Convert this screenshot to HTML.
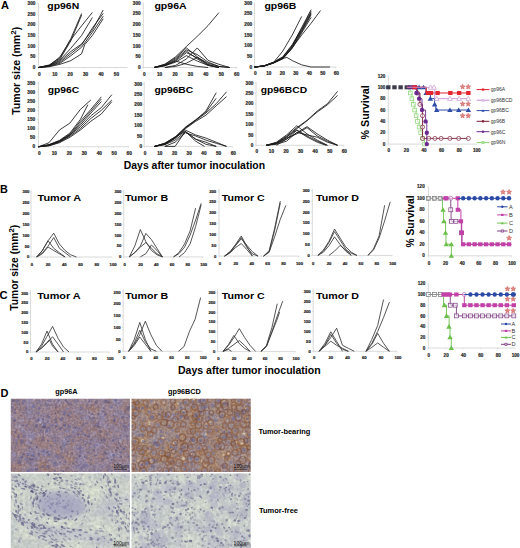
<!DOCTYPE html><html><head><meta charset="utf-8"><style>html,body{margin:0;padding:0;background:#fff;overflow:hidden}svg{display:block}</style></head><body>
<svg width="520" height="548" viewBox="0 0 520 548" font-family='"Liberation Sans", sans-serif'>
<rect width="520" height="548" fill="#fff"/>
<text x="1.00" y="9.10" font-size="11" font-weight="bold" fill="#000">A</text>
<text x="0.00" y="192.90" font-size="10.8" font-weight="bold" fill="#000">B</text>
<text x="-0.50" y="298.70" font-size="11.2" font-weight="bold" fill="#000">C</text>
<text x="0.60" y="396.90" font-size="11" font-weight="bold" fill="#000">D</text>
<text transform="translate(19.5 70.8) rotate(-90)" font-size="10.0" font-weight="bold" text-anchor="middle" textLength="88" lengthAdjust="spacingAndGlyphs">Tumor size (mm<tspan font-size="7.6" dy="-3.6">2</tspan><tspan dy="3.6">)</tspan></text>
<text transform="translate(17.9 267.8) rotate(-90)" font-size="10.0" font-weight="bold" text-anchor="middle" textLength="86" lengthAdjust="spacingAndGlyphs">Tumor size (mm<tspan font-size="7.6" dy="-3.6">2</tspan><tspan dy="3.6">)</tspan></text>
<text x="123.80" y="168.70" font-size="10.4" font-weight="bold" fill="#000" textLength="141.2" lengthAdjust="spacingAndGlyphs">Days after tumor inoculation</text>
<text x="178.00" y="373.90" font-size="10.4" font-weight="bold" fill="#000" textLength="142.6" lengthAdjust="spacingAndGlyphs">Days after tumor inoculation</text>
<path d="M38.50 3.00V67.50H127.50" fill="none" stroke="#d0d0d0" stroke-width="0.8"/>
<path d="M37.30 67.50h1.2M37.30 56.81h1.2M37.30 46.13h1.2M37.30 35.45h1.2M37.30 24.76h1.2M37.30 14.08h1.2M37.30 3.39h1.2M38.50 67.50v1.2M53.90 67.50v1.2M69.30 67.50v1.2M84.70 67.50v1.2M100.10 67.50v1.2M115.50 67.50v1.2" stroke="#d0d0d0" stroke-width="0.6"/>
<text x="35.40" y="69.10" font-size="4.7" font-weight="bold" text-anchor="end" fill="#2a2a2a" stroke="#2a2a2a" stroke-width="0.22">0</text>
<text x="35.40" y="58.41" font-size="4.7" font-weight="bold" text-anchor="end" fill="#2a2a2a" stroke="#2a2a2a" stroke-width="0.22">50</text>
<text x="35.40" y="47.73" font-size="4.7" font-weight="bold" text-anchor="end" fill="#2a2a2a" stroke="#2a2a2a" stroke-width="0.22">100</text>
<text x="35.40" y="37.04" font-size="4.7" font-weight="bold" text-anchor="end" fill="#2a2a2a" stroke="#2a2a2a" stroke-width="0.22">150</text>
<text x="35.40" y="26.36" font-size="4.7" font-weight="bold" text-anchor="end" fill="#2a2a2a" stroke="#2a2a2a" stroke-width="0.22">200</text>
<text x="35.40" y="15.67" font-size="4.7" font-weight="bold" text-anchor="end" fill="#2a2a2a" stroke="#2a2a2a" stroke-width="0.22">250</text>
<text x="35.40" y="4.99" font-size="4.7" font-weight="bold" text-anchor="end" fill="#2a2a2a" stroke="#2a2a2a" stroke-width="0.22">300</text>
<text x="39.40" y="75.60" font-size="4.7" font-weight="bold" text-anchor="middle" fill="#2a2a2a" stroke="#2a2a2a" stroke-width="0.22">0</text>
<text x="54.80" y="75.60" font-size="4.7" font-weight="bold" text-anchor="middle" fill="#2a2a2a" stroke="#2a2a2a" stroke-width="0.22">10</text>
<text x="70.20" y="75.60" font-size="4.7" font-weight="bold" text-anchor="middle" fill="#2a2a2a" stroke="#2a2a2a" stroke-width="0.22">20</text>
<text x="85.60" y="75.60" font-size="4.7" font-weight="bold" text-anchor="middle" fill="#2a2a2a" stroke="#2a2a2a" stroke-width="0.22">30</text>
<text x="101.00" y="75.60" font-size="4.7" font-weight="bold" text-anchor="middle" fill="#2a2a2a" stroke="#2a2a2a" stroke-width="0.22">40</text>
<text x="116.40" y="75.60" font-size="4.7" font-weight="bold" text-anchor="middle" fill="#2a2a2a" stroke="#2a2a2a" stroke-width="0.22">50</text>
<text x="47.30" y="8.80" font-size="9.5" font-weight="bold" fill="#000" textLength="31.9" lengthAdjust="spacingAndGlyphs">gp96N</text>
<polyline points="38.50,67.50 49.28,64.94 60.06,57.88 70.84,38.65 81.62,13.43" fill="none" stroke="#1a1a1a" stroke-width="0.85" stroke-linejoin="round"/>
<polyline points="38.50,67.50 49.28,65.36 60.06,58.95 70.84,40.79 81.62,15.14" fill="none" stroke="#1a1a1a" stroke-width="0.85" stroke-linejoin="round"/>
<polyline points="38.50,67.50 49.28,65.36 60.06,56.81 70.84,39.72 81.62,25.83 92.40,12.37" fill="none" stroke="#1a1a1a" stroke-width="0.85" stroke-linejoin="round"/>
<polyline points="38.50,67.50 49.28,65.79 60.06,60.02 70.84,48.27 81.62,35.45 92.40,17.49" fill="none" stroke="#1a1a1a" stroke-width="0.85" stroke-linejoin="round"/>
<polyline points="38.50,67.50 49.28,65.79 60.06,61.09 70.84,51.47 81.62,43.99 92.40,30.10 103.18,10.01" fill="none" stroke="#1a1a1a" stroke-width="0.85" stroke-linejoin="round"/>
<polyline points="38.50,67.50 49.28,66.22 60.06,62.16 70.84,53.61 81.62,45.06 92.40,27.97 103.18,13.43" fill="none" stroke="#1a1a1a" stroke-width="0.85" stroke-linejoin="round"/>
<polyline points="38.50,67.50 49.28,66.43 60.06,63.23 70.84,55.75 81.62,47.20 92.40,32.24 103.18,16.21" fill="none" stroke="#1a1a1a" stroke-width="0.85" stroke-linejoin="round"/>
<polyline points="38.50,67.50 49.28,66.65 60.06,64.29 70.84,60.66 81.62,53.82 84.70,44.63 92.40,35.45 103.18,18.78" fill="none" stroke="#1a1a1a" stroke-width="0.85" stroke-linejoin="round"/>
<path d="M143.30 3.00V67.50H237.50" fill="none" stroke="#d0d0d0" stroke-width="0.8"/>
<path d="M142.10 67.50h1.2M142.10 56.75h1.2M142.10 46.00h1.2M142.10 35.25h1.2M142.10 24.50h1.2M142.10 13.75h1.2M142.10 3.00h1.2M143.30 67.50v1.2M158.72 67.50v1.2M174.14 67.50v1.2M189.56 67.50v1.2M204.98 67.50v1.2M220.40 67.50v1.2M235.82 67.50v1.2" stroke="#d0d0d0" stroke-width="0.6"/>
<text x="140.70" y="69.10" font-size="4.7" font-weight="bold" text-anchor="end" fill="#2a2a2a" stroke="#2a2a2a" stroke-width="0.22">0</text>
<text x="140.70" y="58.35" font-size="4.7" font-weight="bold" text-anchor="end" fill="#2a2a2a" stroke="#2a2a2a" stroke-width="0.22">50</text>
<text x="140.70" y="47.60" font-size="4.7" font-weight="bold" text-anchor="end" fill="#2a2a2a" stroke="#2a2a2a" stroke-width="0.22">100</text>
<text x="140.70" y="36.85" font-size="4.7" font-weight="bold" text-anchor="end" fill="#2a2a2a" stroke="#2a2a2a" stroke-width="0.22">150</text>
<text x="140.70" y="26.10" font-size="4.7" font-weight="bold" text-anchor="end" fill="#2a2a2a" stroke="#2a2a2a" stroke-width="0.22">200</text>
<text x="140.70" y="15.35" font-size="4.7" font-weight="bold" text-anchor="end" fill="#2a2a2a" stroke="#2a2a2a" stroke-width="0.22">250</text>
<text x="140.70" y="4.60" font-size="4.7" font-weight="bold" text-anchor="end" fill="#2a2a2a" stroke="#2a2a2a" stroke-width="0.22">300</text>
<text x="144.20" y="75.60" font-size="4.7" font-weight="bold" text-anchor="middle" fill="#2a2a2a" stroke="#2a2a2a" stroke-width="0.22">0</text>
<text x="159.62" y="75.60" font-size="4.7" font-weight="bold" text-anchor="middle" fill="#2a2a2a" stroke="#2a2a2a" stroke-width="0.22">10</text>
<text x="175.04" y="75.60" font-size="4.7" font-weight="bold" text-anchor="middle" fill="#2a2a2a" stroke="#2a2a2a" stroke-width="0.22">20</text>
<text x="190.46" y="75.60" font-size="4.7" font-weight="bold" text-anchor="middle" fill="#2a2a2a" stroke="#2a2a2a" stroke-width="0.22">30</text>
<text x="205.88" y="75.60" font-size="4.7" font-weight="bold" text-anchor="middle" fill="#2a2a2a" stroke="#2a2a2a" stroke-width="0.22">40</text>
<text x="221.30" y="75.60" font-size="4.7" font-weight="bold" text-anchor="middle" fill="#2a2a2a" stroke="#2a2a2a" stroke-width="0.22">50</text>
<text x="236.72" y="75.60" font-size="4.7" font-weight="bold" text-anchor="middle" fill="#2a2a2a" stroke="#2a2a2a" stroke-width="0.22">60</text>
<text x="154.40" y="8.80" font-size="9.5" font-weight="bold" fill="#000" textLength="32.3" lengthAdjust="spacingAndGlyphs">gp96A</text>
<polyline points="154.09,67.50 164.89,64.28 175.68,56.75 186.48,46.43 197.27,36.33 208.06,25.58 218.86,12.68" fill="none" stroke="#1a1a1a" stroke-width="0.85" stroke-linejoin="round"/>
<polyline points="154.09,67.50 164.89,64.28 175.68,57.83 186.48,47.94 197.27,56.75 208.06,64.92 218.86,67.50" fill="none" stroke="#1a1a1a" stroke-width="0.85" stroke-linejoin="round"/>
<polyline points="154.09,67.50 164.89,64.92 175.68,58.90 186.48,49.87 197.27,54.60 208.06,62.12 218.86,66.42 229.65,67.50" fill="none" stroke="#1a1a1a" stroke-width="0.85" stroke-linejoin="round"/>
<polyline points="154.09,67.50 164.89,65.35 175.68,59.98 186.48,51.16 197.27,58.90 208.06,65.35 218.86,67.50" fill="none" stroke="#1a1a1a" stroke-width="0.85" stroke-linejoin="round"/>
<polyline points="154.09,67.50 164.89,65.78 175.68,61.05 186.48,52.66 197.27,57.83 208.06,64.28 218.86,67.50" fill="none" stroke="#1a1a1a" stroke-width="0.85" stroke-linejoin="round"/>
<polyline points="164.89,67.50 175.68,65.35 186.48,58.90 197.27,47.94 208.06,60.41 218.86,64.28 229.65,67.50" fill="none" stroke="#1a1a1a" stroke-width="0.85" stroke-linejoin="round"/>
<polyline points="154.09,67.50 164.89,65.35 175.68,61.05 186.48,64.28 197.27,66.42 208.06,67.50" fill="none" stroke="#1a1a1a" stroke-width="0.85" stroke-linejoin="round"/>
<polyline points="164.89,67.50 175.68,66.42 186.48,63.20 197.27,57.39 208.06,63.20 218.86,66.42 229.65,67.50" fill="none" stroke="#1a1a1a" stroke-width="0.85" stroke-linejoin="round"/>
<polyline points="154.09,67.50 164.89,65.78 175.68,62.12 186.48,55.67 197.27,61.05 208.06,65.35 218.86,67.50" fill="none" stroke="#1a1a1a" stroke-width="0.85" stroke-linejoin="round"/>
<path d="M254.50 3.00V67.00H336.50" fill="none" stroke="#d0d0d0" stroke-width="0.8"/>
<path d="M253.30 67.00h1.2M253.30 56.34h1.2M253.30 45.67h1.2M253.30 35.01h1.2M253.30 24.34h1.2M253.30 13.68h1.2M253.30 3.01h1.2M254.50 67.00v1.2M267.98 67.00v1.2M281.46 67.00v1.2M294.94 67.00v1.2M308.42 67.00v1.2M321.90 67.00v1.2M335.38 67.00v1.2" stroke="#d0d0d0" stroke-width="0.6"/>
<text x="252.20" y="68.60" font-size="4.7" font-weight="bold" text-anchor="end" fill="#2a2a2a" stroke="#2a2a2a" stroke-width="0.22">0</text>
<text x="252.20" y="57.93" font-size="4.7" font-weight="bold" text-anchor="end" fill="#2a2a2a" stroke="#2a2a2a" stroke-width="0.22">50</text>
<text x="252.20" y="47.27" font-size="4.7" font-weight="bold" text-anchor="end" fill="#2a2a2a" stroke="#2a2a2a" stroke-width="0.22">100</text>
<text x="252.20" y="36.60" font-size="4.7" font-weight="bold" text-anchor="end" fill="#2a2a2a" stroke="#2a2a2a" stroke-width="0.22">150</text>
<text x="252.20" y="25.94" font-size="4.7" font-weight="bold" text-anchor="end" fill="#2a2a2a" stroke="#2a2a2a" stroke-width="0.22">200</text>
<text x="252.20" y="15.27" font-size="4.7" font-weight="bold" text-anchor="end" fill="#2a2a2a" stroke="#2a2a2a" stroke-width="0.22">250</text>
<text x="252.20" y="4.61" font-size="4.7" font-weight="bold" text-anchor="end" fill="#2a2a2a" stroke="#2a2a2a" stroke-width="0.22">300</text>
<text x="255.40" y="75.10" font-size="4.7" font-weight="bold" text-anchor="middle" fill="#2a2a2a" stroke="#2a2a2a" stroke-width="0.22">0</text>
<text x="268.88" y="75.10" font-size="4.7" font-weight="bold" text-anchor="middle" fill="#2a2a2a" stroke="#2a2a2a" stroke-width="0.22">10</text>
<text x="282.36" y="75.10" font-size="4.7" font-weight="bold" text-anchor="middle" fill="#2a2a2a" stroke="#2a2a2a" stroke-width="0.22">20</text>
<text x="295.84" y="75.10" font-size="4.7" font-weight="bold" text-anchor="middle" fill="#2a2a2a" stroke="#2a2a2a" stroke-width="0.22">30</text>
<text x="309.32" y="75.10" font-size="4.7" font-weight="bold" text-anchor="middle" fill="#2a2a2a" stroke="#2a2a2a" stroke-width="0.22">40</text>
<text x="322.80" y="75.10" font-size="4.7" font-weight="bold" text-anchor="middle" fill="#2a2a2a" stroke="#2a2a2a" stroke-width="0.22">50</text>
<text x="336.28" y="75.10" font-size="4.7" font-weight="bold" text-anchor="middle" fill="#2a2a2a" stroke="#2a2a2a" stroke-width="0.22">60</text>
<text x="264.40" y="8.50" font-size="9.5" font-weight="bold" fill="#000" textLength="32.0" lengthAdjust="spacingAndGlyphs">gp96B</text>
<polyline points="254.50,67.00 263.94,65.93 273.37,62.73 282.81,51.00 292.24,35.01 301.68,16.45" fill="none" stroke="#1a1a1a" stroke-width="0.85" stroke-linejoin="round"/>
<polyline points="254.50,67.00 263.94,65.93 273.37,62.31 282.81,57.40 292.24,45.67 301.68,27.54 311.12,9.62" fill="none" stroke="#1a1a1a" stroke-width="0.85" stroke-linejoin="round"/>
<polyline points="254.50,67.00 263.94,65.93 273.37,62.73 282.81,58.04 292.24,46.74 301.68,29.67 311.12,12.61" fill="none" stroke="#1a1a1a" stroke-width="0.85" stroke-linejoin="round"/>
<polyline points="254.50,67.00 263.94,66.15 273.37,63.16 282.81,58.47 292.24,47.80 301.68,31.81 311.12,14.74" fill="none" stroke="#1a1a1a" stroke-width="0.85" stroke-linejoin="round"/>
<polyline points="254.50,67.00 263.94,65.93 273.37,62.31 282.81,56.76 292.24,44.60 301.68,28.61 311.12,11.12" fill="none" stroke="#1a1a1a" stroke-width="0.85" stroke-linejoin="round"/>
<polyline points="254.50,67.00 263.94,66.15 273.37,63.16 282.81,58.89 292.24,48.23 301.68,32.87 311.12,17.30" fill="none" stroke="#1a1a1a" stroke-width="0.85" stroke-linejoin="round"/>
<polyline points="254.50,67.00 263.94,65.93 273.37,62.73 282.81,57.40 292.24,45.67 301.68,30.74 311.12,13.68" fill="none" stroke="#1a1a1a" stroke-width="0.85" stroke-linejoin="round"/>
<polyline points="254.50,67.00 263.94,65.93 273.37,62.73 282.81,58.47 292.24,47.80 301.68,35.01 311.12,23.27 320.55,10.48" fill="none" stroke="#1a1a1a" stroke-width="0.85" stroke-linejoin="round"/>
<polyline points="254.50,67.00 263.94,65.93 273.37,62.73 282.81,58.47 286.85,57.40 292.24,60.60 301.68,64.87 311.12,67.00 329.99,67.00" fill="none" stroke="#1a1a1a" stroke-width="0.85" stroke-linejoin="round"/>
<path d="M38.50 82.00V146.75H129.00" fill="none" stroke="#d0d0d0" stroke-width="0.8"/>
<path d="M37.30 146.75h1.2M37.30 137.65h1.2M37.30 128.54h1.2M37.30 119.44h1.2M37.30 110.33h1.2M37.30 101.22h1.2M37.30 92.12h1.2M37.30 83.01h1.2M38.50 146.75v1.2M53.46 146.75v1.2M68.42 146.75v1.2M83.38 146.75v1.2M98.34 146.75v1.2M113.30 146.75v1.2M128.26 146.75v1.2" stroke="#d0d0d0" stroke-width="0.6"/>
<text x="35.20" y="148.35" font-size="4.7" font-weight="bold" text-anchor="end" fill="#2a2a2a" stroke="#2a2a2a" stroke-width="0.22">0</text>
<text x="35.20" y="139.24" font-size="4.7" font-weight="bold" text-anchor="end" fill="#2a2a2a" stroke="#2a2a2a" stroke-width="0.22">50</text>
<text x="35.20" y="130.14" font-size="4.7" font-weight="bold" text-anchor="end" fill="#2a2a2a" stroke="#2a2a2a" stroke-width="0.22">100</text>
<text x="35.20" y="121.03" font-size="4.7" font-weight="bold" text-anchor="end" fill="#2a2a2a" stroke="#2a2a2a" stroke-width="0.22">150</text>
<text x="35.20" y="111.93" font-size="4.7" font-weight="bold" text-anchor="end" fill="#2a2a2a" stroke="#2a2a2a" stroke-width="0.22">200</text>
<text x="35.20" y="102.82" font-size="4.7" font-weight="bold" text-anchor="end" fill="#2a2a2a" stroke="#2a2a2a" stroke-width="0.22">250</text>
<text x="35.20" y="93.72" font-size="4.7" font-weight="bold" text-anchor="end" fill="#2a2a2a" stroke="#2a2a2a" stroke-width="0.22">300</text>
<text x="35.20" y="84.61" font-size="4.7" font-weight="bold" text-anchor="end" fill="#2a2a2a" stroke="#2a2a2a" stroke-width="0.22">350</text>
<text x="39.40" y="154.85" font-size="4.7" font-weight="bold" text-anchor="middle" fill="#2a2a2a" stroke="#2a2a2a" stroke-width="0.22">0</text>
<text x="54.36" y="154.85" font-size="4.7" font-weight="bold" text-anchor="middle" fill="#2a2a2a" stroke="#2a2a2a" stroke-width="0.22">10</text>
<text x="69.32" y="154.85" font-size="4.7" font-weight="bold" text-anchor="middle" fill="#2a2a2a" stroke="#2a2a2a" stroke-width="0.22">20</text>
<text x="84.28" y="154.85" font-size="4.7" font-weight="bold" text-anchor="middle" fill="#2a2a2a" stroke="#2a2a2a" stroke-width="0.22">30</text>
<text x="99.24" y="154.85" font-size="4.7" font-weight="bold" text-anchor="middle" fill="#2a2a2a" stroke="#2a2a2a" stroke-width="0.22">40</text>
<text x="114.20" y="154.85" font-size="4.7" font-weight="bold" text-anchor="middle" fill="#2a2a2a" stroke="#2a2a2a" stroke-width="0.22">50</text>
<text x="129.16" y="154.85" font-size="4.7" font-weight="bold" text-anchor="middle" fill="#2a2a2a" stroke="#2a2a2a" stroke-width="0.22">60</text>
<text x="47.70" y="93.00" font-size="9.5" font-weight="bold" fill="#000" textLength="31.5" lengthAdjust="spacingAndGlyphs">gp96C</text>
<polyline points="38.50,146.75 48.97,142.74 59.44,130.00 69.92,123.08 80.39,109.42 90.86,99.95" fill="none" stroke="#1a1a1a" stroke-width="0.85" stroke-linejoin="round"/>
<polyline points="38.50,146.75 48.97,144.56 59.44,140.38 69.92,133.09 80.39,119.44 87.87,104.68" fill="none" stroke="#1a1a1a" stroke-width="0.85" stroke-linejoin="round"/>
<polyline points="38.50,146.75 48.97,144.93 59.44,140.92 69.92,134.00 80.39,121.26 90.86,109.42 101.33,96.85" fill="none" stroke="#1a1a1a" stroke-width="0.85" stroke-linejoin="round"/>
<polyline points="38.50,146.75 48.97,144.93 59.44,141.29 69.92,134.91 80.39,123.08 90.86,111.24 101.33,99.04" fill="none" stroke="#1a1a1a" stroke-width="0.85" stroke-linejoin="round"/>
<polyline points="38.50,146.75 48.97,145.29 59.44,141.65 69.92,135.46 80.39,124.90 90.86,113.06 101.33,101.59" fill="none" stroke="#1a1a1a" stroke-width="0.85" stroke-linejoin="round"/>
<polyline points="38.50,146.75 48.97,145.29 59.44,141.29 69.92,134.91 80.39,126.72 90.86,115.79 101.33,107.60 111.80,94.67" fill="none" stroke="#1a1a1a" stroke-width="0.85" stroke-linejoin="round"/>
<polyline points="38.50,146.75 48.97,145.66 59.44,142.20 69.92,136.19 80.39,128.54 90.86,118.52 101.33,110.33 111.80,99.95" fill="none" stroke="#1a1a1a" stroke-width="0.85" stroke-linejoin="round"/>
<polyline points="38.50,146.75 48.97,145.84 59.44,142.74 69.92,137.28 80.39,130.00 90.86,121.26 101.33,113.97 111.80,101.59" fill="none" stroke="#1a1a1a" stroke-width="0.85" stroke-linejoin="round"/>
<path d="M144.20 82.00V146.40H232.50" fill="none" stroke="#d0d0d0" stroke-width="0.8"/>
<path d="M143.00 146.40h1.2M143.00 135.99h1.2M143.00 125.57h1.2M143.00 115.16h1.2M143.00 104.74h1.2M143.00 94.33h1.2M143.00 83.91h1.2M144.20 146.40v1.2M158.90 146.40v1.2M173.60 146.40v1.2M188.30 146.40v1.2M203.00 146.40v1.2M217.70 146.40v1.2M232.40 146.40v1.2" stroke="#d0d0d0" stroke-width="0.6"/>
<text x="142.20" y="148.00" font-size="4.7" font-weight="bold" text-anchor="end" fill="#2a2a2a" stroke="#2a2a2a" stroke-width="0.22">0</text>
<text x="142.20" y="137.58" font-size="4.7" font-weight="bold" text-anchor="end" fill="#2a2a2a" stroke="#2a2a2a" stroke-width="0.22">50</text>
<text x="142.20" y="127.17" font-size="4.7" font-weight="bold" text-anchor="end" fill="#2a2a2a" stroke="#2a2a2a" stroke-width="0.22">100</text>
<text x="142.20" y="116.75" font-size="4.7" font-weight="bold" text-anchor="end" fill="#2a2a2a" stroke="#2a2a2a" stroke-width="0.22">150</text>
<text x="142.20" y="106.34" font-size="4.7" font-weight="bold" text-anchor="end" fill="#2a2a2a" stroke="#2a2a2a" stroke-width="0.22">200</text>
<text x="142.20" y="95.92" font-size="4.7" font-weight="bold" text-anchor="end" fill="#2a2a2a" stroke="#2a2a2a" stroke-width="0.22">250</text>
<text x="142.20" y="85.51" font-size="4.7" font-weight="bold" text-anchor="end" fill="#2a2a2a" stroke="#2a2a2a" stroke-width="0.22">300</text>
<text x="145.10" y="154.50" font-size="4.7" font-weight="bold" text-anchor="middle" fill="#2a2a2a" stroke="#2a2a2a" stroke-width="0.22">0</text>
<text x="159.80" y="154.50" font-size="4.7" font-weight="bold" text-anchor="middle" fill="#2a2a2a" stroke="#2a2a2a" stroke-width="0.22">10</text>
<text x="174.50" y="154.50" font-size="4.7" font-weight="bold" text-anchor="middle" fill="#2a2a2a" stroke="#2a2a2a" stroke-width="0.22">20</text>
<text x="189.20" y="154.50" font-size="4.7" font-weight="bold" text-anchor="middle" fill="#2a2a2a" stroke="#2a2a2a" stroke-width="0.22">30</text>
<text x="203.90" y="154.50" font-size="4.7" font-weight="bold" text-anchor="middle" fill="#2a2a2a" stroke="#2a2a2a" stroke-width="0.22">40</text>
<text x="218.60" y="154.50" font-size="4.7" font-weight="bold" text-anchor="middle" fill="#2a2a2a" stroke="#2a2a2a" stroke-width="0.22">50</text>
<text x="233.30" y="154.50" font-size="4.7" font-weight="bold" text-anchor="middle" fill="#2a2a2a" stroke="#2a2a2a" stroke-width="0.22">60</text>
<text x="154.40" y="92.60" font-size="9.5" font-weight="bold" fill="#000" textLength="38.8" lengthAdjust="spacingAndGlyphs">gp96BC</text>
<polyline points="154.49,146.40 164.78,143.90 175.07,138.07 185.36,127.65 195.65,120.36 205.94,110.99 216.23,92.66" fill="none" stroke="#1a1a1a" stroke-width="0.85" stroke-linejoin="round"/>
<polyline points="154.49,146.40 164.78,143.28 175.07,137.03 185.36,127.24 195.65,119.74 205.94,112.03 216.23,98.28" fill="none" stroke="#1a1a1a" stroke-width="0.85" stroke-linejoin="round"/>
<polyline points="154.49,146.40 164.78,143.90 175.07,137.65 185.36,128.07 195.65,120.36 205.94,113.07 216.23,103.70 226.52,91.83" fill="none" stroke="#1a1a1a" stroke-width="0.85" stroke-linejoin="round"/>
<polyline points="154.49,146.40 164.78,144.32 175.07,138.48 185.36,128.69 195.65,121.40 205.94,115.16 216.23,105.78 226.52,96.62" fill="none" stroke="#1a1a1a" stroke-width="0.85" stroke-linejoin="round"/>
<polyline points="154.49,146.40 164.78,143.28 175.07,137.03 185.36,131.40 195.65,141.19 204.47,146.40" fill="none" stroke="#1a1a1a" stroke-width="0.85" stroke-linejoin="round"/>
<polyline points="164.78,146.40 175.07,146.40 185.36,131.40 195.65,139.11 205.94,142.23 216.23,146.40" fill="none" stroke="#1a1a1a" stroke-width="0.85" stroke-linejoin="round"/>
<polyline points="154.49,146.40 164.78,144.32 175.07,138.07 185.36,130.15 195.65,134.94 205.94,138.07 216.23,142.23 226.52,146.40" fill="none" stroke="#1a1a1a" stroke-width="0.85" stroke-linejoin="round"/>
<polyline points="154.49,146.40 164.78,144.73 175.07,140.15 185.36,131.82 195.65,139.11 205.94,144.32 216.23,146.40" fill="none" stroke="#1a1a1a" stroke-width="0.85" stroke-linejoin="round"/>
<polyline points="164.78,146.40 175.07,142.23 185.36,132.86 195.65,135.99 205.94,140.15 216.23,143.28 226.52,146.40" fill="none" stroke="#1a1a1a" stroke-width="0.85" stroke-linejoin="round"/>
<path d="M256.00 82.00V145.30H344.50" fill="none" stroke="#d0d0d0" stroke-width="0.8"/>
<path d="M254.80 145.30h1.2M254.80 134.92h1.2M254.80 124.53h1.2M254.80 114.15h1.2M254.80 103.76h1.2M254.80 93.38h1.2M254.80 82.99h1.2M256.00 145.30v1.2M270.57 145.30v1.2M285.14 145.30v1.2M299.71 145.30v1.2M314.28 145.30v1.2M328.85 145.30v1.2M343.42 145.30v1.2" stroke="#d0d0d0" stroke-width="0.6"/>
<text x="253.40" y="146.90" font-size="4.7" font-weight="bold" text-anchor="end" fill="#2a2a2a" stroke="#2a2a2a" stroke-width="0.22">0</text>
<text x="253.40" y="136.51" font-size="4.7" font-weight="bold" text-anchor="end" fill="#2a2a2a" stroke="#2a2a2a" stroke-width="0.22">50</text>
<text x="253.40" y="126.13" font-size="4.7" font-weight="bold" text-anchor="end" fill="#2a2a2a" stroke="#2a2a2a" stroke-width="0.22">100</text>
<text x="253.40" y="115.74" font-size="4.7" font-weight="bold" text-anchor="end" fill="#2a2a2a" stroke="#2a2a2a" stroke-width="0.22">150</text>
<text x="253.40" y="105.36" font-size="4.7" font-weight="bold" text-anchor="end" fill="#2a2a2a" stroke="#2a2a2a" stroke-width="0.22">200</text>
<text x="253.40" y="94.97" font-size="4.7" font-weight="bold" text-anchor="end" fill="#2a2a2a" stroke="#2a2a2a" stroke-width="0.22">250</text>
<text x="253.40" y="84.59" font-size="4.7" font-weight="bold" text-anchor="end" fill="#2a2a2a" stroke="#2a2a2a" stroke-width="0.22">300</text>
<text x="256.90" y="153.40" font-size="4.7" font-weight="bold" text-anchor="middle" fill="#2a2a2a" stroke="#2a2a2a" stroke-width="0.22">0</text>
<text x="271.47" y="153.40" font-size="4.7" font-weight="bold" text-anchor="middle" fill="#2a2a2a" stroke="#2a2a2a" stroke-width="0.22">10</text>
<text x="286.04" y="153.40" font-size="4.7" font-weight="bold" text-anchor="middle" fill="#2a2a2a" stroke="#2a2a2a" stroke-width="0.22">20</text>
<text x="300.61" y="153.40" font-size="4.7" font-weight="bold" text-anchor="middle" fill="#2a2a2a" stroke="#2a2a2a" stroke-width="0.22">30</text>
<text x="315.18" y="153.40" font-size="4.7" font-weight="bold" text-anchor="middle" fill="#2a2a2a" stroke="#2a2a2a" stroke-width="0.22">40</text>
<text x="329.75" y="153.40" font-size="4.7" font-weight="bold" text-anchor="middle" fill="#2a2a2a" stroke="#2a2a2a" stroke-width="0.22">50</text>
<text x="344.32" y="153.40" font-size="4.7" font-weight="bold" text-anchor="middle" fill="#2a2a2a" stroke="#2a2a2a" stroke-width="0.22">60</text>
<text x="260.80" y="93.00" font-size="9.5" font-weight="bold" fill="#000" textLength="46.3" lengthAdjust="spacingAndGlyphs">gp96BCD</text>
<polyline points="266.20,145.30 276.40,142.81 286.60,135.95 296.80,127.65 307.00,120.38 317.19,111.03 327.39,103.76 337.59,91.30" fill="none" stroke="#1a1a1a" stroke-width="0.85" stroke-linejoin="round"/>
<polyline points="266.20,145.30 276.40,143.22 286.60,136.99 296.80,128.68 307.00,120.79 317.19,112.07 327.39,104.80 337.59,95.45" fill="none" stroke="#1a1a1a" stroke-width="0.85" stroke-linejoin="round"/>
<polyline points="266.20,145.30 276.40,142.18 286.60,134.92 296.80,125.78 307.00,133.88 317.19,140.11 327.39,145.30" fill="none" stroke="#1a1a1a" stroke-width="0.85" stroke-linejoin="round"/>
<polyline points="266.20,145.30 276.40,143.22 286.60,136.99 296.80,129.93 307.00,135.95 317.19,141.15 327.39,145.30" fill="none" stroke="#1a1a1a" stroke-width="0.85" stroke-linejoin="round"/>
<polyline points="266.20,145.30 276.40,143.64 286.60,139.07 296.80,132.84 307.00,126.61 317.19,133.88 327.39,140.11 337.59,145.30" fill="none" stroke="#1a1a1a" stroke-width="0.85" stroke-linejoin="round"/>
<polyline points="266.20,145.30 276.40,143.64 286.60,138.03 296.80,133.88 307.00,127.65 317.19,135.95 327.39,141.15 337.59,145.30" fill="none" stroke="#1a1a1a" stroke-width="0.85" stroke-linejoin="round"/>
<polyline points="276.40,145.30 286.60,139.07 296.80,130.35 307.00,136.99 317.19,142.18 325.94,145.30" fill="none" stroke="#1a1a1a" stroke-width="0.85" stroke-linejoin="round"/>
<polyline points="266.20,145.30 276.40,144.26 286.60,141.15 296.80,132.42 307.00,134.92 317.19,137.20 327.39,142.18 337.59,145.30" fill="none" stroke="#1a1a1a" stroke-width="0.85" stroke-linejoin="round"/>
<path d="M31.00 190.00V257.00H112.00" fill="none" stroke="#d0d0d0" stroke-width="0.8"/>
<path d="M29.80 257.00h1.2M29.80 246.16h1.2M29.80 235.33h1.2M29.80 224.50h1.2M29.80 213.66h1.2M29.80 202.82h1.2M29.80 191.99h1.2M31.00 257.00v1.2M47.23 257.00v1.2M63.46 257.00v1.2M79.69 257.00v1.2M95.92 257.00v1.2M112.15 257.00v1.2" stroke="#d0d0d0" stroke-width="0.6"/>
<text x="29.30" y="258.41" font-size="4.15" font-weight="bold" text-anchor="end" fill="#2a2a2a" stroke="#2a2a2a" stroke-width="0.22">0</text>
<text x="29.30" y="247.58" font-size="4.15" font-weight="bold" text-anchor="end" fill="#2a2a2a" stroke="#2a2a2a" stroke-width="0.22">50</text>
<text x="29.30" y="236.74" font-size="4.15" font-weight="bold" text-anchor="end" fill="#2a2a2a" stroke="#2a2a2a" stroke-width="0.22">100</text>
<text x="29.30" y="225.91" font-size="4.15" font-weight="bold" text-anchor="end" fill="#2a2a2a" stroke="#2a2a2a" stroke-width="0.22">150</text>
<text x="29.30" y="215.07" font-size="4.15" font-weight="bold" text-anchor="end" fill="#2a2a2a" stroke="#2a2a2a" stroke-width="0.22">200</text>
<text x="29.30" y="204.24" font-size="4.15" font-weight="bold" text-anchor="end" fill="#2a2a2a" stroke="#2a2a2a" stroke-width="0.22">250</text>
<text x="29.30" y="193.40" font-size="4.15" font-weight="bold" text-anchor="end" fill="#2a2a2a" stroke="#2a2a2a" stroke-width="0.22">300</text>
<text x="31.90" y="266.10" font-size="4.15" font-weight="bold" text-anchor="middle" fill="#2a2a2a" stroke="#2a2a2a" stroke-width="0.22">0</text>
<text x="48.13" y="266.10" font-size="4.15" font-weight="bold" text-anchor="middle" fill="#2a2a2a" stroke="#2a2a2a" stroke-width="0.22">20</text>
<text x="64.36" y="266.10" font-size="4.15" font-weight="bold" text-anchor="middle" fill="#2a2a2a" stroke="#2a2a2a" stroke-width="0.22">40</text>
<text x="80.59" y="266.10" font-size="4.15" font-weight="bold" text-anchor="middle" fill="#2a2a2a" stroke="#2a2a2a" stroke-width="0.22">60</text>
<text x="96.82" y="266.10" font-size="4.15" font-weight="bold" text-anchor="middle" fill="#2a2a2a" stroke="#2a2a2a" stroke-width="0.22">80</text>
<text x="113.05" y="266.10" font-size="4.15" font-weight="bold" text-anchor="middle" fill="#2a2a2a" stroke="#2a2a2a" stroke-width="0.22">100</text>
<text x="37.60" y="201.40" font-size="9.2" font-weight="bold" fill="#000" textLength="43.5" lengthAdjust="spacingAndGlyphs">Tumor A</text>
<polyline points="36.68,257.00 42.36,250.50 48.04,240.75 53.72,233.16 59.40,244.00 65.08,250.50 70.76,254.83 76.44,257.00" fill="none" stroke="#383838" stroke-width="0.85" stroke-linejoin="round"/>
<polyline points="36.68,257.00 42.36,252.67 48.04,246.16 53.72,237.50 59.40,248.33 65.08,252.67 70.76,257.00" fill="none" stroke="#383838" stroke-width="0.85" stroke-linejoin="round"/>
<polyline points="36.68,257.00 42.36,250.50 48.04,240.75 53.72,248.33 59.40,252.67 65.08,257.00" fill="none" stroke="#383838" stroke-width="0.85" stroke-linejoin="round"/>
<polyline points="36.68,257.00 42.36,253.75 48.04,247.03 53.72,250.50 59.40,253.75 65.08,257.00" fill="none" stroke="#383838" stroke-width="0.85" stroke-linejoin="round"/>
<path d="M123.75 190.00V256.90H203.50" fill="none" stroke="#d0d0d0" stroke-width="0.8"/>
<path d="M122.55 256.90h1.2M122.55 246.05h1.2M122.55 235.20h1.2M122.55 224.35h1.2M122.55 213.50h1.2M122.55 202.65h1.2M122.55 191.80h1.2M123.75 256.90v1.2M139.55 256.90v1.2M155.35 256.90v1.2M171.15 256.90v1.2M186.95 256.90v1.2M202.75 256.90v1.2" stroke="#d0d0d0" stroke-width="0.6"/>
<text x="121.40" y="258.31" font-size="4.15" font-weight="bold" text-anchor="end" fill="#2a2a2a" stroke="#2a2a2a" stroke-width="0.22">0</text>
<text x="121.40" y="247.46" font-size="4.15" font-weight="bold" text-anchor="end" fill="#2a2a2a" stroke="#2a2a2a" stroke-width="0.22">50</text>
<text x="121.40" y="236.61" font-size="4.15" font-weight="bold" text-anchor="end" fill="#2a2a2a" stroke="#2a2a2a" stroke-width="0.22">100</text>
<text x="121.40" y="225.76" font-size="4.15" font-weight="bold" text-anchor="end" fill="#2a2a2a" stroke="#2a2a2a" stroke-width="0.22">150</text>
<text x="121.40" y="214.91" font-size="4.15" font-weight="bold" text-anchor="end" fill="#2a2a2a" stroke="#2a2a2a" stroke-width="0.22">200</text>
<text x="121.40" y="204.06" font-size="4.15" font-weight="bold" text-anchor="end" fill="#2a2a2a" stroke="#2a2a2a" stroke-width="0.22">250</text>
<text x="121.40" y="193.21" font-size="4.15" font-weight="bold" text-anchor="end" fill="#2a2a2a" stroke="#2a2a2a" stroke-width="0.22">300</text>
<text x="124.65" y="266.00" font-size="4.15" font-weight="bold" text-anchor="middle" fill="#2a2a2a" stroke="#2a2a2a" stroke-width="0.22">0</text>
<text x="140.45" y="266.00" font-size="4.15" font-weight="bold" text-anchor="middle" fill="#2a2a2a" stroke="#2a2a2a" stroke-width="0.22">20</text>
<text x="156.25" y="266.00" font-size="4.15" font-weight="bold" text-anchor="middle" fill="#2a2a2a" stroke="#2a2a2a" stroke-width="0.22">40</text>
<text x="172.05" y="266.00" font-size="4.15" font-weight="bold" text-anchor="middle" fill="#2a2a2a" stroke="#2a2a2a" stroke-width="0.22">60</text>
<text x="187.85" y="266.00" font-size="4.15" font-weight="bold" text-anchor="middle" fill="#2a2a2a" stroke="#2a2a2a" stroke-width="0.22">80</text>
<text x="203.65" y="266.00" font-size="4.15" font-weight="bold" text-anchor="middle" fill="#2a2a2a" stroke="#2a2a2a" stroke-width="0.22">100</text>
<text x="125.10" y="200.70" font-size="9.2" font-weight="bold" fill="#000" textLength="43.0" lengthAdjust="spacingAndGlyphs">Tumor B</text>
<polyline points="129.28,256.90 134.81,246.05 140.34,229.56 145.87,241.71 151.40,250.39 156.93,254.73 162.46,256.90" fill="none" stroke="#383838" stroke-width="0.85" stroke-linejoin="round"/>
<polyline points="129.28,256.90 134.81,252.56 140.34,246.05 145.87,233.46 151.40,239.54 156.93,248.22 162.46,256.90" fill="none" stroke="#383838" stroke-width="0.85" stroke-linejoin="round"/>
<polyline points="129.28,256.90 134.81,252.56 140.34,247.13 145.87,242.58 151.40,248.22 156.93,253.64 162.46,256.90" fill="none" stroke="#383838" stroke-width="0.85" stroke-linejoin="round"/>
<polyline points="140.34,256.90 145.87,253.64 151.40,244.96 156.93,250.39 162.46,256.90" fill="none" stroke="#383838" stroke-width="0.85" stroke-linejoin="round"/>
<polyline points="173.52,256.90 179.05,252.56 184.58,243.88 190.11,230.86 195.64,208.07" fill="none" stroke="#383838" stroke-width="0.85" stroke-linejoin="round"/>
<polyline points="173.52,256.90 179.05,253.64 184.58,247.13 190.11,235.20 195.64,220.01 201.17,203.30" fill="none" stroke="#383838" stroke-width="0.85" stroke-linejoin="round"/>
<polyline points="179.05,256.90 184.58,252.56 190.11,243.88 195.64,226.52 201.17,204.82" fill="none" stroke="#383838" stroke-width="0.85" stroke-linejoin="round"/>
<path d="M219.00 189.00V256.10H299.50" fill="none" stroke="#d0d0d0" stroke-width="0.8"/>
<path d="M217.80 256.10h1.2M217.80 245.27h1.2M217.80 234.43h1.2M217.80 223.60h1.2M217.80 212.76h1.2M217.80 201.93h1.2M217.80 191.09h1.2M219.00 256.10v1.2M234.92 256.10v1.2M250.84 256.10v1.2M266.76 256.10v1.2M282.68 256.10v1.2M298.60 256.10v1.2" stroke="#d0d0d0" stroke-width="0.6"/>
<text x="216.20" y="257.51" font-size="4.15" font-weight="bold" text-anchor="end" fill="#2a2a2a" stroke="#2a2a2a" stroke-width="0.22">0</text>
<text x="216.20" y="246.68" font-size="4.15" font-weight="bold" text-anchor="end" fill="#2a2a2a" stroke="#2a2a2a" stroke-width="0.22">50</text>
<text x="216.20" y="235.84" font-size="4.15" font-weight="bold" text-anchor="end" fill="#2a2a2a" stroke="#2a2a2a" stroke-width="0.22">100</text>
<text x="216.20" y="225.01" font-size="4.15" font-weight="bold" text-anchor="end" fill="#2a2a2a" stroke="#2a2a2a" stroke-width="0.22">150</text>
<text x="216.20" y="214.17" font-size="4.15" font-weight="bold" text-anchor="end" fill="#2a2a2a" stroke="#2a2a2a" stroke-width="0.22">200</text>
<text x="216.20" y="203.34" font-size="4.15" font-weight="bold" text-anchor="end" fill="#2a2a2a" stroke="#2a2a2a" stroke-width="0.22">250</text>
<text x="216.20" y="192.50" font-size="4.15" font-weight="bold" text-anchor="end" fill="#2a2a2a" stroke="#2a2a2a" stroke-width="0.22">300</text>
<text x="219.90" y="265.20" font-size="4.15" font-weight="bold" text-anchor="middle" fill="#2a2a2a" stroke="#2a2a2a" stroke-width="0.22">0</text>
<text x="235.82" y="265.20" font-size="4.15" font-weight="bold" text-anchor="middle" fill="#2a2a2a" stroke="#2a2a2a" stroke-width="0.22">20</text>
<text x="251.74" y="265.20" font-size="4.15" font-weight="bold" text-anchor="middle" fill="#2a2a2a" stroke="#2a2a2a" stroke-width="0.22">40</text>
<text x="267.66" y="265.20" font-size="4.15" font-weight="bold" text-anchor="middle" fill="#2a2a2a" stroke="#2a2a2a" stroke-width="0.22">60</text>
<text x="283.58" y="265.20" font-size="4.15" font-weight="bold" text-anchor="middle" fill="#2a2a2a" stroke="#2a2a2a" stroke-width="0.22">80</text>
<text x="299.50" y="265.20" font-size="4.15" font-weight="bold" text-anchor="middle" fill="#2a2a2a" stroke="#2a2a2a" stroke-width="0.22">100</text>
<text x="221.80" y="201.20" font-size="9.2" font-weight="bold" fill="#000" textLength="43.0" lengthAdjust="spacingAndGlyphs">Tumor C</text>
<polyline points="224.57,256.10 230.14,251.77 235.72,244.18 241.29,235.95 246.86,246.35 252.43,256.10" fill="none" stroke="#383838" stroke-width="0.85" stroke-linejoin="round"/>
<polyline points="224.57,256.10 230.14,252.20 235.72,245.27 241.29,237.68 246.86,247.43 252.43,253.93 258.00,256.10" fill="none" stroke="#383838" stroke-width="0.85" stroke-linejoin="round"/>
<polyline points="224.57,256.10 230.14,252.85 235.72,247.43 241.29,243.53 246.86,249.60 252.43,256.10" fill="none" stroke="#383838" stroke-width="0.85" stroke-linejoin="round"/>
<polyline points="224.57,256.10 230.14,251.77 235.72,245.27 241.29,238.76 246.86,245.27 252.43,251.77 258.00,256.10" fill="none" stroke="#383838" stroke-width="0.85" stroke-linejoin="round"/>
<polyline points="263.58,256.10 269.15,250.68 274.72,227.93 280.29,201.06" fill="none" stroke="#383838" stroke-width="0.85" stroke-linejoin="round"/>
<polyline points="263.58,256.10 269.15,251.77 274.72,230.10 280.29,203.01" fill="none" stroke="#383838" stroke-width="0.85" stroke-linejoin="round"/>
<polyline points="263.58,256.10 269.15,252.20 274.72,236.60 280.29,219.26 285.86,205.39" fill="none" stroke="#383838" stroke-width="0.85" stroke-linejoin="round"/>
<path d="M312.30 189.00V255.40H392.50" fill="none" stroke="#d0d0d0" stroke-width="0.8"/>
<path d="M311.10 255.40h1.2M311.10 244.60h1.2M311.10 233.80h1.2M311.10 223.00h1.2M311.10 212.20h1.2M311.10 201.40h1.2M311.10 190.60h1.2M312.30 255.40v1.2M328.20 255.40v1.2M344.10 255.40v1.2M360.00 255.40v1.2M375.90 255.40v1.2M391.80 255.40v1.2" stroke="#d0d0d0" stroke-width="0.6"/>
<text x="309.70" y="256.81" font-size="4.15" font-weight="bold" text-anchor="end" fill="#2a2a2a" stroke="#2a2a2a" stroke-width="0.22">0</text>
<text x="309.70" y="246.01" font-size="4.15" font-weight="bold" text-anchor="end" fill="#2a2a2a" stroke="#2a2a2a" stroke-width="0.22">50</text>
<text x="309.70" y="235.21" font-size="4.15" font-weight="bold" text-anchor="end" fill="#2a2a2a" stroke="#2a2a2a" stroke-width="0.22">100</text>
<text x="309.70" y="224.41" font-size="4.15" font-weight="bold" text-anchor="end" fill="#2a2a2a" stroke="#2a2a2a" stroke-width="0.22">150</text>
<text x="309.70" y="213.61" font-size="4.15" font-weight="bold" text-anchor="end" fill="#2a2a2a" stroke="#2a2a2a" stroke-width="0.22">200</text>
<text x="309.70" y="202.81" font-size="4.15" font-weight="bold" text-anchor="end" fill="#2a2a2a" stroke="#2a2a2a" stroke-width="0.22">250</text>
<text x="309.70" y="192.01" font-size="4.15" font-weight="bold" text-anchor="end" fill="#2a2a2a" stroke="#2a2a2a" stroke-width="0.22">300</text>
<text x="313.20" y="264.50" font-size="4.15" font-weight="bold" text-anchor="middle" fill="#2a2a2a" stroke="#2a2a2a" stroke-width="0.22">0</text>
<text x="329.10" y="264.50" font-size="4.15" font-weight="bold" text-anchor="middle" fill="#2a2a2a" stroke="#2a2a2a" stroke-width="0.22">20</text>
<text x="345.00" y="264.50" font-size="4.15" font-weight="bold" text-anchor="middle" fill="#2a2a2a" stroke="#2a2a2a" stroke-width="0.22">40</text>
<text x="360.90" y="264.50" font-size="4.15" font-weight="bold" text-anchor="middle" fill="#2a2a2a" stroke="#2a2a2a" stroke-width="0.22">60</text>
<text x="376.80" y="264.50" font-size="4.15" font-weight="bold" text-anchor="middle" fill="#2a2a2a" stroke="#2a2a2a" stroke-width="0.22">80</text>
<text x="392.70" y="264.50" font-size="4.15" font-weight="bold" text-anchor="middle" fill="#2a2a2a" stroke="#2a2a2a" stroke-width="0.22">100</text>
<text x="316.00" y="201.20" font-size="9.2" font-weight="bold" fill="#000" textLength="43.0" lengthAdjust="spacingAndGlyphs">Tumor D</text>
<polyline points="317.87,255.40 323.43,250.00 329.00,241.36 334.56,229.05 340.12,238.12 345.69,246.76 351.25,252.16 356.82,255.40" fill="none" stroke="#383838" stroke-width="0.85" stroke-linejoin="round"/>
<polyline points="317.87,255.40 323.43,251.08 329.00,242.44 334.56,231.64 340.12,240.28 345.69,248.92 351.25,255.40" fill="none" stroke="#383838" stroke-width="0.85" stroke-linejoin="round"/>
<polyline points="317.87,255.40 323.43,252.16 329.00,245.68 334.56,236.82 340.12,244.60 345.69,251.08 351.25,255.40" fill="none" stroke="#383838" stroke-width="0.85" stroke-linejoin="round"/>
<polyline points="329.00,255.40 334.56,251.08 340.12,245.46 345.69,250.00 351.25,253.24 356.82,255.40" fill="none" stroke="#383838" stroke-width="0.85" stroke-linejoin="round"/>
<polyline points="367.95,255.40 373.51,248.92 379.08,235.96 384.64,205.29" fill="none" stroke="#383838" stroke-width="0.85" stroke-linejoin="round"/>
<polyline points="367.95,255.40 373.51,250.00 379.08,238.12 384.64,220.84 390.21,201.83" fill="none" stroke="#383838" stroke-width="0.85" stroke-linejoin="round"/>
<path d="M30.50 290.00V352.00H109.50" fill="none" stroke="#d0d0d0" stroke-width="0.8"/>
<path d="M29.30 352.00h1.2M29.30 342.21h1.2M29.30 332.42h1.2M29.30 322.63h1.2M29.30 312.84h1.2M29.30 303.05h1.2M29.30 293.26h1.2M30.50 352.00v1.2M46.25 352.00v1.2M62.00 352.00v1.2M77.75 352.00v1.2M93.50 352.00v1.2M109.25 352.00v1.2" stroke="#d0d0d0" stroke-width="0.6"/>
<text x="28.20" y="353.41" font-size="4.15" font-weight="bold" text-anchor="end" fill="#2a2a2a" stroke="#2a2a2a" stroke-width="0.22">0</text>
<text x="28.20" y="343.62" font-size="4.15" font-weight="bold" text-anchor="end" fill="#2a2a2a" stroke="#2a2a2a" stroke-width="0.22">50</text>
<text x="28.20" y="333.83" font-size="4.15" font-weight="bold" text-anchor="end" fill="#2a2a2a" stroke="#2a2a2a" stroke-width="0.22">100</text>
<text x="28.20" y="324.04" font-size="4.15" font-weight="bold" text-anchor="end" fill="#2a2a2a" stroke="#2a2a2a" stroke-width="0.22">150</text>
<text x="28.20" y="314.25" font-size="4.15" font-weight="bold" text-anchor="end" fill="#2a2a2a" stroke="#2a2a2a" stroke-width="0.22">200</text>
<text x="28.20" y="304.46" font-size="4.15" font-weight="bold" text-anchor="end" fill="#2a2a2a" stroke="#2a2a2a" stroke-width="0.22">250</text>
<text x="28.20" y="294.67" font-size="4.15" font-weight="bold" text-anchor="end" fill="#2a2a2a" stroke="#2a2a2a" stroke-width="0.22">300</text>
<text x="31.40" y="360.10" font-size="4.15" font-weight="bold" text-anchor="middle" fill="#2a2a2a" stroke="#2a2a2a" stroke-width="0.22">0</text>
<text x="47.15" y="360.10" font-size="4.15" font-weight="bold" text-anchor="middle" fill="#2a2a2a" stroke="#2a2a2a" stroke-width="0.22">20</text>
<text x="62.90" y="360.10" font-size="4.15" font-weight="bold" text-anchor="middle" fill="#2a2a2a" stroke="#2a2a2a" stroke-width="0.22">40</text>
<text x="78.65" y="360.10" font-size="4.15" font-weight="bold" text-anchor="middle" fill="#2a2a2a" stroke="#2a2a2a" stroke-width="0.22">60</text>
<text x="94.40" y="360.10" font-size="4.15" font-weight="bold" text-anchor="middle" fill="#2a2a2a" stroke="#2a2a2a" stroke-width="0.22">80</text>
<text x="110.15" y="360.10" font-size="4.15" font-weight="bold" text-anchor="middle" fill="#2a2a2a" stroke="#2a2a2a" stroke-width="0.22">100</text>
<text x="37.20" y="298.60" font-size="9.2" font-weight="bold" fill="#000" textLength="43.5" lengthAdjust="spacingAndGlyphs">Tumor A</text>
<polyline points="36.01,352.00 41.52,346.13 47.04,336.34 52.55,326.35 58.06,338.29 63.57,347.11 69.09,352.00" fill="none" stroke="#383838" stroke-width="0.85" stroke-linejoin="round"/>
<polyline points="36.01,352.00 41.52,344.17 47.04,331.05 52.55,344.17 58.06,352.00" fill="none" stroke="#383838" stroke-width="0.85" stroke-linejoin="round"/>
<polyline points="36.01,352.00 41.52,348.08 47.04,343.19 52.55,336.73 58.06,344.17 63.57,352.00" fill="none" stroke="#383838" stroke-width="0.85" stroke-linejoin="round"/>
<polyline points="36.01,352.00 41.52,348.08 47.04,342.21 49.40,339.86 52.55,346.13 58.06,352.00" fill="none" stroke="#383838" stroke-width="0.85" stroke-linejoin="round"/>
<path d="M123.20 289.00V351.30H202.50" fill="none" stroke="#d0d0d0" stroke-width="0.8"/>
<path d="M122.00 351.30h1.2M122.00 339.46h1.2M122.00 327.62h1.2M122.00 315.78h1.2M122.00 303.94h1.2M122.00 292.10h1.2M123.20 351.30v1.2M139.00 351.30v1.2M154.80 351.30v1.2M170.60 351.30v1.2M186.40 351.30v1.2M202.20 351.30v1.2" stroke="#d0d0d0" stroke-width="0.6"/>
<text x="120.50" y="352.71" font-size="4.15" font-weight="bold" text-anchor="end" fill="#2a2a2a" stroke="#2a2a2a" stroke-width="0.22">0</text>
<text x="120.50" y="340.87" font-size="4.15" font-weight="bold" text-anchor="end" fill="#2a2a2a" stroke="#2a2a2a" stroke-width="0.22">50</text>
<text x="120.50" y="329.03" font-size="4.15" font-weight="bold" text-anchor="end" fill="#2a2a2a" stroke="#2a2a2a" stroke-width="0.22">100</text>
<text x="120.50" y="317.19" font-size="4.15" font-weight="bold" text-anchor="end" fill="#2a2a2a" stroke="#2a2a2a" stroke-width="0.22">150</text>
<text x="120.50" y="305.35" font-size="4.15" font-weight="bold" text-anchor="end" fill="#2a2a2a" stroke="#2a2a2a" stroke-width="0.22">200</text>
<text x="120.50" y="293.51" font-size="4.15" font-weight="bold" text-anchor="end" fill="#2a2a2a" stroke="#2a2a2a" stroke-width="0.22">250</text>
<text x="124.10" y="359.40" font-size="4.15" font-weight="bold" text-anchor="middle" fill="#2a2a2a" stroke="#2a2a2a" stroke-width="0.22">0</text>
<text x="139.90" y="359.40" font-size="4.15" font-weight="bold" text-anchor="middle" fill="#2a2a2a" stroke="#2a2a2a" stroke-width="0.22">20</text>
<text x="155.70" y="359.40" font-size="4.15" font-weight="bold" text-anchor="middle" fill="#2a2a2a" stroke="#2a2a2a" stroke-width="0.22">40</text>
<text x="171.50" y="359.40" font-size="4.15" font-weight="bold" text-anchor="middle" fill="#2a2a2a" stroke="#2a2a2a" stroke-width="0.22">60</text>
<text x="187.30" y="359.40" font-size="4.15" font-weight="bold" text-anchor="middle" fill="#2a2a2a" stroke="#2a2a2a" stroke-width="0.22">80</text>
<text x="203.10" y="359.40" font-size="4.15" font-weight="bold" text-anchor="middle" fill="#2a2a2a" stroke="#2a2a2a" stroke-width="0.22">100</text>
<text x="125.30" y="299.00" font-size="9.2" font-weight="bold" fill="#000" textLength="43.0" lengthAdjust="spacingAndGlyphs">Tumor B</text>
<polyline points="128.73,351.30 134.26,339.46 139.79,322.41 145.32,339.46 150.85,351.30" fill="none" stroke="#383838" stroke-width="0.85" stroke-linejoin="round"/>
<polyline points="128.73,351.30 134.26,344.20 139.79,334.72 145.32,321.23 150.85,334.72 156.38,345.38 161.91,351.30" fill="none" stroke="#383838" stroke-width="0.85" stroke-linejoin="round"/>
<polyline points="128.73,351.30 134.26,343.01 139.79,330.22 145.32,341.83 150.85,348.93 156.38,351.30" fill="none" stroke="#383838" stroke-width="0.85" stroke-linejoin="round"/>
<polyline points="128.73,351.30 134.26,345.38 139.79,337.09 145.32,344.20 150.85,351.30" fill="none" stroke="#383838" stroke-width="0.85" stroke-linejoin="round"/>
<polyline points="178.50,351.30 184.03,346.56 189.56,331.17 195.09,319.33 200.62,297.55" fill="none" stroke="#383838" stroke-width="0.85" stroke-linejoin="round"/>
<path d="M217.60 289.00V351.40H295.50" fill="none" stroke="#d0d0d0" stroke-width="0.8"/>
<path d="M216.40 351.40h1.2M216.40 341.58h1.2M216.40 331.77h1.2M216.40 321.95h1.2M216.40 312.14h1.2M216.40 302.32h1.2M216.40 292.51h1.2M217.60 351.40v1.2M233.10 351.40v1.2M248.60 351.40v1.2M264.10 351.40v1.2M279.60 351.40v1.2M295.10 351.40v1.2" stroke="#d0d0d0" stroke-width="0.6"/>
<text x="215.40" y="352.81" font-size="4.15" font-weight="bold" text-anchor="end" fill="#2a2a2a" stroke="#2a2a2a" stroke-width="0.22">0</text>
<text x="215.40" y="343.00" font-size="4.15" font-weight="bold" text-anchor="end" fill="#2a2a2a" stroke="#2a2a2a" stroke-width="0.22">50</text>
<text x="215.40" y="333.18" font-size="4.15" font-weight="bold" text-anchor="end" fill="#2a2a2a" stroke="#2a2a2a" stroke-width="0.22">100</text>
<text x="215.40" y="323.37" font-size="4.15" font-weight="bold" text-anchor="end" fill="#2a2a2a" stroke="#2a2a2a" stroke-width="0.22">150</text>
<text x="215.40" y="313.55" font-size="4.15" font-weight="bold" text-anchor="end" fill="#2a2a2a" stroke="#2a2a2a" stroke-width="0.22">200</text>
<text x="215.40" y="303.74" font-size="4.15" font-weight="bold" text-anchor="end" fill="#2a2a2a" stroke="#2a2a2a" stroke-width="0.22">250</text>
<text x="215.40" y="293.92" font-size="4.15" font-weight="bold" text-anchor="end" fill="#2a2a2a" stroke="#2a2a2a" stroke-width="0.22">300</text>
<text x="218.50" y="359.50" font-size="4.15" font-weight="bold" text-anchor="middle" fill="#2a2a2a" stroke="#2a2a2a" stroke-width="0.22">0</text>
<text x="234.00" y="359.50" font-size="4.15" font-weight="bold" text-anchor="middle" fill="#2a2a2a" stroke="#2a2a2a" stroke-width="0.22">20</text>
<text x="249.50" y="359.50" font-size="4.15" font-weight="bold" text-anchor="middle" fill="#2a2a2a" stroke="#2a2a2a" stroke-width="0.22">40</text>
<text x="265.00" y="359.50" font-size="4.15" font-weight="bold" text-anchor="middle" fill="#2a2a2a" stroke="#2a2a2a" stroke-width="0.22">60</text>
<text x="280.50" y="359.50" font-size="4.15" font-weight="bold" text-anchor="middle" fill="#2a2a2a" stroke="#2a2a2a" stroke-width="0.22">80</text>
<text x="296.00" y="359.50" font-size="4.15" font-weight="bold" text-anchor="middle" fill="#2a2a2a" stroke="#2a2a2a" stroke-width="0.22">100</text>
<text x="221.80" y="298.60" font-size="9.2" font-weight="bold" fill="#000" textLength="43.0" lengthAdjust="spacingAndGlyphs">Tumor C</text>
<polyline points="223.03,351.40 228.45,345.51 233.88,337.66 239.30,328.63 244.72,337.66 250.15,345.51 255.57,351.40" fill="none" stroke="#383838" stroke-width="0.85" stroke-linejoin="round"/>
<polyline points="223.03,351.40 228.45,344.53 233.88,335.50 239.30,343.55 244.72,348.46 250.15,351.40" fill="none" stroke="#383838" stroke-width="0.85" stroke-linejoin="round"/>
<polyline points="223.03,351.40 228.45,348.46 233.88,344.53 239.30,340.60 244.72,345.51 250.15,351.40" fill="none" stroke="#383838" stroke-width="0.85" stroke-linejoin="round"/>
<polyline points="223.03,351.40 228.45,349.44 231.55,351.40" fill="none" stroke="#383838" stroke-width="0.85" stroke-linejoin="round"/>
<polyline points="261.00,351.40 266.43,345.51 271.85,327.84 277.27,303.70" fill="none" stroke="#383838" stroke-width="0.85" stroke-linejoin="round"/>
<polyline points="261.00,351.40 266.43,346.49 271.85,331.77 277.27,316.07 282.70,301.15" fill="none" stroke="#383838" stroke-width="0.85" stroke-linejoin="round"/>
<polyline points="261.00,351.40 266.43,346.49 271.85,332.75 277.27,319.01 279.60,312.14" fill="none" stroke="#383838" stroke-width="0.85" stroke-linejoin="round"/>
<path d="M313.20 289.00V351.30H397.00" fill="none" stroke="#d0d0d0" stroke-width="0.8"/>
<path d="M312.00 351.30h1.2M312.00 341.35h1.2M312.00 331.40h1.2M312.00 321.45h1.2M312.00 311.50h1.2M312.00 301.55h1.2M312.00 291.60h1.2M313.20 351.30v1.2M329.95 351.30v1.2M346.70 351.30v1.2M363.45 351.30v1.2M380.20 351.30v1.2M396.95 351.30v1.2" stroke="#d0d0d0" stroke-width="0.6"/>
<text x="310.70" y="352.71" font-size="4.15" font-weight="bold" text-anchor="end" fill="#2a2a2a" stroke="#2a2a2a" stroke-width="0.22">0</text>
<text x="310.70" y="342.76" font-size="4.15" font-weight="bold" text-anchor="end" fill="#2a2a2a" stroke="#2a2a2a" stroke-width="0.22">50</text>
<text x="310.70" y="332.81" font-size="4.15" font-weight="bold" text-anchor="end" fill="#2a2a2a" stroke="#2a2a2a" stroke-width="0.22">100</text>
<text x="310.70" y="322.86" font-size="4.15" font-weight="bold" text-anchor="end" fill="#2a2a2a" stroke="#2a2a2a" stroke-width="0.22">150</text>
<text x="310.70" y="312.91" font-size="4.15" font-weight="bold" text-anchor="end" fill="#2a2a2a" stroke="#2a2a2a" stroke-width="0.22">200</text>
<text x="310.70" y="302.96" font-size="4.15" font-weight="bold" text-anchor="end" fill="#2a2a2a" stroke="#2a2a2a" stroke-width="0.22">250</text>
<text x="310.70" y="293.01" font-size="4.15" font-weight="bold" text-anchor="end" fill="#2a2a2a" stroke="#2a2a2a" stroke-width="0.22">300</text>
<text x="314.10" y="359.40" font-size="4.15" font-weight="bold" text-anchor="middle" fill="#2a2a2a" stroke="#2a2a2a" stroke-width="0.22">0</text>
<text x="330.85" y="359.40" font-size="4.15" font-weight="bold" text-anchor="middle" fill="#2a2a2a" stroke="#2a2a2a" stroke-width="0.22">20</text>
<text x="347.60" y="359.40" font-size="4.15" font-weight="bold" text-anchor="middle" fill="#2a2a2a" stroke="#2a2a2a" stroke-width="0.22">40</text>
<text x="364.35" y="359.40" font-size="4.15" font-weight="bold" text-anchor="middle" fill="#2a2a2a" stroke="#2a2a2a" stroke-width="0.22">60</text>
<text x="381.10" y="359.40" font-size="4.15" font-weight="bold" text-anchor="middle" fill="#2a2a2a" stroke="#2a2a2a" stroke-width="0.22">80</text>
<text x="397.85" y="359.40" font-size="4.15" font-weight="bold" text-anchor="middle" fill="#2a2a2a" stroke="#2a2a2a" stroke-width="0.22">100</text>
<text x="316.00" y="299.00" font-size="9.2" font-weight="bold" fill="#000" textLength="43.0" lengthAdjust="spacingAndGlyphs">Tumor D</text>
<polyline points="319.06,351.30 324.93,343.34 330.79,331.80 336.65,341.35 342.51,351.30" fill="none" stroke="#383838" stroke-width="0.85" stroke-linejoin="round"/>
<polyline points="319.06,351.30 324.93,345.33 330.79,337.37 336.65,328.22 342.51,345.33 348.38,348.31 354.24,351.30" fill="none" stroke="#383838" stroke-width="0.85" stroke-linejoin="round"/>
<polyline points="319.06,351.30 324.93,346.32 330.79,341.15 336.65,345.33 342.51,348.31 348.38,351.30" fill="none" stroke="#383838" stroke-width="0.85" stroke-linejoin="round"/>
<polyline points="319.06,351.30 324.93,345.33 330.79,334.38 336.65,343.34 342.51,349.31 348.38,351.30" fill="none" stroke="#383838" stroke-width="0.85" stroke-linejoin="round"/>
<polyline points="365.96,351.30 371.82,339.36 377.69,325.43 383.55,299.56" fill="none" stroke="#383838" stroke-width="0.85" stroke-linejoin="round"/>
<polyline points="365.96,351.30 371.82,343.34 377.69,331.40 383.55,317.47 389.41,302.15" fill="none" stroke="#383838" stroke-width="0.85" stroke-linejoin="round"/>
<polyline points="365.96,351.30 371.82,344.34 377.69,333.39 383.55,343.34 389.41,351.30" fill="none" stroke="#383838" stroke-width="0.85" stroke-linejoin="round"/>
<polyline points="365.96,351.30 371.82,347.32 377.69,342.94 383.55,347.32 389.41,351.30" fill="none" stroke="#383838" stroke-width="0.85" stroke-linejoin="round"/>
<path d="M388.30 75.94V144.10H476.30" fill="none" stroke="#d0d0d0" stroke-width="0.8"/>
<text x="385.30" y="145.70" font-size="4.6" font-weight="bold" text-anchor="end" fill="#2a2a2a" stroke="#2a2a2a" stroke-width="0.2">0</text>
<text x="385.30" y="134.34" font-size="4.6" font-weight="bold" text-anchor="end" fill="#2a2a2a" stroke="#2a2a2a" stroke-width="0.2">20</text>
<text x="385.30" y="122.98" font-size="4.6" font-weight="bold" text-anchor="end" fill="#2a2a2a" stroke="#2a2a2a" stroke-width="0.2">40</text>
<text x="385.30" y="111.62" font-size="4.6" font-weight="bold" text-anchor="end" fill="#2a2a2a" stroke="#2a2a2a" stroke-width="0.2">60</text>
<text x="385.30" y="100.26" font-size="4.6" font-weight="bold" text-anchor="end" fill="#2a2a2a" stroke="#2a2a2a" stroke-width="0.2">80</text>
<text x="385.30" y="88.90" font-size="4.6" font-weight="bold" text-anchor="end" fill="#2a2a2a" stroke="#2a2a2a" stroke-width="0.2">100</text>
<text x="385.30" y="77.54" font-size="4.6" font-weight="bold" text-anchor="end" fill="#2a2a2a" stroke="#2a2a2a" stroke-width="0.2">120</text>
<text x="388.80" y="152.40" font-size="4.6" font-weight="bold" text-anchor="middle" fill="#2a2a2a" stroke="#2a2a2a" stroke-width="0.2">0</text>
<text x="406.40" y="152.40" font-size="4.6" font-weight="bold" text-anchor="middle" fill="#2a2a2a" stroke="#2a2a2a" stroke-width="0.2">20</text>
<text x="424.00" y="152.40" font-size="4.6" font-weight="bold" text-anchor="middle" fill="#2a2a2a" stroke="#2a2a2a" stroke-width="0.2">40</text>
<text x="441.60" y="152.40" font-size="4.6" font-weight="bold" text-anchor="middle" fill="#2a2a2a" stroke="#2a2a2a" stroke-width="0.2">60</text>
<text x="459.20" y="152.40" font-size="4.6" font-weight="bold" text-anchor="middle" fill="#2a2a2a" stroke="#2a2a2a" stroke-width="0.2">80</text>
<text x="476.80" y="152.40" font-size="4.6" font-weight="bold" text-anchor="middle" fill="#2a2a2a" stroke="#2a2a2a" stroke-width="0.2">100</text>
<path d="M387.10 144.10h1.2M387.10 132.74h1.2M387.10 121.38h1.2M387.10 110.02h1.2M387.10 98.66h1.2M387.10 87.30h1.2M387.10 75.94h1.2M388.30 144.10v1.2M405.90 144.10v1.2M423.50 144.10v1.2M441.10 144.10v1.2M458.70 144.10v1.2M476.30 144.10v1.2" stroke="#d0d0d0" stroke-width="0.6"/>
<text transform="translate(369.0 112.4) rotate(-90)" font-size="10.4" font-weight="bold" text-anchor="middle" textLength="54" lengthAdjust="spacingAndGlyphs">% Survival</text>
<polyline points="406.78,87.30 410.30,87.30 410.30,92.98 411.88,92.98 411.88,98.66 413.29,98.66 413.29,104.34 414.70,104.34 414.70,110.02 416.11,110.02 416.11,115.70 417.52,115.70 417.52,121.38 419.10,121.38 419.10,127.06 420.68,127.06 420.68,132.74 422.62,132.74 422.62,138.42 424.56,138.42 424.56,144.10 424.56,144.10" fill="none" stroke="#86d46e" stroke-width="0.8"/>
<rect x="408.44" y="91.12" width="3.72" height="3.72" fill="#fff" fill-opacity="0.6" stroke="#86d46e" stroke-width="0.7"/>
<rect x="410.02" y="96.80" width="3.72" height="3.72" fill="#fff" fill-opacity="0.6" stroke="#86d46e" stroke-width="0.7"/>
<rect x="411.43" y="102.48" width="3.72" height="3.72" fill="#fff" fill-opacity="0.6" stroke="#86d46e" stroke-width="0.7"/>
<rect x="412.84" y="108.16" width="3.72" height="3.72" fill="#fff" fill-opacity="0.6" stroke="#86d46e" stroke-width="0.7"/>
<rect x="414.25" y="113.84" width="3.72" height="3.72" fill="#fff" fill-opacity="0.6" stroke="#86d46e" stroke-width="0.7"/>
<rect x="415.65" y="119.52" width="3.72" height="3.72" fill="#fff" fill-opacity="0.6" stroke="#86d46e" stroke-width="0.7"/>
<rect x="417.24" y="125.20" width="3.72" height="3.72" fill="#fff" fill-opacity="0.6" stroke="#86d46e" stroke-width="0.7"/>
<rect x="418.82" y="130.88" width="3.72" height="3.72" fill="#fff" fill-opacity="0.6" stroke="#86d46e" stroke-width="0.7"/>
<rect x="420.76" y="136.56" width="3.72" height="3.72" fill="#fff" fill-opacity="0.6" stroke="#86d46e" stroke-width="0.7"/>
<rect x="422.69" y="142.24" width="3.72" height="3.72" fill="#fff" fill-opacity="0.6" stroke="#86d46e" stroke-width="0.7"/>
<polyline points="406.78,87.30 417.34,87.30 417.34,92.98 419.98,92.98 419.98,104.34 422.53,104.34 422.53,138.42 468.38,138.42" fill="none" stroke="#7b2036" stroke-width="0.9"/>
<circle cx="417.34" cy="92.98" r="2.02" fill="#fff" fill-opacity="0.5" stroke="#7b2036" stroke-width="0.7"/>
<circle cx="419.98" cy="104.34" r="2.02" fill="#fff" fill-opacity="0.5" stroke="#7b2036" stroke-width="0.7"/>
<circle cx="422.53" cy="115.70" r="2.02" fill="#fff" fill-opacity="0.5" stroke="#7b2036" stroke-width="0.7"/>
<circle cx="422.53" cy="127.06" r="2.02" fill="#fff" fill-opacity="0.5" stroke="#7b2036" stroke-width="0.7"/>
<circle cx="422.62" cy="138.42" r="2.02" fill="#fff" fill-opacity="0.5" stroke="#7b2036" stroke-width="0.7"/>
<circle cx="428.78" cy="138.42" r="2.02" fill="#fff" fill-opacity="0.5" stroke="#7b2036" stroke-width="0.7"/>
<circle cx="434.94" cy="138.42" r="2.02" fill="#fff" fill-opacity="0.5" stroke="#7b2036" stroke-width="0.7"/>
<circle cx="441.10" cy="138.42" r="2.02" fill="#fff" fill-opacity="0.5" stroke="#7b2036" stroke-width="0.7"/>
<circle cx="449.90" cy="138.42" r="2.02" fill="#fff" fill-opacity="0.5" stroke="#7b2036" stroke-width="0.7"/>
<circle cx="458.70" cy="138.42" r="2.02" fill="#fff" fill-opacity="0.5" stroke="#7b2036" stroke-width="0.7"/>
<circle cx="468.38" cy="138.42" r="2.02" fill="#fff" fill-opacity="0.5" stroke="#7b2036" stroke-width="0.7"/>
<polyline points="406.78,87.30 416.46,87.30 416.46,92.98 419.10,92.98 419.10,98.66 422.00,98.66 422.00,110.02 425.61,110.02 425.61,121.38 426.80,121.38 426.80,132.74 426.80,132.74 426.80,144.10 426.80,144.10" fill="none" stroke="#6b2a8e" stroke-width="0.9"/>
<circle cx="416.46" cy="92.98" r="2.18" fill="#6b2a8e"/>
<circle cx="419.10" cy="98.66" r="2.18" fill="#6b2a8e"/>
<circle cx="422.00" cy="110.02" r="2.18" fill="#6b2a8e"/>
<circle cx="425.61" cy="121.38" r="2.18" fill="#6b2a8e"/>
<circle cx="426.80" cy="132.74" r="2.18" fill="#6b2a8e"/>
<circle cx="426.80" cy="144.10" r="2.18" fill="#6b2a8e"/>
<rect x="386.12" y="85.29" width="4.37" height="4.02" fill="#3c3a4c"/>
<rect x="392.28" y="85.29" width="4.37" height="4.02" fill="#3c3a4c"/>
<rect x="398.44" y="85.29" width="4.37" height="4.02" fill="#3c3a4c"/>
<rect x="404.60" y="85.29" width="4.37" height="4.02" fill="#3c3a4c"/>
<circle cx="409.42" cy="87.30" r="2.18" fill="#5a2e7e"/>
<circle cx="412.50" cy="87.30" r="2.18" fill="#5a2e7e"/>
<circle cx="415.58" cy="87.30" r="2.18" fill="#5a2e7e"/>
<polyline points="406.78,87.30 426.14,87.30 426.14,92.98 430.36,92.98 430.36,98.66 434.59,98.66 434.59,104.34 435.82,104.34 435.82,110.02 468.38,110.02" fill="none" stroke="#2d4ca8" stroke-width="1.0"/>
<path d="M419.10 84.72L421.80 89.36H416.40Z" fill="#2d4ca8"/>
<path d="M423.50 84.72L426.20 89.36H420.80Z" fill="#2d4ca8"/>
<path d="M426.14 90.40L428.84 95.04H423.44Z" fill="#2d4ca8"/>
<path d="M430.36 96.08L433.07 100.72H427.66Z" fill="#2d4ca8"/>
<path d="M434.59 101.76L437.29 106.40H431.88Z" fill="#2d4ca8"/>
<path d="M436.70 107.44L439.40 112.08H434.00Z" fill="#2d4ca8"/>
<path d="M449.90 107.44L452.60 112.08H447.20Z" fill="#2d4ca8"/>
<path d="M458.70 107.44L461.40 112.08H456.00Z" fill="#2d4ca8"/>
<path d="M468.38 107.44L471.08 112.08H465.68Z" fill="#2d4ca8"/>
<polyline points="406.78,87.30 426.14,87.30 426.14,92.98 468.38,92.98" fill="none" stroke="#e3232d" stroke-width="1.0"/>
<rect x="412.52" y="85.29" width="4.37" height="4.02" fill="#e3232d"/>
<rect x="425.72" y="90.97" width="4.37" height="4.02" fill="#e3232d"/>
<rect x="428.80" y="90.97" width="4.37" height="4.02" fill="#e3232d"/>
<rect x="435.40" y="90.97" width="4.37" height="4.02" fill="#e3232d"/>
<rect x="448.16" y="90.97" width="4.37" height="4.02" fill="#e3232d"/>
<rect x="456.96" y="90.97" width="4.37" height="4.02" fill="#e3232d"/>
<rect x="466.20" y="90.97" width="4.37" height="4.02" fill="#e3232d"/>
<polyline points="406.78,87.30 434.76,87.30 434.76,98.66 468.38,98.66" fill="none" stroke="#c58fd0" stroke-width="0.9"/>
<path d="M430.54 84.95L432.89 89.18H428.19Z" fill="#fff" stroke="#c58fd0" stroke-width="0.6"/>
<path d="M434.06 84.95L436.41 89.18H431.71Z" fill="#fff" stroke="#c58fd0" stroke-width="0.6"/>
<path d="M436.70 96.31L439.05 100.54H434.35Z" fill="#fff" stroke="#c58fd0" stroke-width="0.6"/>
<path d="M449.90 96.31L452.25 100.54H447.55Z" fill="#fff" stroke="#c58fd0" stroke-width="0.6"/>
<path d="M459.14 96.31L461.49 100.54H456.79Z" fill="#fff" stroke="#c58fd0" stroke-width="0.6"/>
<path d="M468.38 96.31L470.73 100.54H466.03Z" fill="#fff" stroke="#c58fd0" stroke-width="0.6"/>
<polygon points="462.60,84.30 463.29,85.95 465.07,86.10 463.71,87.26 464.13,89.00 462.60,88.07 461.07,89.00 461.49,87.26 460.13,86.10 461.91,85.95" fill="#e08a84" stroke="#cc5a5a" stroke-width="0.55"/>
<polygon points="468.20,84.30 468.89,85.95 470.67,86.10 469.31,87.26 469.73,89.00 468.20,88.07 466.67,89.00 467.09,87.26 465.73,86.10 467.51,85.95" fill="#e08a84" stroke="#cc5a5a" stroke-width="0.55"/>
<polygon points="462.60,101.40 463.29,103.05 465.07,103.20 463.71,104.36 464.13,106.10 462.60,105.17 461.07,106.10 461.49,104.36 460.13,103.20 461.91,103.05" fill="#e08a84" stroke="#cc5a5a" stroke-width="0.55"/>
<polygon points="468.20,101.40 468.89,103.05 470.67,103.20 469.31,104.36 469.73,106.10 468.20,105.17 466.67,106.10 467.09,104.36 465.73,103.20 467.51,103.05" fill="#e08a84" stroke="#cc5a5a" stroke-width="0.55"/>
<polygon points="462.60,113.20 463.29,114.85 465.07,115.00 463.71,116.16 464.13,117.90 462.60,116.97 461.07,117.90 461.49,116.16 460.13,115.00 461.91,114.85" fill="#e08a84" stroke="#cc5a5a" stroke-width="0.55"/>
<polygon points="468.20,113.20 468.89,114.85 470.67,115.00 469.31,116.16 469.73,117.90 468.20,116.97 466.67,117.90 467.09,116.16 465.73,115.00 467.51,114.85" fill="#e08a84" stroke="#cc5a5a" stroke-width="0.55"/>
<path d="M476.6 89.60H489.4" stroke="#e3232d" stroke-width="1.0"/>
<rect x="481.80" y="88.49" width="2.40" height="2.21" fill="#e3232d"/>
<text x="490.70" y="91.40" font-size="5.0" fill="#333">gp96A</text>
<path d="M476.6 100.20H489.4" stroke="#c58fd0" stroke-width="1.0"/>
<path d="M483.00 98.91L484.29 101.23H481.71Z" fill="#fff" stroke="#c58fd0" stroke-width="0.6"/>
<text x="490.70" y="102.00" font-size="5.0" fill="#333">gp96BCD</text>
<path d="M476.6 110.60H489.4" stroke="#2d4ca8" stroke-width="1.0"/>
<path d="M483.00 109.18L484.49 111.73H481.51Z" fill="#2d4ca8"/>
<text x="490.70" y="112.40" font-size="5.0" fill="#333">gp96BC</text>
<path d="M476.6 121.30H489.4" stroke="#7b2036" stroke-width="1.0"/>
<circle cx="483.00" cy="121.30" r="1.20" fill="#7b2036"/>
<text x="490.70" y="123.10" font-size="5.0" fill="#333">gp96B</text>
<path d="M476.6 131.70H489.4" stroke="#6b2a8e" stroke-width="1.0"/>
<circle cx="483.00" cy="131.70" r="1.20" fill="#6b2a8e"/>
<text x="490.70" y="133.50" font-size="5.0" fill="#333">gp96C</text>
<path d="M476.6 142.60H489.4" stroke="#86d46e" stroke-width="1.0"/>
<rect x="481.92" y="141.52" width="2.16" height="2.16" fill="#fff" fill-opacity="0.6" stroke="#86d46e" stroke-width="0.7"/>
<text x="490.70" y="144.40" font-size="5.0" fill="#333">gp96N</text>
<path d="M428.50 186.80V255.80H511.60" fill="none" stroke="#d0d0d0" stroke-width="0.8"/>
<text x="424.70" y="257.40" font-size="4.6" font-weight="bold" text-anchor="end" fill="#2a2a2a" stroke="#2a2a2a" stroke-width="0.2">0</text>
<text x="424.70" y="245.90" font-size="4.6" font-weight="bold" text-anchor="end" fill="#2a2a2a" stroke="#2a2a2a" stroke-width="0.2">20</text>
<text x="424.70" y="234.40" font-size="4.6" font-weight="bold" text-anchor="end" fill="#2a2a2a" stroke="#2a2a2a" stroke-width="0.2">40</text>
<text x="424.70" y="222.90" font-size="4.6" font-weight="bold" text-anchor="end" fill="#2a2a2a" stroke="#2a2a2a" stroke-width="0.2">60</text>
<text x="424.70" y="211.40" font-size="4.6" font-weight="bold" text-anchor="end" fill="#2a2a2a" stroke="#2a2a2a" stroke-width="0.2">80</text>
<text x="424.70" y="199.90" font-size="4.6" font-weight="bold" text-anchor="end" fill="#2a2a2a" stroke="#2a2a2a" stroke-width="0.2">100</text>
<text x="424.70" y="188.40" font-size="4.6" font-weight="bold" text-anchor="end" fill="#2a2a2a" stroke="#2a2a2a" stroke-width="0.2">120</text>
<text x="429.00" y="264.50" font-size="4.6" font-weight="bold" text-anchor="middle" fill="#2a2a2a" stroke="#2a2a2a" stroke-width="0.2">0</text>
<text x="445.62" y="264.50" font-size="4.6" font-weight="bold" text-anchor="middle" fill="#2a2a2a" stroke="#2a2a2a" stroke-width="0.2">20</text>
<text x="462.24" y="264.50" font-size="4.6" font-weight="bold" text-anchor="middle" fill="#2a2a2a" stroke="#2a2a2a" stroke-width="0.2">40</text>
<text x="478.86" y="264.50" font-size="4.6" font-weight="bold" text-anchor="middle" fill="#2a2a2a" stroke="#2a2a2a" stroke-width="0.2">60</text>
<text x="495.48" y="264.50" font-size="4.6" font-weight="bold" text-anchor="middle" fill="#2a2a2a" stroke="#2a2a2a" stroke-width="0.2">80</text>
<text x="512.10" y="264.50" font-size="4.6" font-weight="bold" text-anchor="middle" fill="#2a2a2a" stroke="#2a2a2a" stroke-width="0.2">100</text>
<path d="M427.30 255.80h1.2M427.30 244.30h1.2M427.30 232.80h1.2M427.30 221.30h1.2M427.30 209.80h1.2M427.30 198.30h1.2M427.30 186.80h1.2M428.50 255.80v1.2M445.12 255.80v1.2M461.74 255.80v1.2M478.36 255.80v1.2M494.98 255.80v1.2M511.60 255.80v1.2" stroke="#d0d0d0" stroke-width="0.6"/>
<text transform="translate(414.2 221.5) rotate(-90)" font-size="10.8" font-weight="bold" text-anchor="middle" textLength="52" lengthAdjust="spacingAndGlyphs">% Survival</text>
<polyline points="440.13,198.30 442.46,198.30 442.46,209.80 443.46,209.80 443.46,221.30 445.54,221.30 445.54,232.80 445.95,232.80 445.95,244.30 451.35,244.30 451.35,255.80 451.35,255.80" fill="none" stroke="#6cbf4a" stroke-width="0.9"/>
<path d="M443.04 207.22L445.75 211.86H440.34Z" fill="#6cbf4a"/>
<path d="M443.87 218.72L446.58 223.36H441.17Z" fill="#6cbf4a"/>
<path d="M445.54 230.22L448.24 234.86H442.83Z" fill="#6cbf4a"/>
<path d="M446.20 241.72L448.91 246.36H443.50Z" fill="#6cbf4a"/>
<path d="M451.35 241.72L454.06 246.36H448.65Z" fill="#6cbf4a"/>
<path d="M451.35 253.22L454.06 257.86H448.65Z" fill="#6cbf4a"/>
<polyline points="440.13,198.30 450.77,198.30 450.77,209.80 451.10,209.80 451.10,221.30 461.32,221.30 461.32,232.80 461.74,232.80 461.74,244.30 509.11,244.30" fill="none" stroke="#7c3a80" stroke-width="0.9"/>
<rect x="448.81" y="207.84" width="3.92" height="3.92" fill="#fff" fill-opacity="0.6" stroke="#7c3a80" stroke-width="0.7"/>
<rect x="449.39" y="219.34" width="3.92" height="3.92" fill="#fff" fill-opacity="0.6" stroke="#7c3a80" stroke-width="0.7"/>
<rect x="453.96" y="219.34" width="3.92" height="3.92" fill="#fff" fill-opacity="0.6" stroke="#7c3a80" stroke-width="0.7"/>
<rect x="459.36" y="230.84" width="3.92" height="3.92" fill="#fff" fill-opacity="0.6" stroke="#7c3a80" stroke-width="0.7"/>
<polyline points="440.13,198.30 457.83,198.30 457.83,209.80 460.91,209.80 460.91,221.30 461.74,221.30 461.74,232.80 461.99,232.80 461.99,244.30 511.60,244.30" fill="none" stroke="#c241a8" stroke-width="1.0"/>
<rect x="455.65" y="207.79" width="4.37" height="4.02" fill="#c241a8"/>
<rect x="458.72" y="219.29" width="4.37" height="4.02" fill="#c241a8"/>
<rect x="459.56" y="230.79" width="4.37" height="4.02" fill="#c241a8"/>
<rect x="460.97" y="242.29" width="4.37" height="4.02" fill="#c241a8"/>
<rect x="466.70" y="242.29" width="4.37" height="4.02" fill="#c241a8"/>
<rect x="472.44" y="242.29" width="4.37" height="4.02" fill="#c241a8"/>
<rect x="478.17" y="242.29" width="4.37" height="4.02" fill="#c241a8"/>
<rect x="483.90" y="242.29" width="4.37" height="4.02" fill="#c241a8"/>
<rect x="489.64" y="242.29" width="4.37" height="4.02" fill="#c241a8"/>
<rect x="495.37" y="242.29" width="4.37" height="4.02" fill="#c241a8"/>
<rect x="501.11" y="242.29" width="4.37" height="4.02" fill="#c241a8"/>
<rect x="506.84" y="242.29" width="4.37" height="4.02" fill="#c241a8"/>
<path d="M428.50 198.30H440.13" stroke="#8a8a8a" stroke-width="0.9"/>
<rect x="426.54" y="196.34" width="3.92" height="3.92" fill="#fff" fill-opacity="0.6" stroke="#777" stroke-width="0.7"/>
<circle cx="428.50" cy="198.30" r="1.61" fill="#fff" fill-opacity="0.5" stroke="#888" stroke-width="0.7"/>
<rect x="432.36" y="196.34" width="3.92" height="3.92" fill="#fff" fill-opacity="0.6" stroke="#777" stroke-width="0.7"/>
<circle cx="434.32" cy="198.30" r="1.61" fill="#fff" fill-opacity="0.5" stroke="#888" stroke-width="0.7"/>
<rect x="438.17" y="196.34" width="3.92" height="3.92" fill="#fff" fill-opacity="0.6" stroke="#777" stroke-width="0.7"/>
<circle cx="440.13" cy="198.30" r="1.61" fill="#fff" fill-opacity="0.5" stroke="#888" stroke-width="0.7"/>
<rect x="443.35" y="196.29" width="4.37" height="4.02" fill="#c241a8"/>
<rect x="444.18" y="196.29" width="4.37" height="4.02" fill="#c241a8"/>
<rect x="455.65" y="196.29" width="4.37" height="4.02" fill="#c241a8"/>
<circle cx="450.77" cy="198.30" r="2.02" fill="#fff" fill-opacity="0.5" stroke="#a76cb0" stroke-width="0.7"/>
<polyline points="457.83,198.30 509.11,198.30" fill="none" stroke="#2b4aa5" stroke-width="1.0"/>
<circle cx="463.15" cy="198.30" r="2.18" fill="#2b4aa5"/>
<circle cx="468.89" cy="198.30" r="2.18" fill="#2b4aa5"/>
<circle cx="474.62" cy="198.30" r="2.18" fill="#2b4aa5"/>
<circle cx="480.35" cy="198.30" r="2.18" fill="#2b4aa5"/>
<circle cx="486.09" cy="198.30" r="2.18" fill="#2b4aa5"/>
<circle cx="491.82" cy="198.30" r="2.18" fill="#2b4aa5"/>
<circle cx="497.56" cy="198.30" r="2.18" fill="#2b4aa5"/>
<circle cx="503.29" cy="198.30" r="2.18" fill="#2b4aa5"/>
<circle cx="509.02" cy="198.30" r="2.18" fill="#2b4aa5"/>
<polygon points="503.00,189.50 503.69,191.15 505.47,191.30 504.11,192.46 504.53,194.20 503.00,193.27 501.47,194.20 501.89,192.46 500.53,191.30 502.31,191.15" fill="#e08a84" stroke="#cc5a5a" stroke-width="0.55"/>
<polygon points="509.10,189.50 509.79,191.15 511.57,191.30 510.21,192.46 510.63,194.20 509.10,193.27 507.57,194.20 507.99,192.46 506.63,191.30 508.41,191.15" fill="#e08a84" stroke="#cc5a5a" stroke-width="0.55"/>
<polygon points="509.10,235.50 509.79,237.15 511.57,237.30 510.21,238.46 510.63,240.20 509.10,239.27 507.57,240.20 507.99,238.46 506.63,237.30 508.41,237.15" fill="#e08a84" stroke="#cc5a5a" stroke-width="0.55"/>
<path d="M497.2 206.80H507.5" stroke="#2b4aa5" stroke-width="1.0"/>
<circle cx="502.30" cy="206.80" r="1.20" fill="#2b4aa5"/>
<text x="509.10" y="208.80" font-size="5.6" fill="#333">A</text>
<path d="M497.2 214.90H507.5" stroke="#c241a8" stroke-width="1.0"/>
<rect x="501.10" y="213.79" width="2.40" height="2.21" fill="#c241a8"/>
<text x="509.10" y="216.90" font-size="5.6" fill="#333">B</text>
<path d="M497.2 223.10H507.5" stroke="#6cbf4a" stroke-width="1.0"/>
<path d="M502.30 221.68L503.79 224.23H500.81Z" fill="#6cbf4a"/>
<text x="509.10" y="225.10" font-size="5.6" fill="#333">C</text>
<path d="M497.2 231.00H507.5" stroke="#7c3a80" stroke-width="1.0"/>
<rect x="501.22" y="229.92" width="2.16" height="2.16" fill="#fff" fill-opacity="0.6" stroke="#7c3a80" stroke-width="0.7"/>
<text x="509.10" y="233.00" font-size="5.6" fill="#333">D</text>
<path d="M428.30 283.80V348.00H515.10" fill="none" stroke="#d0d0d0" stroke-width="0.8"/>
<text x="425.30" y="349.60" font-size="4.6" font-weight="bold" text-anchor="end" fill="#2a2a2a" stroke="#2a2a2a" stroke-width="0.2">0</text>
<text x="425.30" y="338.90" font-size="4.6" font-weight="bold" text-anchor="end" fill="#2a2a2a" stroke="#2a2a2a" stroke-width="0.2">20</text>
<text x="425.30" y="328.20" font-size="4.6" font-weight="bold" text-anchor="end" fill="#2a2a2a" stroke="#2a2a2a" stroke-width="0.2">40</text>
<text x="425.30" y="317.50" font-size="4.6" font-weight="bold" text-anchor="end" fill="#2a2a2a" stroke="#2a2a2a" stroke-width="0.2">60</text>
<text x="425.30" y="306.80" font-size="4.6" font-weight="bold" text-anchor="end" fill="#2a2a2a" stroke="#2a2a2a" stroke-width="0.2">80</text>
<text x="425.30" y="296.10" font-size="4.6" font-weight="bold" text-anchor="end" fill="#2a2a2a" stroke="#2a2a2a" stroke-width="0.2">100</text>
<text x="425.30" y="285.40" font-size="4.6" font-weight="bold" text-anchor="end" fill="#2a2a2a" stroke="#2a2a2a" stroke-width="0.2">120</text>
<text x="428.80" y="357.00" font-size="4.6" font-weight="bold" text-anchor="middle" fill="#2a2a2a" stroke="#2a2a2a" stroke-width="0.2">0</text>
<text x="446.16" y="357.00" font-size="4.6" font-weight="bold" text-anchor="middle" fill="#2a2a2a" stroke="#2a2a2a" stroke-width="0.2">20</text>
<text x="463.52" y="357.00" font-size="4.6" font-weight="bold" text-anchor="middle" fill="#2a2a2a" stroke="#2a2a2a" stroke-width="0.2">40</text>
<text x="480.88" y="357.00" font-size="4.6" font-weight="bold" text-anchor="middle" fill="#2a2a2a" stroke="#2a2a2a" stroke-width="0.2">60</text>
<text x="498.24" y="357.00" font-size="4.6" font-weight="bold" text-anchor="middle" fill="#2a2a2a" stroke="#2a2a2a" stroke-width="0.2">80</text>
<text x="515.60" y="357.00" font-size="4.6" font-weight="bold" text-anchor="middle" fill="#2a2a2a" stroke="#2a2a2a" stroke-width="0.2">100</text>
<path d="M427.10 348.00h1.2M427.10 337.30h1.2M427.10 326.60h1.2M427.10 315.90h1.2M427.10 305.20h1.2M427.10 294.50h1.2M427.10 283.80h1.2M428.30 348.00v1.2M445.66 348.00v1.2M463.02 348.00v1.2M480.38 348.00v1.2M497.74 348.00v1.2M515.10 348.00v1.2" stroke="#d0d0d0" stroke-width="0.6"/>
<polyline points="440.45,294.50 443.58,294.50 443.58,305.20 446.53,305.20 446.53,315.90 449.13,315.90 449.13,326.60 450.00,326.60 450.00,337.30 451.30,337.30 451.30,348.00 451.30,348.00" fill="none" stroke="#6cbf4a" stroke-width="0.9"/>
<path d="M444.36 302.62L447.06 307.26H441.65Z" fill="#6cbf4a"/>
<path d="M446.53 313.32L449.23 317.96H443.82Z" fill="#6cbf4a"/>
<path d="M448.96 324.02L451.66 328.66H446.25Z" fill="#6cbf4a"/>
<path d="M450.00 334.72L452.70 339.36H447.30Z" fill="#6cbf4a"/>
<path d="M451.30 345.42L454.01 350.06H448.60Z" fill="#6cbf4a"/>
<polyline points="440.45,294.50 450.26,294.50 450.26,305.20 456.42,305.20 456.42,315.90 515.10,315.90" fill="none" stroke="#7c3a80" stroke-width="0.9"/>
<rect x="448.30" y="303.24" width="3.92" height="3.92" fill="#fff" fill-opacity="0.6" stroke="#7c3a80" stroke-width="0.7"/>
<rect x="453.25" y="303.24" width="3.92" height="3.92" fill="#fff" fill-opacity="0.6" stroke="#7c3a80" stroke-width="0.7"/>
<rect x="454.46" y="313.94" width="3.92" height="3.92" fill="#fff" fill-opacity="0.6" stroke="#7c3a80" stroke-width="0.7"/>
<rect x="462.36" y="313.94" width="3.92" height="3.92" fill="#fff" fill-opacity="0.6" stroke="#7c3a80" stroke-width="0.7"/>
<rect x="468.44" y="313.94" width="3.92" height="3.92" fill="#fff" fill-opacity="0.6" stroke="#7c3a80" stroke-width="0.7"/>
<rect x="474.51" y="313.94" width="3.92" height="3.92" fill="#fff" fill-opacity="0.6" stroke="#7c3a80" stroke-width="0.7"/>
<rect x="480.59" y="313.94" width="3.92" height="3.92" fill="#fff" fill-opacity="0.6" stroke="#7c3a80" stroke-width="0.7"/>
<rect x="486.67" y="313.94" width="3.92" height="3.92" fill="#fff" fill-opacity="0.6" stroke="#7c3a80" stroke-width="0.7"/>
<rect x="492.74" y="313.94" width="3.92" height="3.92" fill="#fff" fill-opacity="0.6" stroke="#7c3a80" stroke-width="0.7"/>
<rect x="498.82" y="313.94" width="3.92" height="3.92" fill="#fff" fill-opacity="0.6" stroke="#7c3a80" stroke-width="0.7"/>
<rect x="504.89" y="313.94" width="3.92" height="3.92" fill="#fff" fill-opacity="0.6" stroke="#7c3a80" stroke-width="0.7"/>
<rect x="511.84" y="313.94" width="3.92" height="3.92" fill="#fff" fill-opacity="0.6" stroke="#7c3a80" stroke-width="0.7"/>
<polyline points="440.45,294.50 464.32,294.50 464.32,305.20 515.10,305.20" fill="none" stroke="#c241a8" stroke-width="1.0"/>
<rect x="462.14" y="303.19" width="4.37" height="4.02" fill="#c241a8"/>
<rect x="468.21" y="303.19" width="4.37" height="4.02" fill="#c241a8"/>
<rect x="474.29" y="303.19" width="4.37" height="4.02" fill="#c241a8"/>
<rect x="480.37" y="303.19" width="4.37" height="4.02" fill="#c241a8"/>
<rect x="486.44" y="303.19" width="4.37" height="4.02" fill="#c241a8"/>
<rect x="492.52" y="303.19" width="4.37" height="4.02" fill="#c241a8"/>
<rect x="498.59" y="303.19" width="4.37" height="4.02" fill="#c241a8"/>
<rect x="504.67" y="303.19" width="4.37" height="4.02" fill="#c241a8"/>
<rect x="511.61" y="303.19" width="4.37" height="4.02" fill="#c241a8"/>
<rect x="426.34" y="292.54" width="3.92" height="3.92" fill="#fff" fill-opacity="0.6" stroke="#777" stroke-width="0.7"/>
<rect x="432.42" y="292.54" width="3.92" height="3.92" fill="#fff" fill-opacity="0.6" stroke="#777" stroke-width="0.7"/>
<rect x="438.49" y="292.54" width="3.92" height="3.92" fill="#fff" fill-opacity="0.6" stroke="#777" stroke-width="0.7"/>
<rect x="441.31" y="292.49" width="4.37" height="4.02" fill="#c241a8"/>
<rect x="443.48" y="292.49" width="4.37" height="4.02" fill="#c241a8"/>
<rect x="445.65" y="292.49" width="4.37" height="4.02" fill="#c241a8"/>
<rect x="447.82" y="292.49" width="4.37" height="4.02" fill="#c241a8"/>
<rect x="454.24" y="292.49" width="4.37" height="4.02" fill="#c241a8"/>
<circle cx="464.32" cy="294.50" r="2.02" fill="#fff" fill-opacity="0.5" stroke="#a76cb0" stroke-width="0.7"/>
<polyline points="464.32,294.50 515.10,294.50" fill="none" stroke="#2b4aa5" stroke-width="1.0"/>
<circle cx="470.40" cy="294.50" r="2.18" fill="#2b4aa5"/>
<circle cx="476.47" cy="294.50" r="2.18" fill="#2b4aa5"/>
<circle cx="482.55" cy="294.50" r="2.18" fill="#2b4aa5"/>
<circle cx="488.63" cy="294.50" r="2.18" fill="#2b4aa5"/>
<circle cx="494.70" cy="294.50" r="2.18" fill="#2b4aa5"/>
<circle cx="500.78" cy="294.50" r="2.18" fill="#2b4aa5"/>
<circle cx="506.85" cy="294.50" r="2.18" fill="#2b4aa5"/>
<circle cx="512.93" cy="294.50" r="2.18" fill="#2b4aa5"/>
<circle cx="513.80" cy="294.50" r="2.18" fill="#2b4aa5"/>
<path d="M428.30 294.50H440.45" stroke="#8a8a8a" stroke-width="0.9"/>
<polygon points="507.40,286.30 508.09,287.95 509.87,288.10 508.51,289.26 508.93,291.00 507.40,290.07 505.87,291.00 506.29,289.26 504.93,288.10 506.71,287.95" fill="#e08a84" stroke="#cc5a5a" stroke-width="0.55"/>
<polygon points="513.20,286.30 513.89,287.95 515.67,288.10 514.31,289.26 514.73,291.00 513.20,290.07 511.67,291.00 512.09,289.26 510.73,288.10 512.51,287.95" fill="#e08a84" stroke="#cc5a5a" stroke-width="0.55"/>
<polygon points="507.40,296.60 508.09,298.25 509.87,298.40 508.51,299.56 508.93,301.30 507.40,300.37 505.87,301.30 506.29,299.56 504.93,298.40 506.71,298.25" fill="#e08a84" stroke="#cc5a5a" stroke-width="0.55"/>
<polygon points="513.20,296.60 513.89,298.25 515.67,298.40 514.31,299.56 514.73,301.30 513.20,300.37 511.67,301.30 512.09,299.56 510.73,298.40 512.51,298.25" fill="#e08a84" stroke="#cc5a5a" stroke-width="0.55"/>
<polygon points="507.40,308.20 508.09,309.85 509.87,310.00 508.51,311.16 508.93,312.90 507.40,311.97 505.87,312.90 506.29,311.16 504.93,310.00 506.71,309.85" fill="#e08a84" stroke="#cc5a5a" stroke-width="0.55"/>
<polygon points="513.20,308.20 513.89,309.85 515.67,310.00 514.31,311.16 514.73,312.90 513.20,311.97 511.67,312.90 512.09,311.16 510.73,310.00 512.51,309.85" fill="#e08a84" stroke="#cc5a5a" stroke-width="0.55"/>
<path d="M501 324.00H511" stroke="#2b4aa5" stroke-width="1.0"/>
<circle cx="506.00" cy="324.00" r="1.20" fill="#2b4aa5"/>
<text x="511.50" y="326.00" font-size="5.6" fill="#333">A</text>
<path d="M501 330.90H511" stroke="#c241a8" stroke-width="1.0"/>
<rect x="504.80" y="329.79" width="2.40" height="2.21" fill="#c241a8"/>
<text x="511.50" y="332.90" font-size="5.6" fill="#333">B</text>
<path d="M501 337.40H511" stroke="#6cbf4a" stroke-width="1.0"/>
<path d="M506.00 335.98L507.49 338.53H504.51Z" fill="#6cbf4a"/>
<text x="511.50" y="339.40" font-size="5.6" fill="#333">C</text>
<path d="M501 344.30H511" stroke="#7c3a80" stroke-width="1.0"/>
<rect x="504.92" y="343.22" width="2.16" height="2.16" fill="#fff" fill-opacity="0.6" stroke="#7c3a80" stroke-width="0.7"/>
<text x="511.50" y="346.30" font-size="5.6" fill="#333">D</text>
<text x="55.20" y="393.90" font-size="7.4" font-weight="bold" fill="#000" textLength="22.4" lengthAdjust="spacingAndGlyphs">gp96A</text>
<text x="168.00" y="393.90" font-size="7.4" font-weight="bold" fill="#000" textLength="32.8" lengthAdjust="spacingAndGlyphs">gp96BCD</text>
<text x="258.40" y="434.30" font-size="7.4" font-weight="bold" fill="#000" textLength="51.9" lengthAdjust="spacingAndGlyphs">Tumor-bearing</text>
<text x="259.00" y="512.50" font-size="7.4" font-weight="bold" fill="#000" textLength="39.0" lengthAdjust="spacingAndGlyphs">Tumor-free</text>
<clipPath id="cp1"><rect x="10.8" y="398.8" width="119.1" height="73.2"/></clipPath>
<filter id="nz1" x="0" y="0" width="1" height="1" color-interpolation-filters="sRGB"><feTurbulence type="fractalNoise" baseFrequency="0.08" numOctaves="3" seed="16"/><feColorMatrix type="matrix" values="0.097 0 0 0 0.540  -0.032 0 0 0 0.534  -0.258 0 0 0 0.717  0 0 0 0 1" result="A"/><feTurbulence type="fractalNoise" baseFrequency="0.45" numOctaves="2" seed="5"/><feColorMatrix type="matrix" values="0 0.258 0 0 0.371  0 0.258 0 0 0.371  0 0.258 0 0 0.371  0 0 0 0 1" result="B"/><feComposite in="A" in2="B" operator="arithmetic" k1="0" k2="1" k3="1" k4="-0.5"/></filter>
<filter id="bl1" x="-5%" y="-5%" width="110%" height="110%"><feGaussianBlur stdDeviation="0.7"/></filter>
<g clip-path="url(#cp1)">
<rect x="10.8" y="398.8" width="119.1" height="73.2" filter="url(#nz1)"/>
<g filter="url(#bl1)">
<ellipse cx="68.1" cy="445.3" rx="0.9" ry="0.5" transform="rotate(69 68.1 445.3)" fill="#74709e" fill-opacity="0.44"/>
<ellipse cx="101.8" cy="470.2" rx="0.7" ry="0.5" transform="rotate(134 101.8 470.2)" fill="#544e7c" fill-opacity="0.70"/>
<ellipse cx="85.8" cy="444.5" rx="1.2" ry="0.7" transform="rotate(124 85.8 444.5)" fill="#544e7c" fill-opacity="0.72"/>
<ellipse cx="128.0" cy="445.5" rx="0.9" ry="0.5" transform="rotate(51 128.0 445.5)" fill="#6a6496" fill-opacity="0.45"/>
<ellipse cx="44.1" cy="440.5" rx="0.8" ry="0.6" transform="rotate(124 44.1 440.5)" fill="#74709e" fill-opacity="0.44"/>
<ellipse cx="47.7" cy="400.7" rx="1.1" ry="0.6" transform="rotate(30 47.7 400.7)" fill="#5e588a" fill-opacity="0.75"/>
<ellipse cx="57.3" cy="437.6" rx="1.0" ry="1.0" fill="#6a6496" fill-opacity="0.44"/>
<ellipse cx="67.2" cy="436.4" rx="1.1" ry="0.8" transform="rotate(39 67.2 436.4)" fill="#6a6496" fill-opacity="0.71"/>
<ellipse cx="98.5" cy="422.1" rx="0.9" ry="0.8" fill="#5e588a" fill-opacity="0.62"/>
<ellipse cx="50.5" cy="429.5" rx="1.1" ry="0.7" transform="rotate(55 50.5 429.5)" fill="#6a6496" fill-opacity="0.70"/>
<ellipse cx="81.3" cy="458.0" rx="0.8" ry="0.8" fill="#74709e" fill-opacity="0.51"/>
<ellipse cx="55.3" cy="437.3" rx="0.9" ry="0.5" transform="rotate(158 55.3 437.3)" fill="#5e588a" fill-opacity="0.57"/>
<ellipse cx="119.1" cy="403.2" rx="1.4" ry="0.8" transform="rotate(101 119.1 403.2)" fill="#6a6496" fill-opacity="0.42"/>
<ellipse cx="89.5" cy="447.6" rx="0.9" ry="0.8" fill="#5e588a" fill-opacity="0.56"/>
<ellipse cx="22.9" cy="403.3" rx="1.2" ry="0.8" transform="rotate(13 22.9 403.3)" fill="#5e588a" fill-opacity="0.70"/>
<ellipse cx="64.8" cy="412.0" rx="1.3" ry="1.3" fill="#6a6496" fill-opacity="0.59"/>
<ellipse cx="22.1" cy="469.8" rx="1.0" ry="0.5" transform="rotate(146 22.1 469.8)" fill="#6a6496" fill-opacity="0.66"/>
<ellipse cx="115.4" cy="439.0" rx="0.9" ry="0.5" transform="rotate(147 115.4 439.0)" fill="#5e588a" fill-opacity="0.72"/>
<ellipse cx="96.1" cy="455.2" rx="1.0" ry="0.7" transform="rotate(127 96.1 455.2)" fill="#544e7c" fill-opacity="0.69"/>
<ellipse cx="15.0" cy="432.1" rx="1.2" ry="1.1" fill="#5e588a" fill-opacity="0.68"/>
<ellipse cx="106.4" cy="434.8" rx="1.2" ry="0.6" transform="rotate(45 106.4 434.8)" fill="#6a6496" fill-opacity="0.66"/>
<ellipse cx="96.1" cy="407.7" rx="1.1" ry="0.9" fill="#74709e" fill-opacity="0.52"/>
<ellipse cx="92.9" cy="413.7" rx="1.2" ry="1.0" fill="#544e7c" fill-opacity="0.61"/>
<ellipse cx="117.3" cy="447.8" rx="1.3" ry="1.3" fill="#544e7c" fill-opacity="0.68"/>
<ellipse cx="98.2" cy="423.8" rx="1.4" ry="1.4" fill="#6a6496" fill-opacity="0.65"/>
<ellipse cx="88.3" cy="430.5" rx="1.5" ry="0.8" transform="rotate(20 88.3 430.5)" fill="#6a6496" fill-opacity="0.55"/>
<ellipse cx="21.4" cy="444.1" rx="1.3" ry="1.0" transform="rotate(99 21.4 444.1)" fill="#74709e" fill-opacity="0.67"/>
<ellipse cx="128.4" cy="456.3" rx="1.3" ry="1.2" fill="#5e588a" fill-opacity="0.71"/>
<ellipse cx="114.0" cy="416.4" rx="0.7" ry="0.6" fill="#74709e" fill-opacity="0.43"/>
<ellipse cx="88.5" cy="401.4" rx="0.8" ry="0.6" transform="rotate(37 88.5 401.4)" fill="#5e588a" fill-opacity="0.65"/>
<ellipse cx="87.4" cy="416.6" rx="1.1" ry="1.0" fill="#74709e" fill-opacity="0.43"/>
<ellipse cx="59.4" cy="405.8" rx="0.8" ry="0.6" transform="rotate(71 59.4 405.8)" fill="#5e588a" fill-opacity="0.67"/>
<ellipse cx="65.1" cy="430.7" rx="1.0" ry="0.6" transform="rotate(116 65.1 430.7)" fill="#544e7c" fill-opacity="0.69"/>
<ellipse cx="116.3" cy="445.0" rx="1.3" ry="0.7" transform="rotate(12 116.3 445.0)" fill="#6a6496" fill-opacity="0.45"/>
<ellipse cx="115.4" cy="400.5" rx="1.2" ry="0.7" transform="rotate(156 115.4 400.5)" fill="#74709e" fill-opacity="0.75"/>
<ellipse cx="34.2" cy="434.6" rx="1.1" ry="0.6" transform="rotate(116 34.2 434.6)" fill="#6a6496" fill-opacity="0.50"/>
<ellipse cx="113.5" cy="415.1" rx="0.8" ry="0.7" fill="#6a6496" fill-opacity="0.68"/>
<ellipse cx="129.7" cy="416.0" rx="1.5" ry="0.9" transform="rotate(4 129.7 416.0)" fill="#544e7c" fill-opacity="0.48"/>
<ellipse cx="81.9" cy="434.2" rx="1.3" ry="1.1" transform="rotate(83 81.9 434.2)" fill="#6a6496" fill-opacity="0.46"/>
<ellipse cx="98.1" cy="405.7" rx="1.2" ry="0.8" transform="rotate(85 98.1 405.7)" fill="#74709e" fill-opacity="0.42"/>
<ellipse cx="36.5" cy="459.2" rx="1.0" ry="0.6" transform="rotate(81 36.5 459.2)" fill="#544e7c" fill-opacity="0.44"/>
<ellipse cx="48.5" cy="460.4" rx="1.0" ry="1.0" fill="#6a6496" fill-opacity="0.45"/>
<ellipse cx="28.0" cy="460.6" rx="1.1" ry="0.9" fill="#74709e" fill-opacity="0.75"/>
<ellipse cx="53.3" cy="404.6" rx="0.8" ry="0.6" transform="rotate(134 53.3 404.6)" fill="#74709e" fill-opacity="0.65"/>
<ellipse cx="106.8" cy="454.0" rx="0.8" ry="0.7" fill="#5e588a" fill-opacity="0.67"/>
<ellipse cx="126.6" cy="436.2" rx="1.3" ry="1.0" transform="rotate(83 126.6 436.2)" fill="#544e7c" fill-opacity="0.49"/>
<ellipse cx="23.2" cy="425.5" rx="1.2" ry="1.0" fill="#544e7c" fill-opacity="0.68"/>
<ellipse cx="107.2" cy="435.9" rx="0.9" ry="0.7" transform="rotate(65 107.2 435.9)" fill="#5e588a" fill-opacity="0.45"/>
<ellipse cx="98.6" cy="426.7" rx="1.4" ry="1.1" fill="#544e7c" fill-opacity="0.72"/>
<ellipse cx="81.9" cy="426.4" rx="1.4" ry="1.1" fill="#5e588a" fill-opacity="0.45"/>
<ellipse cx="60.8" cy="456.7" rx="1.4" ry="1.1" transform="rotate(177 60.8 456.7)" fill="#74709e" fill-opacity="0.55"/>
<ellipse cx="95.9" cy="404.2" rx="1.3" ry="0.9" transform="rotate(117 95.9 404.2)" fill="#74709e" fill-opacity="0.63"/>
<ellipse cx="16.8" cy="453.6" rx="0.9" ry="0.6" transform="rotate(82 16.8 453.6)" fill="#544e7c" fill-opacity="0.41"/>
<ellipse cx="56.0" cy="422.1" rx="1.5" ry="1.2" fill="#5e588a" fill-opacity="0.59"/>
<ellipse cx="46.6" cy="462.0" rx="1.2" ry="1.1" fill="#5e588a" fill-opacity="0.60"/>
<ellipse cx="107.8" cy="433.6" rx="1.4" ry="1.2" fill="#74709e" fill-opacity="0.70"/>
<ellipse cx="21.9" cy="457.2" rx="1.4" ry="1.3" fill="#544e7c" fill-opacity="0.65"/>
<ellipse cx="42.9" cy="427.4" rx="1.0" ry="0.9" fill="#5e588a" fill-opacity="0.73"/>
<ellipse cx="24.1" cy="403.3" rx="0.8" ry="0.4" transform="rotate(97 24.1 403.3)" fill="#74709e" fill-opacity="0.71"/>
<ellipse cx="37.7" cy="434.7" rx="1.5" ry="0.8" transform="rotate(176 37.7 434.7)" fill="#74709e" fill-opacity="0.56"/>
<ellipse cx="55.9" cy="465.2" rx="0.8" ry="0.5" transform="rotate(155 55.9 465.2)" fill="#5e588a" fill-opacity="0.48"/>
<ellipse cx="47.9" cy="414.7" rx="1.5" ry="1.0" transform="rotate(150 47.9 414.7)" fill="#5e588a" fill-opacity="0.49"/>
<ellipse cx="80.7" cy="416.5" rx="0.8" ry="0.6" transform="rotate(118 80.7 416.5)" fill="#74709e" fill-opacity="0.62"/>
<ellipse cx="34.5" cy="410.4" rx="1.0" ry="0.9" fill="#74709e" fill-opacity="0.66"/>
<ellipse cx="89.7" cy="416.9" rx="0.7" ry="0.7" fill="#5e588a" fill-opacity="0.59"/>
<ellipse cx="76.5" cy="421.3" rx="0.8" ry="0.6" transform="rotate(9 76.5 421.3)" fill="#74709e" fill-opacity="0.68"/>
<ellipse cx="79.6" cy="456.1" rx="1.3" ry="1.3" fill="#544e7c" fill-opacity="0.71"/>
<ellipse cx="20.7" cy="457.0" rx="1.1" ry="0.8" transform="rotate(87 20.7 457.0)" fill="#74709e" fill-opacity="0.71"/>
<ellipse cx="29.2" cy="447.7" rx="1.4" ry="1.3" fill="#5e588a" fill-opacity="0.42"/>
<ellipse cx="57.8" cy="407.0" rx="1.0" ry="0.7" transform="rotate(89 57.8 407.0)" fill="#74709e" fill-opacity="0.66"/>
<ellipse cx="91.1" cy="443.9" rx="1.0" ry="0.8" fill="#5e588a" fill-opacity="0.58"/>
<ellipse cx="36.2" cy="413.8" rx="1.5" ry="1.1" transform="rotate(104 36.2 413.8)" fill="#74709e" fill-opacity="0.45"/>
<ellipse cx="118.7" cy="443.0" rx="1.1" ry="0.9" fill="#544e7c" fill-opacity="0.63"/>
<ellipse cx="43.1" cy="451.8" rx="1.3" ry="0.7" transform="rotate(174 43.1 451.8)" fill="#5e588a" fill-opacity="0.59"/>
<ellipse cx="18.4" cy="400.2" rx="1.4" ry="0.8" transform="rotate(16 18.4 400.2)" fill="#5e588a" fill-opacity="0.51"/>
<ellipse cx="16.6" cy="443.0" rx="1.0" ry="0.9" fill="#6a6496" fill-opacity="0.69"/>
<ellipse cx="76.4" cy="447.8" rx="0.9" ry="0.9" fill="#74709e" fill-opacity="0.71"/>
<ellipse cx="90.7" cy="464.6" rx="1.4" ry="1.0" transform="rotate(12 90.7 464.6)" fill="#5e588a" fill-opacity="0.54"/>
<ellipse cx="79.3" cy="445.2" rx="0.8" ry="0.6" transform="rotate(141 79.3 445.2)" fill="#5e588a" fill-opacity="0.58"/>
<ellipse cx="49.3" cy="455.4" rx="1.3" ry="1.2" fill="#74709e" fill-opacity="0.59"/>
<ellipse cx="30.2" cy="418.6" rx="1.0" ry="0.9" fill="#6a6496" fill-opacity="0.71"/>
<ellipse cx="18.7" cy="404.2" rx="1.4" ry="1.4" fill="#5e588a" fill-opacity="0.70"/>
<ellipse cx="114.2" cy="420.3" rx="0.8" ry="0.8" fill="#5e588a" fill-opacity="0.44"/>
<ellipse cx="111.7" cy="449.8" rx="1.1" ry="0.7" transform="rotate(163 111.7 449.8)" fill="#74709e" fill-opacity="0.62"/>
<ellipse cx="22.1" cy="419.3" rx="0.8" ry="0.6" transform="rotate(103 22.1 419.3)" fill="#74709e" fill-opacity="0.42"/>
<ellipse cx="47.1" cy="452.4" rx="1.4" ry="0.9" transform="rotate(14 47.1 452.4)" fill="#544e7c" fill-opacity="0.62"/>
<ellipse cx="70.9" cy="417.4" rx="1.1" ry="0.8" transform="rotate(97 70.9 417.4)" fill="#5e588a" fill-opacity="0.74"/>
<ellipse cx="106.8" cy="457.8" rx="1.1" ry="0.7" transform="rotate(98 106.8 457.8)" fill="#6a6496" fill-opacity="0.42"/>
<ellipse cx="93.7" cy="417.8" rx="1.4" ry="0.8" transform="rotate(178 93.7 417.8)" fill="#544e7c" fill-opacity="0.48"/>
<ellipse cx="17.8" cy="462.0" rx="0.8" ry="0.5" transform="rotate(3 17.8 462.0)" fill="#5e588a" fill-opacity="0.45"/>
<ellipse cx="15.2" cy="468.7" rx="1.2" ry="0.8" transform="rotate(31 15.2 468.7)" fill="#544e7c" fill-opacity="0.50"/>
<ellipse cx="61.2" cy="454.7" rx="1.2" ry="0.8" transform="rotate(88 61.2 454.7)" fill="#6a6496" fill-opacity="0.51"/>
<ellipse cx="79.4" cy="428.4" rx="1.4" ry="1.4" fill="#6a6496" fill-opacity="0.58"/>
<ellipse cx="65.4" cy="461.7" rx="1.3" ry="1.3" fill="#6a6496" fill-opacity="0.63"/>
<ellipse cx="129.7" cy="416.8" rx="1.3" ry="0.8" transform="rotate(145 129.7 416.8)" fill="#5e588a" fill-opacity="0.52"/>
<ellipse cx="103.8" cy="419.6" rx="0.8" ry="0.6" transform="rotate(143 103.8 419.6)" fill="#6a6496" fill-opacity="0.59"/>
<ellipse cx="67.4" cy="402.6" rx="1.4" ry="0.9" transform="rotate(28 67.4 402.6)" fill="#6a6496" fill-opacity="0.53"/>
<ellipse cx="43.9" cy="424.0" rx="1.1" ry="0.7" transform="rotate(90 43.9 424.0)" fill="#544e7c" fill-opacity="0.44"/>
<ellipse cx="12.0" cy="411.4" rx="1.1" ry="0.8" transform="rotate(41 12.0 411.4)" fill="#6a6496" fill-opacity="0.42"/>
<ellipse cx="32.1" cy="448.8" rx="0.9" ry="0.6" transform="rotate(110 32.1 448.8)" fill="#6a6496" fill-opacity="0.63"/>
<ellipse cx="48.8" cy="427.7" rx="1.0" ry="0.9" fill="#5e588a" fill-opacity="0.71"/>
<ellipse cx="65.6" cy="470.9" rx="0.7" ry="0.4" transform="rotate(139 65.6 470.9)" fill="#74709e" fill-opacity="0.62"/>
<ellipse cx="56.0" cy="443.7" rx="1.2" ry="0.7" transform="rotate(6 56.0 443.7)" fill="#6a6496" fill-opacity="0.49"/>
<ellipse cx="32.7" cy="419.1" rx="0.7" ry="0.4" transform="rotate(27 32.7 419.1)" fill="#6a6496" fill-opacity="0.48"/>
<ellipse cx="33.3" cy="407.2" rx="0.7" ry="0.6" fill="#5e588a" fill-opacity="0.62"/>
<ellipse cx="29.5" cy="419.0" rx="0.8" ry="0.6" transform="rotate(45 29.5 419.0)" fill="#6a6496" fill-opacity="0.69"/>
<ellipse cx="52.8" cy="438.4" rx="1.0" ry="0.9" fill="#74709e" fill-opacity="0.74"/>
<ellipse cx="31.7" cy="443.2" rx="1.1" ry="0.7" transform="rotate(88 31.7 443.2)" fill="#544e7c" fill-opacity="0.41"/>
<ellipse cx="28.4" cy="424.5" rx="1.5" ry="1.3" fill="#6a6496" fill-opacity="0.47"/>
<ellipse cx="25.1" cy="438.3" rx="0.8" ry="0.7" fill="#6a6496" fill-opacity="0.42"/>
<ellipse cx="113.6" cy="459.7" rx="1.1" ry="1.0" fill="#5e588a" fill-opacity="0.54"/>
<ellipse cx="57.1" cy="424.7" rx="1.4" ry="0.9" transform="rotate(21 57.1 424.7)" fill="#74709e" fill-opacity="0.60"/>
<ellipse cx="48.2" cy="421.3" rx="0.9" ry="0.9" fill="#5e588a" fill-opacity="0.63"/>
<ellipse cx="56.5" cy="417.5" rx="1.5" ry="0.9" transform="rotate(71 56.5 417.5)" fill="#74709e" fill-opacity="0.47"/>
<ellipse cx="43.9" cy="455.0" rx="1.2" ry="0.8" transform="rotate(15 43.9 455.0)" fill="#74709e" fill-opacity="0.70"/>
<ellipse cx="94.1" cy="427.7" rx="0.9" ry="0.6" transform="rotate(80 94.1 427.7)" fill="#544e7c" fill-opacity="0.44"/>
<ellipse cx="47.5" cy="428.5" rx="1.2" ry="0.9" transform="rotate(6 47.5 428.5)" fill="#544e7c" fill-opacity="0.48"/>
<ellipse cx="107.2" cy="421.2" rx="1.3" ry="0.7" transform="rotate(124 107.2 421.2)" fill="#544e7c" fill-opacity="0.44"/>
<ellipse cx="111.5" cy="460.0" rx="1.2" ry="0.7" transform="rotate(132 111.5 460.0)" fill="#544e7c" fill-opacity="0.52"/>
<ellipse cx="80.8" cy="437.2" rx="1.3" ry="0.8" transform="rotate(91 80.8 437.2)" fill="#544e7c" fill-opacity="0.46"/>
<ellipse cx="114.3" cy="421.0" rx="1.3" ry="1.1" transform="rotate(111 114.3 421.0)" fill="#544e7c" fill-opacity="0.72"/>
<ellipse cx="43.3" cy="437.0" rx="1.5" ry="0.8" transform="rotate(64 43.3 437.0)" fill="#5e588a" fill-opacity="0.64"/>
<ellipse cx="76.7" cy="428.2" rx="1.3" ry="0.9" transform="rotate(70 76.7 428.2)" fill="#74709e" fill-opacity="0.74"/>
<ellipse cx="68.7" cy="464.4" rx="0.7" ry="0.5" transform="rotate(101 68.7 464.4)" fill="#5e588a" fill-opacity="0.69"/>
<ellipse cx="46.6" cy="416.1" rx="1.4" ry="1.4" fill="#6a6496" fill-opacity="0.52"/>
<ellipse cx="90.5" cy="440.1" rx="1.1" ry="0.6" transform="rotate(158 90.5 440.1)" fill="#6a6496" fill-opacity="0.66"/>
<ellipse cx="38.4" cy="414.5" rx="1.0" ry="0.6" transform="rotate(77 38.4 414.5)" fill="#74709e" fill-opacity="0.50"/>
<ellipse cx="81.7" cy="467.8" rx="1.5" ry="0.9" transform="rotate(16 81.7 467.8)" fill="#544e7c" fill-opacity="0.44"/>
<ellipse cx="17.3" cy="402.0" rx="1.4" ry="1.0" transform="rotate(132 17.3 402.0)" fill="#6a6496" fill-opacity="0.56"/>
<ellipse cx="19.0" cy="449.9" rx="0.8" ry="0.6" transform="rotate(6 19.0 449.9)" fill="#6a6496" fill-opacity="0.57"/>
<ellipse cx="70.8" cy="456.2" rx="1.0" ry="0.7" transform="rotate(147 70.8 456.2)" fill="#5e588a" fill-opacity="0.50"/>
<ellipse cx="94.1" cy="470.0" rx="1.4" ry="1.4" fill="#5e588a" fill-opacity="0.50"/>
<ellipse cx="105.6" cy="453.3" rx="0.8" ry="0.8" fill="#6a6496" fill-opacity="0.41"/>
<ellipse cx="30.6" cy="469.5" rx="1.4" ry="0.9" transform="rotate(37 30.6 469.5)" fill="#6a6496" fill-opacity="0.70"/>
<ellipse cx="31.0" cy="426.2" rx="0.9" ry="0.5" transform="rotate(71 31.0 426.2)" fill="#6a6496" fill-opacity="0.61"/>
<ellipse cx="15.4" cy="409.5" rx="1.4" ry="1.1" fill="#544e7c" fill-opacity="0.48"/>
<ellipse cx="100.9" cy="470.8" rx="1.2" ry="0.9" transform="rotate(156 100.9 470.8)" fill="#74709e" fill-opacity="0.54"/>
<ellipse cx="81.1" cy="427.0" rx="0.8" ry="0.6" transform="rotate(94 81.1 427.0)" fill="#5e588a" fill-opacity="0.50"/>
<ellipse cx="18.8" cy="435.0" rx="1.2" ry="1.0" fill="#6a6496" fill-opacity="0.54"/>
<ellipse cx="15.5" cy="445.5" rx="1.0" ry="0.9" fill="#5e588a" fill-opacity="0.45"/>
<ellipse cx="36.0" cy="458.4" rx="1.5" ry="1.5" fill="#74709e" fill-opacity="0.72"/>
<ellipse cx="38.5" cy="420.1" rx="0.9" ry="0.8" fill="#544e7c" fill-opacity="0.48"/>
<ellipse cx="93.7" cy="445.5" rx="0.8" ry="0.6" transform="rotate(119 93.7 445.5)" fill="#74709e" fill-opacity="0.58"/>
<ellipse cx="28.3" cy="437.9" rx="0.8" ry="0.5" transform="rotate(171 28.3 437.9)" fill="#6a6496" fill-opacity="0.65"/>
<ellipse cx="66.2" cy="437.4" rx="0.7" ry="0.6" fill="#544e7c" fill-opacity="0.51"/>
<ellipse cx="65.4" cy="424.6" rx="1.0" ry="0.6" transform="rotate(131 65.4 424.6)" fill="#6a6496" fill-opacity="0.67"/>
<ellipse cx="98.7" cy="414.1" rx="1.2" ry="0.9" transform="rotate(126 98.7 414.1)" fill="#544e7c" fill-opacity="0.73"/>
<ellipse cx="63.3" cy="460.9" rx="0.9" ry="0.5" transform="rotate(33 63.3 460.9)" fill="#6a6496" fill-opacity="0.55"/>
<ellipse cx="70.7" cy="404.5" rx="1.4" ry="0.8" transform="rotate(7 70.7 404.5)" fill="#5e588a" fill-opacity="0.62"/>
<ellipse cx="106.1" cy="434.1" rx="1.0" ry="0.7" transform="rotate(122 106.1 434.1)" fill="#544e7c" fill-opacity="0.60"/>
<ellipse cx="26.3" cy="434.8" rx="1.4" ry="1.0" transform="rotate(166 26.3 434.8)" fill="#74709e" fill-opacity="0.65"/>
<ellipse cx="95.0" cy="455.9" rx="1.0" ry="0.7" transform="rotate(27 95.0 455.9)" fill="#5e588a" fill-opacity="0.57"/>
<ellipse cx="97.0" cy="425.8" rx="1.4" ry="1.3" fill="#6a6496" fill-opacity="0.70"/>
<ellipse cx="62.3" cy="453.5" rx="1.5" ry="0.8" transform="rotate(168 62.3 453.5)" fill="#6a6496" fill-opacity="0.42"/>
<ellipse cx="26.3" cy="412.1" rx="1.3" ry="1.2" fill="#74709e" fill-opacity="0.43"/>
<ellipse cx="60.8" cy="455.7" rx="1.3" ry="1.0" transform="rotate(74 60.8 455.7)" fill="#74709e" fill-opacity="0.59"/>
<ellipse cx="103.2" cy="454.4" rx="0.7" ry="0.6" fill="#5e588a" fill-opacity="0.51"/>
<ellipse cx="66.6" cy="444.3" rx="1.2" ry="0.7" transform="rotate(15 66.6 444.3)" fill="#5e588a" fill-opacity="0.63"/>
<ellipse cx="100.0" cy="435.0" rx="1.0" ry="0.9" fill="#544e7c" fill-opacity="0.52"/>
<ellipse cx="91.6" cy="452.9" rx="1.1" ry="0.8" transform="rotate(75 91.6 452.9)" fill="#6a6496" fill-opacity="0.54"/>
<ellipse cx="123.7" cy="467.0" rx="0.7" ry="0.6" transform="rotate(158 123.7 467.0)" fill="#544e7c" fill-opacity="0.72"/>
<ellipse cx="99.4" cy="428.6" rx="0.9" ry="0.9" fill="#6a6496" fill-opacity="0.44"/>
<ellipse cx="66.1" cy="439.4" rx="1.1" ry="0.7" transform="rotate(17 66.1 439.4)" fill="#5e588a" fill-opacity="0.59"/>
<ellipse cx="85.2" cy="409.5" rx="1.0" ry="0.6" transform="rotate(104 85.2 409.5)" fill="#6a6496" fill-opacity="0.73"/>
<ellipse cx="81.6" cy="402.0" rx="0.7" ry="0.4" transform="rotate(122 81.6 402.0)" fill="#6a6496" fill-opacity="0.53"/>
<ellipse cx="40.4" cy="433.2" rx="0.8" ry="0.5" transform="rotate(12 40.4 433.2)" fill="#74709e" fill-opacity="0.57"/>
<ellipse cx="13.3" cy="400.6" rx="1.3" ry="1.3" fill="#544e7c" fill-opacity="0.60"/>
<ellipse cx="86.9" cy="458.2" rx="0.9" ry="0.8" fill="#5e588a" fill-opacity="0.42"/>
<ellipse cx="97.0" cy="467.8" rx="1.1" ry="0.8" transform="rotate(158 97.0 467.8)" fill="#74709e" fill-opacity="0.57"/>
<ellipse cx="129.6" cy="402.4" rx="0.8" ry="0.7" fill="#74709e" fill-opacity="0.73"/>
<ellipse cx="37.9" cy="420.6" rx="1.5" ry="1.1" transform="rotate(164 37.9 420.6)" fill="#544e7c" fill-opacity="0.52"/>
<ellipse cx="59.8" cy="425.0" rx="0.8" ry="0.5" transform="rotate(130 59.8 425.0)" fill="#5e588a" fill-opacity="0.49"/>
<ellipse cx="78.0" cy="431.2" rx="1.4" ry="0.9" transform="rotate(155 78.0 431.2)" fill="#74709e" fill-opacity="0.73"/>
<ellipse cx="80.5" cy="448.1" rx="1.4" ry="1.2" fill="#6a6496" fill-opacity="0.73"/>
<ellipse cx="116.2" cy="450.3" rx="1.2" ry="1.1" fill="#544e7c" fill-opacity="0.64"/>
<ellipse cx="68.5" cy="408.7" rx="0.9" ry="0.5" transform="rotate(53 68.5 408.7)" fill="#74709e" fill-opacity="0.53"/>
<ellipse cx="120.9" cy="456.8" rx="1.3" ry="0.9" transform="rotate(163 120.9 456.8)" fill="#544e7c" fill-opacity="0.55"/>
<ellipse cx="112.1" cy="426.6" rx="1.4" ry="1.0" transform="rotate(70 112.1 426.6)" fill="#74709e" fill-opacity="0.54"/>
<ellipse cx="54.8" cy="465.3" rx="1.3" ry="1.0" transform="rotate(77 54.8 465.3)" fill="#74709e" fill-opacity="0.48"/>
<ellipse cx="74.0" cy="437.2" rx="0.9" ry="0.8" fill="#5e588a" fill-opacity="0.59"/>
<ellipse cx="122.4" cy="468.1" rx="1.0" ry="0.7" transform="rotate(167 122.4 468.1)" fill="#74709e" fill-opacity="0.74"/>
<ellipse cx="91.1" cy="405.5" rx="1.2" ry="0.8" transform="rotate(58 91.1 405.5)" fill="#74709e" fill-opacity="0.64"/>
<ellipse cx="61.9" cy="449.3" rx="1.3" ry="1.0" fill="#5e588a" fill-opacity="0.62"/>
<ellipse cx="82.7" cy="433.6" rx="1.5" ry="1.1" transform="rotate(108 82.7 433.6)" fill="#74709e" fill-opacity="0.58"/>
<ellipse cx="65.6" cy="429.7" rx="1.1" ry="1.0" fill="#74709e" fill-opacity="0.59"/>
<ellipse cx="66.4" cy="401.6" rx="0.7" ry="0.7" fill="#74709e" fill-opacity="0.52"/>
<ellipse cx="102.4" cy="410.7" rx="1.4" ry="0.8" transform="rotate(2 102.4 410.7)" fill="#74709e" fill-opacity="0.71"/>
<ellipse cx="68.8" cy="421.4" rx="0.7" ry="0.5" transform="rotate(5 68.8 421.4)" fill="#6a6496" fill-opacity="0.65"/>
<ellipse cx="68.4" cy="415.6" rx="1.3" ry="1.2" fill="#544e7c" fill-opacity="0.66"/>
<ellipse cx="20.8" cy="445.1" rx="1.4" ry="0.7" transform="rotate(142 20.8 445.1)" fill="#74709e" fill-opacity="0.57"/>
<ellipse cx="90.2" cy="442.3" rx="1.2" ry="1.0" fill="#74709e" fill-opacity="0.60"/>
<ellipse cx="55.9" cy="463.2" rx="1.3" ry="1.2" fill="#74709e" fill-opacity="0.53"/>
<ellipse cx="44.7" cy="427.2" rx="1.4" ry="0.8" transform="rotate(21 44.7 427.2)" fill="#544e7c" fill-opacity="0.62"/>
<ellipse cx="23.3" cy="437.2" rx="1.2" ry="1.2" fill="#6a6496" fill-opacity="0.65"/>
<ellipse cx="88.7" cy="452.3" rx="1.0" ry="0.5" transform="rotate(52 88.7 452.3)" fill="#5e588a" fill-opacity="0.53"/>
<ellipse cx="127.6" cy="444.0" rx="0.8" ry="0.7" fill="#6a6496" fill-opacity="0.72"/>
<ellipse cx="103.9" cy="456.3" rx="1.2" ry="1.1" fill="#74709e" fill-opacity="0.45"/>
<ellipse cx="93.1" cy="440.2" rx="0.7" ry="0.5" transform="rotate(113 93.1 440.2)" fill="#74709e" fill-opacity="0.59"/>
<ellipse cx="109.8" cy="468.6" rx="1.5" ry="0.9" transform="rotate(97 109.8 468.6)" fill="#74709e" fill-opacity="0.61"/>
<ellipse cx="27.9" cy="431.6" rx="0.9" ry="0.9" fill="#6a6496" fill-opacity="0.47"/>
<ellipse cx="101.4" cy="467.0" rx="1.1" ry="0.9" fill="#74709e" fill-opacity="0.56"/>
<ellipse cx="96.5" cy="429.4" rx="1.3" ry="0.7" transform="rotate(176 96.5 429.4)" fill="#6a6496" fill-opacity="0.66"/>
<ellipse cx="47.2" cy="430.2" rx="1.0" ry="1.0" fill="#74709e" fill-opacity="0.56"/>
<ellipse cx="76.8" cy="466.2" rx="1.1" ry="0.7" transform="rotate(123 76.8 466.2)" fill="#544e7c" fill-opacity="0.51"/>
<ellipse cx="91.1" cy="439.6" rx="1.5" ry="0.9" transform="rotate(93 91.1 439.6)" fill="#544e7c" fill-opacity="0.46"/>
<ellipse cx="127.8" cy="438.8" rx="0.9" ry="0.6" transform="rotate(166 127.8 438.8)" fill="#6a6496" fill-opacity="0.65"/>
<ellipse cx="108.4" cy="458.4" rx="0.9" ry="0.5" transform="rotate(108 108.4 458.4)" fill="#5e588a" fill-opacity="0.58"/>
<ellipse cx="120.5" cy="446.1" rx="0.9" ry="0.8" fill="#544e7c" fill-opacity="0.74"/>
<ellipse cx="15.0" cy="412.7" rx="1.2" ry="1.2" fill="#5e588a" fill-opacity="0.61"/>
<ellipse cx="35.3" cy="439.5" rx="0.7" ry="0.5" transform="rotate(110 35.3 439.5)" fill="#74709e" fill-opacity="0.55"/>
<ellipse cx="92.9" cy="398.8" rx="0.8" ry="0.5" transform="rotate(176 92.9 398.8)" fill="#544e7c" fill-opacity="0.50"/>
<ellipse cx="17.3" cy="407.3" rx="1.0" ry="0.8" fill="#5e588a" fill-opacity="0.43"/>
<ellipse cx="69.5" cy="418.2" rx="0.8" ry="0.4" transform="rotate(10 69.5 418.2)" fill="#6a6496" fill-opacity="0.46"/>
<ellipse cx="124.1" cy="423.4" rx="0.8" ry="0.7" fill="#5e588a" fill-opacity="0.65"/>
<ellipse cx="113.6" cy="436.5" rx="1.0" ry="0.6" transform="rotate(85 113.6 436.5)" fill="#5e588a" fill-opacity="0.53"/>
<ellipse cx="55.8" cy="404.7" rx="1.1" ry="1.0" fill="#544e7c" fill-opacity="0.58"/>
<ellipse cx="123.5" cy="448.6" rx="1.1" ry="0.7" transform="rotate(166 123.5 448.6)" fill="#74709e" fill-opacity="0.51"/>
<ellipse cx="61.0" cy="447.0" rx="0.8" ry="0.7" fill="#544e7c" fill-opacity="0.61"/>
<ellipse cx="44.0" cy="450.6" rx="1.1" ry="0.6" transform="rotate(121 44.0 450.6)" fill="#5e588a" fill-opacity="0.63"/>
<ellipse cx="83.4" cy="424.5" rx="1.4" ry="1.3" fill="#544e7c" fill-opacity="0.64"/>
<ellipse cx="85.5" cy="423.2" rx="0.8" ry="0.8" fill="#5e588a" fill-opacity="0.69"/>
<ellipse cx="61.3" cy="448.1" rx="0.8" ry="0.7" fill="#6a6496" fill-opacity="0.56"/>
<ellipse cx="75.2" cy="427.5" rx="1.3" ry="0.7" transform="rotate(70 75.2 427.5)" fill="#544e7c" fill-opacity="0.72"/>
<ellipse cx="103.9" cy="411.6" rx="0.9" ry="0.6" transform="rotate(168 103.9 411.6)" fill="#544e7c" fill-opacity="0.57"/>
<ellipse cx="32.1" cy="459.5" rx="1.1" ry="1.0" fill="#544e7c" fill-opacity="0.74"/>
<ellipse cx="32.9" cy="470.4" rx="1.4" ry="0.9" transform="rotate(150 32.9 470.4)" fill="#6a6496" fill-opacity="0.41"/>
<ellipse cx="63.8" cy="433.4" rx="0.9" ry="0.7" transform="rotate(81 63.8 433.4)" fill="#6a6496" fill-opacity="0.65"/>
<ellipse cx="72.2" cy="453.3" rx="0.8" ry="0.7" fill="#544e7c" fill-opacity="0.73"/>
<ellipse cx="39.1" cy="433.0" rx="1.0" ry="0.6" transform="rotate(15 39.1 433.0)" fill="#6a6496" fill-opacity="0.47"/>
<ellipse cx="39.2" cy="454.6" rx="1.2" ry="1.0" fill="#544e7c" fill-opacity="0.70"/>
<ellipse cx="36.6" cy="447.0" rx="1.0" ry="0.7" transform="rotate(96 36.6 447.0)" fill="#544e7c" fill-opacity="0.56"/>
<ellipse cx="27.3" cy="461.7" rx="1.4" ry="1.0" transform="rotate(167 27.3 461.7)" fill="#74709e" fill-opacity="0.73"/>
<ellipse cx="89.0" cy="451.2" rx="1.2" ry="0.8" transform="rotate(111 89.0 451.2)" fill="#74709e" fill-opacity="0.45"/>
<ellipse cx="94.0" cy="450.5" rx="1.3" ry="0.8" transform="rotate(134 94.0 450.5)" fill="#5e588a" fill-opacity="0.68"/>
<ellipse cx="67.6" cy="451.6" rx="0.8" ry="0.4" transform="rotate(98 67.6 451.6)" fill="#544e7c" fill-opacity="0.49"/>
<ellipse cx="57.4" cy="410.8" rx="0.8" ry="0.4" transform="rotate(55 57.4 410.8)" fill="#544e7c" fill-opacity="0.53"/>
<ellipse cx="30.1" cy="458.9" rx="0.9" ry="0.9" fill="#5e588a" fill-opacity="0.72"/>
<ellipse cx="63.7" cy="411.8" rx="1.2" ry="1.0" fill="#74709e" fill-opacity="0.72"/>
<ellipse cx="21.0" cy="415.4" rx="0.7" ry="0.5" transform="rotate(13 21.0 415.4)" fill="#544e7c" fill-opacity="0.62"/>
<ellipse cx="43.3" cy="450.8" rx="1.4" ry="1.2" fill="#6a6496" fill-opacity="0.54"/>
<ellipse cx="95.8" cy="403.7" rx="1.1" ry="0.6" transform="rotate(95 95.8 403.7)" fill="#5e588a" fill-opacity="0.43"/>
<ellipse cx="14.9" cy="458.4" rx="0.9" ry="0.5" transform="rotate(68 14.9 458.4)" fill="#6a6496" fill-opacity="0.70"/>
<ellipse cx="55.5" cy="413.4" rx="1.3" ry="0.8" transform="rotate(125 55.5 413.4)" fill="#544e7c" fill-opacity="0.72"/>
<ellipse cx="45.5" cy="424.3" rx="0.9" ry="0.5" transform="rotate(20 45.5 424.3)" fill="#6a6496" fill-opacity="0.57"/>
<ellipse cx="15.1" cy="447.9" rx="1.1" ry="0.6" transform="rotate(27 15.1 447.9)" fill="#5e588a" fill-opacity="0.41"/>
<ellipse cx="17.2" cy="444.9" rx="1.0" ry="0.8" transform="rotate(73 17.2 444.9)" fill="#6a6496" fill-opacity="0.54"/>
<ellipse cx="89.5" cy="401.0" rx="0.9" ry="0.5" transform="rotate(33 89.5 401.0)" fill="#544e7c" fill-opacity="0.71"/>
<ellipse cx="76.4" cy="461.8" rx="1.3" ry="1.1" fill="#5e588a" fill-opacity="0.52"/>
<ellipse cx="95.1" cy="408.7" rx="0.9" ry="0.6" transform="rotate(137 95.1 408.7)" fill="#74709e" fill-opacity="0.54"/>
<ellipse cx="40.6" cy="405.2" rx="1.4" ry="0.8" transform="rotate(68 40.6 405.2)" fill="#5e588a" fill-opacity="0.44"/>
<ellipse cx="120.3" cy="423.7" rx="0.7" ry="0.6" fill="#6a6496" fill-opacity="0.65"/>
<ellipse cx="84.8" cy="428.7" rx="0.9" ry="0.7" transform="rotate(83 84.8 428.7)" fill="#74709e" fill-opacity="0.44"/>
<ellipse cx="103.7" cy="438.3" rx="1.0" ry="0.5" transform="rotate(174 103.7 438.3)" fill="#5e588a" fill-opacity="0.73"/>
<ellipse cx="19.8" cy="438.6" rx="0.9" ry="0.8" fill="#74709e" fill-opacity="0.72"/>
<ellipse cx="34.3" cy="446.2" rx="0.9" ry="0.8" fill="#74709e" fill-opacity="0.49"/>
<ellipse cx="63.1" cy="445.4" rx="1.2" ry="0.9" transform="rotate(33 63.1 445.4)" fill="#74709e" fill-opacity="0.63"/>
<ellipse cx="48.3" cy="467.4" rx="1.1" ry="1.0" fill="#544e7c" fill-opacity="0.52"/>
<ellipse cx="68.0" cy="430.7" rx="1.1" ry="1.0" fill="#74709e" fill-opacity="0.55"/>
<ellipse cx="39.8" cy="401.0" rx="1.1" ry="1.0" fill="#6a6496" fill-opacity="0.73"/>
<ellipse cx="33.5" cy="432.9" rx="0.8" ry="0.7" fill="#74709e" fill-opacity="0.47"/>
<ellipse cx="97.1" cy="468.2" rx="1.5" ry="0.8" transform="rotate(153 97.1 468.2)" fill="#cac0c0" fill-opacity="0.35"/>
<ellipse cx="70.8" cy="418.5" rx="1.5" ry="0.9" transform="rotate(165 70.8 418.5)" fill="#cac0c0" fill-opacity="0.30"/>
<ellipse cx="111.6" cy="450.4" rx="0.8" ry="0.6" transform="rotate(53 111.6 450.4)" fill="#bcb4c6" fill-opacity="0.32"/>
<ellipse cx="85.6" cy="442.8" rx="0.9" ry="0.6" transform="rotate(113 85.6 442.8)" fill="#c4bcc8" fill-opacity="0.60"/>
<ellipse cx="59.2" cy="466.3" rx="1.6" ry="1.0" transform="rotate(78 59.2 466.3)" fill="#c4bcc8" fill-opacity="0.54"/>
<ellipse cx="120.4" cy="440.7" rx="1.6" ry="1.6" fill="#c4bcc8" fill-opacity="0.47"/>
<ellipse cx="123.4" cy="458.6" rx="1.0" ry="1.0" fill="#cac0c0" fill-opacity="0.37"/>
<ellipse cx="110.5" cy="412.5" rx="1.4" ry="0.8" transform="rotate(150 110.5 412.5)" fill="#bcb4c6" fill-opacity="0.31"/>
<ellipse cx="47.5" cy="464.1" rx="1.1" ry="0.9" transform="rotate(179 47.5 464.1)" fill="#cac0c0" fill-opacity="0.55"/>
<ellipse cx="73.2" cy="422.8" rx="1.0" ry="0.9" fill="#cac0c0" fill-opacity="0.60"/>
<ellipse cx="26.3" cy="434.1" rx="1.2" ry="1.0" fill="#bcb4c6" fill-opacity="0.60"/>
<ellipse cx="107.2" cy="463.2" rx="1.1" ry="0.6" transform="rotate(97 107.2 463.2)" fill="#bcb4c6" fill-opacity="0.55"/>
<ellipse cx="68.6" cy="455.7" rx="0.8" ry="0.7" fill="#bcb4c6" fill-opacity="0.38"/>
<ellipse cx="82.3" cy="454.7" rx="1.2" ry="1.2" fill="#bcb4c6" fill-opacity="0.38"/>
<ellipse cx="30.2" cy="439.4" rx="1.5" ry="1.4" fill="#c4bcc8" fill-opacity="0.42"/>
<ellipse cx="34.4" cy="467.6" rx="0.8" ry="0.8" fill="#cac0c0" fill-opacity="0.44"/>
<ellipse cx="49.4" cy="453.0" rx="0.9" ry="0.7" transform="rotate(169 49.4 453.0)" fill="#cac0c0" fill-opacity="0.54"/>
<ellipse cx="59.8" cy="402.4" rx="0.9" ry="0.8" fill="#cac0c0" fill-opacity="0.56"/>
<ellipse cx="127.6" cy="455.9" rx="1.1" ry="0.5" transform="rotate(124 127.6 455.9)" fill="#c4bcc8" fill-opacity="0.46"/>
<ellipse cx="66.2" cy="446.6" rx="1.0" ry="1.0" fill="#cac0c0" fill-opacity="0.58"/>
<ellipse cx="18.2" cy="404.4" rx="1.2" ry="0.7" transform="rotate(101 18.2 404.4)" fill="#cac0c0" fill-opacity="0.45"/>
<ellipse cx="39.1" cy="434.9" rx="1.1" ry="0.7" transform="rotate(40 39.1 434.9)" fill="#c4bcc8" fill-opacity="0.56"/>
<ellipse cx="39.8" cy="422.5" rx="1.4" ry="1.2" fill="#c4bcc8" fill-opacity="0.57"/>
<ellipse cx="91.9" cy="435.3" rx="1.3" ry="1.1" fill="#c4bcc8" fill-opacity="0.54"/>
<ellipse cx="93.8" cy="413.2" rx="1.0" ry="1.0" fill="#cac0c0" fill-opacity="0.58"/>
<ellipse cx="18.9" cy="420.5" rx="1.1" ry="0.7" transform="rotate(53 18.9 420.5)" fill="#c4bcc8" fill-opacity="0.37"/>
<ellipse cx="14.1" cy="414.6" rx="0.8" ry="0.7" fill="#c4bcc8" fill-opacity="0.34"/>
<ellipse cx="107.1" cy="419.7" rx="0.8" ry="0.4" transform="rotate(56 107.1 419.7)" fill="#bcb4c6" fill-opacity="0.58"/>
<ellipse cx="104.1" cy="425.4" rx="0.9" ry="0.6" transform="rotate(22 104.1 425.4)" fill="#cac0c0" fill-opacity="0.47"/>
<ellipse cx="25.5" cy="442.9" rx="0.9" ry="0.8" fill="#bcb4c6" fill-opacity="0.51"/>
<ellipse cx="12.7" cy="404.9" rx="1.1" ry="1.0" fill="#bcb4c6" fill-opacity="0.31"/>
<ellipse cx="46.3" cy="441.0" rx="1.4" ry="1.0" transform="rotate(87 46.3 441.0)" fill="#cac0c0" fill-opacity="0.48"/>
<ellipse cx="121.9" cy="435.1" rx="1.1" ry="0.8" transform="rotate(159 121.9 435.1)" fill="#c4bcc8" fill-opacity="0.51"/>
<ellipse cx="66.7" cy="408.3" rx="1.0" ry="0.8" fill="#cac0c0" fill-opacity="0.55"/>
<ellipse cx="85.2" cy="414.4" rx="0.9" ry="0.6" transform="rotate(84 85.2 414.4)" fill="#cac0c0" fill-opacity="0.43"/>
<ellipse cx="16.6" cy="439.7" rx="1.1" ry="0.7" transform="rotate(141 16.6 439.7)" fill="#bcb4c6" fill-opacity="0.36"/>
<ellipse cx="57.9" cy="461.9" rx="0.9" ry="0.7" transform="rotate(61 57.9 461.9)" fill="#cac0c0" fill-opacity="0.49"/>
<ellipse cx="60.9" cy="412.3" rx="0.8" ry="0.6" transform="rotate(37 60.9 412.3)" fill="#bcb4c6" fill-opacity="0.35"/>
<ellipse cx="19.7" cy="426.2" rx="1.6" ry="1.0" transform="rotate(64 19.7 426.2)" fill="#bcb4c6" fill-opacity="0.57"/>
<ellipse cx="122.6" cy="454.7" rx="1.2" ry="1.0" transform="rotate(109 122.6 454.7)" fill="#c4bcc8" fill-opacity="0.46"/>
<ellipse cx="114.1" cy="414.1" rx="0.9" ry="0.8" fill="#cac0c0" fill-opacity="0.36"/>
<ellipse cx="24.8" cy="438.4" rx="0.9" ry="0.5" transform="rotate(57 24.8 438.4)" fill="#bcb4c6" fill-opacity="0.49"/>
<ellipse cx="100.3" cy="439.8" rx="1.5" ry="1.1" transform="rotate(122 100.3 439.8)" fill="#bcb4c6" fill-opacity="0.33"/>
<ellipse cx="63.9" cy="439.7" rx="1.3" ry="0.7" transform="rotate(169 63.9 439.7)" fill="#bcb4c6" fill-opacity="0.47"/>
<ellipse cx="126.3" cy="401.3" rx="1.6" ry="0.8" transform="rotate(173 126.3 401.3)" fill="#cac0c0" fill-opacity="0.31"/>
<ellipse cx="101.5" cy="429.7" rx="1.3" ry="0.8" transform="rotate(47 101.5 429.7)" fill="#bcb4c6" fill-opacity="0.33"/>
<ellipse cx="11.2" cy="461.3" rx="1.0" ry="0.7" transform="rotate(20 11.2 461.3)" fill="#cac0c0" fill-opacity="0.44"/>
<ellipse cx="28.4" cy="425.8" rx="0.8" ry="0.6" transform="rotate(56 28.4 425.8)" fill="#c4bcc8" fill-opacity="0.31"/>
<ellipse cx="111.3" cy="454.0" rx="1.3" ry="1.0" transform="rotate(4 111.3 454.0)" fill="#bcb4c6" fill-opacity="0.59"/>
<ellipse cx="80.3" cy="419.2" rx="1.0" ry="1.0" fill="#cac0c0" fill-opacity="0.44"/>
<ellipse cx="38.3" cy="434.1" rx="0.9" ry="0.5" transform="rotate(124 38.3 434.1)" fill="#bcb4c6" fill-opacity="0.56"/>
<ellipse cx="44.5" cy="431.3" rx="1.2" ry="0.6" transform="rotate(117 44.5 431.3)" fill="#c4bcc8" fill-opacity="0.44"/>
<ellipse cx="28.2" cy="431.4" rx="1.0" ry="0.7" transform="rotate(4 28.2 431.4)" fill="#bcb4c6" fill-opacity="0.50"/>
<ellipse cx="17.1" cy="410.5" rx="1.4" ry="0.7" transform="rotate(34 17.1 410.5)" fill="#cac0c0" fill-opacity="0.51"/>
<ellipse cx="59.0" cy="423.9" rx="0.9" ry="0.7" transform="rotate(69 59.0 423.9)" fill="#cac0c0" fill-opacity="0.55"/>
<ellipse cx="123.0" cy="407.5" rx="1.1" ry="0.7" transform="rotate(160 123.0 407.5)" fill="#cac0c0" fill-opacity="0.44"/>
<ellipse cx="81.8" cy="399.5" rx="1.3" ry="0.8" transform="rotate(104 81.8 399.5)" fill="#cac0c0" fill-opacity="0.31"/>
<ellipse cx="34.0" cy="399.6" rx="1.0" ry="0.9" fill="#cac0c0" fill-opacity="0.49"/>
<ellipse cx="78.4" cy="405.3" rx="1.0" ry="0.7" transform="rotate(164 78.4 405.3)" fill="#cac0c0" fill-opacity="0.51"/>
<ellipse cx="86.9" cy="460.5" rx="0.9" ry="0.6" transform="rotate(12 86.9 460.5)" fill="#cac0c0" fill-opacity="0.41"/>
<path d="M41.8 403.0a2.3 2.3 0 1 0 4.5 0a2.3 2.3 0 1 0 -4.5 0M106.7 401.3a2.3 2.3 0 1 0 4.5 0a2.3 2.3 0 1 0 -4.5 0M52.8 408.2a2.1 2.1 0 1 0 4.1 0a2.1 2.1 0 1 0 -4.1 0M64.2 408.2a2.9 2.9 0 1 0 5.8 0a2.9 2.9 0 1 0 -5.8 0M26.7 411.9a2.8 2.8 0 1 0 5.6 0a2.8 2.8 0 1 0 -5.6 0M42.4 414.8a2.8 2.8 0 1 0 5.5 0a2.8 2.8 0 1 0 -5.5 0M62.1 413.3a2.4 2.4 0 1 0 4.8 0a2.4 2.4 0 1 0 -4.8 0M62.7 419.7a3.0 3.0 0 1 0 6.0 0a3.0 3.0 0 1 0 -6.0 0M96.9 418.5a1.8 1.8 0 1 0 3.7 0a1.8 1.8 0 1 0 -3.7 0M111.9 419.6a2.8 2.8 0 1 0 5.5 0a2.8 2.8 0 1 0 -5.5 0M131.8 420.1a2.2 2.2 0 1 0 4.4 0a2.2 2.2 0 1 0 -4.4 0M9.3 423.0a2.8 2.8 0 1 0 5.6 0a2.8 2.8 0 1 0 -5.6 0M66.6 426.4a3.1 3.1 0 1 0 6.2 0a3.1 3.1 0 1 0 -6.2 0M120.4 426.2a3.3 3.3 0 1 0 6.6 0a3.3 3.3 0 1 0 -6.6 0M108.8 429.9a2.6 2.6 0 1 0 5.2 0a2.6 2.6 0 1 0 -5.2 0M6.1 436.7a1.9 1.9 0 1 0 3.9 0a1.9 1.9 0 1 0 -3.9 0M53.8 434.2a1.9 1.9 0 1 0 3.8 0a1.9 1.9 0 1 0 -3.8 0M85.6 435.8a3.4 3.4 0 1 0 6.7 0a3.4 3.4 0 1 0 -6.7 0M94.9 437.2a2.8 2.8 0 1 0 5.7 0a2.8 2.8 0 1 0 -5.7 0M98.1 434.6a3.4 3.4 0 1 0 6.7 0a3.4 3.4 0 1 0 -6.7 0M12.8 440.2a3.2 3.2 0 1 0 6.3 0a3.2 3.2 0 1 0 -6.3 0M32.7 441.8a2.3 2.3 0 1 0 4.6 0a2.3 2.3 0 1 0 -4.6 0M79.0 439.6a2.5 2.5 0 1 0 5.0 0a2.5 2.5 0 1 0 -5.0 0M101.9 440.0a3.0 3.0 0 1 0 6.1 0a3.0 3.0 0 1 0 -6.1 0M28.7 448.9a2.2 2.2 0 1 0 4.3 0a2.2 2.2 0 1 0 -4.3 0M37.3 445.8a1.9 1.9 0 1 0 3.8 0a1.9 1.9 0 1 0 -3.8 0M41.2 447.9a2.1 2.1 0 1 0 4.3 0a2.1 2.1 0 1 0 -4.3 0M57.1 445.9a1.9 1.9 0 1 0 3.7 0a1.9 1.9 0 1 0 -3.7 0M66.7 446.3a2.1 2.1 0 1 0 4.2 0a2.1 2.1 0 1 0 -4.2 0M106.3 446.4a1.9 1.9 0 1 0 3.7 0a1.9 1.9 0 1 0 -3.7 0M21.1 454.1a2.1 2.1 0 1 0 4.2 0a2.1 2.1 0 1 0 -4.2 0M24.4 454.0a3.3 3.3 0 1 0 6.7 0a3.3 3.3 0 1 0 -6.7 0M64.2 453.4a2.1 2.1 0 1 0 4.1 0a2.1 2.1 0 1 0 -4.1 0M6.0 458.7a3.4 3.4 0 1 0 6.8 0a3.4 3.4 0 1 0 -6.8 0M22.5 458.6a3.3 3.3 0 1 0 6.6 0a3.3 3.3 0 1 0 -6.6 0M39.9 459.8a3.1 3.1 0 1 0 6.3 0a3.1 3.1 0 1 0 -6.3 0M53.7 457.2a3.4 3.4 0 1 0 6.9 0a3.4 3.4 0 1 0 -6.9 0M69.4 459.8a2.3 2.3 0 1 0 4.7 0a2.3 2.3 0 1 0 -4.7 0M113.6 458.7a2.2 2.2 0 1 0 4.4 0a2.2 2.2 0 1 0 -4.4 0M129.4 459.4a2.1 2.1 0 1 0 4.2 0a2.1 2.1 0 1 0 -4.2 0M11.0 462.9a2.6 2.6 0 1 0 5.2 0a2.6 2.6 0 1 0 -5.2 0M27.7 463.2a2.1 2.1 0 1 0 4.3 0a2.1 2.1 0 1 0 -4.3 0M40.5 466.0a2.4 2.4 0 1 0 4.9 0a2.4 2.4 0 1 0 -4.9 0M52.6 463.7a2.4 2.4 0 1 0 4.8 0a2.4 2.4 0 1 0 -4.8 0M90.6 466.1a2.8 2.8 0 1 0 5.6 0a2.8 2.8 0 1 0 -5.6 0M123.2 463.0a2.0 2.0 0 1 0 4.1 0a2.0 2.0 0 1 0 -4.1 0M130.4 463.2a2.6 2.6 0 1 0 5.2 0a2.6 2.6 0 1 0 -5.2 0M107.7 470.9a2.0 2.0 0 1 0 4.1 0a2.0 2.0 0 1 0 -4.1 0M12.6 475.3a2.5 2.5 0 1 0 5.0 0a2.5 2.5 0 1 0 -5.0 0M40.2 478.1a3.0 3.0 0 1 0 6.0 0a3.0 3.0 0 1 0 -6.0 0M56.6 476.3a2.5 2.5 0 1 0 5.0 0a2.5 2.5 0 1 0 -5.0 0M65.0 475.5a2.9 2.9 0 1 0 5.8 0a2.9 2.9 0 1 0 -5.8 0M72.9 477.9a2.8 2.8 0 1 0 5.5 0a2.8 2.8 0 1 0 -5.5 0M99.4 476.5a2.9 2.9 0 1 0 5.8 0a2.9 2.9 0 1 0 -5.8 0M130.5 477.7a3.1 3.1 0 1 0 6.3 0a3.1 3.1 0 1 0 -6.3 0" fill="none" stroke="#8c6a62" stroke-opacity="0.33" stroke-width="1.2"/>
<path d="M7.6 400.1a2.5 2.5 0 1 0 4.9 0a2.5 2.5 0 1 0 -4.9 0M14.6 401.8a3.0 3.0 0 1 0 6.0 0a3.0 3.0 0 1 0 -6.0 0M67.7 402.4a2.0 2.0 0 1 0 4.1 0a2.0 2.0 0 1 0 -4.1 0M9.4 407.7a3.4 3.4 0 1 0 6.8 0a3.4 3.4 0 1 0 -6.8 0M23.2 408.8a2.0 2.0 0 1 0 4.0 0a2.0 2.0 0 1 0 -4.0 0M45.6 405.9a2.0 2.0 0 1 0 3.9 0a2.0 2.0 0 1 0 -3.9 0M55.9 408.8a2.0 2.0 0 1 0 3.9 0a2.0 2.0 0 1 0 -3.9 0M71.2 406.8a2.0 2.0 0 1 0 4.0 0a2.0 2.0 0 1 0 -4.0 0M85.5 406.7a2.0 2.0 0 1 0 4.0 0a2.0 2.0 0 1 0 -4.0 0M89.7 406.6a2.1 2.1 0 1 0 4.2 0a2.1 2.1 0 1 0 -4.2 0M124.1 408.2a3.4 3.4 0 1 0 6.7 0a3.4 3.4 0 1 0 -6.7 0M20.3 412.5a2.4 2.4 0 1 0 4.8 0a2.4 2.4 0 1 0 -4.8 0M57.6 412.2a1.8 1.8 0 1 0 3.6 0a1.8 1.8 0 1 0 -3.6 0M79.5 412.5a3.4 3.4 0 1 0 6.8 0a3.4 3.4 0 1 0 -6.8 0M113.2 413.8a2.8 2.8 0 1 0 5.5 0a2.8 2.8 0 1 0 -5.5 0M126.0 412.1a2.4 2.4 0 1 0 4.9 0a2.4 2.4 0 1 0 -4.9 0M72.0 420.2a3.0 3.0 0 1 0 6.1 0a3.0 3.0 0 1 0 -6.1 0M79.1 418.7a1.9 1.9 0 1 0 3.8 0a1.9 1.9 0 1 0 -3.8 0M90.0 420.5a2.8 2.8 0 1 0 5.7 0a2.8 2.8 0 1 0 -5.7 0M123.3 420.1a2.5 2.5 0 1 0 4.9 0a2.5 2.5 0 1 0 -4.9 0M33.2 425.5a3.2 3.2 0 1 0 6.3 0a3.2 3.2 0 1 0 -6.3 0M40.6 426.1a3.4 3.4 0 1 0 6.9 0a3.4 3.4 0 1 0 -6.9 0M62.2 426.0a3.0 3.0 0 1 0 6.1 0a3.0 3.0 0 1 0 -6.1 0M73.8 424.2a1.8 1.8 0 1 0 3.6 0a1.8 1.8 0 1 0 -3.6 0M89.7 425.2a2.7 2.7 0 1 0 5.3 0a2.7 2.7 0 1 0 -5.3 0M93.3 425.1a2.2 2.2 0 1 0 4.4 0a2.2 2.2 0 1 0 -4.4 0M107.5 426.0a3.1 3.1 0 1 0 6.2 0a3.1 3.1 0 1 0 -6.2 0M114.3 423.4a1.9 1.9 0 1 0 3.7 0a1.9 1.9 0 1 0 -3.7 0M11.0 431.4a3.0 3.0 0 1 0 6.0 0a3.0 3.0 0 1 0 -6.0 0M25.8 429.5a1.9 1.9 0 1 0 3.8 0a1.9 1.9 0 1 0 -3.8 0M31.5 429.1a1.9 1.9 0 1 0 3.7 0a1.9 1.9 0 1 0 -3.7 0M38.9 429.9a2.5 2.5 0 1 0 5.0 0a2.5 2.5 0 1 0 -5.0 0M52.7 430.2a1.9 1.9 0 1 0 3.8 0a1.9 1.9 0 1 0 -3.8 0M86.1 429.1a2.5 2.5 0 1 0 5.0 0a2.5 2.5 0 1 0 -5.0 0M122.6 428.5a2.6 2.6 0 1 0 5.3 0a2.6 2.6 0 1 0 -5.3 0M129.7 430.2a3.2 3.2 0 1 0 6.4 0a3.2 3.2 0 1 0 -6.4 0M21.3 434.8a2.4 2.4 0 1 0 4.8 0a2.4 2.4 0 1 0 -4.8 0M67.9 437.4a2.5 2.5 0 1 0 5.0 0a2.5 2.5 0 1 0 -5.0 0M75.0 435.1a2.7 2.7 0 1 0 5.5 0a2.7 2.7 0 1 0 -5.5 0M132.4 434.3a3.1 3.1 0 1 0 6.3 0a3.1 3.1 0 1 0 -6.3 0M24.5 443.3a3.3 3.3 0 1 0 6.7 0a3.3 3.3 0 1 0 -6.7 0M39.2 439.8a2.8 2.8 0 1 0 5.6 0a2.8 2.8 0 1 0 -5.6 0M52.7 440.4a2.4 2.4 0 1 0 4.7 0a2.4 2.4 0 1 0 -4.7 0M66.3 441.9a2.6 2.6 0 1 0 5.2 0a2.6 2.6 0 1 0 -5.2 0M83.7 441.4a2.0 2.0 0 1 0 3.9 0a2.0 2.0 0 1 0 -3.9 0M92.1 440.0a3.0 3.0 0 1 0 6.0 0a3.0 3.0 0 1 0 -6.0 0M98.2 439.8a3.1 3.1 0 1 0 6.2 0a3.1 3.1 0 1 0 -6.2 0M110.3 440.6a3.4 3.4 0 1 0 6.8 0a3.4 3.4 0 1 0 -6.8 0M118.5 442.1a1.9 1.9 0 1 0 3.7 0a1.9 1.9 0 1 0 -3.7 0M131.4 440.1a3.2 3.2 0 1 0 6.4 0a3.2 3.2 0 1 0 -6.4 0M6.5 446.1a3.5 3.5 0 1 0 7.0 0a3.5 3.5 0 1 0 -7.0 0M14.2 448.6a2.3 2.3 0 1 0 4.6 0a2.3 2.3 0 1 0 -4.6 0M79.5 448.2a3.2 3.2 0 1 0 6.5 0a3.2 3.2 0 1 0 -6.5 0M88.0 446.9a3.3 3.3 0 1 0 6.6 0a3.3 3.3 0 1 0 -6.6 0M100.6 447.8a1.8 1.8 0 1 0 3.5 0a1.8 1.8 0 1 0 -3.5 0M121.1 449.3a3.1 3.1 0 1 0 6.2 0a3.1 3.1 0 1 0 -6.2 0M131.9 445.7a3.0 3.0 0 1 0 6.0 0a3.0 3.0 0 1 0 -6.0 0M31.0 454.5a2.2 2.2 0 1 0 4.5 0a2.2 2.2 0 1 0 -4.5 0M47.2 453.9a2.0 2.0 0 1 0 3.9 0a2.0 2.0 0 1 0 -3.9 0M72.5 454.6a2.6 2.6 0 1 0 5.1 0a2.6 2.6 0 1 0 -5.1 0M79.0 452.9a1.9 1.9 0 1 0 3.7 0a1.9 1.9 0 1 0 -3.7 0M100.3 452.2a2.4 2.4 0 1 0 4.7 0a2.4 2.4 0 1 0 -4.7 0M103.0 451.9a2.7 2.7 0 1 0 5.4 0a2.7 2.7 0 1 0 -5.4 0M123.4 453.7a2.9 2.9 0 1 0 5.9 0a2.9 2.9 0 1 0 -5.9 0M130.9 452.7a2.6 2.6 0 1 0 5.3 0a2.6 2.6 0 1 0 -5.3 0M16.9 459.9a2.4 2.4 0 1 0 4.8 0a2.4 2.4 0 1 0 -4.8 0M28.9 460.4a2.3 2.3 0 1 0 4.5 0a2.3 2.3 0 1 0 -4.5 0M121.1 456.9a1.9 1.9 0 1 0 3.8 0a1.9 1.9 0 1 0 -3.8 0M29.8 462.8a3.3 3.3 0 1 0 6.7 0a3.3 3.3 0 1 0 -6.7 0M43.8 466.4a3.0 3.0 0 1 0 6.0 0a3.0 3.0 0 1 0 -6.0 0M79.8 466.2a2.3 2.3 0 1 0 4.6 0a2.3 2.3 0 1 0 -4.6 0M104.9 466.6a2.5 2.5 0 1 0 5.0 0a2.5 2.5 0 1 0 -5.0 0M112.2 464.4a2.9 2.9 0 1 0 5.9 0a2.9 2.9 0 1 0 -5.9 0M8.6 470.3a2.7 2.7 0 1 0 5.4 0a2.7 2.7 0 1 0 -5.4 0M33.4 468.9a3.0 3.0 0 1 0 6.0 0a3.0 3.0 0 1 0 -6.0 0M65.6 470.0a2.3 2.3 0 1 0 4.5 0a2.3 2.3 0 1 0 -4.5 0M114.8 471.4a2.3 2.3 0 1 0 4.5 0a2.3 2.3 0 1 0 -4.5 0M120.7 471.7a3.2 3.2 0 1 0 6.3 0a3.2 3.2 0 1 0 -6.3 0M125.3 470.9a2.9 2.9 0 1 0 5.8 0a2.9 2.9 0 1 0 -5.8 0M18.0 477.5a3.5 3.5 0 1 0 7.0 0a3.5 3.5 0 1 0 -7.0 0M110.7 476.1a3.3 3.3 0 1 0 6.6 0a3.3 3.3 0 1 0 -6.6 0" fill="none" stroke="#7e6060" stroke-opacity="0.33" stroke-width="1.2"/>
<path d="M19.9 401.4a3.4 3.4 0 1 0 6.8 0a3.4 3.4 0 1 0 -6.8 0M122.7 399.9a1.8 1.8 0 1 0 3.5 0a1.8 1.8 0 1 0 -3.5 0M129.4 399.6a2.3 2.3 0 1 0 4.6 0a2.3 2.3 0 1 0 -4.6 0M29.6 405.8a3.4 3.4 0 1 0 6.8 0a3.4 3.4 0 1 0 -6.8 0M35.8 408.5a3.2 3.2 0 1 0 6.3 0a3.2 3.2 0 1 0 -6.3 0M78.4 407.7a2.7 2.7 0 1 0 5.5 0a2.7 2.7 0 1 0 -5.5 0M108.1 407.4a3.3 3.3 0 1 0 6.5 0a3.3 3.3 0 1 0 -6.5 0M118.8 407.8a2.0 2.0 0 1 0 4.0 0a2.0 2.0 0 1 0 -4.0 0M8.4 412.9a1.8 1.8 0 1 0 3.7 0a1.8 1.8 0 1 0 -3.7 0M35.4 412.7a2.5 2.5 0 1 0 5.1 0a2.5 2.5 0 1 0 -5.1 0M66.7 413.8a2.9 2.9 0 1 0 5.7 0a2.9 2.9 0 1 0 -5.7 0M75.7 414.4a1.9 1.9 0 1 0 3.9 0a1.9 1.9 0 1 0 -3.9 0M93.3 411.9a3.0 3.0 0 1 0 5.9 0a3.0 3.0 0 1 0 -5.9 0M106.4 412.6a2.3 2.3 0 1 0 4.7 0a2.3 2.3 0 1 0 -4.7 0M123.5 410.9a2.0 2.0 0 1 0 4.0 0a2.0 2.0 0 1 0 -4.0 0M12.1 420.2a2.9 2.9 0 1 0 5.8 0a2.9 2.9 0 1 0 -5.8 0M18.7 419.2a3.1 3.1 0 1 0 6.3 0a3.1 3.1 0 1 0 -6.3 0M32.0 417.4a1.9 1.9 0 1 0 3.8 0a1.9 1.9 0 1 0 -3.8 0M46.4 417.2a2.8 2.8 0 1 0 5.5 0a2.8 2.8 0 1 0 -5.5 0M53.3 419.0a2.4 2.4 0 1 0 4.8 0a2.4 2.4 0 1 0 -4.8 0M105.9 417.4a2.1 2.1 0 1 0 4.3 0a2.1 2.1 0 1 0 -4.3 0M119.4 417.1a2.7 2.7 0 1 0 5.3 0a2.7 2.7 0 1 0 -5.3 0M23.6 425.1a2.7 2.7 0 1 0 5.4 0a2.7 2.7 0 1 0 -5.4 0M27.8 422.8a1.8 1.8 0 1 0 3.6 0a1.8 1.8 0 1 0 -3.6 0M48.6 425.8a3.3 3.3 0 1 0 6.6 0a3.3 3.3 0 1 0 -6.6 0M82.4 423.7a3.1 3.1 0 1 0 6.3 0a3.1 3.1 0 1 0 -6.3 0M57.7 428.6a3.1 3.1 0 1 0 6.3 0a3.1 3.1 0 1 0 -6.3 0M64.7 432.0a3.4 3.4 0 1 0 6.7 0a3.4 3.4 0 1 0 -6.7 0M92.1 429.0a1.9 1.9 0 1 0 3.8 0a1.9 1.9 0 1 0 -3.8 0M97.1 431.0a2.8 2.8 0 1 0 5.5 0a2.8 2.8 0 1 0 -5.5 0M115.4 430.9a3.1 3.1 0 1 0 6.2 0a3.1 3.1 0 1 0 -6.2 0M34.3 436.8a2.5 2.5 0 1 0 5.0 0a2.5 2.5 0 1 0 -5.0 0M81.5 434.7a3.1 3.1 0 1 0 6.1 0a3.1 3.1 0 1 0 -6.1 0M106.4 434.2a1.9 1.9 0 1 0 3.8 0a1.9 1.9 0 1 0 -3.8 0M114.8 434.3a2.5 2.5 0 1 0 5.1 0a2.5 2.5 0 1 0 -5.1 0M118.3 434.7a2.1 2.1 0 1 0 4.2 0a2.1 2.1 0 1 0 -4.2 0M18.3 440.8a3.3 3.3 0 1 0 6.5 0a3.3 3.3 0 1 0 -6.5 0M46.6 441.6a2.0 2.0 0 1 0 4.0 0a2.0 2.0 0 1 0 -4.0 0M56.1 443.5a2.4 2.4 0 1 0 4.9 0a2.4 2.4 0 1 0 -4.9 0M71.4 441.0a2.2 2.2 0 1 0 4.4 0a2.2 2.2 0 1 0 -4.4 0M21.3 448.5a2.8 2.8 0 1 0 5.6 0a2.8 2.8 0 1 0 -5.6 0M47.2 446.2a2.8 2.8 0 1 0 5.7 0a2.8 2.8 0 1 0 -5.7 0M61.9 446.4a2.2 2.2 0 1 0 4.5 0a2.2 2.2 0 1 0 -4.5 0M111.2 448.6a3.3 3.3 0 1 0 6.6 0a3.3 3.3 0 1 0 -6.6 0M10.8 454.2a3.4 3.4 0 1 0 6.8 0a3.4 3.4 0 1 0 -6.8 0M52.3 454.1a2.6 2.6 0 1 0 5.1 0a2.6 2.6 0 1 0 -5.1 0M86.0 453.2a2.0 2.0 0 1 0 4.0 0a2.0 2.0 0 1 0 -4.0 0M117.7 452.5a2.6 2.6 0 1 0 5.3 0a2.6 2.6 0 1 0 -5.3 0M35.9 458.1a3.3 3.3 0 1 0 6.7 0a3.3 3.3 0 1 0 -6.7 0M46.8 459.8a3.1 3.1 0 1 0 6.2 0a3.1 3.1 0 1 0 -6.2 0M60.7 457.6a2.5 2.5 0 1 0 5.0 0a2.5 2.5 0 1 0 -5.0 0M87.3 460.3a2.7 2.7 0 1 0 5.4 0a2.7 2.7 0 1 0 -5.4 0M93.4 459.5a3.1 3.1 0 1 0 6.2 0a3.1 3.1 0 1 0 -6.2 0M99.2 459.6a2.7 2.7 0 1 0 5.5 0a2.7 2.7 0 1 0 -5.5 0M66.6 463.4a3.0 3.0 0 1 0 6.0 0a3.0 3.0 0 1 0 -6.0 0M69.9 463.6a2.8 2.8 0 1 0 5.6 0a2.8 2.8 0 1 0 -5.6 0M117.0 466.3a1.8 1.8 0 1 0 3.6 0a1.8 1.8 0 1 0 -3.6 0M14.4 468.7a2.3 2.3 0 1 0 4.6 0a2.3 2.3 0 1 0 -4.6 0M25.3 470.4a3.0 3.0 0 1 0 6.0 0a3.0 3.0 0 1 0 -6.0 0M46.0 472.3a3.4 3.4 0 1 0 6.9 0a3.4 3.4 0 1 0 -6.9 0M51.6 470.6a3.1 3.1 0 1 0 6.2 0a3.1 3.1 0 1 0 -6.2 0M59.9 470.7a2.1 2.1 0 1 0 4.2 0a2.1 2.1 0 1 0 -4.2 0M74.6 472.3a2.7 2.7 0 1 0 5.3 0a2.7 2.7 0 1 0 -5.3 0M82.4 469.2a2.1 2.1 0 1 0 4.1 0a2.1 2.1 0 1 0 -4.1 0M88.6 470.7a1.9 1.9 0 1 0 3.8 0a1.9 1.9 0 1 0 -3.8 0M93.3 472.1a3.3 3.3 0 1 0 6.6 0a3.3 3.3 0 1 0 -6.6 0M101.1 470.9a1.9 1.9 0 1 0 3.7 0a1.9 1.9 0 1 0 -3.7 0M132.8 471.6a2.9 2.9 0 1 0 5.8 0a2.9 2.9 0 1 0 -5.8 0M44.8 476.3a2.3 2.3 0 1 0 4.7 0a2.3 2.3 0 1 0 -4.7 0M83.9 476.6a2.8 2.8 0 1 0 5.6 0a2.8 2.8 0 1 0 -5.6 0M91.5 475.5a2.4 2.4 0 1 0 4.7 0a2.4 2.4 0 1 0 -4.7 0M125.8 476.1a1.8 1.8 0 1 0 3.6 0a1.8 1.8 0 1 0 -3.6 0" fill="none" stroke="#98766a" stroke-opacity="0.33" stroke-width="1.2"/>
<path d="M35.7 402.9a1.4 1.2 0 1 0 2.8 0a1.4 1.2 0 1 0 -2.8 0M57.1 400.8a1.4 1.2 0 1 0 2.8 0a1.4 1.2 0 1 0 -2.8 0M114.7 400.1a1.1 1.0 0 1 0 2.3 0a1.1 1.0 0 1 0 -2.3 0M11.0 407.8a1.6 1.3 0 1 0 3.1 0a1.6 1.3 0 1 0 -3.1 0M37.6 408.5a1.8 1.5 0 1 0 3.6 0a1.8 1.5 0 1 0 -3.6 0M65.3 408.6a1.3 1.1 0 1 0 2.7 0a1.3 1.1 0 1 0 -2.7 0M102.5 408.0a1.2 1.0 0 1 0 2.4 0a1.2 1.0 0 1 0 -2.4 0M22.0 412.9a1.2 1.0 0 1 0 2.5 0a1.2 1.0 0 1 0 -2.5 0M68.3 413.3a1.8 1.5 0 1 0 3.6 0a1.8 1.5 0 1 0 -3.6 0M87.9 412.3a1.1 0.9 0 1 0 2.1 0a1.1 0.9 0 1 0 -2.1 0M33.4 417.7a1.0 0.8 0 1 0 1.9 0a1.0 0.8 0 1 0 -1.9 0M47.5 417.2a1.4 1.2 0 1 0 2.9 0a1.4 1.2 0 1 0 -2.9 0M59.2 419.0a2.0 1.7 0 1 0 4.0 0a2.0 1.7 0 1 0 -4.0 0M80.2 418.5a1.0 0.9 0 1 0 2.1 0a1.0 0.9 0 1 0 -2.1 0M24.7 425.5a1.5 1.3 0 1 0 3.0 0a1.5 1.3 0 1 0 -3.0 0M27.9 422.1a1.0 0.9 0 1 0 2.0 0a1.0 0.9 0 1 0 -2.0 0M67.3 426.4a1.8 1.5 0 1 0 3.6 0a1.8 1.5 0 1 0 -3.6 0M122.2 426.4a2.1 1.8 0 1 0 4.2 0a2.1 1.8 0 1 0 -4.2 0M32.5 429.6a1.1 0.9 0 1 0 2.2 0a1.1 0.9 0 1 0 -2.2 0M39.8 430.3a1.4 1.2 0 1 0 2.9 0a1.4 1.2 0 1 0 -2.9 0M44.7 431.2a1.7 1.5 0 1 0 3.5 0a1.7 1.5 0 1 0 -3.5 0M16.8 437.2a1.5 1.3 0 1 0 3.0 0a1.5 1.3 0 1 0 -3.0 0M76.0 434.7a1.6 1.4 0 1 0 3.2 0a1.6 1.4 0 1 0 -3.2 0M83.4 435.0a1.6 1.3 0 1 0 3.2 0a1.6 1.3 0 1 0 -3.2 0M119.6 435.3a1.2 1.0 0 1 0 2.4 0a1.2 1.0 0 1 0 -2.4 0M46.8 441.0a1.3 1.1 0 1 0 2.6 0a1.3 1.1 0 1 0 -2.6 0M53.4 440.8a1.4 1.2 0 1 0 2.8 0a1.4 1.2 0 1 0 -2.8 0M71.7 440.7a1.3 1.1 0 1 0 2.5 0a1.3 1.1 0 1 0 -2.5 0M84.4 441.6a1.2 1.0 0 1 0 2.4 0a1.2 1.0 0 1 0 -2.4 0M30.5 449.3a1.0 0.8 0 1 0 2.0 0a1.0 0.8 0 1 0 -2.0 0M49.4 446.0a1.5 1.3 0 1 0 3.0 0a1.5 1.3 0 1 0 -3.0 0M63.5 445.7a1.2 1.0 0 1 0 2.4 0a1.2 1.0 0 1 0 -2.4 0M31.3 455.1a1.4 1.2 0 1 0 2.8 0a1.4 1.2 0 1 0 -2.8 0M86.6 452.6a1.1 1.0 0 1 0 2.3 0a1.1 1.0 0 1 0 -2.3 0M111.8 455.3a1.5 1.3 0 1 0 3.1 0a1.5 1.3 0 1 0 -3.1 0M17.9 460.1a1.2 1.1 0 1 0 2.5 0a1.2 1.1 0 1 0 -2.5 0M84.1 457.4a1.3 1.1 0 1 0 2.6 0a1.3 1.1 0 1 0 -2.6 0M100.9 459.6a1.6 1.3 0 1 0 3.1 0a1.6 1.3 0 1 0 -3.1 0M41.3 466.5a1.6 1.3 0 1 0 3.1 0a1.6 1.3 0 1 0 -3.1 0M45.7 466.6a1.7 1.4 0 1 0 3.3 0a1.7 1.4 0 1 0 -3.3 0M53.3 463.3a1.3 1.1 0 1 0 2.6 0a1.3 1.1 0 1 0 -2.6 0M59.0 462.4a1.1 0.9 0 1 0 2.2 0a1.1 0.9 0 1 0 -2.2 0M131.3 463.4a1.2 1.0 0 1 0 2.5 0a1.2 1.0 0 1 0 -2.5 0M9.8 469.5a1.4 1.2 0 1 0 2.8 0a1.4 1.2 0 1 0 -2.8 0M53.2 471.2a1.5 1.3 0 1 0 3.1 0a1.5 1.3 0 1 0 -3.1 0M65.8 469.3a1.4 1.2 0 1 0 2.9 0a1.4 1.2 0 1 0 -2.9 0M14.2 474.8a1.3 1.1 0 1 0 2.7 0a1.3 1.1 0 1 0 -2.7 0M46.6 476.4a1.2 1.0 0 1 0 2.4 0a1.2 1.0 0 1 0 -2.4 0M52.2 476.8a2.1 1.8 0 1 0 4.2 0a2.1 1.8 0 1 0 -4.2 0M57.4 476.0a1.4 1.2 0 1 0 2.7 0a1.4 1.2 0 1 0 -2.7 0M66.9 475.3a1.7 1.4 0 1 0 3.4 0a1.7 1.4 0 1 0 -3.4 0M111.5 476.3a1.8 1.5 0 1 0 3.6 0a1.8 1.5 0 1 0 -3.6 0M126.5 475.4a0.8 0.7 0 1 0 1.6 0a0.8 0.7 0 1 0 -1.6 0" fill="#5e5a88" fill-opacity="0.5"/>
<path d="M15.2 401.1a1.7 1.4 0 1 0 3.4 0a1.7 1.4 0 1 0 -3.4 0M21.6 401.3a2.1 1.8 0 1 0 4.3 0a2.1 1.8 0 1 0 -4.3 0M48.9 400.8a1.2 1.0 0 1 0 2.3 0a1.2 1.0 0 1 0 -2.3 0M67.8 403.1a1.3 1.1 0 1 0 2.5 0a1.3 1.1 0 1 0 -2.5 0M74.3 400.9a2.2 1.9 0 1 0 4.4 0a2.2 1.9 0 1 0 -4.4 0M90.0 399.7a1.2 1.0 0 1 0 2.5 0a1.2 1.0 0 1 0 -2.5 0M31.6 405.9a2.2 1.9 0 1 0 4.4 0a2.2 1.9 0 1 0 -4.4 0M46.5 405.1a1.1 0.9 0 1 0 2.1 0a1.1 0.9 0 1 0 -2.1 0M79.5 408.4a1.8 1.5 0 1 0 3.5 0a1.8 1.5 0 1 0 -3.5 0M86.2 406.0a1.2 1.0 0 1 0 2.3 0a1.2 1.0 0 1 0 -2.3 0M109.9 406.8a1.5 1.3 0 1 0 3.0 0a1.5 1.3 0 1 0 -3.0 0M129.0 406.5a1.6 1.4 0 1 0 3.2 0a1.6 1.4 0 1 0 -3.2 0M36.8 413.0a1.4 1.2 0 1 0 2.8 0a1.4 1.2 0 1 0 -2.8 0M58.1 412.4a1.0 0.8 0 1 0 1.9 0a1.0 0.8 0 1 0 -1.9 0M90.6 420.4a1.5 1.3 0 1 0 3.0 0a1.5 1.3 0 1 0 -3.0 0M113.5 419.5a1.4 1.2 0 1 0 2.7 0a1.4 1.2 0 1 0 -2.7 0M50.2 425.7a2.1 1.8 0 1 0 4.2 0a2.1 1.8 0 1 0 -4.2 0M74.0 423.8a0.9 0.7 0 1 0 1.8 0a0.9 0.7 0 1 0 -1.8 0M127.5 424.8a1.5 1.3 0 1 0 3.0 0a1.5 1.3 0 1 0 -3.0 0M71.5 432.3a1.1 0.9 0 1 0 2.2 0a1.1 0.9 0 1 0 -2.2 0M80.3 430.8a1.4 1.2 0 1 0 2.7 0a1.4 1.2 0 1 0 -2.7 0M124.0 429.2a1.4 1.2 0 1 0 2.8 0a1.4 1.2 0 1 0 -2.8 0M22.8 435.0a1.3 1.1 0 1 0 2.5 0a1.3 1.1 0 1 0 -2.5 0M54.0 434.9a0.9 0.8 0 1 0 1.9 0a0.9 0.8 0 1 0 -1.9 0M68.6 436.7a1.5 1.3 0 1 0 3.1 0a1.5 1.3 0 1 0 -3.1 0M14.5 440.4a1.8 1.6 0 1 0 3.7 0a1.8 1.6 0 1 0 -3.7 0M80.0 439.5a1.2 1.0 0 1 0 2.4 0a1.2 1.0 0 1 0 -2.4 0M77.2 448.5a1.4 1.2 0 1 0 2.7 0a1.4 1.2 0 1 0 -2.7 0M26.5 454.5a1.8 1.5 0 1 0 3.6 0a1.8 1.5 0 1 0 -3.6 0M65.7 452.6a1.2 1.0 0 1 0 2.4 0a1.2 1.0 0 1 0 -2.4 0M79.1 452.7a1.1 1.0 0 1 0 2.3 0a1.1 1.0 0 1 0 -2.3 0M7.6 458.8a1.7 1.4 0 1 0 3.3 0a1.7 1.4 0 1 0 -3.3 0M24.9 458.7a1.6 1.4 0 1 0 3.3 0a1.6 1.4 0 1 0 -3.3 0M55.2 456.5a2.2 1.8 0 1 0 4.3 0a2.2 1.8 0 1 0 -4.3 0M75.8 458.8a1.3 1.1 0 1 0 2.6 0a1.3 1.1 0 1 0 -2.6 0M89.5 459.7a1.3 1.1 0 1 0 2.6 0a1.3 1.1 0 1 0 -2.6 0M129.9 459.7a1.1 0.9 0 1 0 2.2 0a1.1 0.9 0 1 0 -2.2 0M29.1 463.2a1.2 1.0 0 1 0 2.3 0a1.2 1.0 0 1 0 -2.3 0M81.6 465.9a1.2 1.1 0 1 0 2.5 0a1.2 1.1 0 1 0 -2.5 0M84.2 465.8a2.0 1.7 0 1 0 4.1 0a2.0 1.7 0 1 0 -4.1 0M92.7 466.5a1.4 1.2 0 1 0 2.8 0a1.4 1.2 0 1 0 -2.8 0M26.6 470.7a1.9 1.6 0 1 0 3.8 0a1.9 1.6 0 1 0 -3.8 0M75.1 472.7a1.7 1.5 0 1 0 3.4 0a1.7 1.5 0 1 0 -3.4 0M90.2 471.0a0.9 0.8 0 1 0 1.8 0a0.9 0.8 0 1 0 -1.8 0M107.7 470.2a1.2 1.1 0 1 0 2.5 0a1.2 1.1 0 1 0 -2.5 0M122.6 471.6a1.8 1.5 0 1 0 3.6 0a1.8 1.5 0 1 0 -3.6 0M33.0 475.0a2.0 1.7 0 1 0 3.9 0a2.0 1.7 0 1 0 -3.9 0M42.0 477.6a1.6 1.4 0 1 0 3.2 0a1.6 1.4 0 1 0 -3.2 0M77.9 475.4a1.5 1.3 0 1 0 3.0 0a1.5 1.3 0 1 0 -3.0 0" fill="#6a6694" fill-opacity="0.5"/>
<path d="M64.8 400.4a1.3 1.1 0 1 0 2.5 0a1.3 1.1 0 1 0 -2.5 0M94.9 402.1a1.6 1.4 0 1 0 3.2 0a1.6 1.4 0 1 0 -3.2 0M104.3 401.5a1.8 1.5 0 1 0 3.5 0a1.8 1.5 0 1 0 -3.5 0M107.8 401.7a1.2 1.0 0 1 0 2.3 0a1.2 1.0 0 1 0 -2.3 0M18.8 409.5a1.1 0.9 0 1 0 2.2 0a1.1 0.9 0 1 0 -2.2 0M24.6 408.7a1.2 1.0 0 1 0 2.5 0a1.2 1.0 0 1 0 -2.5 0M54.6 407.6a0.9 0.8 0 1 0 1.9 0a0.9 0.8 0 1 0 -1.9 0M126.1 408.1a2.0 1.7 0 1 0 3.9 0a2.0 1.7 0 1 0 -3.9 0M62.9 414.1a1.4 1.2 0 1 0 2.8 0a1.4 1.2 0 1 0 -2.8 0M103.9 414.3a1.6 1.4 0 1 0 3.2 0a1.6 1.4 0 1 0 -3.2 0M124.3 411.2a1.0 0.9 0 1 0 2.0 0a1.0 0.9 0 1 0 -2.0 0M13.0 420.4a1.7 1.4 0 1 0 3.4 0a1.7 1.4 0 1 0 -3.4 0M42.0 419.1a1.1 1.0 0 1 0 2.2 0a1.1 1.0 0 1 0 -2.2 0M53.9 419.4a1.4 1.1 0 1 0 2.7 0a1.4 1.1 0 1 0 -2.7 0M121.2 417.3a1.4 1.2 0 1 0 2.7 0a1.4 1.2 0 1 0 -2.7 0M34.4 425.9a2.0 1.7 0 1 0 4.0 0a2.0 1.7 0 1 0 -4.0 0M42.1 426.5a2.0 1.7 0 1 0 4.1 0a2.0 1.7 0 1 0 -4.1 0M54.7 426.2a1.4 1.2 0 1 0 2.8 0a1.4 1.2 0 1 0 -2.8 0M63.0 425.6a1.5 1.3 0 1 0 3.0 0a1.5 1.3 0 1 0 -3.0 0M94.2 425.5a1.0 0.9 0 1 0 2.1 0a1.0 0.9 0 1 0 -2.1 0M59.0 428.5a1.6 1.4 0 1 0 3.2 0a1.6 1.4 0 1 0 -3.2 0M98.3 431.4a1.8 1.5 0 1 0 3.6 0a1.8 1.5 0 1 0 -3.6 0M131.6 430.5a1.7 1.4 0 1 0 3.4 0a1.7 1.4 0 1 0 -3.4 0M86.7 436.3a1.8 1.5 0 1 0 3.6 0a1.8 1.5 0 1 0 -3.6 0M20.3 441.3a1.9 1.6 0 1 0 3.7 0a1.9 1.6 0 1 0 -3.7 0M40.7 440.0a1.7 1.4 0 1 0 3.4 0a1.7 1.4 0 1 0 -3.4 0M67.0 441.4a1.2 1.0 0 1 0 2.4 0a1.2 1.0 0 1 0 -2.4 0M99.6 440.1a1.7 1.5 0 1 0 3.4 0a1.7 1.5 0 1 0 -3.4 0M102.3 440.1a1.9 1.6 0 1 0 3.8 0a1.9 1.6 0 1 0 -3.8 0M111.7 440.5a1.5 1.3 0 1 0 3.1 0a1.5 1.3 0 1 0 -3.1 0M101.0 448.4a0.8 0.7 0 1 0 1.6 0a0.8 0.7 0 1 0 -1.6 0M107.4 446.9a1.0 0.9 0 1 0 2.0 0a1.0 0.9 0 1 0 -2.0 0M122.5 448.7a1.5 1.3 0 1 0 3.0 0a1.5 1.3 0 1 0 -3.0 0M22.1 454.4a1.3 1.1 0 1 0 2.7 0a1.3 1.1 0 1 0 -2.7 0M48.0 454.4a1.0 0.8 0 1 0 1.9 0a1.0 0.8 0 1 0 -1.9 0M61.3 452.1a0.9 0.8 0 1 0 1.8 0a0.9 0.8 0 1 0 -1.8 0M103.3 452.7a1.7 1.4 0 1 0 3.4 0a1.7 1.4 0 1 0 -3.4 0M119.3 452.2a1.3 1.1 0 1 0 2.6 0a1.3 1.1 0 1 0 -2.6 0M29.3 459.6a1.3 1.1 0 1 0 2.6 0a1.3 1.1 0 1 0 -2.6 0M61.7 457.5a1.3 1.1 0 1 0 2.6 0a1.3 1.1 0 1 0 -2.6 0M17.3 462.8a1.9 1.6 0 1 0 3.8 0a1.9 1.6 0 1 0 -3.8 0M72.0 463.6a1.3 1.1 0 1 0 2.6 0a1.3 1.1 0 1 0 -2.6 0M106.5 466.5a1.1 1.0 0 1 0 2.3 0a1.1 1.0 0 1 0 -2.3 0M35.2 469.1a1.6 1.3 0 1 0 3.1 0a1.6 1.3 0 1 0 -3.1 0M48.1 473.0a1.8 1.6 0 1 0 3.7 0a1.8 1.6 0 1 0 -3.7 0M61.3 471.5a1.3 1.1 0 1 0 2.7 0a1.3 1.1 0 1 0 -2.7 0M127.2 471.3a1.4 1.2 0 1 0 2.9 0a1.4 1.2 0 1 0 -2.9 0M19.0 477.6a2.1 1.8 0 1 0 4.2 0a2.1 1.8 0 1 0 -4.2 0M27.4 476.5a2.0 1.7 0 1 0 4.0 0a2.0 1.7 0 1 0 -4.0 0M74.6 478.7a1.3 1.1 0 1 0 2.6 0a1.3 1.1 0 1 0 -2.6 0M92.9 475.0a1.3 1.1 0 1 0 2.7 0a1.3 1.1 0 1 0 -2.7 0M101.0 476.4a1.8 1.5 0 1 0 3.6 0a1.8 1.5 0 1 0 -3.6 0M118.4 478.4a1.3 1.1 0 1 0 2.6 0a1.3 1.1 0 1 0 -2.6 0" fill="#524e7a" fill-opacity="0.5"/>
</g></g>
<clipPath id="cp2"><rect x="131.6" y="398.8" width="119.1" height="73.2"/></clipPath>
<filter id="nz2" x="0" y="0" width="1" height="1" color-interpolation-filters="sRGB"><feTurbulence type="fractalNoise" baseFrequency="0.08" numOctaves="3" seed="20"/><feColorMatrix type="matrix" values="0.116 0 0 0 0.569  -0.039 0 0 0 0.553  -0.310 0 0 0 0.657  0 0 0 0 1" result="A"/><feTurbulence type="fractalNoise" baseFrequency="0.45" numOctaves="2" seed="9"/><feColorMatrix type="matrix" values="0 0.258 0 0 0.371  0 0.258 0 0 0.371  0 0.258 0 0 0.371  0 0 0 0 1" result="B"/><feComposite in="A" in2="B" operator="arithmetic" k1="0" k2="1" k3="1" k4="-0.5"/></filter>
<filter id="bl2" x="-5%" y="-5%" width="110%" height="110%"><feGaussianBlur stdDeviation="0.7"/></filter>
<g clip-path="url(#cp2)">
<rect x="131.6" y="398.8" width="119.1" height="73.2" filter="url(#nz2)"/>
<g filter="url(#bl2)">
<ellipse cx="155.3" cy="423.9" rx="1.2" ry="0.9" transform="rotate(131 155.3 423.9)" fill="#807ca0" fill-opacity="0.37"/>
<ellipse cx="186.2" cy="460.1" rx="1.0" ry="0.9" fill="#6a668e" fill-opacity="0.60"/>
<ellipse cx="194.4" cy="416.5" rx="1.6" ry="1.5" fill="#747098" fill-opacity="0.63"/>
<ellipse cx="148.6" cy="412.8" rx="1.1" ry="0.7" transform="rotate(167 148.6 412.8)" fill="#807ca0" fill-opacity="0.63"/>
<ellipse cx="191.3" cy="439.1" rx="1.7" ry="0.9" transform="rotate(56 191.3 439.1)" fill="#6a668e" fill-opacity="0.69"/>
<ellipse cx="225.3" cy="463.6" rx="1.5" ry="1.2" transform="rotate(74 225.3 463.6)" fill="#807ca0" fill-opacity="0.47"/>
<ellipse cx="139.1" cy="408.9" rx="1.5" ry="0.8" transform="rotate(114 139.1 408.9)" fill="#807ca0" fill-opacity="0.43"/>
<ellipse cx="246.8" cy="438.9" rx="1.0" ry="0.7" transform="rotate(49 246.8 438.9)" fill="#6a668e" fill-opacity="0.42"/>
<ellipse cx="174.8" cy="456.5" rx="1.2" ry="1.1" fill="#747098" fill-opacity="0.52"/>
<ellipse cx="212.8" cy="404.4" rx="1.5" ry="1.0" transform="rotate(31 212.8 404.4)" fill="#747098" fill-opacity="0.46"/>
<ellipse cx="161.7" cy="436.1" rx="1.4" ry="1.4" fill="#747098" fill-opacity="0.64"/>
<ellipse cx="203.8" cy="429.1" rx="1.5" ry="1.0" transform="rotate(114 203.8 429.1)" fill="#747098" fill-opacity="0.68"/>
<ellipse cx="241.8" cy="425.9" rx="1.1" ry="0.9" fill="#807ca0" fill-opacity="0.55"/>
<ellipse cx="189.1" cy="467.5" rx="1.2" ry="0.9" transform="rotate(65 189.1 467.5)" fill="#747098" fill-opacity="0.38"/>
<ellipse cx="178.4" cy="456.2" rx="1.2" ry="0.9" transform="rotate(173 178.4 456.2)" fill="#6a668e" fill-opacity="0.62"/>
<ellipse cx="185.5" cy="439.1" rx="1.7" ry="0.9" transform="rotate(10 185.5 439.1)" fill="#747098" fill-opacity="0.39"/>
<ellipse cx="235.3" cy="470.5" rx="1.6" ry="1.5" fill="#6a668e" fill-opacity="0.45"/>
<ellipse cx="148.0" cy="448.2" rx="1.4" ry="1.1" transform="rotate(95 148.0 448.2)" fill="#807ca0" fill-opacity="0.69"/>
<ellipse cx="147.1" cy="429.8" rx="1.2" ry="1.0" transform="rotate(154 147.1 429.8)" fill="#6a668e" fill-opacity="0.41"/>
<ellipse cx="212.8" cy="405.7" rx="1.4" ry="1.0" transform="rotate(56 212.8 405.7)" fill="#807ca0" fill-opacity="0.64"/>
<ellipse cx="153.5" cy="459.5" rx="1.5" ry="1.2" fill="#807ca0" fill-opacity="0.69"/>
<ellipse cx="207.2" cy="458.6" rx="1.1" ry="0.8" transform="rotate(163 207.2 458.6)" fill="#747098" fill-opacity="0.52"/>
<ellipse cx="229.9" cy="435.2" rx="1.2" ry="0.6" transform="rotate(70 229.9 435.2)" fill="#747098" fill-opacity="0.61"/>
<ellipse cx="182.9" cy="465.1" rx="1.5" ry="1.1" transform="rotate(94 182.9 465.1)" fill="#747098" fill-opacity="0.53"/>
<ellipse cx="140.3" cy="434.1" rx="1.0" ry="0.9" fill="#747098" fill-opacity="0.56"/>
<ellipse cx="142.3" cy="435.0" rx="1.6" ry="1.0" transform="rotate(149 142.3 435.0)" fill="#6a668e" fill-opacity="0.51"/>
<ellipse cx="192.5" cy="437.0" rx="1.2" ry="0.7" transform="rotate(94 192.5 437.0)" fill="#6a668e" fill-opacity="0.50"/>
<ellipse cx="218.9" cy="400.3" rx="1.5" ry="1.3" fill="#807ca0" fill-opacity="0.67"/>
<ellipse cx="132.3" cy="415.0" rx="0.9" ry="0.5" transform="rotate(120 132.3 415.0)" fill="#747098" fill-opacity="0.61"/>
<ellipse cx="249.8" cy="414.7" rx="1.4" ry="0.9" transform="rotate(137 249.8 414.7)" fill="#807ca0" fill-opacity="0.45"/>
<ellipse cx="174.6" cy="415.1" rx="1.8" ry="1.5" fill="#807ca0" fill-opacity="0.68"/>
<ellipse cx="227.9" cy="403.9" rx="1.4" ry="1.4" fill="#747098" fill-opacity="0.64"/>
<ellipse cx="166.3" cy="432.4" rx="1.5" ry="1.2" fill="#747098" fill-opacity="0.45"/>
<ellipse cx="158.7" cy="455.9" rx="1.6" ry="1.0" transform="rotate(42 158.7 455.9)" fill="#6a668e" fill-opacity="0.38"/>
<ellipse cx="168.0" cy="434.4" rx="1.3" ry="1.1" fill="#807ca0" fill-opacity="0.40"/>
<ellipse cx="245.9" cy="410.7" rx="0.9" ry="0.8" fill="#747098" fill-opacity="0.63"/>
<ellipse cx="226.4" cy="400.5" rx="1.2" ry="0.8" transform="rotate(126 226.4 400.5)" fill="#6a668e" fill-opacity="0.46"/>
<ellipse cx="170.2" cy="452.0" rx="1.3" ry="1.2" fill="#747098" fill-opacity="0.50"/>
<ellipse cx="206.2" cy="420.7" rx="1.7" ry="1.3" transform="rotate(55 206.2 420.7)" fill="#807ca0" fill-opacity="0.37"/>
<ellipse cx="188.2" cy="445.7" rx="1.4" ry="1.4" fill="#6a668e" fill-opacity="0.64"/>
<ellipse cx="136.4" cy="403.2" rx="1.1" ry="0.7" transform="rotate(58 136.4 403.2)" fill="#807ca0" fill-opacity="0.45"/>
<ellipse cx="166.1" cy="439.4" rx="1.2" ry="1.1" fill="#747098" fill-opacity="0.65"/>
<ellipse cx="219.4" cy="449.7" rx="1.2" ry="0.9" transform="rotate(5 219.4 449.7)" fill="#6a668e" fill-opacity="0.68"/>
<ellipse cx="226.3" cy="437.4" rx="1.8" ry="1.0" transform="rotate(76 226.3 437.4)" fill="#747098" fill-opacity="0.60"/>
<ellipse cx="243.2" cy="410.8" rx="1.3" ry="1.2" fill="#747098" fill-opacity="0.67"/>
<ellipse cx="238.6" cy="421.6" rx="1.0" ry="0.7" transform="rotate(101 238.6 421.6)" fill="#6a668e" fill-opacity="0.42"/>
<ellipse cx="202.0" cy="403.3" rx="1.0" ry="0.7" transform="rotate(14 202.0 403.3)" fill="#6a668e" fill-opacity="0.63"/>
<ellipse cx="157.7" cy="403.9" rx="1.5" ry="1.0" transform="rotate(114 157.7 403.9)" fill="#807ca0" fill-opacity="0.40"/>
<ellipse cx="177.2" cy="409.3" rx="1.7" ry="1.0" transform="rotate(153 177.2 409.3)" fill="#807ca0" fill-opacity="0.38"/>
<ellipse cx="167.2" cy="425.8" rx="1.8" ry="0.9" transform="rotate(7 167.2 425.8)" fill="#807ca0" fill-opacity="0.65"/>
<ellipse cx="156.2" cy="460.6" rx="1.7" ry="1.5" fill="#807ca0" fill-opacity="0.56"/>
<ellipse cx="241.2" cy="466.9" rx="1.2" ry="0.7" transform="rotate(39 241.2 466.9)" fill="#6a668e" fill-opacity="0.61"/>
<ellipse cx="234.9" cy="462.2" rx="1.2" ry="1.0" fill="#807ca0" fill-opacity="0.39"/>
<ellipse cx="200.8" cy="471.7" rx="1.6" ry="1.1" transform="rotate(153 200.8 471.7)" fill="#6a668e" fill-opacity="0.60"/>
<ellipse cx="203.4" cy="470.8" rx="1.2" ry="1.2" fill="#807ca0" fill-opacity="0.59"/>
<ellipse cx="249.1" cy="421.7" rx="1.0" ry="0.8" fill="#6a668e" fill-opacity="0.69"/>
<ellipse cx="136.5" cy="408.5" rx="1.8" ry="1.4" fill="#6a668e" fill-opacity="0.69"/>
<ellipse cx="241.3" cy="436.6" rx="1.1" ry="0.9" fill="#807ca0" fill-opacity="0.35"/>
<ellipse cx="172.7" cy="430.2" rx="1.7" ry="1.6" fill="#807ca0" fill-opacity="0.61"/>
<ellipse cx="232.0" cy="427.7" rx="0.9" ry="0.5" transform="rotate(145 232.0 427.7)" fill="#747098" fill-opacity="0.66"/>
<ellipse cx="233.6" cy="416.5" rx="1.0" ry="1.0" fill="#807ca0" fill-opacity="0.56"/>
<ellipse cx="247.4" cy="442.2" rx="1.5" ry="1.4" fill="#747098" fill-opacity="0.60"/>
<ellipse cx="215.1" cy="447.2" rx="1.4" ry="0.7" transform="rotate(175 215.1 447.2)" fill="#6a668e" fill-opacity="0.52"/>
<ellipse cx="238.3" cy="446.4" rx="1.6" ry="0.9" transform="rotate(101 238.3 446.4)" fill="#747098" fill-opacity="0.62"/>
<ellipse cx="213.3" cy="415.4" rx="1.4" ry="1.0" transform="rotate(78 213.3 415.4)" fill="#807ca0" fill-opacity="0.43"/>
<ellipse cx="249.7" cy="399.2" rx="1.3" ry="1.2" fill="#6a668e" fill-opacity="0.47"/>
<ellipse cx="188.4" cy="458.4" rx="1.3" ry="1.2" fill="#6a668e" fill-opacity="0.47"/>
<ellipse cx="212.2" cy="449.7" rx="1.6" ry="1.0" transform="rotate(112 212.2 449.7)" fill="#807ca0" fill-opacity="0.57"/>
<ellipse cx="211.1" cy="406.3" rx="1.3" ry="1.2" fill="#807ca0" fill-opacity="0.46"/>
<ellipse cx="237.9" cy="464.3" rx="1.6" ry="1.4" fill="#807ca0" fill-opacity="0.38"/>
<ellipse cx="139.2" cy="417.5" rx="1.5" ry="1.0" transform="rotate(165 139.2 417.5)" fill="#6a668e" fill-opacity="0.63"/>
<ellipse cx="181.2" cy="468.3" rx="1.1" ry="0.7" transform="rotate(33 181.2 468.3)" fill="#747098" fill-opacity="0.61"/>
<ellipse cx="245.8" cy="450.6" rx="1.0" ry="0.6" transform="rotate(15 245.8 450.6)" fill="#6a668e" fill-opacity="0.51"/>
<ellipse cx="180.8" cy="468.3" rx="1.3" ry="1.2" fill="#6a668e" fill-opacity="0.43"/>
<ellipse cx="223.1" cy="466.0" rx="1.5" ry="1.4" fill="#807ca0" fill-opacity="0.38"/>
<ellipse cx="136.1" cy="431.4" rx="1.1" ry="0.7" transform="rotate(85 136.1 431.4)" fill="#6a668e" fill-opacity="0.36"/>
<ellipse cx="182.6" cy="409.7" rx="1.6" ry="0.9" transform="rotate(96 182.6 409.7)" fill="#6a668e" fill-opacity="0.37"/>
<ellipse cx="170.6" cy="446.6" rx="1.8" ry="0.9" transform="rotate(99 170.6 446.6)" fill="#747098" fill-opacity="0.65"/>
<ellipse cx="137.6" cy="427.8" rx="1.6" ry="1.0" transform="rotate(70 137.6 427.8)" fill="#807ca0" fill-opacity="0.66"/>
<ellipse cx="151.5" cy="465.3" rx="1.2" ry="0.7" transform="rotate(88 151.5 465.3)" fill="#6a668e" fill-opacity="0.42"/>
<ellipse cx="136.1" cy="456.0" rx="0.9" ry="0.6" transform="rotate(49 136.1 456.0)" fill="#6a668e" fill-opacity="0.42"/>
<ellipse cx="196.5" cy="459.7" rx="1.7" ry="1.0" transform="rotate(2 196.5 459.7)" fill="#747098" fill-opacity="0.70"/>
<ellipse cx="136.7" cy="436.2" rx="1.2" ry="0.7" transform="rotate(131 136.7 436.2)" fill="#747098" fill-opacity="0.37"/>
<ellipse cx="232.8" cy="426.0" rx="1.1" ry="0.6" transform="rotate(72 232.8 426.0)" fill="#807ca0" fill-opacity="0.66"/>
<ellipse cx="249.3" cy="463.2" rx="1.4" ry="1.2" fill="#6a668e" fill-opacity="0.39"/>
<ellipse cx="169.8" cy="426.0" rx="1.7" ry="1.5" fill="#6a668e" fill-opacity="0.41"/>
<ellipse cx="214.0" cy="440.8" rx="0.9" ry="0.7" transform="rotate(65 214.0 440.8)" fill="#6a668e" fill-opacity="0.52"/>
<ellipse cx="223.9" cy="432.0" rx="1.7" ry="1.5" fill="#6a668e" fill-opacity="0.64"/>
<ellipse cx="204.5" cy="451.9" rx="0.9" ry="0.8" fill="#807ca0" fill-opacity="0.63"/>
<ellipse cx="155.3" cy="461.3" rx="1.4" ry="1.3" fill="#6a668e" fill-opacity="0.57"/>
<ellipse cx="149.9" cy="435.1" rx="1.4" ry="0.8" transform="rotate(148 149.9 435.1)" fill="#807ca0" fill-opacity="0.55"/>
<ellipse cx="217.1" cy="448.8" rx="1.0" ry="0.9" fill="#807ca0" fill-opacity="0.49"/>
<ellipse cx="245.1" cy="469.1" rx="1.6" ry="1.4" fill="#807ca0" fill-opacity="0.59"/>
<ellipse cx="248.3" cy="404.8" rx="1.4" ry="0.8" transform="rotate(21 248.3 404.8)" fill="#6a668e" fill-opacity="0.69"/>
<ellipse cx="177.7" cy="419.2" rx="1.2" ry="0.9" transform="rotate(2 177.7 419.2)" fill="#6a668e" fill-opacity="0.66"/>
<ellipse cx="236.2" cy="446.2" rx="1.0" ry="0.7" transform="rotate(148 236.2 446.2)" fill="#6a668e" fill-opacity="0.55"/>
<ellipse cx="230.9" cy="462.3" rx="1.8" ry="1.2" transform="rotate(70 230.9 462.3)" fill="#807ca0" fill-opacity="0.70"/>
<ellipse cx="134.2" cy="460.3" rx="1.5" ry="1.4" fill="#807ca0" fill-opacity="0.67"/>
<ellipse cx="186.1" cy="424.6" rx="1.3" ry="1.2" fill="#807ca0" fill-opacity="0.47"/>
<ellipse cx="249.0" cy="418.1" rx="1.4" ry="0.7" transform="rotate(18 249.0 418.1)" fill="#807ca0" fill-opacity="0.64"/>
<ellipse cx="141.4" cy="444.4" rx="1.3" ry="0.7" transform="rotate(132 141.4 444.4)" fill="#807ca0" fill-opacity="0.55"/>
<ellipse cx="143.3" cy="471.1" rx="1.4" ry="1.1" transform="rotate(64 143.3 471.1)" fill="#6a668e" fill-opacity="0.45"/>
<ellipse cx="214.5" cy="445.3" rx="1.5" ry="1.2" transform="rotate(118 214.5 445.3)" fill="#6a668e" fill-opacity="0.47"/>
<ellipse cx="239.2" cy="465.3" rx="1.3" ry="0.9" transform="rotate(174 239.2 465.3)" fill="#6a668e" fill-opacity="0.37"/>
<ellipse cx="209.9" cy="459.4" rx="1.3" ry="0.7" transform="rotate(112 209.9 459.4)" fill="#747098" fill-opacity="0.58"/>
<ellipse cx="181.7" cy="449.3" rx="1.7" ry="1.1" transform="rotate(72 181.7 449.3)" fill="#6a668e" fill-opacity="0.56"/>
<ellipse cx="242.1" cy="455.8" rx="1.6" ry="1.4" fill="#807ca0" fill-opacity="0.56"/>
<ellipse cx="185.8" cy="468.5" rx="1.4" ry="0.7" transform="rotate(60 185.8 468.5)" fill="#6a668e" fill-opacity="0.67"/>
<ellipse cx="134.2" cy="456.0" rx="1.4" ry="1.2" fill="#747098" fill-opacity="0.59"/>
<ellipse cx="178.2" cy="438.1" rx="1.0" ry="0.8" fill="#6a668e" fill-opacity="0.47"/>
<ellipse cx="208.6" cy="417.0" rx="1.2" ry="0.7" transform="rotate(19 208.6 417.0)" fill="#747098" fill-opacity="0.40"/>
<ellipse cx="239.5" cy="420.9" rx="1.3" ry="1.2" fill="#6a668e" fill-opacity="0.38"/>
<ellipse cx="242.1" cy="466.0" rx="1.3" ry="0.9" transform="rotate(88 242.1 466.0)" fill="#747098" fill-opacity="0.59"/>
<ellipse cx="164.3" cy="463.3" rx="1.1" ry="1.1" fill="#747098" fill-opacity="0.40"/>
<ellipse cx="188.5" cy="418.5" rx="1.6" ry="1.2" transform="rotate(45 188.5 418.5)" fill="#747098" fill-opacity="0.55"/>
<ellipse cx="216.0" cy="446.8" rx="1.0" ry="0.6" transform="rotate(11 216.0 446.8)" fill="#807ca0" fill-opacity="0.52"/>
<ellipse cx="208.7" cy="412.1" rx="1.0" ry="0.9" fill="#807ca0" fill-opacity="0.44"/>
<ellipse cx="153.2" cy="452.8" rx="1.5" ry="1.3" fill="#807ca0" fill-opacity="0.56"/>
<ellipse cx="204.0" cy="442.5" rx="1.3" ry="0.9" transform="rotate(175 204.0 442.5)" fill="#747098" fill-opacity="0.37"/>
<ellipse cx="248.0" cy="427.9" rx="1.2" ry="0.9" transform="rotate(172 248.0 427.9)" fill="#6a668e" fill-opacity="0.43"/>
<ellipse cx="161.8" cy="420.3" rx="1.0" ry="0.6" transform="rotate(55 161.8 420.3)" fill="#e4d2b4" fill-opacity="0.50"/>
<ellipse cx="150.7" cy="457.8" rx="1.0" ry="0.8" fill="#ecdcbc" fill-opacity="0.59"/>
<ellipse cx="178.8" cy="403.4" rx="1.7" ry="1.3" transform="rotate(146 178.8 403.4)" fill="#e4d2b4" fill-opacity="0.75"/>
<ellipse cx="183.4" cy="458.6" rx="1.6" ry="1.5" fill="#ecdcbc" fill-opacity="0.70"/>
<ellipse cx="188.3" cy="415.7" rx="0.8" ry="0.7" fill="#dcccb0" fill-opacity="0.47"/>
<ellipse cx="183.2" cy="410.6" rx="1.3" ry="1.0" fill="#ecdcbc" fill-opacity="0.52"/>
<ellipse cx="212.7" cy="467.8" rx="0.9" ry="0.9" fill="#dcccb0" fill-opacity="0.67"/>
<ellipse cx="221.1" cy="471.7" rx="1.2" ry="0.8" transform="rotate(83 221.1 471.7)" fill="#e4d2b4" fill-opacity="0.57"/>
<ellipse cx="241.8" cy="443.5" rx="1.4" ry="1.2" fill="#e4d2b4" fill-opacity="0.70"/>
<ellipse cx="134.6" cy="435.8" rx="1.0" ry="0.6" transform="rotate(98 134.6 435.8)" fill="#dcccb0" fill-opacity="0.54"/>
<ellipse cx="178.5" cy="437.3" rx="1.0" ry="0.8" transform="rotate(0 178.5 437.3)" fill="#e4d2b4" fill-opacity="0.62"/>
<ellipse cx="207.2" cy="424.3" rx="1.6" ry="1.4" fill="#dcccb0" fill-opacity="0.47"/>
<ellipse cx="244.4" cy="408.2" rx="1.6" ry="1.4" fill="#ecdcbc" fill-opacity="0.52"/>
<ellipse cx="185.3" cy="410.5" rx="1.0" ry="0.8" transform="rotate(29 185.3 410.5)" fill="#dcccb0" fill-opacity="0.74"/>
<ellipse cx="154.0" cy="421.5" rx="0.9" ry="0.6" transform="rotate(46 154.0 421.5)" fill="#dcccb0" fill-opacity="0.46"/>
<ellipse cx="142.8" cy="410.9" rx="1.7" ry="0.9" transform="rotate(155 142.8 410.9)" fill="#dcccb0" fill-opacity="0.62"/>
<ellipse cx="162.9" cy="437.9" rx="1.4" ry="1.1" fill="#e4d2b4" fill-opacity="0.67"/>
<ellipse cx="138.6" cy="460.6" rx="1.5" ry="1.2" transform="rotate(158 138.6 460.6)" fill="#e4d2b4" fill-opacity="0.41"/>
<ellipse cx="163.9" cy="402.5" rx="1.1" ry="0.7" transform="rotate(39 163.9 402.5)" fill="#dcccb0" fill-opacity="0.66"/>
<ellipse cx="173.1" cy="443.7" rx="1.8" ry="1.4" transform="rotate(65 173.1 443.7)" fill="#e4d2b4" fill-opacity="0.70"/>
<ellipse cx="193.9" cy="398.9" rx="1.4" ry="1.1" transform="rotate(14 193.9 398.9)" fill="#ecdcbc" fill-opacity="0.66"/>
<ellipse cx="206.2" cy="434.5" rx="1.7" ry="1.4" fill="#e4d2b4" fill-opacity="0.65"/>
<ellipse cx="236.9" cy="442.1" rx="1.8" ry="1.6" fill="#ecdcbc" fill-opacity="0.42"/>
<ellipse cx="150.5" cy="460.8" rx="1.3" ry="0.9" transform="rotate(91 150.5 460.8)" fill="#ecdcbc" fill-opacity="0.41"/>
<ellipse cx="207.6" cy="409.4" rx="1.0" ry="0.8" fill="#e4d2b4" fill-opacity="0.50"/>
<ellipse cx="228.1" cy="453.3" rx="1.5" ry="1.4" fill="#e4d2b4" fill-opacity="0.61"/>
<ellipse cx="154.7" cy="401.8" rx="0.9" ry="0.7" transform="rotate(117 154.7 401.8)" fill="#dcccb0" fill-opacity="0.54"/>
<ellipse cx="196.2" cy="437.1" rx="0.9" ry="0.5" transform="rotate(174 196.2 437.1)" fill="#e4d2b4" fill-opacity="0.67"/>
<ellipse cx="180.2" cy="443.3" rx="0.9" ry="0.5" transform="rotate(26 180.2 443.3)" fill="#e4d2b4" fill-opacity="0.69"/>
<ellipse cx="179.2" cy="423.7" rx="1.1" ry="0.7" transform="rotate(147 179.2 423.7)" fill="#e4d2b4" fill-opacity="0.47"/>
<ellipse cx="239.2" cy="467.3" rx="1.0" ry="0.8" transform="rotate(56 239.2 467.3)" fill="#dcccb0" fill-opacity="0.71"/>
<ellipse cx="132.2" cy="439.2" rx="1.3" ry="0.9" transform="rotate(30 132.2 439.2)" fill="#dcccb0" fill-opacity="0.59"/>
<ellipse cx="244.3" cy="433.7" rx="1.2" ry="1.0" fill="#ecdcbc" fill-opacity="0.73"/>
<ellipse cx="206.3" cy="465.7" rx="1.1" ry="0.6" transform="rotate(23 206.3 465.7)" fill="#dcccb0" fill-opacity="0.73"/>
<ellipse cx="153.4" cy="415.1" rx="0.8" ry="0.5" transform="rotate(77 153.4 415.1)" fill="#dcccb0" fill-opacity="0.53"/>
<ellipse cx="191.2" cy="453.9" rx="1.1" ry="0.8" transform="rotate(161 191.2 453.9)" fill="#dcccb0" fill-opacity="0.67"/>
<ellipse cx="142.5" cy="440.7" rx="1.7" ry="1.6" fill="#ecdcbc" fill-opacity="0.68"/>
<ellipse cx="200.8" cy="460.8" rx="1.4" ry="1.3" fill="#ecdcbc" fill-opacity="0.60"/>
<ellipse cx="210.1" cy="422.0" rx="1.3" ry="1.0" fill="#e4d2b4" fill-opacity="0.46"/>
<ellipse cx="242.7" cy="455.9" rx="1.8" ry="1.3" transform="rotate(33 242.7 455.9)" fill="#dcccb0" fill-opacity="0.62"/>
<ellipse cx="194.0" cy="415.2" rx="0.8" ry="0.5" transform="rotate(24 194.0 415.2)" fill="#ecdcbc" fill-opacity="0.74"/>
<ellipse cx="250.0" cy="402.0" rx="1.5" ry="1.0" transform="rotate(9 250.0 402.0)" fill="#dcccb0" fill-opacity="0.49"/>
<ellipse cx="173.3" cy="451.3" rx="1.3" ry="1.3" fill="#dcccb0" fill-opacity="0.52"/>
<ellipse cx="224.2" cy="401.3" rx="1.2" ry="1.0" fill="#dcccb0" fill-opacity="0.41"/>
<ellipse cx="223.4" cy="454.8" rx="1.4" ry="1.2" fill="#ecdcbc" fill-opacity="0.48"/>
<ellipse cx="149.0" cy="450.9" rx="1.6" ry="1.2" transform="rotate(11 149.0 450.9)" fill="#ecdcbc" fill-opacity="0.72"/>
<ellipse cx="235.7" cy="451.4" rx="1.1" ry="1.1" fill="#dcccb0" fill-opacity="0.56"/>
<ellipse cx="149.0" cy="422.3" rx="1.7" ry="1.0" transform="rotate(175 149.0 422.3)" fill="#e4d2b4" fill-opacity="0.66"/>
<ellipse cx="243.5" cy="433.5" rx="1.3" ry="0.8" transform="rotate(14 243.5 433.5)" fill="#dcccb0" fill-opacity="0.58"/>
<ellipse cx="148.7" cy="424.2" rx="1.7" ry="1.2" transform="rotate(23 148.7 424.2)" fill="#dcccb0" fill-opacity="0.65"/>
<path d="M143.2 402.8a2.6 2.6 0 1 0 5.3 0a2.6 2.6 0 1 0 -5.3 0M207.8 399.6a2.2 2.2 0 1 0 4.3 0a2.2 2.2 0 1 0 -4.3 0M246.7 400.2a2.7 2.7 0 1 0 5.4 0a2.7 2.7 0 1 0 -5.4 0M139.0 408.1a3.2 3.2 0 1 0 6.4 0a3.2 3.2 0 1 0 -6.4 0M161.4 414.4a2.4 2.4 0 1 0 4.8 0a2.4 2.4 0 1 0 -4.8 0M192.7 414.6a3.6 3.6 0 1 0 7.1 0a3.6 3.6 0 1 0 -7.1 0M156.8 417.4a2.5 2.5 0 1 0 5.1 0a2.5 2.5 0 1 0 -5.1 0M244.4 418.8a3.1 3.1 0 1 0 6.1 0a3.1 3.1 0 1 0 -6.1 0M176.9 425.2a2.0 2.0 0 1 0 3.9 0a2.0 2.0 0 1 0 -3.9 0M190.7 423.5a2.3 2.3 0 1 0 4.6 0a2.3 2.3 0 1 0 -4.6 0M203.5 425.4a2.9 2.9 0 1 0 5.7 0a2.9 2.9 0 1 0 -5.7 0M150.8 430.3a2.9 2.9 0 1 0 5.8 0a2.9 2.9 0 1 0 -5.8 0M175.3 429.9a1.9 1.9 0 1 0 3.9 0a1.9 1.9 0 1 0 -3.9 0M187.0 431.3a2.6 2.6 0 1 0 5.2 0a2.6 2.6 0 1 0 -5.2 0M207.6 431.6a2.5 2.5 0 1 0 5.1 0a2.5 2.5 0 1 0 -5.1 0M245.4 429.3a2.9 2.9 0 1 0 5.9 0a2.9 2.9 0 1 0 -5.9 0M247.3 434.6a3.0 3.0 0 1 0 6.0 0a3.0 3.0 0 1 0 -6.0 0M157.8 441.9a3.1 3.1 0 1 0 6.3 0a3.1 3.1 0 1 0 -6.3 0M180.1 442.9a1.8 1.8 0 1 0 3.7 0a1.8 1.8 0 1 0 -3.7 0M225.7 442.3a3.2 3.2 0 1 0 6.4 0a3.2 3.2 0 1 0 -6.4 0M148.4 449.3a2.3 2.3 0 1 0 4.5 0a2.3 2.3 0 1 0 -4.5 0M153.6 445.7a3.2 3.2 0 1 0 6.5 0a3.2 3.2 0 1 0 -6.5 0M167.9 447.3a3.2 3.2 0 1 0 6.4 0a3.2 3.2 0 1 0 -6.4 0M188.5 447.0a2.2 2.2 0 1 0 4.4 0a2.2 2.2 0 1 0 -4.4 0M214.3 446.4a3.4 3.4 0 1 0 6.8 0a3.4 3.4 0 1 0 -6.8 0M130.1 452.5a2.6 2.6 0 1 0 5.1 0a2.6 2.6 0 1 0 -5.1 0M150.4 453.1a3.2 3.2 0 1 0 6.3 0a3.2 3.2 0 1 0 -6.3 0M158.9 453.1a3.0 3.0 0 1 0 6.1 0a3.0 3.0 0 1 0 -6.1 0M183.4 453.3a2.7 2.7 0 1 0 5.3 0a2.7 2.7 0 1 0 -5.3 0M199.5 452.4a2.5 2.5 0 1 0 5.0 0a2.5 2.5 0 1 0 -5.0 0M236.2 451.6a2.7 2.7 0 1 0 5.3 0a2.7 2.7 0 1 0 -5.3 0M141.9 458.1a3.1 3.1 0 1 0 6.3 0a3.1 3.1 0 1 0 -6.3 0M156.6 459.7a2.0 2.0 0 1 0 4.0 0a2.0 2.0 0 1 0 -4.0 0M170.4 462.7a2.0 2.0 0 1 0 4.0 0a2.0 2.0 0 1 0 -4.0 0M126.5 470.0a3.6 3.6 0 1 0 7.1 0a3.6 3.6 0 1 0 -7.1 0M139.7 471.4a3.6 3.6 0 1 0 7.1 0a3.6 3.6 0 1 0 -7.1 0M157.8 468.8a1.9 1.9 0 1 0 3.8 0a1.9 1.9 0 1 0 -3.8 0M163.3 470.6a2.6 2.6 0 1 0 5.2 0a2.6 2.6 0 1 0 -5.2 0M187.0 471.6a2.4 2.4 0 1 0 4.8 0a2.4 2.4 0 1 0 -4.8 0M201.8 470.6a2.9 2.9 0 1 0 5.8 0a2.9 2.9 0 1 0 -5.8 0M234.0 470.7a3.6 3.6 0 1 0 7.2 0a3.6 3.6 0 1 0 -7.2 0M144.3 476.0a3.5 3.5 0 1 0 7.0 0a3.5 3.5 0 1 0 -7.0 0M151.2 476.5a1.9 1.9 0 1 0 3.8 0a1.9 1.9 0 1 0 -3.8 0M158.0 476.9a2.6 2.6 0 1 0 5.3 0a2.6 2.6 0 1 0 -5.3 0" fill="none" stroke="#8a5236" stroke-opacity="0.45" stroke-width="1.4"/>
<path d="M170.4 400.9a2.5 2.5 0 1 0 5.1 0a2.5 2.5 0 1 0 -5.1 0M182.9 401.8a3.1 3.1 0 1 0 6.2 0a3.1 3.1 0 1 0 -6.2 0M190.8 400.7a2.5 2.5 0 1 0 5.1 0a2.5 2.5 0 1 0 -5.1 0M200.4 400.6a3.4 3.4 0 1 0 6.8 0a3.4 3.4 0 1 0 -6.8 0M220.9 403.3a3.5 3.5 0 1 0 6.9 0a3.5 3.5 0 1 0 -6.9 0M231.5 400.6a1.9 1.9 0 1 0 3.8 0a1.9 1.9 0 1 0 -3.8 0M235.1 401.0a3.3 3.3 0 1 0 6.6 0a3.3 3.3 0 1 0 -6.6 0M129.1 405.7a3.2 3.2 0 1 0 6.5 0a3.2 3.2 0 1 0 -6.5 0M201.8 406.9a3.5 3.5 0 1 0 7.1 0a3.5 3.5 0 1 0 -7.1 0M236.7 408.0a3.3 3.3 0 1 0 6.6 0a3.3 3.3 0 1 0 -6.6 0M244.5 408.8a2.7 2.7 0 1 0 5.4 0a2.7 2.7 0 1 0 -5.4 0M128.4 411.6a2.5 2.5 0 1 0 5.0 0a2.5 2.5 0 1 0 -5.0 0M131.8 412.8a3.5 3.5 0 1 0 7.0 0a3.5 3.5 0 1 0 -7.0 0M165.7 414.4a2.6 2.6 0 1 0 5.2 0a2.6 2.6 0 1 0 -5.2 0M198.9 413.6a2.5 2.5 0 1 0 5.0 0a2.5 2.5 0 1 0 -5.0 0M216.3 411.7a1.8 1.8 0 1 0 3.6 0a1.8 1.8 0 1 0 -3.6 0M247.8 412.0a3.1 3.1 0 1 0 6.1 0a3.1 3.1 0 1 0 -6.1 0M172.9 419.4a2.5 2.5 0 1 0 4.9 0a2.5 2.5 0 1 0 -4.9 0M196.1 418.8a3.0 3.0 0 1 0 6.0 0a3.0 3.0 0 1 0 -6.0 0M251.4 418.5a3.4 3.4 0 1 0 6.8 0a3.4 3.4 0 1 0 -6.8 0M129.1 426.0a3.3 3.3 0 1 0 6.5 0a3.3 3.3 0 1 0 -6.5 0M166.7 424.4a3.5 3.5 0 1 0 6.9 0a3.5 3.5 0 1 0 -6.9 0M180.4 424.2a2.8 2.8 0 1 0 5.6 0a2.8 2.8 0 1 0 -5.6 0M195.3 425.2a3.1 3.1 0 1 0 6.1 0a3.1 3.1 0 1 0 -6.1 0M207.6 422.7a3.1 3.1 0 1 0 6.3 0a3.1 3.1 0 1 0 -6.3 0M222.6 425.4a2.2 2.2 0 1 0 4.3 0a2.2 2.2 0 1 0 -4.3 0M228.2 425.5a3.1 3.1 0 1 0 6.1 0a3.1 3.1 0 1 0 -6.1 0M240.2 424.5a3.1 3.1 0 1 0 6.3 0a3.1 3.1 0 1 0 -6.3 0M140.4 428.6a2.8 2.8 0 1 0 5.6 0a2.8 2.8 0 1 0 -5.6 0M190.5 431.2a2.6 2.6 0 1 0 5.1 0a2.6 2.6 0 1 0 -5.1 0M231.9 430.8a3.3 3.3 0 1 0 6.6 0a3.3 3.3 0 1 0 -6.6 0M252.7 431.9a3.5 3.5 0 1 0 7.0 0a3.5 3.5 0 1 0 -7.0 0M127.2 434.7a2.5 2.5 0 1 0 5.1 0a2.5 2.5 0 1 0 -5.1 0M147.7 433.9a2.7 2.7 0 1 0 5.4 0a2.7 2.7 0 1 0 -5.4 0M227.0 435.1a2.5 2.5 0 1 0 5.0 0a2.5 2.5 0 1 0 -5.0 0M232.6 437.8a2.5 2.5 0 1 0 4.9 0a2.5 2.5 0 1 0 -4.9 0M189.9 440.7a3.5 3.5 0 1 0 7.1 0a3.5 3.5 0 1 0 -7.1 0M237.7 442.2a3.6 3.6 0 1 0 7.2 0a3.6 3.6 0 1 0 -7.2 0M136.6 448.4a2.4 2.4 0 1 0 4.8 0a2.4 2.4 0 1 0 -4.8 0M142.2 448.5a2.4 2.4 0 1 0 4.7 0a2.4 2.4 0 1 0 -4.7 0M202.5 447.8a2.3 2.3 0 1 0 4.6 0a2.3 2.3 0 1 0 -4.6 0M240.7 449.2a3.6 3.6 0 1 0 7.1 0a3.6 3.6 0 1 0 -7.1 0M139.6 451.8a2.8 2.8 0 1 0 5.6 0a2.8 2.8 0 1 0 -5.6 0M171.7 451.4a2.1 2.1 0 1 0 4.1 0a2.1 2.1 0 1 0 -4.1 0M205.5 454.8a2.7 2.7 0 1 0 5.4 0a2.7 2.7 0 1 0 -5.4 0M226.5 453.9a1.9 1.9 0 1 0 3.7 0a1.9 1.9 0 1 0 -3.7 0M231.9 452.6a3.2 3.2 0 1 0 6.4 0a3.2 3.2 0 1 0 -6.4 0M161.1 459.1a3.3 3.3 0 1 0 6.6 0a3.3 3.3 0 1 0 -6.6 0M168.0 460.5a3.0 3.0 0 1 0 6.0 0a3.0 3.0 0 1 0 -6.0 0M187.2 458.8a3.6 3.6 0 1 0 7.2 0a3.6 3.6 0 1 0 -7.2 0M194.0 459.7a3.3 3.3 0 1 0 6.6 0a3.3 3.3 0 1 0 -6.6 0M208.1 460.3a3.4 3.4 0 1 0 6.8 0a3.4 3.4 0 1 0 -6.8 0M224.8 457.3a1.9 1.9 0 1 0 3.8 0a1.9 1.9 0 1 0 -3.8 0M165.6 462.7a2.1 2.1 0 1 0 4.1 0a2.1 2.1 0 1 0 -4.1 0M175.8 463.2a3.4 3.4 0 1 0 6.8 0a3.4 3.4 0 1 0 -6.8 0M202.1 464.3a3.1 3.1 0 1 0 6.2 0a3.1 3.1 0 1 0 -6.2 0M222.4 465.7a2.5 2.5 0 1 0 5.0 0a2.5 2.5 0 1 0 -5.0 0M194.0 471.7a2.1 2.1 0 1 0 4.1 0a2.1 2.1 0 1 0 -4.1 0M209.8 470.5a2.5 2.5 0 1 0 4.9 0a2.5 2.5 0 1 0 -4.9 0M216.1 471.0a2.0 2.0 0 1 0 4.1 0a2.0 2.0 0 1 0 -4.1 0M138.2 477.7a3.3 3.3 0 1 0 6.6 0a3.3 3.3 0 1 0 -6.6 0M171.0 478.0a2.2 2.2 0 1 0 4.5 0a2.2 2.2 0 1 0 -4.5 0" fill="none" stroke="#7a462e" stroke-opacity="0.45" stroke-width="1.4"/>
<path d="M127.7 402.4a3.5 3.5 0 1 0 7.1 0a3.5 3.5 0 1 0 -7.1 0M161.2 402.1a2.5 2.5 0 1 0 4.9 0a2.5 2.5 0 1 0 -4.9 0M240.5 402.1a2.3 2.3 0 1 0 4.6 0a2.3 2.3 0 1 0 -4.6 0M185.4 408.8a2.7 2.7 0 1 0 5.3 0a2.7 2.7 0 1 0 -5.3 0M249.7 407.8a2.9 2.9 0 1 0 5.8 0a2.9 2.9 0 1 0 -5.8 0M145.8 411.7a3.0 3.0 0 1 0 5.9 0a3.0 3.0 0 1 0 -5.9 0M175.5 414.1a2.3 2.3 0 1 0 4.6 0a2.3 2.3 0 1 0 -4.6 0M250.9 412.0a3.6 3.6 0 1 0 7.2 0a3.6 3.6 0 1 0 -7.2 0M149.2 417.0a3.4 3.4 0 1 0 6.8 0a3.4 3.4 0 1 0 -6.8 0M162.3 417.0a3.1 3.1 0 1 0 6.2 0a3.1 3.1 0 1 0 -6.2 0M177.4 416.9a3.5 3.5 0 1 0 7.0 0a3.5 3.5 0 1 0 -7.0 0M205.5 418.7a2.5 2.5 0 1 0 5.0 0a2.5 2.5 0 1 0 -5.0 0M224.7 420.0a3.5 3.5 0 1 0 7.1 0a3.5 3.5 0 1 0 -7.1 0M229.2 419.1a3.5 3.5 0 1 0 7.0 0a3.5 3.5 0 1 0 -7.0 0M142.0 424.1a3.1 3.1 0 1 0 6.2 0a3.1 3.1 0 1 0 -6.2 0M154.4 424.3a3.2 3.2 0 1 0 6.4 0a3.2 3.2 0 1 0 -6.4 0M236.1 424.1a1.9 1.9 0 1 0 3.7 0a1.9 1.9 0 1 0 -3.7 0M146.5 429.2a3.3 3.3 0 1 0 6.6 0a3.3 3.3 0 1 0 -6.6 0M199.8 429.6a1.9 1.9 0 1 0 3.7 0a1.9 1.9 0 1 0 -3.7 0M213.7 429.4a2.7 2.7 0 1 0 5.4 0a2.7 2.7 0 1 0 -5.4 0M226.4 431.5a2.5 2.5 0 1 0 4.9 0a2.5 2.5 0 1 0 -4.9 0M235.8 429.2a3.6 3.6 0 1 0 7.3 0a3.6 3.6 0 1 0 -7.3 0M193.1 434.7a3.4 3.4 0 1 0 6.9 0a3.4 3.4 0 1 0 -6.9 0M207.0 435.0a2.7 2.7 0 1 0 5.5 0a2.7 2.7 0 1 0 -5.5 0M185.0 440.2a3.4 3.4 0 1 0 6.9 0a3.4 3.4 0 1 0 -6.9 0M204.9 441.8a2.0 2.0 0 1 0 4.0 0a2.0 2.0 0 1 0 -4.0 0M211.6 443.1a3.4 3.4 0 1 0 6.9 0a3.4 3.4 0 1 0 -6.9 0M195.9 448.1a3.3 3.3 0 1 0 6.6 0a3.3 3.3 0 1 0 -6.6 0M232.9 447.0a3.4 3.4 0 1 0 6.9 0a3.4 3.4 0 1 0 -6.9 0M177.8 452.1a3.5 3.5 0 1 0 7.1 0a3.5 3.5 0 1 0 -7.1 0M211.2 452.7a2.4 2.4 0 1 0 4.8 0a2.4 2.4 0 1 0 -4.8 0M175.9 457.3a1.9 1.9 0 1 0 3.9 0a1.9 1.9 0 1 0 -3.9 0M204.3 460.8a2.3 2.3 0 1 0 4.5 0a2.3 2.3 0 1 0 -4.5 0M247.2 457.6a3.4 3.4 0 1 0 6.8 0a3.4 3.4 0 1 0 -6.8 0M142.8 463.7a3.6 3.6 0 1 0 7.1 0a3.6 3.6 0 1 0 -7.1 0M182.6 463.8a2.8 2.8 0 1 0 5.5 0a2.8 2.8 0 1 0 -5.5 0M190.5 464.3a2.3 2.3 0 1 0 4.6 0a2.3 2.3 0 1 0 -4.6 0M181.0 469.1a3.1 3.1 0 1 0 6.2 0a3.1 3.1 0 1 0 -6.2 0M220.1 468.8a3.6 3.6 0 1 0 7.1 0a3.6 3.6 0 1 0 -7.1 0M228.8 469.4a2.7 2.7 0 1 0 5.4 0a2.7 2.7 0 1 0 -5.4 0M165.2 476.1a2.8 2.8 0 1 0 5.7 0a2.8 2.8 0 1 0 -5.7 0M218.8 475.7a2.7 2.7 0 1 0 5.5 0a2.7 2.7 0 1 0 -5.5 0M238.3 477.0a2.8 2.8 0 1 0 5.5 0a2.8 2.8 0 1 0 -5.5 0M251.1 478.0a3.4 3.4 0 1 0 6.9 0a3.4 3.4 0 1 0 -6.9 0" fill="none" stroke="#96603e" stroke-opacity="0.45" stroke-width="1.4"/>
<path d="M135.4 403.1a1.9 1.9 0 1 0 3.8 0a1.9 1.9 0 1 0 -3.8 0M215.1 400.8a2.7 2.7 0 1 0 5.4 0a2.7 2.7 0 1 0 -5.4 0M153.3 406.9a2.3 2.3 0 1 0 4.7 0a2.3 2.3 0 1 0 -4.7 0M170.9 407.6a2.0 2.0 0 1 0 3.9 0a2.0 2.0 0 1 0 -3.9 0M191.6 407.1a2.8 2.8 0 1 0 5.7 0a2.8 2.8 0 1 0 -5.7 0M198.0 408.3a3.4 3.4 0 1 0 6.8 0a3.4 3.4 0 1 0 -6.8 0M215.0 405.2a3.0 3.0 0 1 0 6.1 0a3.0 3.0 0 1 0 -6.1 0M221.6 406.4a3.3 3.3 0 1 0 6.6 0a3.3 3.3 0 1 0 -6.6 0M231.5 407.2a2.3 2.3 0 1 0 4.7 0a2.3 2.3 0 1 0 -4.7 0M180.4 412.5a3.3 3.3 0 1 0 6.6 0a3.3 3.3 0 1 0 -6.6 0M209.0 412.7a2.3 2.3 0 1 0 4.6 0a2.3 2.3 0 1 0 -4.6 0M219.5 414.6a2.8 2.8 0 1 0 5.5 0a2.8 2.8 0 1 0 -5.5 0M227.3 412.4a2.6 2.6 0 1 0 5.3 0a2.6 2.6 0 1 0 -5.3 0M234.5 413.3a2.5 2.5 0 1 0 5.1 0a2.5 2.5 0 1 0 -5.1 0M241.4 411.9a2.3 2.3 0 1 0 4.7 0a2.3 2.3 0 1 0 -4.7 0M131.3 417.0a1.9 1.9 0 1 0 3.8 0a1.9 1.9 0 1 0 -3.8 0M184.6 417.3a1.8 1.8 0 1 0 3.6 0a1.8 1.8 0 1 0 -3.6 0M192.0 417.4a2.6 2.6 0 1 0 5.2 0a2.6 2.6 0 1 0 -5.2 0M235.0 416.8a3.5 3.5 0 1 0 6.9 0a3.5 3.5 0 1 0 -6.9 0M160.8 422.5a3.3 3.3 0 1 0 6.6 0a3.3 3.3 0 1 0 -6.6 0M248.6 425.5a2.9 2.9 0 1 0 5.9 0a2.9 2.9 0 1 0 -5.9 0M179.0 437.5a3.4 3.4 0 1 0 6.8 0a3.4 3.4 0 1 0 -6.8 0M220.0 436.6a3.4 3.4 0 1 0 6.8 0a3.4 3.4 0 1 0 -6.8 0M131.7 441.6a3.6 3.6 0 1 0 7.3 0a3.6 3.6 0 1 0 -7.3 0M172.2 442.7a2.6 2.6 0 1 0 5.3 0a2.6 2.6 0 1 0 -5.3 0M197.3 439.9a3.6 3.6 0 1 0 7.2 0a3.6 3.6 0 1 0 -7.2 0M218.1 439.9a2.1 2.1 0 1 0 4.2 0a2.1 2.1 0 1 0 -4.2 0M230.9 443.6a2.4 2.4 0 1 0 4.8 0a2.4 2.4 0 1 0 -4.8 0M243.7 440.5a2.1 2.1 0 1 0 4.1 0a2.1 2.1 0 1 0 -4.1 0M250.2 442.0a2.0 2.0 0 1 0 4.0 0a2.0 2.0 0 1 0 -4.0 0M127.9 447.0a3.3 3.3 0 1 0 6.5 0a3.3 3.3 0 1 0 -6.5 0M180.8 447.4a3.5 3.5 0 1 0 6.9 0a3.5 3.5 0 1 0 -6.9 0M218.8 446.2a3.0 3.0 0 1 0 5.9 0a3.0 3.0 0 1 0 -5.9 0M246.6 447.7a2.0 2.0 0 1 0 4.1 0a2.0 2.0 0 1 0 -4.1 0M252.7 445.6a2.3 2.3 0 1 0 4.5 0a2.3 2.3 0 1 0 -4.5 0M165.3 454.8a2.5 2.5 0 1 0 5.0 0a2.5 2.5 0 1 0 -5.0 0M190.1 454.9a2.8 2.8 0 1 0 5.7 0a2.8 2.8 0 1 0 -5.7 0M148.3 460.8a3.1 3.1 0 1 0 6.2 0a3.1 3.1 0 1 0 -6.2 0M239.0 459.9a3.6 3.6 0 1 0 7.2 0a3.6 3.6 0 1 0 -7.2 0M130.5 466.3a2.6 2.6 0 1 0 5.3 0a2.6 2.6 0 1 0 -5.3 0M138.5 464.7a3.2 3.2 0 1 0 6.3 0a3.2 3.2 0 1 0 -6.3 0M236.1 462.7a2.3 2.3 0 1 0 4.6 0a2.3 2.3 0 1 0 -4.6 0M248.9 464.9a2.7 2.7 0 1 0 5.5 0a2.7 2.7 0 1 0 -5.5 0M168.8 470.5a3.0 3.0 0 1 0 6.0 0a3.0 3.0 0 1 0 -6.0 0M248.7 472.1a3.5 3.5 0 1 0 6.9 0a3.5 3.5 0 1 0 -6.9 0M255.2 469.4a2.9 2.9 0 1 0 5.8 0a2.9 2.9 0 1 0 -5.8 0M212.8 475.5a1.9 1.9 0 1 0 3.8 0a1.9 1.9 0 1 0 -3.8 0M229.6 476.0a2.9 2.9 0 1 0 5.9 0a2.9 2.9 0 1 0 -5.9 0M243.0 474.5a2.0 2.0 0 1 0 4.0 0a2.0 2.0 0 1 0 -4.0 0" fill="none" stroke="#6e4030" stroke-opacity="0.45" stroke-width="1.4"/>
<path d="M191.7 401.5a1.2 1.0 0 1 0 2.4 0a1.2 1.0 0 1 0 -2.4 0M222.6 403.7a2.2 1.9 0 1 0 4.4 0a2.2 1.9 0 1 0 -4.4 0M159.6 409.5a1.1 0.9 0 1 0 2.2 0a1.1 0.9 0 1 0 -2.2 0M171.7 408.3a1.3 1.1 0 1 0 2.5 0a1.3 1.1 0 1 0 -2.5 0M179.7 408.2a1.4 1.2 0 1 0 2.7 0a1.4 1.2 0 1 0 -2.7 0M192.2 406.8a1.7 1.4 0 1 0 3.4 0a1.7 1.4 0 1 0 -3.4 0M246.3 409.6a1.4 1.2 0 1 0 2.8 0a1.4 1.2 0 1 0 -2.8 0M133.4 413.5a1.9 1.6 0 1 0 3.8 0a1.9 1.6 0 1 0 -3.8 0M158.1 414.2a1.4 1.1 0 1 0 2.7 0a1.4 1.1 0 1 0 -2.7 0M162.5 413.9a1.2 1.0 0 1 0 2.4 0a1.2 1.0 0 1 0 -2.4 0M176.7 413.8a1.2 1.1 0 1 0 2.5 0a1.2 1.1 0 1 0 -2.5 0M194.2 414.8a2.1 1.8 0 1 0 4.1 0a2.1 1.8 0 1 0 -4.1 0M199.4 412.8a1.4 1.2 0 1 0 2.8 0a1.4 1.2 0 1 0 -2.8 0M220.9 415.3a1.4 1.1 0 1 0 2.7 0a1.4 1.1 0 1 0 -2.7 0M236.1 413.5a1.4 1.1 0 1 0 2.7 0a1.4 1.1 0 1 0 -2.7 0M252.9 412.6a2.0 1.7 0 1 0 4.0 0a2.0 1.7 0 1 0 -4.0 0M142.2 420.5a1.2 1.0 0 1 0 2.3 0a1.2 1.0 0 1 0 -2.3 0M164.5 417.0a1.6 1.3 0 1 0 3.1 0a1.6 1.3 0 1 0 -3.1 0M179.2 416.7a2.1 1.8 0 1 0 4.2 0a2.1 1.8 0 1 0 -4.2 0M185.0 417.1a0.9 0.7 0 1 0 1.7 0a0.9 0.7 0 1 0 -1.7 0M207.0 418.0a1.6 1.3 0 1 0 3.1 0a1.6 1.3 0 1 0 -3.1 0M219.5 416.8a1.7 1.4 0 1 0 3.3 0a1.7 1.4 0 1 0 -3.3 0M237.0 416.1a1.7 1.5 0 1 0 3.4 0a1.7 1.5 0 1 0 -3.4 0M138.7 424.5a1.1 1.0 0 1 0 2.3 0a1.1 1.0 0 1 0 -2.3 0M192.5 423.4a1.2 1.0 0 1 0 2.4 0a1.2 1.0 0 1 0 -2.4 0M205.4 426.0a1.4 1.2 0 1 0 2.9 0a1.4 1.2 0 1 0 -2.9 0M250.5 425.5a1.6 1.4 0 1 0 3.2 0a1.6 1.4 0 1 0 -3.2 0M176.0 429.5a0.9 0.8 0 1 0 1.8 0a0.9 0.8 0 1 0 -1.8 0M219.4 429.8a1.3 1.1 0 1 0 2.7 0a1.3 1.1 0 1 0 -2.7 0M227.2 432.2a1.5 1.3 0 1 0 3.0 0a1.5 1.3 0 1 0 -3.0 0M137.4 435.2a1.5 1.3 0 1 0 3.0 0a1.5 1.3 0 1 0 -3.0 0M141.3 435.6a1.7 1.5 0 1 0 3.4 0a1.7 1.5 0 1 0 -3.4 0M175.4 436.6a2.0 1.7 0 1 0 4.1 0a2.0 1.7 0 1 0 -4.1 0M217.5 436.0a1.2 1.0 0 1 0 2.3 0a1.2 1.0 0 1 0 -2.3 0M221.2 437.0a2.2 1.9 0 1 0 4.4 0a2.2 1.9 0 1 0 -4.4 0M234.2 437.2a1.6 1.4 0 1 0 3.2 0a1.6 1.4 0 1 0 -3.2 0M167.9 440.3a1.3 1.1 0 1 0 2.7 0a1.3 1.1 0 1 0 -2.7 0M205.3 441.6a1.3 1.1 0 1 0 2.6 0a1.3 1.1 0 1 0 -2.6 0M160.9 448.6a1.6 1.4 0 1 0 3.3 0a1.6 1.4 0 1 0 -3.3 0M170.4 447.3a1.5 1.3 0 1 0 3.0 0a1.5 1.3 0 1 0 -3.0 0M181.9 447.2a1.9 1.6 0 1 0 3.7 0a1.9 1.6 0 1 0 -3.7 0M241.4 449.6a2.2 1.8 0 1 0 4.3 0a2.2 1.8 0 1 0 -4.3 0M141.6 452.5a1.4 1.2 0 1 0 2.8 0a1.4 1.2 0 1 0 -2.8 0M166.7 455.2a1.6 1.4 0 1 0 3.2 0a1.6 1.4 0 1 0 -3.2 0M170.2 460.7a1.5 1.3 0 1 0 3.0 0a1.5 1.3 0 1 0 -3.0 0M183.7 464.0a1.8 1.5 0 1 0 3.5 0a1.8 1.5 0 1 0 -3.5 0M210.6 462.9a1.1 1.0 0 1 0 2.2 0a1.1 1.0 0 1 0 -2.2 0M188.5 471.8a1.5 1.2 0 1 0 2.9 0a1.5 1.2 0 1 0 -2.9 0M158.9 477.6a1.3 1.1 0 1 0 2.6 0a1.3 1.1 0 1 0 -2.6 0M213.4 476.1a1.1 0.9 0 1 0 2.2 0a1.1 0.9 0 1 0 -2.2 0M239.3 477.5a1.5 1.2 0 1 0 2.9 0a1.5 1.2 0 1 0 -2.9 0" fill="#6c6890" fill-opacity="0.55"/>
<path d="M178.2 403.5a1.7 1.5 0 1 0 3.4 0a1.7 1.5 0 1 0 -3.4 0M183.7 402.5a1.7 1.4 0 1 0 3.4 0a1.7 1.4 0 1 0 -3.4 0M197.7 401.1a1.9 1.6 0 1 0 3.7 0a1.9 1.6 0 1 0 -3.7 0M201.6 400.3a2.1 1.8 0 1 0 4.2 0a2.1 1.8 0 1 0 -4.2 0M140.5 408.3a2.0 1.7 0 1 0 4.1 0a2.0 1.7 0 1 0 -4.1 0M146.0 406.0a1.3 1.1 0 1 0 2.5 0a1.3 1.1 0 1 0 -2.5 0M202.7 406.9a2.1 1.8 0 1 0 4.2 0a2.1 1.8 0 1 0 -4.2 0M212.8 406.5a1.2 1.0 0 1 0 2.4 0a1.2 1.0 0 1 0 -2.4 0M182.4 412.7a1.6 1.3 0 1 0 3.1 0a1.6 1.3 0 1 0 -3.1 0M241.7 412.3a1.5 1.3 0 1 0 3.0 0a1.5 1.3 0 1 0 -3.0 0M149.9 417.5a2.1 1.8 0 1 0 4.1 0a2.1 1.8 0 1 0 -4.1 0M196.8 419.4a1.7 1.4 0 1 0 3.4 0a1.7 1.4 0 1 0 -3.4 0M231.4 418.6a2.0 1.7 0 1 0 4.0 0a2.0 1.7 0 1 0 -4.0 0M245.8 419.0a1.5 1.3 0 1 0 3.0 0a1.5 1.3 0 1 0 -3.0 0M130.0 426.4a1.9 1.6 0 1 0 3.8 0a1.9 1.6 0 1 0 -3.8 0M196.3 424.4a1.4 1.2 0 1 0 2.8 0a1.4 1.2 0 1 0 -2.8 0M159.8 431.5a1.3 1.1 0 1 0 2.5 0a1.3 1.1 0 1 0 -2.5 0M215.4 430.1a1.3 1.1 0 1 0 2.5 0a1.3 1.1 0 1 0 -2.5 0M248.1 434.9a1.5 1.3 0 1 0 3.0 0a1.5 1.3 0 1 0 -3.0 0M132.7 441.6a1.9 1.6 0 1 0 3.9 0a1.9 1.6 0 1 0 -3.9 0M141.7 441.4a1.7 1.5 0 1 0 3.5 0a1.7 1.5 0 1 0 -3.5 0M152.9 443.1a2.1 1.7 0 1 0 4.1 0a2.1 1.7 0 1 0 -4.1 0M191.2 440.2a2.0 1.7 0 1 0 3.9 0a2.0 1.7 0 1 0 -3.9 0M198.8 440.5a1.7 1.5 0 1 0 3.5 0a1.7 1.5 0 1 0 -3.5 0M128.8 446.7a1.8 1.5 0 1 0 3.6 0a1.8 1.5 0 1 0 -3.6 0M137.3 448.2a1.2 1.0 0 1 0 2.4 0a1.2 1.0 0 1 0 -2.4 0M155.5 445.0a2.0 1.7 0 1 0 4.1 0a2.0 1.7 0 1 0 -4.1 0M197.3 448.1a1.6 1.3 0 1 0 3.1 0a1.6 1.3 0 1 0 -3.1 0M250.5 453.5a2.0 1.7 0 1 0 4.0 0a2.0 1.7 0 1 0 -4.0 0M157.0 459.5a1.0 0.8 0 1 0 2.0 0a1.0 0.8 0 1 0 -2.0 0M216.9 459.2a1.1 0.9 0 1 0 2.2 0a1.1 0.9 0 1 0 -2.2 0M225.0 457.1a1.2 1.0 0 1 0 2.4 0a1.2 1.0 0 1 0 -2.4 0M140.6 464.9a1.5 1.3 0 1 0 3.0 0a1.5 1.3 0 1 0 -3.0 0M145.2 463.1a2.0 1.7 0 1 0 3.9 0a2.0 1.7 0 1 0 -3.9 0M150.8 466.2a2.1 1.8 0 1 0 4.2 0a2.1 1.8 0 1 0 -4.2 0M220.8 465.6a1.1 0.9 0 1 0 2.2 0a1.1 0.9 0 1 0 -2.2 0M223.2 466.4a1.2 1.0 0 1 0 2.5 0a1.2 1.0 0 1 0 -2.5 0M169.4 469.7a1.6 1.4 0 1 0 3.3 0a1.6 1.4 0 1 0 -3.3 0M183.3 469.8a1.6 1.4 0 1 0 3.2 0a1.6 1.4 0 1 0 -3.2 0M210.4 470.1a1.2 1.0 0 1 0 2.4 0a1.2 1.0 0 1 0 -2.4 0M250.8 472.6a1.6 1.3 0 1 0 3.2 0a1.6 1.3 0 1 0 -3.2 0M145.4 475.6a1.6 1.3 0 1 0 3.2 0a1.6 1.3 0 1 0 -3.2 0M198.9 474.6a1.3 1.1 0 1 0 2.7 0a1.3 1.1 0 1 0 -2.7 0" fill="#625e88" fill-opacity="0.55"/>
<path d="M135.9 402.9a1.0 0.9 0 1 0 2.0 0a1.0 0.9 0 1 0 -2.0 0M150.0 401.2a1.5 1.3 0 1 0 3.0 0a1.5 1.3 0 1 0 -3.0 0M216.3 400.9a1.7 1.5 0 1 0 3.5 0a1.7 1.5 0 1 0 -3.5 0M237.1 400.9a1.9 1.6 0 1 0 3.7 0a1.9 1.6 0 1 0 -3.7 0M242.2 402.3a1.2 1.0 0 1 0 2.3 0a1.2 1.0 0 1 0 -2.3 0M130.5 406.4a2.1 1.8 0 1 0 4.2 0a2.1 1.8 0 1 0 -4.2 0M200.2 407.8a1.8 1.5 0 1 0 3.5 0a1.8 1.5 0 1 0 -3.5 0M251.3 407.8a1.4 1.2 0 1 0 2.9 0a1.4 1.2 0 1 0 -2.9 0M147.5 412.1a1.9 1.6 0 1 0 3.8 0a1.9 1.6 0 1 0 -3.8 0M166.5 414.9a1.4 1.2 0 1 0 2.8 0a1.4 1.2 0 1 0 -2.8 0M131.7 417.8a0.9 0.8 0 1 0 1.8 0a0.9 0.8 0 1 0 -1.8 0M174.2 418.7a1.1 1.0 0 1 0 2.3 0a1.1 1.0 0 1 0 -2.3 0M214.1 420.2a1.7 1.4 0 1 0 3.3 0a1.7 1.4 0 1 0 -3.3 0M156.9 425.1a1.5 1.2 0 1 0 2.9 0a1.5 1.2 0 1 0 -2.9 0M236.8 423.8a0.9 0.8 0 1 0 1.8 0a0.9 0.8 0 1 0 -1.8 0M141.9 429.0a1.3 1.1 0 1 0 2.7 0a1.3 1.1 0 1 0 -2.7 0M191.9 431.8a1.2 1.0 0 1 0 2.4 0a1.2 1.0 0 1 0 -2.4 0M208.6 431.8a1.4 1.2 0 1 0 2.9 0a1.4 1.2 0 1 0 -2.9 0M233.7 430.2a2.0 1.7 0 1 0 4.0 0a2.0 1.7 0 1 0 -4.0 0M195.5 434.5a1.8 1.5 0 1 0 3.6 0a1.8 1.5 0 1 0 -3.6 0M203.2 437.1a2.1 1.8 0 1 0 4.3 0a2.1 1.8 0 1 0 -4.3 0M242.2 437.2a1.5 1.3 0 1 0 3.1 0a1.5 1.3 0 1 0 -3.1 0M255.4 437.3a1.4 1.2 0 1 0 2.9 0a1.4 1.2 0 1 0 -2.9 0M159.8 441.3a1.9 1.6 0 1 0 3.7 0a1.9 1.6 0 1 0 -3.7 0M174.1 443.4a1.5 1.3 0 1 0 3.0 0a1.5 1.3 0 1 0 -3.0 0M226.5 442.6a1.7 1.4 0 1 0 3.4 0a1.7 1.4 0 1 0 -3.4 0M232.4 443.2a1.2 1.1 0 1 0 2.5 0a1.2 1.1 0 1 0 -2.5 0M245.2 440.4a1.1 1.0 0 1 0 2.3 0a1.1 1.0 0 1 0 -2.3 0M251.2 442.5a1.0 0.8 0 1 0 1.9 0a1.0 0.8 0 1 0 -1.9 0M143.1 447.9a1.2 1.0 0 1 0 2.4 0a1.2 1.0 0 1 0 -2.4 0M148.6 449.6a1.4 1.2 0 1 0 2.8 0a1.4 1.2 0 1 0 -2.8 0M173.1 448.4a2.2 1.9 0 1 0 4.5 0a2.2 1.9 0 1 0 -4.5 0M190.4 446.7a1.0 0.9 0 1 0 2.0 0a1.0 0.9 0 1 0 -2.0 0M207.9 447.3a1.7 1.4 0 1 0 3.4 0a1.7 1.4 0 1 0 -3.4 0M216.4 446.0a1.7 1.4 0 1 0 3.3 0a1.7 1.4 0 1 0 -3.3 0M160.8 452.8a1.7 1.4 0 1 0 3.4 0a1.7 1.4 0 1 0 -3.4 0M173.0 451.1a1.3 1.1 0 1 0 2.6 0a1.3 1.1 0 1 0 -2.6 0M179.1 451.9a1.8 1.5 0 1 0 3.5 0a1.8 1.5 0 1 0 -3.5 0M206.7 454.6a1.7 1.4 0 1 0 3.4 0a1.7 1.4 0 1 0 -3.4 0M212.0 453.4a1.5 1.2 0 1 0 2.9 0a1.5 1.2 0 1 0 -2.9 0M144.4 458.0a1.5 1.2 0 1 0 2.9 0a1.5 1.2 0 1 0 -2.9 0M189.3 458.3a1.7 1.5 0 1 0 3.5 0a1.7 1.5 0 1 0 -3.5 0M194.8 458.9a2.1 1.8 0 1 0 4.3 0a2.1 1.8 0 1 0 -4.3 0M190.7 464.0a1.4 1.2 0 1 0 2.7 0a1.4 1.2 0 1 0 -2.7 0M237.8 462.0a1.3 1.1 0 1 0 2.7 0a1.3 1.1 0 1 0 -2.7 0M128.3 469.7a1.7 1.4 0 1 0 3.4 0a1.7 1.4 0 1 0 -3.4 0M136.0 469.7a1.4 1.2 0 1 0 2.8 0a1.4 1.2 0 1 0 -2.8 0M141.0 471.3a2.1 1.8 0 1 0 4.3 0a2.1 1.8 0 1 0 -4.3 0M164.9 470.7a1.4 1.2 0 1 0 2.7 0a1.4 1.2 0 1 0 -2.7 0M204.1 470.2a1.4 1.2 0 1 0 2.7 0a1.4 1.2 0 1 0 -2.7 0M257.2 468.6a1.6 1.4 0 1 0 3.2 0a1.6 1.4 0 1 0 -3.2 0" fill="#787496" fill-opacity="0.55"/>
</g></g>
<clipPath id="cp3"><rect x="10.8" y="473.6" width="119.1" height="74.4"/></clipPath>
<filter id="nz3" x="0" y="0" width="1" height="1" color-interpolation-filters="sRGB"><feTurbulence type="fractalNoise" baseFrequency="0.06" numOctaves="3" seed="13"/><feColorMatrix type="matrix" values="0.145 0 0 0 0.720  0.145 0 0 0 0.743  0.048 0 0 0 0.764  0 0 0 0 1" result="A"/><feTurbulence type="fractalNoise" baseFrequency="0.35" numOctaves="2" seed="2"/><feColorMatrix type="matrix" values="0 0.194 0 0 0.403  0 0.194 0 0 0.403  0 0.194 0 0 0.403  0 0 0 0 1" result="B"/><feComposite in="A" in2="B" operator="arithmetic" k1="0" k2="1" k3="1" k4="-0.5"/></filter>
<filter id="bl3" x="-5%" y="-5%" width="110%" height="110%"><feGaussianBlur stdDeviation="0.55"/></filter>
<g clip-path="url(#cp3)">
<rect x="10.8" y="473.6" width="119.1" height="74.4" filter="url(#nz3)"/>
<filter id="bb3" x="-20%" y="-20%" width="140%" height="140%"><feGaussianBlur stdDeviation="2.5"/></filter>
<g filter="url(#bb3)">
<ellipse cx="60.8" cy="504.6" rx="25" ry="13" transform="rotate(8 60.8 504.6)" fill="#a4a3c0" fill-opacity="0.75"/>
<ellipse cx="76.8" cy="534.6" rx="38" ry="5" transform="rotate(12 76.8 534.6)" fill="#b6b5cc" fill-opacity="0.4"/>
<ellipse cx="38.8" cy="529.6" rx="26" ry="6" transform="rotate(32 38.8 529.6)" fill="#b6b5cc" fill-opacity="0.35"/>
<ellipse cx="25.8" cy="485.6" rx="16" ry="4" transform="rotate(25 25.8 485.6)" fill="#b6b5cc" fill-opacity="0.35"/>
<ellipse cx="116.8" cy="503.6" rx="5" ry="30" transform="rotate(65 116.8 503.6)" fill="#b6b5cc" fill-opacity="0.35"/>
</g>
<g filter="url(#bl3)">
<ellipse cx="89.7" cy="477.3" rx="1.4" ry="1.2" fill="#8c8ab2" fill-opacity="0.41"/>
<ellipse cx="74.0" cy="528.9" rx="1.0" ry="0.9" fill="#a4a2c2" fill-opacity="0.41"/>
<ellipse cx="91.9" cy="481.8" rx="0.9" ry="0.5" transform="rotate(137 91.9 481.8)" fill="#8c8ab2" fill-opacity="0.50"/>
<ellipse cx="32.7" cy="492.9" rx="1.0" ry="0.9" fill="#8c8ab2" fill-opacity="0.33"/>
<ellipse cx="17.9" cy="507.6" rx="1.3" ry="1.3" fill="#a4a2c2" fill-opacity="0.33"/>
<ellipse cx="37.2" cy="515.4" rx="0.7" ry="0.7" fill="#a4a2c2" fill-opacity="0.54"/>
<ellipse cx="23.1" cy="484.6" rx="0.7" ry="0.7" fill="#a4a2c2" fill-opacity="0.35"/>
<ellipse cx="116.8" cy="476.7" rx="1.0" ry="0.8" fill="#a4a2c2" fill-opacity="0.44"/>
<ellipse cx="90.9" cy="536.8" rx="0.7" ry="0.3" transform="rotate(123 90.9 536.8)" fill="#8c8ab2" fill-opacity="0.47"/>
<ellipse cx="95.3" cy="499.4" rx="1.2" ry="0.7" transform="rotate(98 95.3 499.4)" fill="#8c8ab2" fill-opacity="0.37"/>
<ellipse cx="16.0" cy="502.3" rx="1.0" ry="0.6" transform="rotate(26 16.0 502.3)" fill="#a4a2c2" fill-opacity="0.52"/>
<ellipse cx="84.3" cy="508.7" rx="1.4" ry="0.8" transform="rotate(122 84.3 508.7)" fill="#a4a2c2" fill-opacity="0.50"/>
<ellipse cx="61.3" cy="534.4" rx="1.4" ry="1.1" transform="rotate(167 61.3 534.4)" fill="#a4a2c2" fill-opacity="0.52"/>
<ellipse cx="127.8" cy="501.4" rx="0.8" ry="0.7" fill="#8c8ab2" fill-opacity="0.35"/>
<ellipse cx="85.9" cy="534.3" rx="0.9" ry="0.6" transform="rotate(148 85.9 534.3)" fill="#a4a2c2" fill-opacity="0.38"/>
<ellipse cx="17.0" cy="477.1" rx="1.4" ry="0.7" transform="rotate(126 17.0 477.1)" fill="#a4a2c2" fill-opacity="0.58"/>
<ellipse cx="95.6" cy="493.9" rx="0.7" ry="0.6" fill="#a4a2c2" fill-opacity="0.49"/>
<ellipse cx="26.3" cy="542.8" rx="0.9" ry="0.4" transform="rotate(6 26.3 542.8)" fill="#a4a2c2" fill-opacity="0.41"/>
<ellipse cx="22.0" cy="504.6" rx="1.3" ry="0.8" transform="rotate(23 22.0 504.6)" fill="#8c8ab2" fill-opacity="0.52"/>
<ellipse cx="124.8" cy="476.0" rx="1.3" ry="1.0" transform="rotate(124 124.8 476.0)" fill="#8c8ab2" fill-opacity="0.43"/>
<ellipse cx="80.3" cy="473.8" rx="1.4" ry="1.3" fill="#8c8ab2" fill-opacity="0.35"/>
<ellipse cx="81.0" cy="478.2" rx="0.8" ry="0.7" fill="#8c8ab2" fill-opacity="0.53"/>
<ellipse cx="44.1" cy="527.7" rx="1.2" ry="1.1" fill="#8c8ab2" fill-opacity="0.56"/>
<ellipse cx="125.4" cy="545.7" rx="1.0" ry="0.7" transform="rotate(27 125.4 545.7)" fill="#a4a2c2" fill-opacity="0.46"/>
<ellipse cx="79.3" cy="512.5" rx="1.0" ry="0.6" transform="rotate(152 79.3 512.5)" fill="#a4a2c2" fill-opacity="0.40"/>
<ellipse cx="43.6" cy="510.5" rx="0.6" ry="0.5" transform="rotate(69 43.6 510.5)" fill="#a4a2c2" fill-opacity="0.50"/>
<ellipse cx="108.9" cy="508.6" rx="0.7" ry="0.6" fill="#8c8ab2" fill-opacity="0.39"/>
<ellipse cx="22.9" cy="522.4" rx="1.0" ry="0.5" transform="rotate(78 22.9 522.4)" fill="#8c8ab2" fill-opacity="0.39"/>
<ellipse cx="38.0" cy="520.7" rx="1.0" ry="0.7" transform="rotate(172 38.0 520.7)" fill="#8c8ab2" fill-opacity="0.41"/>
<ellipse cx="119.5" cy="527.0" rx="1.3" ry="1.2" fill="#a4a2c2" fill-opacity="0.42"/>
<ellipse cx="82.2" cy="507.9" rx="0.9" ry="0.5" transform="rotate(33 82.2 507.9)" fill="#a4a2c2" fill-opacity="0.57"/>
<ellipse cx="119.0" cy="547.6" rx="1.2" ry="1.1" fill="#a4a2c2" fill-opacity="0.50"/>
<ellipse cx="89.3" cy="521.3" rx="0.8" ry="0.7" fill="#a4a2c2" fill-opacity="0.45"/>
<ellipse cx="60.3" cy="478.7" rx="1.0" ry="0.5" transform="rotate(19 60.3 478.7)" fill="#a4a2c2" fill-opacity="0.50"/>
<ellipse cx="67.4" cy="484.5" rx="1.2" ry="0.9" fill="#a4a2c2" fill-opacity="0.55"/>
<ellipse cx="50.0" cy="509.2" rx="1.0" ry="1.0" fill="#a4a2c2" fill-opacity="0.59"/>
<ellipse cx="23.7" cy="518.3" rx="1.1" ry="0.7" transform="rotate(177 23.7 518.3)" fill="#a4a2c2" fill-opacity="0.60"/>
<ellipse cx="70.4" cy="503.6" rx="0.8" ry="0.7" fill="#8c8ab2" fill-opacity="0.34"/>
<ellipse cx="75.5" cy="530.2" rx="1.1" ry="0.6" transform="rotate(58 75.5 530.2)" fill="#a4a2c2" fill-opacity="0.45"/>
<ellipse cx="21.7" cy="534.6" rx="0.7" ry="0.4" transform="rotate(139 21.7 534.6)" fill="#8c8ab2" fill-opacity="0.34"/>
<ellipse cx="101.2" cy="524.7" rx="1.0" ry="0.6" transform="rotate(110 101.2 524.7)" fill="#8c8ab2" fill-opacity="0.35"/>
<ellipse cx="75.5" cy="491.4" rx="1.4" ry="0.8" transform="rotate(171 75.5 491.4)" fill="#a4a2c2" fill-opacity="0.46"/>
<ellipse cx="57.0" cy="521.1" rx="1.2" ry="0.7" transform="rotate(136 57.0 521.1)" fill="#a4a2c2" fill-opacity="0.44"/>
<ellipse cx="20.3" cy="539.5" rx="1.4" ry="0.9" transform="rotate(0 20.3 539.5)" fill="#8c8ab2" fill-opacity="0.41"/>
<ellipse cx="81.8" cy="484.3" rx="0.9" ry="0.8" fill="#a4a2c2" fill-opacity="0.45"/>
<ellipse cx="123.1" cy="542.8" rx="0.6" ry="0.4" transform="rotate(24 123.1 542.8)" fill="#a4a2c2" fill-opacity="0.54"/>
<ellipse cx="66.1" cy="533.0" rx="0.7" ry="0.5" transform="rotate(123 66.1 533.0)" fill="#8c8ab2" fill-opacity="0.34"/>
<ellipse cx="19.6" cy="537.2" rx="0.7" ry="0.4" transform="rotate(144 19.6 537.2)" fill="#8c8ab2" fill-opacity="0.34"/>
<ellipse cx="120.8" cy="517.9" rx="0.9" ry="0.7" transform="rotate(79 120.8 517.9)" fill="#a4a2c2" fill-opacity="0.38"/>
<ellipse cx="27.1" cy="525.4" rx="1.2" ry="0.8" transform="rotate(157 27.1 525.4)" fill="#8c8ab2" fill-opacity="0.32"/>
<ellipse cx="33.3" cy="500.8" rx="0.9" ry="0.6" transform="rotate(153 33.3 500.8)" fill="#a4a2c2" fill-opacity="0.41"/>
<ellipse cx="92.5" cy="526.1" rx="1.3" ry="1.2" fill="#8c8ab2" fill-opacity="0.30"/>
<ellipse cx="120.9" cy="500.7" rx="1.4" ry="0.7" transform="rotate(29 120.9 500.7)" fill="#8c8ab2" fill-opacity="0.45"/>
<ellipse cx="87.1" cy="547.9" rx="0.7" ry="0.5" transform="rotate(76 87.1 547.9)" fill="#a4a2c2" fill-opacity="0.42"/>
<ellipse cx="58.4" cy="494.6" rx="1.0" ry="0.7" transform="rotate(179 58.4 494.6)" fill="#a4a2c2" fill-opacity="0.33"/>
<ellipse cx="38.9" cy="536.7" rx="1.2" ry="0.7" transform="rotate(131 38.9 536.7)" fill="#a4a2c2" fill-opacity="0.57"/>
<ellipse cx="84.8" cy="538.8" rx="1.0" ry="0.7" transform="rotate(54 84.8 538.8)" fill="#a4a2c2" fill-opacity="0.47"/>
<ellipse cx="114.5" cy="478.4" rx="1.1" ry="1.0" fill="#8c8ab2" fill-opacity="0.56"/>
<ellipse cx="109.5" cy="515.5" rx="1.3" ry="0.7" transform="rotate(1 109.5 515.5)" fill="#8c8ab2" fill-opacity="0.53"/>
<ellipse cx="72.7" cy="547.6" rx="1.1" ry="0.6" transform="rotate(127 72.7 547.6)" fill="#a4a2c2" fill-opacity="0.48"/>
<ellipse cx="50.8" cy="499.0" rx="0.7" ry="0.5" transform="rotate(160 50.8 499.0)" fill="#8482a6" fill-opacity="0.36"/>
<ellipse cx="49.4" cy="497.2" rx="0.8" ry="0.7" fill="#8482a6" fill-opacity="0.58"/>
<ellipse cx="52.9" cy="514.9" rx="1.2" ry="0.8" transform="rotate(70 52.9 514.9)" fill="#9290b0" fill-opacity="0.34"/>
<ellipse cx="75.3" cy="511.0" rx="0.6" ry="0.6" fill="#9290b0" fill-opacity="0.35"/>
<ellipse cx="56.0" cy="504.7" rx="0.7" ry="0.4" transform="rotate(61 56.0 504.7)" fill="#8482a6" fill-opacity="0.56"/>
<ellipse cx="31.1" cy="505.4" rx="0.6" ry="0.5" fill="#7a789e" fill-opacity="0.36"/>
<ellipse cx="56.4" cy="499.3" rx="1.1" ry="0.6" transform="rotate(107 56.4 499.3)" fill="#7a789e" fill-opacity="0.41"/>
<ellipse cx="71.5" cy="509.2" rx="0.9" ry="0.4" transform="rotate(111 71.5 509.2)" fill="#9290b0" fill-opacity="0.54"/>
<ellipse cx="52.3" cy="505.1" rx="0.9" ry="0.8" fill="#8482a6" fill-opacity="0.34"/>
<ellipse cx="51.9" cy="503.0" rx="0.6" ry="0.4" transform="rotate(148 51.9 503.0)" fill="#9290b0" fill-opacity="0.35"/>
<ellipse cx="50.7" cy="514.6" rx="1.2" ry="1.0" fill="#7a789e" fill-opacity="0.34"/>
<ellipse cx="55.4" cy="510.2" rx="0.6" ry="0.5" transform="rotate(41 55.4 510.2)" fill="#7a789e" fill-opacity="0.55"/>
<ellipse cx="69.2" cy="509.9" rx="1.1" ry="0.9" fill="#8482a6" fill-opacity="0.32"/>
<ellipse cx="44.5" cy="509.9" rx="1.2" ry="1.2" fill="#8482a6" fill-opacity="0.56"/>
<ellipse cx="67.1" cy="504.0" rx="1.0" ry="0.8" transform="rotate(66 67.1 504.0)" fill="#7a789e" fill-opacity="0.35"/>
<ellipse cx="81.0" cy="502.6" rx="1.1" ry="0.7" transform="rotate(73 81.0 502.6)" fill="#9290b0" fill-opacity="0.46"/>
<ellipse cx="71.0" cy="516.5" rx="1.2" ry="1.0" fill="#8482a6" fill-opacity="0.52"/>
<ellipse cx="77.2" cy="511.3" rx="0.9" ry="0.8" fill="#7a789e" fill-opacity="0.52"/>
<ellipse cx="65.3" cy="506.4" rx="0.8" ry="0.7" fill="#7a789e" fill-opacity="0.43"/>
<ellipse cx="52.1" cy="503.7" rx="0.7" ry="0.7" fill="#7a789e" fill-opacity="0.47"/>
<ellipse cx="78.9" cy="500.5" rx="1.1" ry="0.7" transform="rotate(105 78.9 500.5)" fill="#7a789e" fill-opacity="0.36"/>
<ellipse cx="55.0" cy="512.6" rx="0.7" ry="0.4" transform="rotate(82 55.0 512.6)" fill="#8482a6" fill-opacity="0.50"/>
<ellipse cx="57.1" cy="503.5" rx="1.2" ry="1.2" fill="#7a789e" fill-opacity="0.55"/>
<ellipse cx="59.2" cy="515.6" rx="1.1" ry="0.8" transform="rotate(76 59.2 515.6)" fill="#8482a6" fill-opacity="0.47"/>
<ellipse cx="53.1" cy="503.1" rx="1.3" ry="1.1" fill="#8482a6" fill-opacity="0.48"/>
<ellipse cx="66.2" cy="503.9" rx="0.7" ry="0.5" transform="rotate(39 66.2 503.9)" fill="#7a789e" fill-opacity="0.48"/>
<ellipse cx="59.2" cy="497.3" rx="0.7" ry="0.7" fill="#9290b0" fill-opacity="0.54"/>
<ellipse cx="77.6" cy="512.8" rx="0.7" ry="0.7" fill="#7a789e" fill-opacity="0.51"/>
<ellipse cx="62.6" cy="506.8" rx="1.0" ry="1.0" fill="#8482a6" fill-opacity="0.59"/>
<ellipse cx="55.6" cy="509.7" rx="1.1" ry="0.6" transform="rotate(116 55.6 509.7)" fill="#9290b0" fill-opacity="0.48"/>
<ellipse cx="38.7" cy="505.5" rx="1.1" ry="1.0" fill="#8482a6" fill-opacity="0.56"/>
<ellipse cx="52.2" cy="504.8" rx="0.7" ry="0.5" transform="rotate(176 52.2 504.8)" fill="#8482a6" fill-opacity="0.50"/>
<ellipse cx="71.3" cy="505.7" rx="0.9" ry="0.6" transform="rotate(176 71.3 505.7)" fill="#9290b0" fill-opacity="0.49"/>
<ellipse cx="64.5" cy="506.4" rx="0.9" ry="0.9" fill="#9290b0" fill-opacity="0.52"/>
<ellipse cx="57.5" cy="498.1" rx="0.8" ry="0.7" fill="#7a789e" fill-opacity="0.50"/>
<ellipse cx="71.7" cy="507.1" rx="0.8" ry="0.5" transform="rotate(117 71.7 507.1)" fill="#8482a6" fill-opacity="0.38"/>
<ellipse cx="57.5" cy="506.5" rx="1.0" ry="0.8" transform="rotate(19 57.5 506.5)" fill="#8482a6" fill-opacity="0.50"/>
<ellipse cx="49.8" cy="499.5" rx="1.2" ry="1.1" fill="#8482a6" fill-opacity="0.33"/>
<ellipse cx="51.0" cy="507.8" rx="1.2" ry="1.0" fill="#9290b0" fill-opacity="0.47"/>
<ellipse cx="53.9" cy="507.6" rx="0.8" ry="0.6" transform="rotate(37 53.9 507.6)" fill="#9290b0" fill-opacity="0.52"/>
<ellipse cx="52.6" cy="499.2" rx="1.3" ry="0.7" transform="rotate(15 52.6 499.2)" fill="#8482a6" fill-opacity="0.59"/>
<ellipse cx="57.8" cy="503.7" rx="0.9" ry="0.7" fill="#9290b0" fill-opacity="0.60"/>
<ellipse cx="47.9" cy="512.5" rx="1.0" ry="0.6" transform="rotate(106 47.9 512.5)" fill="#8482a6" fill-opacity="0.58"/>
<ellipse cx="59.9" cy="503.1" rx="1.3" ry="1.2" fill="#8482a6" fill-opacity="0.56"/>
<ellipse cx="74.0" cy="499.3" rx="0.8" ry="0.8" fill="#7a789e" fill-opacity="0.49"/>
<ellipse cx="65.6" cy="506.6" rx="1.2" ry="1.0" fill="#7a789e" fill-opacity="0.49"/>
<ellipse cx="65.5" cy="507.9" rx="1.3" ry="0.7" transform="rotate(136 65.5 507.9)" fill="#7a789e" fill-opacity="0.36"/>
<ellipse cx="67.8" cy="506.1" rx="1.1" ry="0.7" transform="rotate(68 67.8 506.1)" fill="#8482a6" fill-opacity="0.50"/>
<ellipse cx="55.2" cy="494.1" rx="0.7" ry="0.4" transform="rotate(96 55.2 494.1)" fill="#7a789e" fill-opacity="0.46"/>
<ellipse cx="55.9" cy="504.5" rx="0.6" ry="0.6" fill="#9290b0" fill-opacity="0.33"/>
<ellipse cx="68.7" cy="502.3" rx="0.6" ry="0.5" transform="rotate(89 68.7 502.3)" fill="#9290b0" fill-opacity="0.58"/>
<ellipse cx="37.9" cy="504.7" rx="0.9" ry="0.6" transform="rotate(179 37.9 504.7)" fill="#8482a6" fill-opacity="0.45"/>
<ellipse cx="68.5" cy="504.9" rx="1.1" ry="0.8" transform="rotate(137 68.5 504.9)" fill="#7a789e" fill-opacity="0.47"/>
<ellipse cx="57.9" cy="501.4" rx="0.8" ry="0.7" fill="#9290b0" fill-opacity="0.51"/>
<ellipse cx="63.3" cy="500.8" rx="1.3" ry="1.1" fill="#7a789e" fill-opacity="0.53"/>
<ellipse cx="40.0" cy="501.0" rx="1.0" ry="0.6" transform="rotate(61 40.0 501.0)" fill="#8482a6" fill-opacity="0.34"/>
<ellipse cx="78.2" cy="505.2" rx="0.7" ry="0.5" transform="rotate(117 78.2 505.2)" fill="#8482a6" fill-opacity="0.37"/>
<ellipse cx="58.9" cy="501.5" rx="1.0" ry="0.7" transform="rotate(125 58.9 501.5)" fill="#9290b0" fill-opacity="0.44"/>
<ellipse cx="56.4" cy="504.5" rx="0.8" ry="0.7" fill="#8482a6" fill-opacity="0.35"/>
<ellipse cx="58.0" cy="503.2" rx="1.0" ry="0.9" fill="#9290b0" fill-opacity="0.32"/>
<ellipse cx="71.3" cy="485.2" rx="1.3" ry="1.2" fill="#8482a6" fill-opacity="0.58"/>
<ellipse cx="45.4" cy="502.9" rx="0.7" ry="0.4" transform="rotate(157 45.4 502.9)" fill="#7a789e" fill-opacity="0.54"/>
<ellipse cx="50.8" cy="503.7" rx="1.2" ry="1.0" transform="rotate(18 50.8 503.7)" fill="#8482a6" fill-opacity="0.49"/>
<ellipse cx="48.6" cy="505.9" rx="1.0" ry="0.8" fill="#7a789e" fill-opacity="0.51"/>
<ellipse cx="52.1" cy="505.1" rx="1.1" ry="0.9" fill="#8482a6" fill-opacity="0.53"/>
<ellipse cx="66.5" cy="509.5" rx="1.2" ry="0.9" transform="rotate(100 66.5 509.5)" fill="#9290b0" fill-opacity="0.57"/>
<ellipse cx="66.1" cy="496.8" rx="1.0" ry="0.9" fill="#9290b0" fill-opacity="0.51"/>
<ellipse cx="53.6" cy="511.2" rx="1.0" ry="0.9" fill="#8482a6" fill-opacity="0.43"/>
<ellipse cx="68.5" cy="494.3" rx="1.1" ry="0.7" transform="rotate(69 68.5 494.3)" fill="#7a789e" fill-opacity="0.41"/>
<ellipse cx="72.4" cy="504.5" rx="0.8" ry="0.5" transform="rotate(40 72.4 504.5)" fill="#7a789e" fill-opacity="0.30"/>
<ellipse cx="55.1" cy="511.7" rx="1.2" ry="1.2" fill="#7a789e" fill-opacity="0.58"/>
<ellipse cx="68.6" cy="501.0" rx="1.2" ry="0.7" transform="rotate(163 68.6 501.0)" fill="#7a789e" fill-opacity="0.50"/>
<ellipse cx="50.3" cy="507.5" rx="1.3" ry="0.9" transform="rotate(66 50.3 507.5)" fill="#7a789e" fill-opacity="0.56"/>
<ellipse cx="64.3" cy="508.0" rx="1.2" ry="1.2" fill="#8482a6" fill-opacity="0.50"/>
<ellipse cx="57.1" cy="499.6" rx="0.7" ry="0.6" fill="#9290b0" fill-opacity="0.43"/>
<ellipse cx="74.2" cy="497.0" rx="0.8" ry="0.5" transform="rotate(48 74.2 497.0)" fill="#9290b0" fill-opacity="0.34"/>
<ellipse cx="72.8" cy="511.8" rx="1.0" ry="0.7" transform="rotate(162 72.8 511.8)" fill="#8482a6" fill-opacity="0.43"/>
<ellipse cx="66.4" cy="522.4" rx="0.9" ry="0.6" transform="rotate(73 66.4 522.4)" fill="#9290b0" fill-opacity="0.50"/>
<ellipse cx="59.5" cy="506.1" rx="1.1" ry="0.5" transform="rotate(17 59.5 506.1)" fill="#9290b0" fill-opacity="0.55"/>
<ellipse cx="72.2" cy="519.3" rx="0.9" ry="0.8" fill="#7a789e" fill-opacity="0.55"/>
<ellipse cx="59.7" cy="500.1" rx="1.1" ry="0.6" transform="rotate(145 59.7 500.1)" fill="#7a789e" fill-opacity="0.35"/>
<ellipse cx="48.0" cy="501.4" rx="1.1" ry="0.9" fill="#8482a6" fill-opacity="0.52"/>
<ellipse cx="42.8" cy="509.0" rx="0.7" ry="0.6" fill="#9290b0" fill-opacity="0.49"/>
<ellipse cx="72.2" cy="503.6" rx="0.9" ry="0.6" transform="rotate(32 72.2 503.6)" fill="#7a789e" fill-opacity="0.44"/>
<ellipse cx="58.3" cy="520.0" rx="0.9" ry="0.9" fill="#9290b0" fill-opacity="0.38"/>
<ellipse cx="60.0" cy="502.9" rx="0.8" ry="0.4" transform="rotate(34 60.0 502.9)" fill="#9290b0" fill-opacity="0.36"/>
<ellipse cx="68.0" cy="502.2" rx="0.7" ry="0.7" fill="#8482a6" fill-opacity="0.38"/>
<ellipse cx="44.9" cy="498.9" rx="1.0" ry="0.8" transform="rotate(111 44.9 498.9)" fill="#8482a6" fill-opacity="0.41"/>
<ellipse cx="64.9" cy="513.1" rx="0.7" ry="0.4" transform="rotate(94 64.9 513.1)" fill="#9290b0" fill-opacity="0.48"/>
<ellipse cx="50.9" cy="503.9" rx="0.8" ry="0.8" fill="#8482a6" fill-opacity="0.36"/>
<ellipse cx="31.5" cy="528.1" rx="1.1" ry="0.9" transform="rotate(35 31.5 528.1)" fill="#8484a2" fill-opacity="0.57"/>
<ellipse cx="75.9" cy="519.4" rx="1.9" ry="0.8" transform="rotate(141 75.9 519.4)" fill="#8484a2" fill-opacity="0.65"/>
<ellipse cx="108.3" cy="542.5" rx="1.0" ry="0.7" transform="rotate(17 108.3 542.5)" fill="#747496" fill-opacity="0.52"/>
<ellipse cx="65.7" cy="536.1" rx="1.1" ry="0.9" transform="rotate(18 65.7 536.1)" fill="#66668a" fill-opacity="0.47"/>
<ellipse cx="75.9" cy="484.0" rx="2.0" ry="0.7" transform="rotate(7 75.9 484.0)" fill="#747496" fill-opacity="0.55"/>
<ellipse cx="43.5" cy="514.4" rx="1.6" ry="0.9" transform="rotate(224 43.5 514.4)" fill="#8484a2" fill-opacity="0.85"/>
<ellipse cx="30.3" cy="533.7" rx="1.9" ry="0.9" transform="rotate(9 30.3 533.7)" fill="#747496" fill-opacity="0.68"/>
<ellipse cx="17.5" cy="516.0" rx="1.4" ry="0.9" transform="rotate(20 17.5 516.0)" fill="#5c5c80" fill-opacity="0.55"/>
<ellipse cx="57.3" cy="480.3" rx="1.2" ry="0.6" transform="rotate(22 57.3 480.3)" fill="#5c5c80" fill-opacity="0.71"/>
<ellipse cx="7.0" cy="510.2" rx="1.0" ry="1.0" transform="rotate(34 7.0 510.2)" fill="#8484a2" fill-opacity="0.70"/>
<ellipse cx="40.1" cy="501.5" rx="1.3" ry="0.8" transform="rotate(308 40.1 501.5)" fill="#747496" fill-opacity="0.67"/>
<ellipse cx="48.2" cy="475.3" rx="1.3" ry="0.9" transform="rotate(4 48.2 475.3)" fill="#747496" fill-opacity="0.72"/>
<ellipse cx="62.5" cy="527.4" rx="1.0" ry="0.8" transform="rotate(9 62.5 527.4)" fill="#747496" fill-opacity="0.49"/>
<ellipse cx="120.9" cy="510.5" rx="1.6" ry="0.9" transform="rotate(67 120.9 510.5)" fill="#66668a" fill-opacity="0.66"/>
<ellipse cx="67.8" cy="549.1" rx="1.9" ry="0.8" transform="rotate(15 67.8 549.1)" fill="#8484a2" fill-opacity="0.59"/>
<ellipse cx="18.6" cy="520.9" rx="1.7" ry="0.8" transform="rotate(93 18.6 520.9)" fill="#8484a2" fill-opacity="0.81"/>
<ellipse cx="13.6" cy="489.2" rx="1.7" ry="0.9" transform="rotate(50 13.6 489.2)" fill="#747496" fill-opacity="0.61"/>
<ellipse cx="111.2" cy="539.2" rx="1.5" ry="0.9" transform="rotate(2 111.2 539.2)" fill="#8484a2" fill-opacity="0.83"/>
<ellipse cx="112.0" cy="515.1" rx="1.8" ry="0.8" transform="rotate(49 112.0 515.1)" fill="#8484a2" fill-opacity="0.52"/>
<ellipse cx="62.2" cy="526.9" rx="1.2" ry="0.7" transform="rotate(10 62.2 526.9)" fill="#5c5c80" fill-opacity="0.80"/>
<ellipse cx="65.4" cy="523.4" rx="1.6" ry="0.9" transform="rotate(30 65.4 523.4)" fill="#66668a" fill-opacity="0.70"/>
<ellipse cx="73.9" cy="531.0" rx="1.6" ry="0.7" transform="rotate(28 73.9 531.0)" fill="#5c5c80" fill-opacity="0.51"/>
<ellipse cx="15.6" cy="514.9" rx="1.2" ry="0.8" transform="rotate(13 15.6 514.9)" fill="#5c5c80" fill-opacity="0.73"/>
<ellipse cx="84.5" cy="499.7" rx="1.5" ry="0.6" transform="rotate(435 84.5 499.7)" fill="#66668a" fill-opacity="0.51"/>
<ellipse cx="24.0" cy="488.9" rx="1.6" ry="0.9" transform="rotate(30 24.0 488.9)" fill="#8484a2" fill-opacity="0.50"/>
<ellipse cx="19.4" cy="542.0" rx="1.4" ry="0.8" transform="rotate(175 19.4 542.0)" fill="#8484a2" fill-opacity="0.53"/>
<ellipse cx="110.8" cy="492.3" rx="1.7" ry="0.7" transform="rotate(43 110.8 492.3)" fill="#8484a2" fill-opacity="0.64"/>
<ellipse cx="12.2" cy="491.9" rx="1.1" ry="0.6" transform="rotate(57 12.2 491.9)" fill="#747496" fill-opacity="0.58"/>
<ellipse cx="108.5" cy="482.4" rx="1.5" ry="0.8" transform="rotate(73 108.5 482.4)" fill="#747496" fill-opacity="0.77"/>
<ellipse cx="117.5" cy="521.5" rx="1.4" ry="0.9" transform="rotate(68 117.5 521.5)" fill="#66668a" fill-opacity="0.64"/>
<ellipse cx="102.0" cy="487.3" rx="1.8" ry="0.8" transform="rotate(43 102.0 487.3)" fill="#5c5c80" fill-opacity="0.70"/>
<ellipse cx="43.7" cy="539.5" rx="1.7" ry="0.6" transform="rotate(34 43.7 539.5)" fill="#8484a2" fill-opacity="0.61"/>
<ellipse cx="81.1" cy="539.3" rx="1.0" ry="0.6" transform="rotate(26 81.1 539.3)" fill="#747496" fill-opacity="0.48"/>
<ellipse cx="111.4" cy="535.1" rx="1.0" ry="0.8" transform="rotate(108 111.4 535.1)" fill="#5c5c80" fill-opacity="0.58"/>
<ellipse cx="52.0" cy="539.1" rx="1.1" ry="0.6" transform="rotate(28 52.0 539.1)" fill="#66668a" fill-opacity="0.68"/>
<ellipse cx="21.0" cy="538.0" rx="1.6" ry="0.7" transform="rotate(2 21.0 538.0)" fill="#8484a2" fill-opacity="0.46"/>
<ellipse cx="111.6" cy="473.3" rx="1.8" ry="0.9" transform="rotate(79 111.6 473.3)" fill="#747496" fill-opacity="0.62"/>
<ellipse cx="110.5" cy="488.5" rx="1.5" ry="0.9" transform="rotate(44 110.5 488.5)" fill="#66668a" fill-opacity="0.46"/>
<ellipse cx="33.6" cy="525.2" rx="1.8" ry="0.9" transform="rotate(32 33.6 525.2)" fill="#5c5c80" fill-opacity="0.80"/>
<ellipse cx="75.4" cy="536.0" rx="1.3" ry="0.8" transform="rotate(34 75.4 536.0)" fill="#66668a" fill-opacity="0.69"/>
<ellipse cx="35.5" cy="512.2" rx="1.7" ry="0.9" transform="rotate(237 35.5 512.2)" fill="#747496" fill-opacity="0.77"/>
<ellipse cx="83.3" cy="484.4" rx="1.7" ry="0.6" transform="rotate(18 83.3 484.4)" fill="#747496" fill-opacity="0.61"/>
<ellipse cx="7.8" cy="512.7" rx="1.4" ry="0.9" transform="rotate(27 7.8 512.7)" fill="#66668a" fill-opacity="0.55"/>
<ellipse cx="133.7" cy="539.8" rx="1.8" ry="0.6" transform="rotate(79 133.7 539.8)" fill="#66668a" fill-opacity="0.45"/>
<ellipse cx="16.1" cy="517.3" rx="1.1" ry="0.9" transform="rotate(42 16.1 517.3)" fill="#66668a" fill-opacity="0.82"/>
<ellipse cx="43.2" cy="533.7" rx="1.0" ry="0.7" transform="rotate(35 43.2 533.7)" fill="#8484a2" fill-opacity="0.76"/>
<ellipse cx="71.7" cy="481.5" rx="1.5" ry="0.6" transform="rotate(33 71.7 481.5)" fill="#66668a" fill-opacity="0.51"/>
<ellipse cx="32.4" cy="485.6" rx="1.6" ry="0.8" transform="rotate(13 32.4 485.6)" fill="#66668a" fill-opacity="0.60"/>
<ellipse cx="109.2" cy="489.6" rx="1.2" ry="1.0" transform="rotate(79 109.2 489.6)" fill="#66668a" fill-opacity="0.79"/>
<ellipse cx="49.4" cy="543.9" rx="1.1" ry="0.7" transform="rotate(21 49.4 543.9)" fill="#747496" fill-opacity="0.56"/>
<ellipse cx="24.7" cy="522.1" rx="2.0" ry="0.6" transform="rotate(44 24.7 522.1)" fill="#5c5c80" fill-opacity="0.67"/>
<ellipse cx="60.6" cy="519.3" rx="1.3" ry="0.7" transform="rotate(183 60.6 519.3)" fill="#8484a2" fill-opacity="0.48"/>
<ellipse cx="115.2" cy="480.2" rx="1.3" ry="1.0" transform="rotate(82 115.2 480.2)" fill="#66668a" fill-opacity="0.79"/>
<ellipse cx="15.7" cy="476.6" rx="1.7" ry="0.9" transform="rotate(15 15.7 476.6)" fill="#8484a2" fill-opacity="0.79"/>
<ellipse cx="118.5" cy="500.9" rx="1.3" ry="0.7" transform="rotate(60 118.5 500.9)" fill="#8484a2" fill-opacity="0.59"/>
<ellipse cx="12.3" cy="488.4" rx="1.5" ry="0.8" transform="rotate(70 12.3 488.4)" fill="#747496" fill-opacity="0.66"/>
<ellipse cx="86.0" cy="532.3" rx="2.0" ry="0.8" transform="rotate(-2 86.0 532.3)" fill="#66668a" fill-opacity="0.67"/>
<ellipse cx="116.1" cy="482.3" rx="1.1" ry="0.6" transform="rotate(42 116.1 482.3)" fill="#8484a2" fill-opacity="0.55"/>
<ellipse cx="73.5" cy="529.6" rx="1.4" ry="0.9" transform="rotate(3 73.5 529.6)" fill="#5c5c80" fill-opacity="0.81"/>
<ellipse cx="89.0" cy="503.4" rx="1.6" ry="0.6" transform="rotate(448 89.0 503.4)" fill="#747496" fill-opacity="0.83"/>
<ellipse cx="104.2" cy="492.6" rx="1.3" ry="0.7" transform="rotate(56 104.2 492.6)" fill="#747496" fill-opacity="0.56"/>
<ellipse cx="109.6" cy="534.6" rx="1.1" ry="0.7" transform="rotate(27 109.6 534.6)" fill="#5c5c80" fill-opacity="0.55"/>
<ellipse cx="129.0" cy="530.6" rx="1.3" ry="0.6" transform="rotate(43 129.0 530.6)" fill="#747496" fill-opacity="0.52"/>
<ellipse cx="109.3" cy="500.9" rx="1.0" ry="0.8" transform="rotate(50 109.3 500.9)" fill="#8484a2" fill-opacity="0.48"/>
<ellipse cx="117.5" cy="512.6" rx="1.4" ry="1.0" transform="rotate(49 117.5 512.6)" fill="#5c5c80" fill-opacity="0.71"/>
<ellipse cx="54.1" cy="540.2" rx="1.6" ry="0.7" transform="rotate(12 54.1 540.2)" fill="#8484a2" fill-opacity="0.73"/>
<ellipse cx="36.6" cy="528.2" rx="1.6" ry="0.6" transform="rotate(50 36.6 528.2)" fill="#8484a2" fill-opacity="0.76"/>
<ellipse cx="18.8" cy="510.6" rx="1.3" ry="0.7" transform="rotate(87 18.8 510.6)" fill="#66668a" fill-opacity="0.74"/>
<ellipse cx="117.6" cy="493.8" rx="1.8" ry="0.6" transform="rotate(46 117.6 493.8)" fill="#66668a" fill-opacity="0.58"/>
<ellipse cx="118.6" cy="507.0" rx="1.7" ry="0.8" transform="rotate(56 118.6 507.0)" fill="#66668a" fill-opacity="0.67"/>
<ellipse cx="97.1" cy="481.9" rx="1.6" ry="0.7" transform="rotate(47 97.1 481.9)" fill="#5c5c80" fill-opacity="0.56"/>
<ellipse cx="88.1" cy="498.1" rx="1.0" ry="0.9" transform="rotate(444 88.1 498.1)" fill="#747496" fill-opacity="0.74"/>
<ellipse cx="51.9" cy="531.5" rx="1.4" ry="0.7" transform="rotate(20 51.9 531.5)" fill="#8484a2" fill-opacity="0.55"/>
<ellipse cx="64.3" cy="488.6" rx="1.3" ry="0.7" transform="rotate(366 64.3 488.6)" fill="#66668a" fill-opacity="0.52"/>
<ellipse cx="107.4" cy="476.4" rx="1.3" ry="0.6" transform="rotate(74 107.4 476.4)" fill="#8484a2" fill-opacity="0.67"/>
<ellipse cx="115.2" cy="498.7" rx="1.7" ry="0.6" transform="rotate(57 115.2 498.7)" fill="#5c5c80" fill-opacity="0.79"/>
<ellipse cx="60.2" cy="494.0" rx="1.3" ry="0.6" transform="rotate(355 60.2 494.0)" fill="#8484a2" fill-opacity="0.61"/>
<ellipse cx="118.9" cy="528.4" rx="1.3" ry="0.6" transform="rotate(39 118.9 528.4)" fill="#5c5c80" fill-opacity="0.59"/>
<ellipse cx="37.5" cy="527.7" rx="1.4" ry="0.8" transform="rotate(39 37.5 527.7)" fill="#8484a2" fill-opacity="0.85"/>
<ellipse cx="36.6" cy="496.7" rx="1.6" ry="0.7" transform="rotate(53 36.6 496.7)" fill="#747496" fill-opacity="0.48"/>
<ellipse cx="77.9" cy="530.3" rx="1.0" ry="0.6" transform="rotate(58 77.9 530.3)" fill="#8484a2" fill-opacity="0.52"/>
<ellipse cx="109.9" cy="481.9" rx="1.6" ry="1.0" transform="rotate(49 109.9 481.9)" fill="#5c5c80" fill-opacity="0.72"/>
<ellipse cx="33.2" cy="528.5" rx="1.2" ry="0.7" transform="rotate(48 33.2 528.5)" fill="#747496" fill-opacity="0.46"/>
<ellipse cx="84.2" cy="500.5" rx="1.9" ry="0.8" transform="rotate(430 84.2 500.5)" fill="#8484a2" fill-opacity="0.81"/>
<ellipse cx="48.6" cy="518.8" rx="1.1" ry="0.8" transform="rotate(127 48.6 518.8)" fill="#5c5c80" fill-opacity="0.53"/>
<ellipse cx="32.1" cy="488.7" rx="1.0" ry="0.6" transform="rotate(9 32.1 488.7)" fill="#66668a" fill-opacity="0.77"/>
<ellipse cx="23.6" cy="488.9" rx="1.3" ry="0.8" transform="rotate(27 23.6 488.9)" fill="#747496" fill-opacity="0.73"/>
<ellipse cx="34.2" cy="525.8" rx="1.3" ry="0.8" transform="rotate(27 34.2 525.8)" fill="#66668a" fill-opacity="0.48"/>
<ellipse cx="68.7" cy="519.4" rx="1.3" ry="0.8" transform="rotate(74 68.7 519.4)" fill="#747496" fill-opacity="0.51"/>
<ellipse cx="21.7" cy="493.8" rx="1.9" ry="0.8" transform="rotate(149 21.7 493.8)" fill="#747496" fill-opacity="0.48"/>
<ellipse cx="49.3" cy="528.4" rx="1.0" ry="0.8" transform="rotate(44 49.3 528.4)" fill="#66668a" fill-opacity="0.63"/>
<ellipse cx="23.0" cy="479.5" rx="1.5" ry="0.8" transform="rotate(28 23.0 479.5)" fill="#66668a" fill-opacity="0.74"/>
<ellipse cx="60.1" cy="477.4" rx="1.8" ry="0.8" transform="rotate(14 60.1 477.4)" fill="#747496" fill-opacity="0.71"/>
<ellipse cx="44.6" cy="533.6" rx="1.4" ry="0.9" transform="rotate(30 44.6 533.6)" fill="#66668a" fill-opacity="0.51"/>
<ellipse cx="58.0" cy="518.8" rx="1.7" ry="1.0" transform="rotate(187 58.0 518.8)" fill="#5c5c80" fill-opacity="0.81"/>
<ellipse cx="36.5" cy="490.1" rx="2.0" ry="0.6" transform="rotate(5 36.5 490.1)" fill="#747496" fill-opacity="0.69"/>
<ellipse cx="31.0" cy="497.9" rx="1.7" ry="0.8" transform="rotate(292 31.0 497.9)" fill="#66668a" fill-opacity="0.62"/>
<ellipse cx="41.2" cy="517.0" rx="1.9" ry="0.8" transform="rotate(222 41.2 517.0)" fill="#8484a2" fill-opacity="0.72"/>
<ellipse cx="110.0" cy="490.0" rx="1.9" ry="0.8" transform="rotate(89 110.0 490.0)" fill="#8484a2" fill-opacity="0.65"/>
<ellipse cx="35.9" cy="493.8" rx="1.1" ry="0.8" transform="rotate(294 35.9 493.8)" fill="#8484a2" fill-opacity="0.75"/>
<ellipse cx="27.3" cy="522.2" rx="1.7" ry="0.6" transform="rotate(38 27.3 522.2)" fill="#5c5c80" fill-opacity="0.51"/>
<ellipse cx="59.1" cy="515.8" rx="1.2" ry="0.7" transform="rotate(190 59.1 515.8)" fill="#66668a" fill-opacity="0.58"/>
<ellipse cx="48.6" cy="484.0" rx="1.2" ry="0.9" transform="rotate(147 48.6 484.0)" fill="#66668a" fill-opacity="0.63"/>
<ellipse cx="54.3" cy="473.7" rx="1.4" ry="0.7" transform="rotate(14 54.3 473.7)" fill="#5c5c80" fill-opacity="0.84"/>
<ellipse cx="107.3" cy="482.4" rx="1.8" ry="0.8" transform="rotate(65 107.3 482.4)" fill="#8484a2" fill-opacity="0.51"/>
<ellipse cx="96.6" cy="548.2" rx="1.9" ry="0.7" transform="rotate(97 96.6 548.2)" fill="#5c5c80" fill-opacity="0.74"/>
<ellipse cx="25.1" cy="514.9" rx="1.1" ry="0.8" transform="rotate(74 25.1 514.9)" fill="#747496" fill-opacity="0.47"/>
<ellipse cx="46.1" cy="490.9" rx="1.4" ry="0.9" transform="rotate(324 46.1 490.9)" fill="#66668a" fill-opacity="0.68"/>
<ellipse cx="35.8" cy="503.9" rx="1.2" ry="0.7" transform="rotate(276 35.8 503.9)" fill="#747496" fill-opacity="0.52"/>
<ellipse cx="59.3" cy="519.3" rx="1.1" ry="0.8" transform="rotate(179 59.3 519.3)" fill="#66668a" fill-opacity="0.60"/>
<ellipse cx="9.3" cy="519.6" rx="1.9" ry="0.7" transform="rotate(49 9.3 519.6)" fill="#747496" fill-opacity="0.54"/>
<ellipse cx="19.5" cy="517.7" rx="1.8" ry="1.0" transform="rotate(73 19.5 517.7)" fill="#747496" fill-opacity="0.57"/>
<ellipse cx="40.2" cy="525.2" rx="1.5" ry="0.6" transform="rotate(11 40.2 525.2)" fill="#747496" fill-opacity="0.82"/>
<ellipse cx="62.1" cy="544.7" rx="1.5" ry="1.0" transform="rotate(28 62.1 544.7)" fill="#747496" fill-opacity="0.65"/>
<ellipse cx="125.2" cy="523.3" rx="1.7" ry="0.6" transform="rotate(63 125.2 523.3)" fill="#747496" fill-opacity="0.77"/>
<ellipse cx="55.2" cy="518.1" rx="1.1" ry="0.7" transform="rotate(192 55.2 518.1)" fill="#66668a" fill-opacity="0.48"/>
<ellipse cx="105.0" cy="473.6" rx="1.6" ry="0.8" transform="rotate(45 105.0 473.6)" fill="#747496" fill-opacity="0.61"/>
<ellipse cx="129.7" cy="524.1" rx="1.3" ry="0.9" transform="rotate(63 129.7 524.1)" fill="#66668a" fill-opacity="0.57"/>
<ellipse cx="71.5" cy="475.8" rx="1.3" ry="0.7" transform="rotate(24 71.5 475.8)" fill="#8484a2" fill-opacity="0.70"/>
<ellipse cx="70.5" cy="546.4" rx="1.6" ry="0.6" transform="rotate(9 70.5 546.4)" fill="#747496" fill-opacity="0.47"/>
<ellipse cx="58.1" cy="474.8" rx="1.3" ry="0.7" transform="rotate(19 58.1 474.8)" fill="#66668a" fill-opacity="0.45"/>
<ellipse cx="10.4" cy="510.9" rx="1.1" ry="0.6" transform="rotate(31 10.4 510.9)" fill="#5c5c80" fill-opacity="0.79"/>
<ellipse cx="50.0" cy="542.3" rx="1.6" ry="0.8" transform="rotate(11 50.0 542.3)" fill="#8484a2" fill-opacity="0.57"/>
<ellipse cx="75.6" cy="493.9" rx="1.6" ry="0.6" transform="rotate(386 75.6 493.9)" fill="#66668a" fill-opacity="0.53"/>
<ellipse cx="84.9" cy="516.3" rx="1.7" ry="0.6" transform="rotate(128 84.9 516.3)" fill="#8484a2" fill-opacity="0.64"/>
<ellipse cx="60.2" cy="478.3" rx="1.0" ry="0.6" transform="rotate(20 60.2 478.3)" fill="#8484a2" fill-opacity="0.49"/>
<ellipse cx="89.1" cy="496.8" rx="1.9" ry="0.7" transform="rotate(418 89.1 496.8)" fill="#747496" fill-opacity="0.60"/>
<ellipse cx="23.3" cy="483.7" rx="1.3" ry="0.8" transform="rotate(12 23.3 483.7)" fill="#66668a" fill-opacity="0.70"/>
<ellipse cx="33.6" cy="489.3" rx="1.7" ry="0.7" transform="rotate(8 33.6 489.3)" fill="#66668a" fill-opacity="0.62"/>
<ellipse cx="116.6" cy="512.1" rx="1.0" ry="0.7" transform="rotate(72 116.6 512.1)" fill="#747496" fill-opacity="0.57"/>
<ellipse cx="18.4" cy="506.4" rx="1.8" ry="0.8" transform="rotate(77 18.4 506.4)" fill="#5c5c80" fill-opacity="0.81"/>
<ellipse cx="32.9" cy="485.4" rx="1.6" ry="0.6" transform="rotate(30 32.9 485.4)" fill="#8484a2" fill-opacity="0.61"/>
<ellipse cx="37.6" cy="497.7" rx="2.0" ry="0.6" transform="rotate(288 37.6 497.7)" fill="#5c5c80" fill-opacity="0.80"/>
<ellipse cx="119.4" cy="535.9" rx="1.7" ry="0.7" transform="rotate(80 119.4 535.9)" fill="#66668a" fill-opacity="0.47"/>
<ellipse cx="67.8" cy="531.4" rx="1.2" ry="0.8" transform="rotate(-2 67.8 531.4)" fill="#66668a" fill-opacity="0.78"/>
<ellipse cx="50.5" cy="530.1" rx="1.6" ry="0.6" transform="rotate(-11 50.5 530.1)" fill="#8484a2" fill-opacity="0.79"/>
<ellipse cx="132.2" cy="529.4" rx="1.3" ry="0.8" transform="rotate(90 132.2 529.4)" fill="#747496" fill-opacity="0.55"/>
<ellipse cx="26.7" cy="523.0" rx="1.3" ry="0.6" transform="rotate(25 26.7 523.0)" fill="#8484a2" fill-opacity="0.56"/>
<ellipse cx="14.3" cy="493.4" rx="1.8" ry="0.6" transform="rotate(59 14.3 493.4)" fill="#66668a" fill-opacity="0.72"/>
<ellipse cx="63.3" cy="546.0" rx="2.0" ry="0.8" transform="rotate(17 63.3 546.0)" fill="#66668a" fill-opacity="0.79"/>
<ellipse cx="91.0" cy="537.7" rx="1.9" ry="0.6" transform="rotate(25 91.0 537.7)" fill="#66668a" fill-opacity="0.78"/>
<ellipse cx="55.9" cy="546.9" rx="1.5" ry="0.9" transform="rotate(48 55.9 546.9)" fill="#747496" fill-opacity="0.77"/>
<ellipse cx="15.7" cy="481.4" rx="1.3" ry="0.7" transform="rotate(33 15.7 481.4)" fill="#747496" fill-opacity="0.68"/>
<ellipse cx="9.3" cy="490.9" rx="1.8" ry="0.7" transform="rotate(95 9.3 490.9)" fill="#8484a2" fill-opacity="0.63"/>
<ellipse cx="25.4" cy="482.1" rx="1.2" ry="0.7" transform="rotate(44 25.4 482.1)" fill="#5c5c80" fill-opacity="0.50"/>
<ellipse cx="12.1" cy="480.2" rx="1.5" ry="0.6" transform="rotate(12 12.1 480.2)" fill="#8484a2" fill-opacity="0.69"/>
<ellipse cx="111.3" cy="540.2" rx="1.2" ry="0.9" transform="rotate(0 111.3 540.2)" fill="#66668a" fill-opacity="0.61"/>
<ellipse cx="11.3" cy="497.1" rx="1.8" ry="0.6" transform="rotate(66 11.3 497.1)" fill="#8484a2" fill-opacity="0.75"/>
<ellipse cx="20.5" cy="482.5" rx="1.2" ry="0.6" transform="rotate(53 20.5 482.5)" fill="#747496" fill-opacity="0.63"/>
<ellipse cx="121.4" cy="503.8" rx="1.2" ry="0.8" transform="rotate(47 121.4 503.8)" fill="#5c5c80" fill-opacity="0.53"/>
<ellipse cx="60.2" cy="487.7" rx="1.6" ry="0.8" transform="rotate(36 60.2 487.7)" fill="#8484a2" fill-opacity="0.79"/>
<ellipse cx="108.2" cy="485.2" rx="1.5" ry="0.6" transform="rotate(76 108.2 485.2)" fill="#66668a" fill-opacity="0.67"/>
<ellipse cx="118.6" cy="509.8" rx="1.7" ry="0.6" transform="rotate(93 118.6 509.8)" fill="#747496" fill-opacity="0.53"/>
<ellipse cx="37.8" cy="513.3" rx="1.7" ry="0.7" transform="rotate(5 37.8 513.3)" fill="#5c5c80" fill-opacity="0.47"/>
<ellipse cx="8.3" cy="478.4" rx="1.2" ry="0.6" transform="rotate(26 8.3 478.4)" fill="#66668a" fill-opacity="0.69"/>
<ellipse cx="31.8" cy="527.2" rx="1.6" ry="0.6" transform="rotate(47 31.8 527.2)" fill="#5c5c80" fill-opacity="0.80"/>
<ellipse cx="55.6" cy="532.8" rx="2.0" ry="0.9" transform="rotate(47 55.6 532.8)" fill="#747496" fill-opacity="0.60"/>
<ellipse cx="11.1" cy="495.8" rx="1.1" ry="0.7" transform="rotate(70 11.1 495.8)" fill="#8484a2" fill-opacity="0.55"/>
<ellipse cx="32.1" cy="491.1" rx="1.5" ry="1.0" transform="rotate(37 32.1 491.1)" fill="#5c5c80" fill-opacity="0.84"/>
<ellipse cx="36.8" cy="490.0" rx="1.1" ry="0.6" transform="rotate(24 36.8 490.0)" fill="#8484a2" fill-opacity="0.66"/>
<ellipse cx="44.2" cy="536.6" rx="1.9" ry="1.0" transform="rotate(19 44.2 536.6)" fill="#5c5c80" fill-opacity="0.68"/>
<ellipse cx="72.2" cy="511.2" rx="1.5" ry="0.8" transform="rotate(159 72.2 511.2)" fill="#747496" fill-opacity="0.79"/>
<ellipse cx="36.1" cy="518.9" rx="1.4" ry="0.7" transform="rotate(15 36.1 518.9)" fill="#5c5c80" fill-opacity="0.63"/>
<ellipse cx="34.7" cy="491.8" rx="1.8" ry="0.7" transform="rotate(9 34.7 491.8)" fill="#8484a2" fill-opacity="0.65"/>
<ellipse cx="56.5" cy="478.2" rx="1.6" ry="1.0" transform="rotate(19 56.5 478.2)" fill="#747496" fill-opacity="0.46"/>
<ellipse cx="53.9" cy="527.4" rx="1.4" ry="1.0" transform="rotate(31 53.9 527.4)" fill="#8484a2" fill-opacity="0.83"/>
<ellipse cx="77.4" cy="536.7" rx="1.0" ry="0.8" transform="rotate(15 77.4 536.7)" fill="#8484a2" fill-opacity="0.73"/>
<ellipse cx="32.5" cy="491.8" rx="1.7" ry="0.9" transform="rotate(38 32.5 491.8)" fill="#5c5c80" fill-opacity="0.62"/>
<ellipse cx="37.5" cy="495.5" rx="1.9" ry="0.6" transform="rotate(26 37.5 495.5)" fill="#747496" fill-opacity="0.47"/>
<ellipse cx="95.5" cy="484.6" rx="1.2" ry="1.0" transform="rotate(95 95.5 484.6)" fill="#5c5c80" fill-opacity="0.53"/>
<ellipse cx="134.3" cy="533.9" rx="1.9" ry="0.9" transform="rotate(71 134.3 533.9)" fill="#747496" fill-opacity="0.70"/>
<ellipse cx="47.6" cy="496.4" rx="1.1" ry="0.6" transform="rotate(321 47.6 496.4)" fill="#66668a" fill-opacity="0.71"/>
<ellipse cx="123.2" cy="522.2" rx="1.9" ry="0.6" transform="rotate(71 123.2 522.2)" fill="#5c5c80" fill-opacity="0.74"/>
<ellipse cx="41.1" cy="535.6" rx="1.9" ry="0.7" transform="rotate(-11 41.1 535.6)" fill="#66668a" fill-opacity="0.68"/>
<ellipse cx="90.8" cy="486.9" rx="1.2" ry="0.7" transform="rotate(18 90.8 486.9)" fill="#8484a2" fill-opacity="0.65"/>
<ellipse cx="103.7" cy="476.9" rx="1.9" ry="0.7" transform="rotate(96 103.7 476.9)" fill="#5c5c80" fill-opacity="0.78"/>
<ellipse cx="123.8" cy="511.9" rx="1.7" ry="0.8" transform="rotate(18 123.8 511.9)" fill="#747496" fill-opacity="0.85"/>
<ellipse cx="51.3" cy="527.9" rx="1.3" ry="0.6" transform="rotate(-9 51.3 527.9)" fill="#747496" fill-opacity="0.55"/>
<ellipse cx="128.2" cy="526.1" rx="1.8" ry="0.6" transform="rotate(51 128.2 526.1)" fill="#5c5c80" fill-opacity="0.55"/>
<ellipse cx="25.6" cy="486.6" rx="1.8" ry="0.6" transform="rotate(22 25.6 486.6)" fill="#5c5c80" fill-opacity="0.79"/>
<ellipse cx="34.5" cy="527.1" rx="1.1" ry="0.8" transform="rotate(14 34.5 527.1)" fill="#5c5c80" fill-opacity="0.69"/>
<ellipse cx="14.3" cy="480.6" rx="1.3" ry="0.7" transform="rotate(33 14.3 480.6)" fill="#8484a2" fill-opacity="0.45"/>
<ellipse cx="58.8" cy="531.8" rx="1.4" ry="0.9" transform="rotate(0 58.8 531.8)" fill="#8484a2" fill-opacity="0.55"/>
<ellipse cx="61.7" cy="529.7" rx="1.1" ry="0.6" transform="rotate(12 61.7 529.7)" fill="#747496" fill-opacity="0.59"/>
<ellipse cx="115.8" cy="523.0" rx="1.1" ry="0.8" transform="rotate(61 115.8 523.0)" fill="#5c5c80" fill-opacity="0.52"/>
<ellipse cx="118.4" cy="486.3" rx="1.8" ry="0.6" transform="rotate(79 118.4 486.3)" fill="#8484a2" fill-opacity="0.84"/>
<ellipse cx="31.5" cy="491.5" rx="1.5" ry="1.0" transform="rotate(10 31.5 491.5)" fill="#5c5c80" fill-opacity="0.82"/>
<ellipse cx="66.2" cy="517.2" rx="1.6" ry="0.6" transform="rotate(170 66.2 517.2)" fill="#747496" fill-opacity="0.68"/>
<ellipse cx="114.7" cy="538.6" rx="1.2" ry="0.8" transform="rotate(2 114.7 538.6)" fill="#66668a" fill-opacity="0.50"/>
<ellipse cx="119.8" cy="497.9" rx="1.2" ry="0.9" transform="rotate(57 119.8 497.9)" fill="#66668a" fill-opacity="0.55"/>
<ellipse cx="52.6" cy="535.2" rx="1.7" ry="0.7" transform="rotate(42 52.6 535.2)" fill="#5c5c80" fill-opacity="0.58"/>
<ellipse cx="100.7" cy="479.7" rx="1.5" ry="0.9" transform="rotate(67 100.7 479.7)" fill="#747496" fill-opacity="0.48"/>
<ellipse cx="102.2" cy="470.6" rx="1.4" ry="1.0" transform="rotate(84 102.2 470.6)" fill="#5c5c80" fill-opacity="0.49"/>
<ellipse cx="106.1" cy="485.9" rx="1.2" ry="0.9" transform="rotate(110 106.1 485.9)" fill="#8484a2" fill-opacity="0.57"/>
<ellipse cx="110.1" cy="515.5" rx="1.9" ry="0.6" transform="rotate(55 110.1 515.5)" fill="#8484a2" fill-opacity="0.46"/>
<ellipse cx="61.8" cy="517.5" rx="1.8" ry="0.6" transform="rotate(180 61.8 517.5)" fill="#8484a2" fill-opacity="0.79"/>
<ellipse cx="78.3" cy="491.7" rx="2.0" ry="0.7" transform="rotate(403 78.3 491.7)" fill="#747496" fill-opacity="0.83"/>
<ellipse cx="58.6" cy="484.8" rx="1.7" ry="0.7" transform="rotate(347 58.6 484.8)" fill="#66668a" fill-opacity="0.45"/>
<ellipse cx="86.7" cy="511.1" rx="1.6" ry="0.7" transform="rotate(114 86.7 511.1)" fill="#8484a2" fill-opacity="0.61"/>
<ellipse cx="96.2" cy="533.2" rx="1.8" ry="0.7" transform="rotate(-2 96.2 533.2)" fill="#747496" fill-opacity="0.65"/>
<ellipse cx="83.1" cy="495.0" rx="1.1" ry="1.0" transform="rotate(402 83.1 495.0)" fill="#5c5c80" fill-opacity="0.84"/>
<ellipse cx="25.7" cy="484.5" rx="1.1" ry="1.0" transform="rotate(62 25.7 484.5)" fill="#5c5c80" fill-opacity="0.58"/>
<ellipse cx="27.7" cy="485.6" rx="1.3" ry="0.6" transform="rotate(32 27.7 485.6)" fill="#8484a2" fill-opacity="0.51"/>
<ellipse cx="71.8" cy="487.6" rx="1.5" ry="0.8" transform="rotate(12 71.8 487.6)" fill="#5c5c80" fill-opacity="0.58"/>
<ellipse cx="63.3" cy="488.5" rx="1.3" ry="0.6" transform="rotate(374 63.3 488.5)" fill="#66668a" fill-opacity="0.61"/>
<ellipse cx="69.8" cy="539.2" rx="1.7" ry="0.9" transform="rotate(33 69.8 539.2)" fill="#747496" fill-opacity="0.51"/>
<ellipse cx="55.0" cy="519.0" rx="1.8" ry="0.8" transform="rotate(189 55.0 519.0)" fill="#66668a" fill-opacity="0.80"/>
<ellipse cx="76.0" cy="482.7" rx="1.3" ry="0.6" transform="rotate(34 76.0 482.7)" fill="#66668a" fill-opacity="0.50"/>
<ellipse cx="47.6" cy="514.6" rx="2.0" ry="0.7" transform="rotate(217 47.6 514.6)" fill="#5c5c80" fill-opacity="0.71"/>
<ellipse cx="37.3" cy="498.9" rx="1.2" ry="0.8" transform="rotate(302 37.3 498.9)" fill="#5c5c80" fill-opacity="0.81"/>
<ellipse cx="16.1" cy="480.9" rx="1.1" ry="0.8" transform="rotate(10 16.1 480.9)" fill="#747496" fill-opacity="0.69"/>
<ellipse cx="22.3" cy="507.7" rx="1.8" ry="0.7" transform="rotate(89 22.3 507.7)" fill="#8484a2" fill-opacity="0.81"/>
<ellipse cx="77.6" cy="496.2" rx="1.3" ry="0.6" transform="rotate(413 77.6 496.2)" fill="#5c5c80" fill-opacity="0.57"/>
<ellipse cx="90.7" cy="529.8" rx="1.4" ry="1.0" transform="rotate(3 90.7 529.8)" fill="#747496" fill-opacity="0.64"/>
<ellipse cx="80.7" cy="490.9" rx="1.4" ry="0.9" transform="rotate(398 80.7 490.9)" fill="#66668a" fill-opacity="0.75"/>
<ellipse cx="102.1" cy="531.0" rx="1.6" ry="0.6" transform="rotate(17 102.1 531.0)" fill="#8484a2" fill-opacity="0.84"/>
<ellipse cx="44.1" cy="495.5" rx="1.9" ry="0.9" transform="rotate(324 44.1 495.5)" fill="#5c5c80" fill-opacity="0.77"/>
<ellipse cx="7.2" cy="479.9" rx="1.3" ry="0.8" transform="rotate(57 7.2 479.9)" fill="#8484a2" fill-opacity="0.56"/>
<ellipse cx="113.8" cy="507.2" rx="1.1" ry="0.9" transform="rotate(66 113.8 507.2)" fill="#8484a2" fill-opacity="0.69"/>
<ellipse cx="54.9" cy="483.2" rx="1.5" ry="0.7" transform="rotate(9 54.9 483.2)" fill="#747496" fill-opacity="0.71"/>
<ellipse cx="79.4" cy="492.6" rx="1.8" ry="0.9" transform="rotate(407 79.4 492.6)" fill="#747496" fill-opacity="0.69"/>
<ellipse cx="60.4" cy="547.0" rx="1.3" ry="0.9" transform="rotate(41 60.4 547.0)" fill="#747496" fill-opacity="0.63"/>
<ellipse cx="44.0" cy="514.3" rx="1.1" ry="0.9" transform="rotate(233 44.0 514.3)" fill="#66668a" fill-opacity="0.49"/>
<ellipse cx="125.4" cy="527.2" rx="1.3" ry="0.7" transform="rotate(60 125.4 527.2)" fill="#66668a" fill-opacity="0.78"/>
<ellipse cx="43.3" cy="528.3" rx="1.1" ry="0.8" transform="rotate(7 43.3 528.3)" fill="#5c5c80" fill-opacity="0.64"/>
<ellipse cx="82.6" cy="498.0" rx="1.1" ry="0.9" transform="rotate(406 82.6 498.0)" fill="#747496" fill-opacity="0.81"/>
<ellipse cx="43.7" cy="493.0" rx="1.0" ry="1.0" transform="rotate(316 43.7 493.0)" fill="#747496" fill-opacity="0.56"/>
<ellipse cx="56.0" cy="539.4" rx="1.3" ry="0.8" transform="rotate(13 56.0 539.4)" fill="#5c5c80" fill-opacity="0.51"/>
<ellipse cx="42.3" cy="486.3" rx="1.4" ry="0.9" transform="rotate(21 42.3 486.3)" fill="#5c5c80" fill-opacity="0.52"/>
<ellipse cx="32.7" cy="523.0" rx="1.1" ry="0.9" transform="rotate(32 32.7 523.0)" fill="#66668a" fill-opacity="0.78"/>
<ellipse cx="29.4" cy="487.7" rx="1.5" ry="1.0" transform="rotate(20 29.4 487.7)" fill="#747496" fill-opacity="0.68"/>
<ellipse cx="30.7" cy="513.4" rx="1.3" ry="0.7" transform="rotate(41 30.7 513.4)" fill="#5c5c80" fill-opacity="0.84"/>
<ellipse cx="116.7" cy="494.3" rx="1.0" ry="0.8" transform="rotate(56 116.7 494.3)" fill="#8484a2" fill-opacity="0.65"/>
<ellipse cx="14.8" cy="505.5" rx="1.6" ry="0.6" transform="rotate(75 14.8 505.5)" fill="#8484a2" fill-opacity="0.58"/>
<ellipse cx="78.8" cy="543.2" rx="1.5" ry="0.6" transform="rotate(-16 78.8 543.2)" fill="#66668a" fill-opacity="0.46"/>
<ellipse cx="36.6" cy="499.5" rx="1.5" ry="0.6" transform="rotate(288 36.6 499.5)" fill="#747496" fill-opacity="0.60"/>
<ellipse cx="127.9" cy="531.1" rx="1.2" ry="1.0" transform="rotate(65 127.9 531.1)" fill="#66668a" fill-opacity="0.61"/>
<ellipse cx="19.0" cy="540.6" rx="1.1" ry="0.6" transform="rotate(119 19.0 540.6)" fill="#747496" fill-opacity="0.84"/>
<ellipse cx="14.8" cy="515.8" rx="1.7" ry="0.9" transform="rotate(62 14.8 515.8)" fill="#5c5c80" fill-opacity="0.72"/>
<ellipse cx="64.3" cy="539.6" rx="1.7" ry="0.6" transform="rotate(40 64.3 539.6)" fill="#747496" fill-opacity="0.69"/>
<ellipse cx="33.2" cy="503.1" rx="1.7" ry="0.9" transform="rotate(281 33.2 503.1)" fill="#66668a" fill-opacity="0.83"/>
<ellipse cx="107.9" cy="479.6" rx="1.3" ry="0.8" transform="rotate(77 107.9 479.6)" fill="#8484a2" fill-opacity="0.78"/>
<ellipse cx="18.8" cy="485.4" rx="1.8" ry="0.8" transform="rotate(88 18.8 485.4)" fill="#747496" fill-opacity="0.69"/>
<ellipse cx="103.5" cy="536.7" rx="1.8" ry="0.8" transform="rotate(12 103.5 536.7)" fill="#8484a2" fill-opacity="0.60"/>
<ellipse cx="15.8" cy="486.5" rx="1.5" ry="0.9" transform="rotate(36 15.8 486.5)" fill="#5c5c80" fill-opacity="0.59"/>
<ellipse cx="34.1" cy="486.6" rx="1.4" ry="0.6" transform="rotate(21 34.1 486.6)" fill="#747496" fill-opacity="0.79"/>
<ellipse cx="42.9" cy="539.3" rx="1.0" ry="1.0" transform="rotate(21 42.9 539.3)" fill="#8484a2" fill-opacity="0.46"/>
<ellipse cx="46.1" cy="531.6" rx="1.8" ry="0.7" transform="rotate(10 46.1 531.6)" fill="#5c5c80" fill-opacity="0.57"/>
<ellipse cx="91.4" cy="538.9" rx="1.4" ry="0.9" transform="rotate(25 91.4 538.9)" fill="#66668a" fill-opacity="0.53"/>
<ellipse cx="80.1" cy="534.9" rx="1.6" ry="0.9" transform="rotate(26 80.1 534.9)" fill="#747496" fill-opacity="0.75"/>
<ellipse cx="114.4" cy="544.4" rx="1.8" ry="0.7" transform="rotate(1 114.4 544.4)" fill="#5c5c80" fill-opacity="0.70"/>
<ellipse cx="61.9" cy="526.9" rx="1.2" ry="0.8" transform="rotate(1 61.9 526.9)" fill="#5c5c80" fill-opacity="0.74"/>
<ellipse cx="55.2" cy="473.9" rx="1.2" ry="1.0" transform="rotate(7 55.2 473.9)" fill="#5c5c80" fill-opacity="0.57"/>
<ellipse cx="108.7" cy="478.0" rx="1.5" ry="0.8" transform="rotate(82 108.7 478.0)" fill="#8484a2" fill-opacity="0.62"/>
<ellipse cx="84.8" cy="538.3" rx="1.6" ry="0.6" transform="rotate(33 84.8 538.3)" fill="#8484a2" fill-opacity="0.46"/>
<ellipse cx="15.9" cy="529.5" rx="1.3" ry="0.9" transform="rotate(10 15.9 529.5)" fill="#8484a2" fill-opacity="0.68"/>
<ellipse cx="44.7" cy="528.1" rx="1.9" ry="0.7" transform="rotate(9 44.7 528.1)" fill="#747496" fill-opacity="0.48"/>
<ellipse cx="30.5" cy="523.2" rx="1.6" ry="0.6" transform="rotate(22 30.5 523.2)" fill="#8484a2" fill-opacity="0.53"/>
<ellipse cx="113.1" cy="486.5" rx="1.0" ry="0.9" transform="rotate(52 113.1 486.5)" fill="#8484a2" fill-opacity="0.64"/>
<ellipse cx="17.3" cy="480.6" rx="1.3" ry="0.6" transform="rotate(60 17.3 480.6)" fill="#5c5c80" fill-opacity="0.67"/>
<ellipse cx="80.6" cy="530.7" rx="1.5" ry="0.6" transform="rotate(7 80.6 530.7)" fill="#747496" fill-opacity="0.54"/>
<ellipse cx="100.8" cy="528.7" rx="1.8" ry="0.8" transform="rotate(12 100.8 528.7)" fill="#747496" fill-opacity="0.45"/>
<ellipse cx="16.1" cy="511.1" rx="1.3" ry="0.9" transform="rotate(82 16.1 511.1)" fill="#66668a" fill-opacity="0.85"/>
<ellipse cx="50.2" cy="492.9" rx="1.2" ry="0.7" transform="rotate(333 50.2 492.9)" fill="#66668a" fill-opacity="0.63"/>
<ellipse cx="16.3" cy="495.0" rx="1.8" ry="0.9" transform="rotate(77 16.3 495.0)" fill="#66668a" fill-opacity="0.83"/>
<ellipse cx="105.3" cy="475.1" rx="2.0" ry="0.7" transform="rotate(51 105.3 475.1)" fill="#66668a" fill-opacity="0.59"/>
<ellipse cx="114.8" cy="486.6" rx="1.1" ry="0.9" transform="rotate(69 114.8 486.6)" fill="#66668a" fill-opacity="0.69"/>
<ellipse cx="62.2" cy="480.1" rx="1.2" ry="0.9" transform="rotate(7 62.2 480.1)" fill="#8484a2" fill-opacity="0.66"/>
<ellipse cx="20.2" cy="519.5" rx="1.9" ry="0.8" transform="rotate(105 20.2 519.5)" fill="#5c5c80" fill-opacity="0.58"/>
<ellipse cx="36.3" cy="493.4" rx="1.3" ry="1.0" transform="rotate(311 36.3 493.4)" fill="#66668a" fill-opacity="0.53"/>
<ellipse cx="36.6" cy="532.4" rx="1.7" ry="0.6" transform="rotate(22 36.6 532.4)" fill="#66668a" fill-opacity="0.66"/>
<ellipse cx="44.0" cy="525.9" rx="1.1" ry="1.0" transform="rotate(59 44.0 525.9)" fill="#747496" fill-opacity="0.66"/>
<ellipse cx="35.9" cy="498.3" rx="1.9" ry="1.0" transform="rotate(299 35.9 498.3)" fill="#747496" fill-opacity="0.54"/>
<ellipse cx="65.0" cy="518.2" rx="1.7" ry="0.8" transform="rotate(171 65.0 518.2)" fill="#5c5c80" fill-opacity="0.56"/>
<ellipse cx="51.9" cy="542.2" rx="1.4" ry="0.6" transform="rotate(26 51.9 542.2)" fill="#66668a" fill-opacity="0.75"/>
<ellipse cx="60.4" cy="477.9" rx="1.5" ry="0.6" transform="rotate(24 60.4 477.9)" fill="#5c5c80" fill-opacity="0.81"/>
<ellipse cx="98.4" cy="472.8" rx="1.4" ry="0.8" transform="rotate(70 98.4 472.8)" fill="#5c5c80" fill-opacity="0.59"/>
<ellipse cx="20.9" cy="503.7" rx="1.2" ry="0.9" transform="rotate(29 20.9 503.7)" fill="#8484a2" fill-opacity="0.83"/>
<ellipse cx="78.6" cy="494.1" rx="1.8" ry="0.7" transform="rotate(400 78.6 494.1)" fill="#5c5c80" fill-opacity="0.52"/>
<ellipse cx="132.6" cy="526.1" rx="1.3" ry="0.8" transform="rotate(62 132.6 526.1)" fill="#747496" fill-opacity="0.55"/>
<ellipse cx="23.3" cy="518.5" rx="1.5" ry="0.7" transform="rotate(35 23.3 518.5)" fill="#66668a" fill-opacity="0.77"/>
<ellipse cx="129.6" cy="513.5" rx="1.3" ry="0.8" transform="rotate(54 129.6 513.5)" fill="#5c5c80" fill-opacity="0.66"/>
<ellipse cx="27.6" cy="528.1" rx="1.2" ry="0.6" transform="rotate(45 27.6 528.1)" fill="#5c5c80" fill-opacity="0.70"/>
<ellipse cx="15.7" cy="497.1" rx="1.3" ry="0.8" transform="rotate(83 15.7 497.1)" fill="#8484a2" fill-opacity="0.61"/>
<ellipse cx="118.0" cy="486.5" rx="1.5" ry="0.7" transform="rotate(76 118.0 486.5)" fill="#66668a" fill-opacity="0.69"/>
<ellipse cx="43.6" cy="511.6" rx="1.2" ry="0.6" transform="rotate(214 43.6 511.6)" fill="#66668a" fill-opacity="0.52"/>
<ellipse cx="121.8" cy="512.1" rx="1.6" ry="0.6" transform="rotate(74 121.8 512.1)" fill="#66668a" fill-opacity="0.56"/>
<ellipse cx="80.2" cy="529.8" rx="2.0" ry="0.8" transform="rotate(-6 80.2 529.8)" fill="#5c5c80" fill-opacity="0.69"/>
<ellipse cx="129.9" cy="506.2" rx="1.4" ry="0.9" transform="rotate(72 129.9 506.2)" fill="#747496" fill-opacity="0.71"/>
<ellipse cx="59.5" cy="482.8" rx="1.1" ry="0.8" transform="rotate(27 59.5 482.8)" fill="#5c5c80" fill-opacity="0.63"/>
<ellipse cx="44.5" cy="527.5" rx="1.8" ry="0.8" transform="rotate(39 44.5 527.5)" fill="#66668a" fill-opacity="0.81"/>
<ellipse cx="136.1" cy="533.8" rx="1.9" ry="1.0" transform="rotate(62 136.1 533.8)" fill="#66668a" fill-opacity="0.71"/>
<ellipse cx="54.4" cy="478.8" rx="1.6" ry="0.9" transform="rotate(19 54.4 478.8)" fill="#5c5c80" fill-opacity="0.83"/>
<ellipse cx="104.4" cy="538.7" rx="1.0" ry="0.6" transform="rotate(5 104.4 538.7)" fill="#5c5c80" fill-opacity="0.61"/>
<ellipse cx="91.3" cy="539.4" rx="1.4" ry="0.7" transform="rotate(15 91.3 539.4)" fill="#5c5c80" fill-opacity="0.50"/>
<ellipse cx="41.3" cy="492.8" rx="1.7" ry="0.6" transform="rotate(27 41.3 492.8)" fill="#66668a" fill-opacity="0.74"/>
<ellipse cx="55.6" cy="473.0" rx="1.9" ry="0.9" transform="rotate(5 55.6 473.0)" fill="#8484a2" fill-opacity="0.61"/>
<ellipse cx="64.1" cy="528.4" rx="1.9" ry="0.8" transform="rotate(13 64.1 528.4)" fill="#66668a" fill-opacity="0.59"/>
<ellipse cx="64.3" cy="534.0" rx="1.3" ry="1.0" transform="rotate(20 64.3 534.0)" fill="#66668a" fill-opacity="0.58"/>
<ellipse cx="127.7" cy="538.1" rx="1.5" ry="0.7" transform="rotate(74 127.7 538.1)" fill="#8484a2" fill-opacity="0.48"/>
<ellipse cx="68.1" cy="528.2" rx="1.9" ry="0.8" transform="rotate(11 68.1 528.2)" fill="#747496" fill-opacity="0.73"/>
<ellipse cx="47.2" cy="522.7" rx="1.3" ry="0.7" transform="rotate(32 47.2 522.7)" fill="#5c5c80" fill-opacity="0.80"/>
<ellipse cx="14.8" cy="496.7" rx="1.3" ry="0.7" transform="rotate(80 14.8 496.7)" fill="#5c5c80" fill-opacity="0.52"/>
<ellipse cx="34.2" cy="499.7" rx="2.0" ry="0.6" transform="rotate(258 34.2 499.7)" fill="#5c5c80" fill-opacity="0.52"/>
<ellipse cx="13.6" cy="477.4" rx="1.7" ry="1.0" transform="rotate(28 13.6 477.4)" fill="#8484a2" fill-opacity="0.57"/>
<ellipse cx="48.9" cy="515.2" rx="2.0" ry="0.8" transform="rotate(200 48.9 515.2)" fill="#66668a" fill-opacity="0.77"/>
<ellipse cx="42.1" cy="524.8" rx="1.5" ry="0.8" transform="rotate(14 42.1 524.8)" fill="#8484a2" fill-opacity="0.75"/>
<ellipse cx="15.7" cy="500.4" rx="1.2" ry="0.8" transform="rotate(87 15.7 500.4)" fill="#5c5c80" fill-opacity="0.46"/>
<ellipse cx="61.7" cy="481.3" rx="1.5" ry="0.6" transform="rotate(11 61.7 481.3)" fill="#5c5c80" fill-opacity="0.49"/>
<ellipse cx="117.5" cy="513.3" rx="1.7" ry="1.0" transform="rotate(56 117.5 513.3)" fill="#8484a2" fill-opacity="0.64"/>
<ellipse cx="30.4" cy="486.9" rx="1.6" ry="0.7" transform="rotate(10 30.4 486.9)" fill="#5c5c80" fill-opacity="0.81"/>
<ellipse cx="90.0" cy="539.4" rx="1.3" ry="0.7" transform="rotate(34 90.0 539.4)" fill="#8484a2" fill-opacity="0.64"/>
<ellipse cx="43.7" cy="493.1" rx="1.7" ry="0.9" transform="rotate(315 43.7 493.1)" fill="#5c5c80" fill-opacity="0.84"/>
<ellipse cx="111.1" cy="494.8" rx="2.0" ry="1.0" transform="rotate(94 111.1 494.8)" fill="#66668a" fill-opacity="0.51"/>
<ellipse cx="16.3" cy="477.9" rx="1.0" ry="0.7" transform="rotate(17 16.3 477.9)" fill="#8484a2" fill-opacity="0.57"/>
<ellipse cx="57.7" cy="474.0" rx="1.4" ry="0.8" transform="rotate(18 57.7 474.0)" fill="#5c5c80" fill-opacity="0.67"/>
<ellipse cx="70.9" cy="516.4" rx="1.4" ry="0.9" transform="rotate(154 70.9 516.4)" fill="#8484a2" fill-opacity="0.57"/>
<ellipse cx="22.0" cy="523.9" rx="1.2" ry="0.9" transform="rotate(25 22.0 523.9)" fill="#66668a" fill-opacity="0.68"/>
<ellipse cx="126.5" cy="499.5" rx="2.0" ry="0.7" transform="rotate(176 126.5 499.5)" fill="#747496" fill-opacity="0.76"/>
<ellipse cx="60.7" cy="533.6" rx="1.9" ry="0.6" transform="rotate(18 60.7 533.6)" fill="#5c5c80" fill-opacity="0.85"/>
<ellipse cx="97.6" cy="540.2" rx="1.2" ry="0.6" transform="rotate(22 97.6 540.2)" fill="#5c5c80" fill-opacity="0.54"/>
<ellipse cx="80.5" cy="484.2" rx="1.4" ry="0.9" transform="rotate(-9 80.5 484.2)" fill="#747496" fill-opacity="0.83"/>
<ellipse cx="117.8" cy="504.4" rx="1.3" ry="0.6" transform="rotate(108 117.8 504.4)" fill="#8484a2" fill-opacity="0.46"/>
<ellipse cx="40.2" cy="500.1" rx="1.3" ry="0.6" transform="rotate(306 40.2 500.1)" fill="#66668a" fill-opacity="0.55"/>
<ellipse cx="59.0" cy="491.9" rx="1.4" ry="0.8" transform="rotate(357 59.0 491.9)" fill="#66668a" fill-opacity="0.76"/>
<ellipse cx="53.1" cy="545.6" rx="2.0" ry="0.8" transform="rotate(5 53.1 545.6)" fill="#5c5c80" fill-opacity="0.70"/>
<ellipse cx="32.4" cy="526.4" rx="1.2" ry="0.8" transform="rotate(53 32.4 526.4)" fill="#5c5c80" fill-opacity="0.54"/>
<ellipse cx="17.5" cy="512.8" rx="1.8" ry="0.9" transform="rotate(34 17.5 512.8)" fill="#8484a2" fill-opacity="0.65"/>
<ellipse cx="89.3" cy="510.2" rx="1.4" ry="0.6" transform="rotate(97 89.3 510.2)" fill="#66668a" fill-opacity="0.69"/>
<ellipse cx="88.2" cy="501.9" rx="1.9" ry="0.9" transform="rotate(448 88.2 501.9)" fill="#5c5c80" fill-opacity="0.79"/>
<ellipse cx="48.5" cy="530.5" rx="1.3" ry="0.7" transform="rotate(31 48.5 530.5)" fill="#8484a2" fill-opacity="0.60"/>
<ellipse cx="115.0" cy="482.1" rx="1.6" ry="0.9" transform="rotate(67 115.0 482.1)" fill="#5c5c80" fill-opacity="0.67"/>
<ellipse cx="41.9" cy="490.5" rx="1.7" ry="0.8" transform="rotate(14 41.9 490.5)" fill="#5c5c80" fill-opacity="0.46"/>
<ellipse cx="66.9" cy="480.8" rx="1.7" ry="1.0" transform="rotate(8 66.9 480.8)" fill="#747496" fill-opacity="0.66"/>
<ellipse cx="91.8" cy="503.9" rx="1.5" ry="0.7" transform="rotate(93 91.8 503.9)" fill="#5c5c80" fill-opacity="0.76"/>
<ellipse cx="47.9" cy="473.8" rx="1.8" ry="1.0" transform="rotate(45 47.9 473.8)" fill="#66668a" fill-opacity="0.71"/>
<ellipse cx="49.8" cy="536.1" rx="1.9" ry="0.7" transform="rotate(31 49.8 536.1)" fill="#8484a2" fill-opacity="0.78"/>
<ellipse cx="116.9" cy="511.1" rx="1.6" ry="1.0" transform="rotate(83 116.9 511.1)" fill="#66668a" fill-opacity="0.83"/>
<ellipse cx="33.0" cy="486.9" rx="1.8" ry="0.6" transform="rotate(37 33.0 486.9)" fill="#747496" fill-opacity="0.55"/>
<ellipse cx="45.7" cy="532.8" rx="1.7" ry="0.9" transform="rotate(14 45.7 532.8)" fill="#8484a2" fill-opacity="0.54"/>
<ellipse cx="13.2" cy="513.8" rx="1.9" ry="0.8" transform="rotate(40 13.2 513.8)" fill="#66668a" fill-opacity="0.60"/>
<ellipse cx="56.5" cy="477.7" rx="1.4" ry="0.9" transform="rotate(38 56.5 477.7)" fill="#8484a2" fill-opacity="0.75"/>
<ellipse cx="57.0" cy="545.0" rx="1.9" ry="1.0" transform="rotate(33 57.0 545.0)" fill="#5c5c80" fill-opacity="0.80"/>
<ellipse cx="73.8" cy="492.1" rx="1.7" ry="0.9" transform="rotate(390 73.8 492.1)" fill="#747496" fill-opacity="0.76"/>
<ellipse cx="128.5" cy="518.7" rx="1.3" ry="0.8" transform="rotate(79 128.5 518.7)" fill="#8484a2" fill-opacity="0.57"/>
<ellipse cx="22.0" cy="488.4" rx="1.0" ry="0.7" transform="rotate(15 22.0 488.4)" fill="#747496" fill-opacity="0.75"/>
<ellipse cx="76.0" cy="479.7" rx="1.7" ry="0.6" transform="rotate(18 76.0 479.7)" fill="#747496" fill-opacity="0.75"/>
<ellipse cx="98.3" cy="539.6" rx="1.5" ry="0.7" transform="rotate(3 98.3 539.6)" fill="#747496" fill-opacity="0.74"/>
<ellipse cx="18.2" cy="512.2" rx="1.4" ry="0.7" transform="rotate(77 18.2 512.2)" fill="#8484a2" fill-opacity="0.74"/>
<ellipse cx="79.2" cy="488.5" rx="1.1" ry="1.0" transform="rotate(5 79.2 488.5)" fill="#66668a" fill-opacity="0.59"/>
<ellipse cx="28.8" cy="519.9" rx="1.0" ry="1.0" transform="rotate(55 28.8 519.9)" fill="#66668a" fill-opacity="0.66"/>
<ellipse cx="68.7" cy="490.0" rx="1.9" ry="0.6" transform="rotate(372 68.7 490.0)" fill="#8484a2" fill-opacity="0.77"/>
<ellipse cx="78.8" cy="479.0" rx="1.8" ry="0.9" transform="rotate(21 78.8 479.0)" fill="#747496" fill-opacity="0.47"/>
<ellipse cx="85.8" cy="505.4" rx="1.4" ry="0.7" transform="rotate(448 85.8 505.4)" fill="#747496" fill-opacity="0.84"/>
<ellipse cx="100.4" cy="531.2" rx="1.5" ry="0.8" transform="rotate(3 100.4 531.2)" fill="#747496" fill-opacity="0.61"/>
<ellipse cx="16.3" cy="501.4" rx="2.0" ry="0.9" transform="rotate(82 16.3 501.4)" fill="#8484a2" fill-opacity="0.61"/>
<ellipse cx="34.5" cy="524.2" rx="1.2" ry="0.7" transform="rotate(60 34.5 524.2)" fill="#66668a" fill-opacity="0.83"/>
<ellipse cx="20.0" cy="516.7" rx="1.1" ry="0.8" transform="rotate(96 20.0 516.7)" fill="#747496" fill-opacity="0.51"/>
<ellipse cx="126.4" cy="518.0" rx="1.5" ry="0.7" transform="rotate(51 126.4 518.0)" fill="#8484a2" fill-opacity="0.60"/>
<ellipse cx="38.8" cy="537.4" rx="1.5" ry="0.8" transform="rotate(44 38.8 537.4)" fill="#747496" fill-opacity="0.79"/>
<ellipse cx="110.3" cy="492.2" rx="1.1" ry="0.8" transform="rotate(52 110.3 492.2)" fill="#5c5c80" fill-opacity="0.77"/>
<ellipse cx="106.7" cy="497.1" rx="1.9" ry="0.7" transform="rotate(58 106.7 497.1)" fill="#747496" fill-opacity="0.75"/>
<ellipse cx="22.8" cy="524.1" rx="1.5" ry="0.7" transform="rotate(25 22.8 524.1)" fill="#66668a" fill-opacity="0.47"/>
<ellipse cx="32.0" cy="532.1" rx="1.9" ry="0.8" transform="rotate(52 32.0 532.1)" fill="#8484a2" fill-opacity="0.85"/>
<ellipse cx="112.6" cy="511.2" rx="1.1" ry="1.0" transform="rotate(74 112.6 511.2)" fill="#747496" fill-opacity="0.63"/>
<ellipse cx="39.0" cy="525.7" rx="1.2" ry="0.8" transform="rotate(29 39.0 525.7)" fill="#66668a" fill-opacity="0.72"/>
<ellipse cx="33.7" cy="500.6" rx="1.9" ry="0.7" transform="rotate(277 33.7 500.6)" fill="#747496" fill-opacity="0.61"/>
<ellipse cx="115.8" cy="516.1" rx="1.8" ry="0.6" transform="rotate(36 115.8 516.1)" fill="#66668a" fill-opacity="0.48"/>
<ellipse cx="70.5" cy="532.0" rx="2.0" ry="1.0" transform="rotate(-1 70.5 532.0)" fill="#8484a2" fill-opacity="0.80"/>
<ellipse cx="35.1" cy="526.4" rx="1.7" ry="0.8" transform="rotate(18 35.1 526.4)" fill="#747496" fill-opacity="0.68"/>
<ellipse cx="103.3" cy="526.2" rx="1.2" ry="0.6" transform="rotate(75 103.3 526.2)" fill="#747496" fill-opacity="0.60"/>
<ellipse cx="9.7" cy="480.5" rx="1.8" ry="0.6" transform="rotate(55 9.7 480.5)" fill="#66668a" fill-opacity="0.53"/>
<ellipse cx="75.9" cy="519.8" rx="1.9" ry="0.6" transform="rotate(140 75.9 519.8)" fill="#66668a" fill-opacity="0.79"/>
<ellipse cx="32.5" cy="524.3" rx="1.6" ry="0.6" transform="rotate(141 32.5 524.3)" fill="#66668a" fill-opacity="0.66"/>
<ellipse cx="30.8" cy="486.0" rx="1.6" ry="0.6" transform="rotate(8 30.8 486.0)" fill="#66668a" fill-opacity="0.51"/>
<ellipse cx="120.8" cy="518.8" rx="1.4" ry="0.7" transform="rotate(51 120.8 518.8)" fill="#5c5c80" fill-opacity="0.55"/>
<ellipse cx="109.1" cy="508.3" rx="1.7" ry="0.8" transform="rotate(61 109.1 508.3)" fill="#5c5c80" fill-opacity="0.64"/>
<ellipse cx="34.0" cy="485.0" rx="1.8" ry="0.9" transform="rotate(38 34.0 485.0)" fill="#5c5c80" fill-opacity="0.77"/>
<ellipse cx="56.5" cy="530.3" rx="1.1" ry="0.9" transform="rotate(-22 56.5 530.3)" fill="#747496" fill-opacity="0.47"/>
<ellipse cx="118.3" cy="515.5" rx="1.2" ry="0.9" transform="rotate(57 118.3 515.5)" fill="#8484a2" fill-opacity="0.62"/>
<ellipse cx="123.7" cy="513.7" rx="1.9" ry="0.8" transform="rotate(54 123.7 513.7)" fill="#8484a2" fill-opacity="0.61"/>
<ellipse cx="62.4" cy="542.0" rx="1.2" ry="0.6" transform="rotate(39 62.4 542.0)" fill="#747496" fill-opacity="0.72"/>
<ellipse cx="115.3" cy="508.0" rx="1.1" ry="0.7" transform="rotate(78 115.3 508.0)" fill="#66668a" fill-opacity="0.84"/>
<ellipse cx="32.4" cy="503.1" rx="1.5" ry="0.7" transform="rotate(274 32.4 503.1)" fill="#8484a2" fill-opacity="0.79"/>
<ellipse cx="19.9" cy="516.6" rx="1.8" ry="0.8" transform="rotate(90 19.9 516.6)" fill="#8484a2" fill-opacity="0.65"/>
<ellipse cx="18.4" cy="483.8" rx="1.8" ry="0.8" transform="rotate(22 18.4 483.8)" fill="#747496" fill-opacity="0.62"/>
<ellipse cx="57.9" cy="494.7" rx="1.9" ry="0.8" transform="rotate(25 57.9 494.7)" fill="#747496" fill-opacity="0.77"/>
<ellipse cx="33.3" cy="505.8" rx="1.5" ry="0.6" transform="rotate(253 33.3 505.8)" fill="#747496" fill-opacity="0.77"/>
<ellipse cx="31.9" cy="534.0" rx="2.0" ry="0.7" transform="rotate(56 31.9 534.0)" fill="#66668a" fill-opacity="0.56"/>
<ellipse cx="19.2" cy="475.2" rx="1.8" ry="0.8" transform="rotate(39 19.2 475.2)" fill="#66668a" fill-opacity="0.74"/>
<ellipse cx="75.2" cy="488.7" rx="1.3" ry="0.8" transform="rotate(373 75.2 488.7)" fill="#5c5c80" fill-opacity="0.69"/>
<ellipse cx="48.7" cy="529.3" rx="1.6" ry="0.9" transform="rotate(18 48.7 529.3)" fill="#8484a2" fill-opacity="0.54"/>
<ellipse cx="39.1" cy="530.3" rx="1.2" ry="0.6" transform="rotate(-15 39.1 530.3)" fill="#747496" fill-opacity="0.51"/>
<ellipse cx="12.2" cy="485.1" rx="1.6" ry="0.6" transform="rotate(100 12.2 485.1)" fill="#8484a2" fill-opacity="0.57"/>
<ellipse cx="53.6" cy="468.8" rx="1.6" ry="0.9" transform="rotate(9 53.6 468.8)" fill="#5c5c80" fill-opacity="0.68"/>
<ellipse cx="16.6" cy="519.3" rx="1.1" ry="0.9" transform="rotate(55 16.6 519.3)" fill="#747496" fill-opacity="0.70"/>
<ellipse cx="122.0" cy="522.9" rx="1.7" ry="1.0" transform="rotate(50 122.0 522.9)" fill="#747496" fill-opacity="0.69"/>
<ellipse cx="120.5" cy="510.9" rx="1.6" ry="0.8" transform="rotate(63 120.5 510.9)" fill="#66668a" fill-opacity="0.71"/>
<ellipse cx="82.1" cy="474.4" rx="1.2" ry="0.6" transform="rotate(84 82.1 474.4)" fill="#747496" fill-opacity="0.50"/>
<ellipse cx="39.6" cy="493.5" rx="1.5" ry="0.9" transform="rotate(31 39.6 493.5)" fill="#66668a" fill-opacity="0.52"/>
<ellipse cx="45.1" cy="493.7" rx="1.6" ry="0.6" transform="rotate(322 45.1 493.7)" fill="#66668a" fill-opacity="0.64"/>
<ellipse cx="20.2" cy="509.4" rx="1.3" ry="0.8" transform="rotate(83 20.2 509.4)" fill="#8484a2" fill-opacity="0.63"/>
<ellipse cx="60.3" cy="473.3" rx="1.6" ry="0.9" transform="rotate(5 60.3 473.3)" fill="#66668a" fill-opacity="0.69"/>
<ellipse cx="57.1" cy="546.6" rx="1.6" ry="0.8" transform="rotate(10 57.1 546.6)" fill="#747496" fill-opacity="0.55"/>
<ellipse cx="97.0" cy="530.8" rx="1.9" ry="0.6" transform="rotate(-14 97.0 530.8)" fill="#747496" fill-opacity="0.58"/>
<ellipse cx="39.0" cy="507.4" rx="1.8" ry="0.6" transform="rotate(257 39.0 507.4)" fill="#5c5c80" fill-opacity="0.66"/>
<ellipse cx="40.9" cy="528.5" rx="1.4" ry="0.9" transform="rotate(9 40.9 528.5)" fill="#66668a" fill-opacity="0.69"/>
<ellipse cx="32.2" cy="524.3" rx="1.8" ry="0.7" transform="rotate(47 32.2 524.3)" fill="#747496" fill-opacity="0.83"/>
<ellipse cx="126.5" cy="515.2" rx="1.8" ry="0.6" transform="rotate(79 126.5 515.2)" fill="#8484a2" fill-opacity="0.82"/>
<ellipse cx="25.6" cy="481.5" rx="1.7" ry="0.8" transform="rotate(125 25.6 481.5)" fill="#747496" fill-opacity="0.65"/>
<ellipse cx="22.4" cy="522.6" rx="2.0" ry="0.9" transform="rotate(21 22.4 522.6)" fill="#5c5c80" fill-opacity="0.67"/>
<ellipse cx="57.1" cy="541.8" rx="1.7" ry="0.8" transform="rotate(-0 57.1 541.8)" fill="#8484a2" fill-opacity="0.56"/>
<ellipse cx="112.2" cy="520.1" rx="1.3" ry="1.0" transform="rotate(64 112.2 520.1)" fill="#8484a2" fill-opacity="0.60"/>
<ellipse cx="95.1" cy="499.4" rx="1.9" ry="0.8" transform="rotate(65 95.1 499.4)" fill="#8484a2" fill-opacity="0.52"/>
<ellipse cx="60.3" cy="496.2" rx="1.4" ry="0.6" transform="rotate(77 60.3 496.2)" fill="#5c5c80" fill-opacity="0.51"/>
<ellipse cx="98.3" cy="538.3" rx="1.6" ry="0.7" transform="rotate(5 98.3 538.3)" fill="#8484a2" fill-opacity="0.66"/>
<ellipse cx="126.3" cy="529.1" rx="1.5" ry="0.6" transform="rotate(71 126.3 529.1)" fill="#5c5c80" fill-opacity="0.59"/>
<ellipse cx="23.5" cy="518.5" rx="1.1" ry="0.7" transform="rotate(45 23.5 518.5)" fill="#66668a" fill-opacity="0.62"/>
<ellipse cx="23.0" cy="524.9" rx="1.4" ry="0.8" transform="rotate(39 23.0 524.9)" fill="#747496" fill-opacity="0.79"/>
<ellipse cx="41.3" cy="488.9" rx="1.0" ry="0.8" transform="rotate(317 41.3 488.9)" fill="#66668a" fill-opacity="0.73"/>
<ellipse cx="26.0" cy="486.7" rx="1.7" ry="0.7" transform="rotate(-13 26.0 486.7)" fill="#66668a" fill-opacity="0.55"/>
<ellipse cx="21.6" cy="520.0" rx="1.9" ry="0.8" transform="rotate(7 21.6 520.0)" fill="#8484a2" fill-opacity="0.53"/>
<ellipse cx="82.0" cy="524.0" rx="2.0" ry="0.7" transform="rotate(142 82.0 524.0)" fill="#747496" fill-opacity="0.64"/>
<ellipse cx="37.5" cy="518.3" rx="1.7" ry="0.8" transform="rotate(232 37.5 518.3)" fill="#747496" fill-opacity="0.58"/>
<ellipse cx="77.9" cy="513.9" rx="1.3" ry="0.6" transform="rotate(129 77.9 513.9)" fill="#5c5c80" fill-opacity="0.52"/>
<ellipse cx="37.8" cy="487.3" rx="1.4" ry="0.9" transform="rotate(9 37.8 487.3)" fill="#5c5c80" fill-opacity="0.62"/>
<ellipse cx="118.9" cy="529.9" rx="1.8" ry="0.9" transform="rotate(95 118.9 529.9)" fill="#5c5c80" fill-opacity="0.55"/>
<ellipse cx="47.3" cy="530.7" rx="1.2" ry="0.7" transform="rotate(3 47.3 530.7)" fill="#747496" fill-opacity="0.46"/>
<ellipse cx="46.1" cy="540.4" rx="1.1" ry="0.9" transform="rotate(36 46.1 540.4)" fill="#5c5c80" fill-opacity="0.45"/>
<ellipse cx="66.1" cy="492.4" rx="1.9" ry="1.0" transform="rotate(366 66.1 492.4)" fill="#747496" fill-opacity="0.64"/>
<ellipse cx="115.9" cy="494.4" rx="1.4" ry="0.9" transform="rotate(40 115.9 494.4)" fill="#747496" fill-opacity="0.64"/>
<ellipse cx="55.2" cy="521.3" rx="1.9" ry="0.7" transform="rotate(195 55.2 521.3)" fill="#5c5c80" fill-opacity="0.75"/>
<ellipse cx="121.2" cy="528.2" rx="1.3" ry="0.9" transform="rotate(82 121.2 528.2)" fill="#747496" fill-opacity="0.56"/>
<ellipse cx="116.8" cy="500.3" rx="1.8" ry="0.7" transform="rotate(80 116.8 500.3)" fill="#5c5c80" fill-opacity="0.68"/>
<ellipse cx="75.6" cy="486.6" rx="1.7" ry="0.6" transform="rotate(19 75.6 486.6)" fill="#747496" fill-opacity="0.52"/>
<ellipse cx="20.4" cy="514.7" rx="1.3" ry="0.6" transform="rotate(176 20.4 514.7)" fill="#5c5c80" fill-opacity="0.63"/>
<ellipse cx="105.7" cy="464.5" rx="1.0" ry="0.9" transform="rotate(51 105.7 464.5)" fill="#66668a" fill-opacity="0.74"/>
<ellipse cx="55.2" cy="517.4" rx="1.8" ry="0.8" transform="rotate(182 55.2 517.4)" fill="#5c5c80" fill-opacity="0.59"/>
<ellipse cx="116.9" cy="495.1" rx="1.1" ry="0.6" transform="rotate(84 116.9 495.1)" fill="#747496" fill-opacity="0.83"/>
<ellipse cx="120.0" cy="503.7" rx="1.2" ry="0.7" transform="rotate(50 120.0 503.7)" fill="#8484a2" fill-opacity="0.82"/>
</g></g>
<clipPath id="cp4"><rect x="131.6" y="473.6" width="119.1" height="74.4"/></clipPath>
<filter id="nz4" x="0" y="0" width="1" height="1" color-interpolation-filters="sRGB"><feTurbulence type="fractalNoise" baseFrequency="0.06" numOctaves="3" seed="18"/><feColorMatrix type="matrix" values="0.145 0 0 0 0.712  0.145 0 0 0 0.735  0.048 0 0 0 0.768  0 0 0 0 1" result="A"/><feTurbulence type="fractalNoise" baseFrequency="0.35" numOctaves="2" seed="7"/><feColorMatrix type="matrix" values="0 0.194 0 0 0.403  0 0.194 0 0 0.403  0 0.194 0 0 0.403  0 0 0 0 1" result="B"/><feComposite in="A" in2="B" operator="arithmetic" k1="0" k2="1" k3="1" k4="-0.5"/></filter>
<filter id="bl4" x="-5%" y="-5%" width="110%" height="110%"><feGaussianBlur stdDeviation="0.55"/></filter>
<g clip-path="url(#cp4)">
<rect x="131.6" y="473.6" width="119.1" height="74.4" filter="url(#nz4)"/>
<g filter="url(#bl4)">
<ellipse cx="235.0" cy="530.0" rx="4.8" ry="4.1" fill="#b2b2c4" fill-opacity="0.37"/>
<ellipse cx="223.9" cy="481.5" rx="3.5" ry="2.9" fill="#aaaac0" fill-opacity="0.43"/>
<ellipse cx="229.7" cy="533.1" rx="2.8" ry="2.4" fill="#b2b2c4" fill-opacity="0.44"/>
<ellipse cx="203.5" cy="481.8" rx="3.6" ry="3.6" fill="#bcbccc" fill-opacity="0.58"/>
<ellipse cx="215.6" cy="479.9" rx="3.1" ry="2.1" transform="rotate(58 215.6 479.9)" fill="#b2b2c4" fill-opacity="0.50"/>
<ellipse cx="233.7" cy="505.6" rx="2.9" ry="2.5" fill="#aaaac0" fill-opacity="0.44"/>
<ellipse cx="209.4" cy="529.8" rx="5.1" ry="4.9" fill="#bcbccc" fill-opacity="0.41"/>
<ellipse cx="249.2" cy="494.1" rx="2.8" ry="1.7" transform="rotate(112 249.2 494.1)" fill="#bcbccc" fill-opacity="0.48"/>
<ellipse cx="164.3" cy="539.6" rx="4.0" ry="3.6" fill="#aaaac0" fill-opacity="0.55"/>
<ellipse cx="214.3" cy="505.2" rx="4.0" ry="2.8" transform="rotate(1 214.3 505.2)" fill="#b2b2c4" fill-opacity="0.48"/>
<ellipse cx="230.2" cy="486.8" rx="3.0" ry="2.2" transform="rotate(169 230.2 486.8)" fill="#aaaac0" fill-opacity="0.53"/>
<ellipse cx="135.4" cy="513.2" rx="2.9" ry="1.5" transform="rotate(168 135.4 513.2)" fill="#b2b2c4" fill-opacity="0.58"/>
<ellipse cx="211.2" cy="523.4" rx="5.0" ry="4.1" fill="#bcbccc" fill-opacity="0.51"/>
<ellipse cx="186.7" cy="490.8" rx="4.8" ry="2.8" transform="rotate(65 186.7 490.8)" fill="#bcbccc" fill-opacity="0.43"/>
<ellipse cx="207.4" cy="544.1" rx="5.1" ry="3.9" transform="rotate(166 207.4 544.1)" fill="#bcbccc" fill-opacity="0.37"/>
<ellipse cx="153.9" cy="543.2" rx="2.6" ry="2.2" fill="#bcbccc" fill-opacity="0.50"/>
<ellipse cx="224.4" cy="490.1" rx="5.4" ry="3.7" transform="rotate(33 224.4 490.1)" fill="#b2b2c4" fill-opacity="0.48"/>
<ellipse cx="243.0" cy="514.3" rx="5.3" ry="4.2" transform="rotate(8 243.0 514.3)" fill="#b2b2c4" fill-opacity="0.54"/>
<ellipse cx="193.0" cy="486.9" rx="2.8" ry="1.7" transform="rotate(12 193.0 486.9)" fill="#aaaac0" fill-opacity="0.54"/>
<ellipse cx="159.0" cy="476.1" rx="3.9" ry="2.2" transform="rotate(135 159.0 476.1)" fill="#aaaac0" fill-opacity="0.39"/>
<ellipse cx="163.2" cy="533.6" rx="2.6" ry="1.8" transform="rotate(64 163.2 533.6)" fill="#b2b2c4" fill-opacity="0.46"/>
<ellipse cx="242.7" cy="485.2" rx="3.4" ry="3.0" fill="#aaaac0" fill-opacity="0.58"/>
<ellipse cx="214.2" cy="504.4" rx="3.9" ry="2.2" transform="rotate(154 214.2 504.4)" fill="#bcbccc" fill-opacity="0.40"/>
<ellipse cx="218.4" cy="495.4" rx="4.7" ry="2.4" transform="rotate(72 218.4 495.4)" fill="#aaaac0" fill-opacity="0.37"/>
<ellipse cx="214.0" cy="537.7" rx="2.9" ry="2.1" transform="rotate(113 214.0 537.7)" fill="#b2b2c4" fill-opacity="0.48"/>
<ellipse cx="155.7" cy="537.0" rx="4.9" ry="4.5" fill="#aaaac0" fill-opacity="0.55"/>
<ellipse cx="160.9" cy="501.2" rx="5.4" ry="4.9" fill="#bcbccc" fill-opacity="0.57"/>
<ellipse cx="158.0" cy="491.8" rx="3.3" ry="3.0" fill="#aaaac0" fill-opacity="0.44"/>
<ellipse cx="156.0" cy="493.5" rx="2.8" ry="2.3" fill="#aaaac0" fill-opacity="0.56"/>
<ellipse cx="209.3" cy="516.0" rx="5.2" ry="4.0" transform="rotate(65 209.3 516.0)" fill="#b2b2c4" fill-opacity="0.54"/>
<ellipse cx="218.9" cy="531.8" rx="5.1" ry="3.6" transform="rotate(57 218.9 531.8)" fill="#b2b2c4" fill-opacity="0.50"/>
<ellipse cx="191.9" cy="485.5" rx="4.5" ry="2.9" transform="rotate(32 191.9 485.5)" fill="#bcbccc" fill-opacity="0.58"/>
<ellipse cx="180.8" cy="534.8" rx="3.4" ry="1.9" transform="rotate(133 180.8 534.8)" fill="#bcbccc" fill-opacity="0.43"/>
<ellipse cx="179.4" cy="542.9" rx="4.4" ry="3.6" fill="#bcbccc" fill-opacity="0.41"/>
<ellipse cx="241.4" cy="518.9" rx="3.2" ry="2.7" fill="#b2b2c4" fill-opacity="0.46"/>
<ellipse cx="146.0" cy="547.1" rx="4.6" ry="3.5" transform="rotate(144 146.0 547.1)" fill="#aaaac0" fill-opacity="0.55"/>
<ellipse cx="241.1" cy="476.6" rx="4.5" ry="4.0" fill="#bcbccc" fill-opacity="0.56"/>
<ellipse cx="142.0" cy="538.5" rx="3.5" ry="2.7" transform="rotate(8 142.0 538.5)" fill="#b2b2c4" fill-opacity="0.39"/>
<ellipse cx="143.5" cy="522.6" rx="4.4" ry="3.4" transform="rotate(54 143.5 522.6)" fill="#b2b2c4" fill-opacity="0.37"/>
<ellipse cx="218.4" cy="524.4" rx="2.7" ry="1.5" transform="rotate(42 218.4 524.4)" fill="#b2b2c4" fill-opacity="0.50"/>
<ellipse cx="238.3" cy="475.0" rx="2.9" ry="2.0" transform="rotate(84 238.3 475.0)" fill="#b2b2c4" fill-opacity="0.59"/>
<ellipse cx="176.5" cy="526.9" rx="3.8" ry="3.3" fill="#bcbccc" fill-opacity="0.36"/>
<ellipse cx="142.5" cy="547.9" rx="5.0" ry="3.0" transform="rotate(147 142.5 547.9)" fill="#bcbccc" fill-opacity="0.58"/>
<ellipse cx="206.9" cy="514.1" rx="3.0" ry="1.6" transform="rotate(121 206.9 514.1)" fill="#aaaac0" fill-opacity="0.54"/>
<ellipse cx="159.5" cy="500.7" rx="2.8" ry="2.4" fill="#bcbccc" fill-opacity="0.35"/>
<ellipse cx="249.4" cy="545.5" rx="2.6" ry="2.3" fill="#b2b2c4" fill-opacity="0.47"/>
<ellipse cx="197.5" cy="490.1" rx="3.4" ry="2.5" transform="rotate(106 197.5 490.1)" fill="#b2b2c4" fill-opacity="0.37"/>
<ellipse cx="214.4" cy="489.5" rx="4.6" ry="3.4" transform="rotate(79 214.4 489.5)" fill="#b2b2c4" fill-opacity="0.54"/>
<ellipse cx="244.6" cy="537.3" rx="5.2" ry="4.5" fill="#bcbccc" fill-opacity="0.53"/>
<ellipse cx="148.1" cy="509.1" rx="3.2" ry="1.6" transform="rotate(83 148.1 509.1)" fill="#aaaac0" fill-opacity="0.51"/>
<ellipse cx="225.4" cy="506.5" rx="3.7" ry="3.5" fill="#bcbccc" fill-opacity="0.41"/>
<ellipse cx="213.1" cy="497.0" rx="4.1" ry="2.1" transform="rotate(15 213.1 497.0)" fill="#b2b2c4" fill-opacity="0.53"/>
<ellipse cx="245.2" cy="506.3" rx="2.8" ry="1.5" transform="rotate(116 245.2 506.3)" fill="#b2b2c4" fill-opacity="0.54"/>
<ellipse cx="171.5" cy="519.7" rx="3.3" ry="2.3" transform="rotate(54 171.5 519.7)" fill="#b2b2c4" fill-opacity="0.44"/>
<ellipse cx="177.6" cy="506.2" rx="3.6" ry="2.0" transform="rotate(6 177.6 506.2)" fill="#aaaac0" fill-opacity="0.36"/>
<ellipse cx="149.8" cy="526.8" rx="3.5" ry="2.5" transform="rotate(18 149.8 526.8)" fill="#bcbccc" fill-opacity="0.40"/>
<ellipse cx="152.4" cy="501.2" rx="3.0" ry="1.8" transform="rotate(63 152.4 501.2)" fill="#aaaac0" fill-opacity="0.36"/>
<ellipse cx="206.2" cy="530.0" rx="4.5" ry="2.6" transform="rotate(144 206.2 530.0)" fill="#aaaac0" fill-opacity="0.48"/>
<ellipse cx="182.7" cy="547.8" rx="3.3" ry="2.1" transform="rotate(121 182.7 547.8)" fill="#bcbccc" fill-opacity="0.54"/>
<ellipse cx="230.0" cy="509.6" rx="3.4" ry="2.8" fill="#b2b2c4" fill-opacity="0.54"/>
<ellipse cx="234.2" cy="538.8" rx="5.0" ry="4.7" fill="#b2b2c4" fill-opacity="0.35"/>
<ellipse cx="237.2" cy="528.8" rx="3.0" ry="2.8" fill="#b2b2c4" fill-opacity="0.37"/>
<ellipse cx="220.7" cy="546.2" rx="4.6" ry="2.9" transform="rotate(4 220.7 546.2)" fill="#b2b2c4" fill-opacity="0.52"/>
<ellipse cx="189.5" cy="483.6" rx="3.9" ry="2.6" transform="rotate(35 189.5 483.6)" fill="#aaaac0" fill-opacity="0.57"/>
<ellipse cx="178.6" cy="536.6" rx="3.6" ry="2.7" transform="rotate(117 178.6 536.6)" fill="#b2b2c4" fill-opacity="0.39"/>
<ellipse cx="143.9" cy="513.3" rx="3.4" ry="2.6" transform="rotate(45 143.9 513.3)" fill="#b2b2c4" fill-opacity="0.57"/>
<ellipse cx="144.4" cy="486.8" rx="3.1" ry="3.0" fill="#aaaac0" fill-opacity="0.50"/>
<ellipse cx="239.3" cy="490.9" rx="4.3" ry="3.5" fill="#bcbccc" fill-opacity="0.35"/>
<ellipse cx="142.4" cy="542.4" rx="2.6" ry="2.3" fill="#bcbccc" fill-opacity="0.46"/>
<ellipse cx="218.4" cy="540.7" rx="3.9" ry="3.2" fill="#b2b2c4" fill-opacity="0.43"/>
<ellipse cx="192.0" cy="521.0" rx="3.0" ry="2.2" transform="rotate(118 192.0 521.0)" fill="#bcbccc" fill-opacity="0.38"/>
<ellipse cx="210.6" cy="487.4" rx="3.3" ry="1.7" transform="rotate(142 210.6 487.4)" fill="#aaaac0" fill-opacity="0.54"/>
<ellipse cx="169.5" cy="489.4" rx="4.2" ry="4.0" fill="#aaaac0" fill-opacity="0.46"/>
<ellipse cx="166.9" cy="501.6" rx="4.0" ry="2.7" transform="rotate(152 166.9 501.6)" fill="#b2b2c4" fill-opacity="0.58"/>
<ellipse cx="137.7" cy="518.8" rx="2.7" ry="1.8" transform="rotate(14 137.7 518.8)" fill="#bcbccc" fill-opacity="0.40"/>
<ellipse cx="187.7" cy="475.7" rx="3.5" ry="3.0" fill="#aaaac0" fill-opacity="0.38"/>
<ellipse cx="187.6" cy="495.1" rx="4.2" ry="3.3" transform="rotate(152 187.6 495.1)" fill="#aaaac0" fill-opacity="0.53"/>
<ellipse cx="171.7" cy="488.3" rx="2.7" ry="2.3" fill="#aaaac0" fill-opacity="0.40"/>
<ellipse cx="188.2" cy="485.4" rx="2.7" ry="1.6" transform="rotate(48 188.2 485.4)" fill="#b2b2c4" fill-opacity="0.55"/>
<ellipse cx="161.6" cy="545.2" rx="3.1" ry="2.9" fill="#bcbccc" fill-opacity="0.52"/>
<ellipse cx="154.8" cy="543.7" rx="3.6" ry="3.1" fill="#b2b2c4" fill-opacity="0.54"/>
<ellipse cx="198.7" cy="480.3" rx="2.8" ry="1.6" transform="rotate(64 198.7 480.3)" fill="#aaaac0" fill-opacity="0.39"/>
<ellipse cx="236.4" cy="534.3" rx="3.3" ry="2.7" fill="#aaaac0" fill-opacity="0.41"/>
<ellipse cx="185.2" cy="489.5" rx="3.8" ry="3.4" fill="#bcbccc" fill-opacity="0.48"/>
<ellipse cx="165.6" cy="487.9" rx="5.4" ry="4.3" transform="rotate(176 165.6 487.9)" fill="#bcbccc" fill-opacity="0.58"/>
<ellipse cx="160.4" cy="532.6" rx="4.2" ry="2.2" transform="rotate(131 160.4 532.6)" fill="#b2b2c4" fill-opacity="0.40"/>
<ellipse cx="246.0" cy="498.4" rx="5.4" ry="3.5" transform="rotate(104 246.0 498.4)" fill="#aaaac0" fill-opacity="0.54"/>
<ellipse cx="238.4" cy="476.8" rx="5.3" ry="3.1" transform="rotate(174 238.4 476.8)" fill="#bcbccc" fill-opacity="0.52"/>
<ellipse cx="240.3" cy="542.9" rx="3.2" ry="2.9" fill="#b2b2c4" fill-opacity="0.57"/>
<ellipse cx="249.8" cy="492.6" rx="3.1" ry="3.0" fill="#b2b2c4" fill-opacity="0.38"/>
<ellipse cx="233.2" cy="513.3" rx="5.4" ry="3.7" transform="rotate(1 233.2 513.3)" fill="#b2b2c4" fill-opacity="0.37"/>
<ellipse cx="149.6" cy="521.8" rx="5.2" ry="5.0" fill="#bcbccc" fill-opacity="0.46"/>
<ellipse cx="145.7" cy="523.6" rx="4.7" ry="3.7" transform="rotate(80 145.7 523.6)" fill="#bcbccc" fill-opacity="0.46"/>
<ellipse cx="209.8" cy="499.4" rx="4.1" ry="3.0" transform="rotate(65 209.8 499.4)" fill="#b2b2c4" fill-opacity="0.40"/>
<ellipse cx="177.9" cy="529.3" rx="4.2" ry="2.9" transform="rotate(167 177.9 529.3)" fill="#b2b2c4" fill-opacity="0.44"/>
<ellipse cx="211.4" cy="537.9" rx="4.1" ry="3.3" fill="#aaaac0" fill-opacity="0.44"/>
<ellipse cx="145.8" cy="522.0" rx="4.6" ry="2.4" transform="rotate(137 145.8 522.0)" fill="#aaaac0" fill-opacity="0.49"/>
<ellipse cx="159.5" cy="494.4" rx="4.4" ry="3.3" transform="rotate(79 159.5 494.4)" fill="#b2b2c4" fill-opacity="0.55"/>
<ellipse cx="199.0" cy="485.8" rx="4.9" ry="3.2" transform="rotate(109 199.0 485.8)" fill="#bcbccc" fill-opacity="0.49"/>
<ellipse cx="198.0" cy="529.8" rx="4.0" ry="2.4" transform="rotate(12 198.0 529.8)" fill="#bcbccc" fill-opacity="0.56"/>
<ellipse cx="170.5" cy="502.1" rx="2.8" ry="1.7" transform="rotate(132 170.5 502.1)" fill="#b2b2c4" fill-opacity="0.42"/>
<ellipse cx="213.2" cy="545.4" rx="3.2" ry="3.2" fill="#bcbccc" fill-opacity="0.55"/>
<ellipse cx="245.3" cy="541.0" rx="3.1" ry="2.7" fill="#b2b2c4" fill-opacity="0.38"/>
<ellipse cx="160.0" cy="545.3" rx="3.1" ry="2.7" fill="#aaaac0" fill-opacity="0.55"/>
<ellipse cx="214.7" cy="499.6" rx="4.7" ry="2.5" transform="rotate(112 214.7 499.6)" fill="#bcbccc" fill-opacity="0.38"/>
<ellipse cx="232.5" cy="516.3" rx="2.7" ry="2.4" fill="#b2b2c4" fill-opacity="0.48"/>
<ellipse cx="131.7" cy="527.0" rx="5.1" ry="4.5" fill="#b2b2c4" fill-opacity="0.56"/>
<ellipse cx="156.5" cy="524.9" rx="4.4" ry="3.7" fill="#b2b2c4" fill-opacity="0.40"/>
<ellipse cx="175.4" cy="482.3" rx="3.4" ry="2.1" transform="rotate(30 175.4 482.3)" fill="#aaaac0" fill-opacity="0.52"/>
<ellipse cx="214.5" cy="494.7" rx="5.4" ry="3.4" transform="rotate(167 214.5 494.7)" fill="#aaaac0" fill-opacity="0.41"/>
<ellipse cx="156.4" cy="496.2" rx="4.1" ry="3.7" fill="#bcbccc" fill-opacity="0.48"/>
<ellipse cx="222.4" cy="508.8" rx="4.0" ry="2.9" transform="rotate(176 222.4 508.8)" fill="#b2b2c4" fill-opacity="0.42"/>
<ellipse cx="157.0" cy="535.4" rx="4.6" ry="2.9" transform="rotate(67 157.0 535.4)" fill="#aaaac0" fill-opacity="0.44"/>
<ellipse cx="224.1" cy="521.4" rx="4.3" ry="2.3" transform="rotate(82 224.1 521.4)" fill="#b2b2c4" fill-opacity="0.36"/>
<ellipse cx="188.3" cy="484.1" rx="3.7" ry="3.5" fill="#bcbccc" fill-opacity="0.45"/>
<ellipse cx="145.1" cy="516.0" rx="5.3" ry="4.9" fill="#aaaac0" fill-opacity="0.52"/>
<ellipse cx="212.8" cy="485.1" rx="5.2" ry="3.5" transform="rotate(139 212.8 485.1)" fill="#aaaac0" fill-opacity="0.50"/>
<ellipse cx="182.5" cy="504.5" rx="5.2" ry="3.2" transform="rotate(19 182.5 504.5)" fill="#b2b2c4" fill-opacity="0.40"/>
<ellipse cx="181.4" cy="527.6" rx="3.0" ry="1.7" transform="rotate(137 181.4 527.6)" fill="#b2b2c4" fill-opacity="0.54"/>
<ellipse cx="140.6" cy="537.3" rx="2.5" ry="2.2" fill="#aaaac0" fill-opacity="0.43"/>
<ellipse cx="144.1" cy="522.3" rx="1.1" ry="0.7" transform="rotate(71 144.1 522.3)" fill="#646486" fill-opacity="0.71"/>
<ellipse cx="193.6" cy="523.0" rx="1.3" ry="1.2" fill="#6e6e8e" fill-opacity="0.47"/>
<ellipse cx="232.6" cy="512.5" rx="1.4" ry="0.8" transform="rotate(19 232.6 512.5)" fill="#646486" fill-opacity="0.74"/>
<ellipse cx="247.9" cy="494.1" rx="0.9" ry="0.6" transform="rotate(33 247.9 494.1)" fill="#7c7c9a" fill-opacity="0.44"/>
<ellipse cx="142.5" cy="513.0" rx="0.9" ry="0.7" fill="#7c7c9a" fill-opacity="0.49"/>
<ellipse cx="150.6" cy="478.0" rx="1.4" ry="1.2" fill="#7c7c9a" fill-opacity="0.61"/>
<ellipse cx="179.7" cy="542.1" rx="0.8" ry="0.7" fill="#8a8aa4" fill-opacity="0.50"/>
<ellipse cx="141.1" cy="547.6" rx="1.4" ry="1.3" fill="#7c7c9a" fill-opacity="0.79"/>
<ellipse cx="162.4" cy="506.5" rx="1.3" ry="1.0" transform="rotate(21 162.4 506.5)" fill="#6e6e8e" fill-opacity="0.41"/>
<ellipse cx="237.6" cy="515.5" rx="0.9" ry="0.6" transform="rotate(70 237.6 515.5)" fill="#6e6e8e" fill-opacity="0.54"/>
<ellipse cx="192.7" cy="498.5" rx="1.2" ry="0.9" transform="rotate(4 192.7 498.5)" fill="#6e6e8e" fill-opacity="0.57"/>
<ellipse cx="148.4" cy="536.8" rx="1.0" ry="0.6" transform="rotate(9 148.4 536.8)" fill="#7c7c9a" fill-opacity="0.60"/>
<ellipse cx="146.2" cy="480.9" rx="1.4" ry="1.2" fill="#7c7c9a" fill-opacity="0.71"/>
<ellipse cx="141.8" cy="522.4" rx="1.4" ry="0.8" transform="rotate(51 141.8 522.4)" fill="#646486" fill-opacity="0.49"/>
<ellipse cx="224.2" cy="527.7" rx="1.5" ry="0.9" transform="rotate(38 224.2 527.7)" fill="#6e6e8e" fill-opacity="0.56"/>
<ellipse cx="230.6" cy="485.4" rx="0.9" ry="0.7" fill="#646486" fill-opacity="0.57"/>
<ellipse cx="180.6" cy="514.1" rx="1.3" ry="1.3" fill="#6e6e8e" fill-opacity="0.74"/>
<ellipse cx="202.4" cy="539.0" rx="1.1" ry="1.0" fill="#646486" fill-opacity="0.61"/>
<ellipse cx="165.8" cy="481.8" rx="1.2" ry="0.8" transform="rotate(166 165.8 481.8)" fill="#646486" fill-opacity="0.70"/>
<ellipse cx="210.4" cy="476.3" rx="0.9" ry="0.6" transform="rotate(14 210.4 476.3)" fill="#7c7c9a" fill-opacity="0.67"/>
<ellipse cx="212.7" cy="527.2" rx="1.1" ry="1.1" fill="#6e6e8e" fill-opacity="0.62"/>
<ellipse cx="185.8" cy="545.8" rx="0.9" ry="0.5" transform="rotate(65 185.8 545.8)" fill="#8a8aa4" fill-opacity="0.48"/>
<ellipse cx="185.4" cy="541.6" rx="1.4" ry="0.9" transform="rotate(40 185.4 541.6)" fill="#646486" fill-opacity="0.80"/>
<ellipse cx="248.1" cy="484.1" rx="0.8" ry="0.7" fill="#7c7c9a" fill-opacity="0.46"/>
<ellipse cx="139.6" cy="496.0" rx="1.0" ry="0.8" transform="rotate(50 139.6 496.0)" fill="#6e6e8e" fill-opacity="0.46"/>
<ellipse cx="153.8" cy="545.2" rx="1.4" ry="0.9" transform="rotate(23 153.8 545.2)" fill="#8a8aa4" fill-opacity="0.52"/>
<ellipse cx="145.1" cy="538.4" rx="0.9" ry="0.9" fill="#646486" fill-opacity="0.47"/>
<ellipse cx="177.1" cy="519.3" rx="1.1" ry="0.9" transform="rotate(31 177.1 519.3)" fill="#7c7c9a" fill-opacity="0.68"/>
<ellipse cx="217.7" cy="540.8" rx="1.4" ry="1.4" fill="#646486" fill-opacity="0.77"/>
<ellipse cx="227.1" cy="530.6" rx="0.8" ry="0.6" transform="rotate(19 227.1 530.6)" fill="#646486" fill-opacity="0.78"/>
<ellipse cx="215.3" cy="547.6" rx="1.1" ry="0.7" transform="rotate(84 215.3 547.6)" fill="#6e6e8e" fill-opacity="0.47"/>
<ellipse cx="237.4" cy="499.8" rx="0.9" ry="0.7" transform="rotate(18 237.4 499.8)" fill="#7c7c9a" fill-opacity="0.73"/>
<ellipse cx="212.7" cy="510.0" rx="1.0" ry="0.6" transform="rotate(115 212.7 510.0)" fill="#6e6e8e" fill-opacity="0.41"/>
<ellipse cx="190.3" cy="541.0" rx="1.4" ry="1.2" fill="#646486" fill-opacity="0.74"/>
<ellipse cx="210.8" cy="487.9" rx="1.3" ry="0.9" transform="rotate(90 210.8 487.9)" fill="#6e6e8e" fill-opacity="0.69"/>
<ellipse cx="237.9" cy="521.0" rx="1.2" ry="1.0" transform="rotate(136 237.9 521.0)" fill="#6e6e8e" fill-opacity="0.55"/>
<ellipse cx="137.2" cy="486.1" rx="0.8" ry="0.8" fill="#7c7c9a" fill-opacity="0.49"/>
<ellipse cx="198.0" cy="476.0" rx="1.4" ry="1.3" fill="#7c7c9a" fill-opacity="0.45"/>
<ellipse cx="240.9" cy="481.0" rx="1.2" ry="0.7" transform="rotate(87 240.9 481.0)" fill="#6e6e8e" fill-opacity="0.44"/>
<ellipse cx="249.7" cy="493.5" rx="1.5" ry="1.0" transform="rotate(166 249.7 493.5)" fill="#8a8aa4" fill-opacity="0.66"/>
<ellipse cx="202.0" cy="476.4" rx="0.9" ry="0.5" transform="rotate(85 202.0 476.4)" fill="#646486" fill-opacity="0.49"/>
<ellipse cx="160.3" cy="480.6" rx="0.8" ry="0.8" fill="#646486" fill-opacity="0.43"/>
<ellipse cx="212.4" cy="536.9" rx="1.3" ry="1.3" fill="#6e6e8e" fill-opacity="0.66"/>
<ellipse cx="189.1" cy="530.0" rx="0.9" ry="0.9" fill="#8a8aa4" fill-opacity="0.66"/>
<ellipse cx="154.7" cy="543.8" rx="0.8" ry="0.5" transform="rotate(16 154.7 543.8)" fill="#646486" fill-opacity="0.73"/>
<ellipse cx="225.8" cy="478.5" rx="1.4" ry="1.1" fill="#8a8aa4" fill-opacity="0.72"/>
<ellipse cx="194.3" cy="513.2" rx="0.8" ry="0.4" transform="rotate(25 194.3 513.2)" fill="#6e6e8e" fill-opacity="0.73"/>
<ellipse cx="236.2" cy="518.8" rx="1.1" ry="0.9" fill="#8a8aa4" fill-opacity="0.46"/>
<ellipse cx="200.4" cy="496.3" rx="1.0" ry="0.6" transform="rotate(103 200.4 496.3)" fill="#7c7c9a" fill-opacity="0.53"/>
<ellipse cx="167.0" cy="526.7" rx="0.9" ry="0.6" transform="rotate(91 167.0 526.7)" fill="#7c7c9a" fill-opacity="0.60"/>
<ellipse cx="150.6" cy="540.0" rx="1.5" ry="1.1" transform="rotate(168 150.6 540.0)" fill="#7c7c9a" fill-opacity="0.61"/>
<ellipse cx="242.3" cy="536.5" rx="1.2" ry="0.9" fill="#6e6e8e" fill-opacity="0.78"/>
<ellipse cx="199.3" cy="478.1" rx="1.0" ry="0.6" transform="rotate(8 199.3 478.1)" fill="#7c7c9a" fill-opacity="0.61"/>
<ellipse cx="192.4" cy="512.8" rx="1.2" ry="0.7" transform="rotate(123 192.4 512.8)" fill="#646486" fill-opacity="0.55"/>
<ellipse cx="158.8" cy="483.9" rx="0.8" ry="0.5" transform="rotate(138 158.8 483.9)" fill="#8a8aa4" fill-opacity="0.57"/>
<ellipse cx="230.5" cy="544.4" rx="1.0" ry="0.6" transform="rotate(6 230.5 544.4)" fill="#8a8aa4" fill-opacity="0.43"/>
<ellipse cx="166.1" cy="482.6" rx="0.8" ry="0.7" fill="#7c7c9a" fill-opacity="0.57"/>
<ellipse cx="190.9" cy="518.5" rx="1.3" ry="0.9" transform="rotate(89 190.9 518.5)" fill="#6e6e8e" fill-opacity="0.54"/>
<ellipse cx="228.8" cy="527.5" rx="0.9" ry="0.7" transform="rotate(149 228.8 527.5)" fill="#6e6e8e" fill-opacity="0.72"/>
<ellipse cx="247.4" cy="506.3" rx="1.0" ry="0.6" transform="rotate(29 247.4 506.3)" fill="#646486" fill-opacity="0.60"/>
<ellipse cx="178.4" cy="484.1" rx="1.2" ry="0.9" transform="rotate(71 178.4 484.1)" fill="#646486" fill-opacity="0.70"/>
<ellipse cx="167.7" cy="525.1" rx="1.4" ry="1.3" fill="#7c7c9a" fill-opacity="0.66"/>
<ellipse cx="157.4" cy="540.1" rx="1.4" ry="1.1" transform="rotate(53 157.4 540.1)" fill="#6e6e8e" fill-opacity="0.49"/>
<ellipse cx="224.0" cy="495.8" rx="1.1" ry="0.8" transform="rotate(69 224.0 495.8)" fill="#8a8aa4" fill-opacity="0.51"/>
<ellipse cx="146.8" cy="516.4" rx="0.9" ry="0.7" transform="rotate(86 146.8 516.4)" fill="#7c7c9a" fill-opacity="0.67"/>
<ellipse cx="155.7" cy="477.3" rx="1.1" ry="0.6" transform="rotate(110 155.7 477.3)" fill="#7c7c9a" fill-opacity="0.53"/>
<ellipse cx="246.1" cy="540.2" rx="1.0" ry="0.5" transform="rotate(169 246.1 540.2)" fill="#8a8aa4" fill-opacity="0.76"/>
<ellipse cx="248.5" cy="496.9" rx="0.8" ry="0.5" transform="rotate(116 248.5 496.9)" fill="#646486" fill-opacity="0.77"/>
<ellipse cx="161.5" cy="546.4" rx="1.2" ry="1.0" fill="#8a8aa4" fill-opacity="0.62"/>
<ellipse cx="200.7" cy="485.0" rx="1.3" ry="0.8" transform="rotate(149 200.7 485.0)" fill="#6e6e8e" fill-opacity="0.80"/>
<ellipse cx="187.4" cy="512.8" rx="1.0" ry="0.7" transform="rotate(160 187.4 512.8)" fill="#8a8aa4" fill-opacity="0.61"/>
<ellipse cx="164.7" cy="526.9" rx="1.4" ry="1.2" fill="#7c7c9a" fill-opacity="0.77"/>
<ellipse cx="142.5" cy="482.3" rx="1.5" ry="1.1" transform="rotate(0 142.5 482.3)" fill="#646486" fill-opacity="0.61"/>
<ellipse cx="236.8" cy="503.7" rx="0.9" ry="0.6" transform="rotate(113 236.8 503.7)" fill="#6e6e8e" fill-opacity="0.72"/>
<ellipse cx="151.9" cy="509.9" rx="1.3" ry="0.7" transform="rotate(120 151.9 509.9)" fill="#7c7c9a" fill-opacity="0.55"/>
<ellipse cx="148.4" cy="526.7" rx="1.3" ry="1.1" fill="#646486" fill-opacity="0.68"/>
<ellipse cx="189.6" cy="481.2" rx="1.0" ry="0.9" fill="#6e6e8e" fill-opacity="0.63"/>
<ellipse cx="166.0" cy="547.4" rx="1.3" ry="0.9" transform="rotate(164 166.0 547.4)" fill="#8a8aa4" fill-opacity="0.74"/>
<ellipse cx="153.3" cy="498.7" rx="1.2" ry="1.1" fill="#646486" fill-opacity="0.57"/>
<ellipse cx="177.3" cy="502.3" rx="1.4" ry="1.1" transform="rotate(88 177.3 502.3)" fill="#646486" fill-opacity="0.44"/>
<ellipse cx="159.6" cy="482.7" rx="1.4" ry="1.1" transform="rotate(97 159.6 482.7)" fill="#8a8aa4" fill-opacity="0.64"/>
<ellipse cx="151.5" cy="543.9" rx="1.3" ry="0.7" transform="rotate(19 151.5 543.9)" fill="#646486" fill-opacity="0.43"/>
<ellipse cx="228.5" cy="544.4" rx="1.2" ry="1.2" fill="#8a8aa4" fill-opacity="0.57"/>
<ellipse cx="190.7" cy="497.1" rx="1.0" ry="0.9" fill="#8a8aa4" fill-opacity="0.57"/>
<ellipse cx="153.4" cy="514.7" rx="1.3" ry="1.2" fill="#646486" fill-opacity="0.51"/>
<ellipse cx="248.7" cy="530.7" rx="1.3" ry="1.2" fill="#7c7c9a" fill-opacity="0.71"/>
<ellipse cx="169.6" cy="527.8" rx="0.9" ry="0.8" fill="#7c7c9a" fill-opacity="0.58"/>
<ellipse cx="191.4" cy="541.1" rx="1.3" ry="0.8" transform="rotate(77 191.4 541.1)" fill="#646486" fill-opacity="0.68"/>
<ellipse cx="182.9" cy="522.2" rx="1.1" ry="0.6" transform="rotate(26 182.9 522.2)" fill="#8a8aa4" fill-opacity="0.59"/>
<ellipse cx="144.2" cy="528.9" rx="1.3" ry="1.2" fill="#7c7c9a" fill-opacity="0.64"/>
<ellipse cx="240.6" cy="515.6" rx="1.1" ry="1.0" fill="#8a8aa4" fill-opacity="0.51"/>
<ellipse cx="229.5" cy="527.7" rx="1.0" ry="0.5" transform="rotate(70 229.5 527.7)" fill="#646486" fill-opacity="0.80"/>
<ellipse cx="245.5" cy="544.2" rx="1.5" ry="1.0" transform="rotate(65 245.5 544.2)" fill="#646486" fill-opacity="0.69"/>
<ellipse cx="151.8" cy="492.5" rx="0.8" ry="0.7" transform="rotate(122 151.8 492.5)" fill="#7c7c9a" fill-opacity="0.47"/>
<ellipse cx="230.1" cy="538.2" rx="0.8" ry="0.8" fill="#6e6e8e" fill-opacity="0.44"/>
<ellipse cx="209.5" cy="524.7" rx="1.3" ry="1.0" transform="rotate(121 209.5 524.7)" fill="#8a8aa4" fill-opacity="0.72"/>
<ellipse cx="201.7" cy="531.6" rx="0.8" ry="0.6" transform="rotate(93 201.7 531.6)" fill="#646486" fill-opacity="0.43"/>
<ellipse cx="202.9" cy="530.7" rx="1.0" ry="0.6" transform="rotate(18 202.9 530.7)" fill="#8a8aa4" fill-opacity="0.61"/>
<ellipse cx="138.3" cy="497.5" rx="1.0" ry="0.9" fill="#7c7c9a" fill-opacity="0.75"/>
<ellipse cx="231.9" cy="494.1" rx="1.4" ry="0.8" transform="rotate(125 231.9 494.1)" fill="#646486" fill-opacity="0.68"/>
<ellipse cx="229.4" cy="497.6" rx="0.8" ry="0.8" fill="#8a8aa4" fill-opacity="0.42"/>
<ellipse cx="164.9" cy="483.0" rx="1.1" ry="0.7" transform="rotate(5 164.9 483.0)" fill="#6e6e8e" fill-opacity="0.49"/>
<ellipse cx="232.3" cy="532.1" rx="0.9" ry="0.9" fill="#8a8aa4" fill-opacity="0.53"/>
<ellipse cx="186.1" cy="505.2" rx="1.2" ry="1.0" fill="#8a8aa4" fill-opacity="0.68"/>
<ellipse cx="148.5" cy="544.4" rx="1.3" ry="1.2" fill="#8a8aa4" fill-opacity="0.76"/>
<ellipse cx="136.0" cy="483.6" rx="1.2" ry="1.1" fill="#8a8aa4" fill-opacity="0.72"/>
<ellipse cx="136.2" cy="522.6" rx="1.4" ry="1.2" fill="#646486" fill-opacity="0.80"/>
<ellipse cx="216.9" cy="538.4" rx="1.4" ry="1.1" fill="#646486" fill-opacity="0.69"/>
<ellipse cx="214.0" cy="525.0" rx="0.8" ry="0.7" fill="#6e6e8e" fill-opacity="0.56"/>
<ellipse cx="187.7" cy="493.6" rx="1.3" ry="1.1" fill="#8a8aa4" fill-opacity="0.58"/>
<ellipse cx="172.8" cy="483.5" rx="1.4" ry="0.9" transform="rotate(17 172.8 483.5)" fill="#6e6e8e" fill-opacity="0.59"/>
<ellipse cx="218.9" cy="483.0" rx="1.0" ry="0.7" transform="rotate(101 218.9 483.0)" fill="#8a8aa4" fill-opacity="0.45"/>
<ellipse cx="151.8" cy="506.8" rx="1.5" ry="1.3" fill="#8a8aa4" fill-opacity="0.79"/>
<ellipse cx="247.6" cy="481.5" rx="0.9" ry="0.6" transform="rotate(173 247.6 481.5)" fill="#7c7c9a" fill-opacity="0.80"/>
<ellipse cx="157.3" cy="474.0" rx="1.1" ry="0.6" transform="rotate(37 157.3 474.0)" fill="#7c7c9a" fill-opacity="0.80"/>
<ellipse cx="132.5" cy="508.0" rx="1.4" ry="1.1" fill="#8a8aa4" fill-opacity="0.71"/>
<ellipse cx="179.9" cy="484.1" rx="0.8" ry="0.7" transform="rotate(84 179.9 484.1)" fill="#7c7c9a" fill-opacity="0.68"/>
<ellipse cx="176.6" cy="476.9" rx="1.1" ry="0.9" transform="rotate(104 176.6 476.9)" fill="#8a8aa4" fill-opacity="0.55"/>
<ellipse cx="203.6" cy="531.9" rx="1.0" ry="1.0" fill="#646486" fill-opacity="0.58"/>
<ellipse cx="246.5" cy="510.0" rx="1.4" ry="1.3" fill="#646486" fill-opacity="0.70"/>
<ellipse cx="199.7" cy="534.5" rx="1.3" ry="0.7" transform="rotate(141 199.7 534.5)" fill="#8a8aa4" fill-opacity="0.70"/>
<ellipse cx="214.3" cy="489.7" rx="1.2" ry="0.9" transform="rotate(133 214.3 489.7)" fill="#8a8aa4" fill-opacity="0.45"/>
<ellipse cx="165.3" cy="482.9" rx="1.2" ry="1.1" fill="#7c7c9a" fill-opacity="0.77"/>
<ellipse cx="172.3" cy="492.1" rx="1.1" ry="0.7" transform="rotate(82 172.3 492.1)" fill="#7c7c9a" fill-opacity="0.58"/>
<ellipse cx="146.2" cy="547.0" rx="1.3" ry="0.9" transform="rotate(155 146.2 547.0)" fill="#8a8aa4" fill-opacity="0.41"/>
<ellipse cx="214.0" cy="521.5" rx="1.2" ry="0.6" transform="rotate(93 214.0 521.5)" fill="#7c7c9a" fill-opacity="0.76"/>
<ellipse cx="203.9" cy="511.2" rx="1.3" ry="1.1" fill="#646486" fill-opacity="0.48"/>
<ellipse cx="157.7" cy="492.1" rx="1.4" ry="0.9" transform="rotate(51 157.7 492.1)" fill="#6e6e8e" fill-opacity="0.49"/>
<ellipse cx="241.2" cy="500.1" rx="1.4" ry="1.0" transform="rotate(133 241.2 500.1)" fill="#8a8aa4" fill-opacity="0.42"/>
<ellipse cx="139.3" cy="492.4" rx="0.9" ry="0.9" fill="#7c7c9a" fill-opacity="0.66"/>
<ellipse cx="188.2" cy="496.6" rx="0.9" ry="0.5" transform="rotate(46 188.2 496.6)" fill="#7c7c9a" fill-opacity="0.44"/>
<ellipse cx="170.3" cy="523.1" rx="1.2" ry="0.9" fill="#646486" fill-opacity="0.65"/>
<ellipse cx="175.7" cy="520.6" rx="1.0" ry="0.9" fill="#8a8aa4" fill-opacity="0.79"/>
<ellipse cx="155.2" cy="514.7" rx="1.3" ry="0.7" transform="rotate(152 155.2 514.7)" fill="#7c7c9a" fill-opacity="0.63"/>
<ellipse cx="250.0" cy="535.3" rx="1.4" ry="1.4" fill="#8a8aa4" fill-opacity="0.67"/>
<ellipse cx="147.8" cy="539.9" rx="1.3" ry="1.0" transform="rotate(52 147.8 539.9)" fill="#8a8aa4" fill-opacity="0.75"/>
<ellipse cx="147.6" cy="531.5" rx="0.9" ry="0.6" transform="rotate(47 147.6 531.5)" fill="#646486" fill-opacity="0.60"/>
<ellipse cx="143.4" cy="526.5" rx="1.1" ry="0.9" fill="#7c7c9a" fill-opacity="0.72"/>
<ellipse cx="154.5" cy="498.9" rx="1.5" ry="0.9" transform="rotate(51 154.5 498.9)" fill="#8a8aa4" fill-opacity="0.59"/>
<ellipse cx="219.6" cy="508.5" rx="1.5" ry="1.2" transform="rotate(136 219.6 508.5)" fill="#6e6e8e" fill-opacity="0.62"/>
<ellipse cx="133.7" cy="503.6" rx="0.9" ry="0.5" transform="rotate(53 133.7 503.6)" fill="#8a8aa4" fill-opacity="0.53"/>
<ellipse cx="212.0" cy="521.0" rx="1.1" ry="1.1" fill="#8a8aa4" fill-opacity="0.44"/>
<ellipse cx="186.1" cy="510.1" rx="1.2" ry="1.1" fill="#7c7c9a" fill-opacity="0.73"/>
<ellipse cx="222.3" cy="506.5" rx="0.9" ry="0.6" transform="rotate(67 222.3 506.5)" fill="#8a8aa4" fill-opacity="0.53"/>
<ellipse cx="188.3" cy="522.4" rx="1.1" ry="1.1" fill="#646486" fill-opacity="0.58"/>
<ellipse cx="145.1" cy="518.1" rx="0.8" ry="0.7" transform="rotate(18 145.1 518.1)" fill="#7c7c9a" fill-opacity="0.59"/>
<ellipse cx="177.5" cy="482.2" rx="1.0" ry="0.9" fill="#646486" fill-opacity="0.55"/>
<ellipse cx="198.0" cy="478.0" rx="1.1" ry="0.8" transform="rotate(36 198.0 478.0)" fill="#7c7c9a" fill-opacity="0.73"/>
<ellipse cx="207.4" cy="492.5" rx="1.3" ry="0.8" transform="rotate(83 207.4 492.5)" fill="#646486" fill-opacity="0.48"/>
<ellipse cx="178.2" cy="526.9" rx="1.4" ry="1.0" transform="rotate(123 178.2 526.9)" fill="#8a8aa4" fill-opacity="0.50"/>
<ellipse cx="196.9" cy="525.2" rx="1.3" ry="1.2" fill="#6e6e8e" fill-opacity="0.61"/>
<ellipse cx="170.4" cy="492.7" rx="0.8" ry="0.7" fill="#7c7c9a" fill-opacity="0.48"/>
<ellipse cx="142.4" cy="511.8" rx="1.1" ry="1.0" fill="#646486" fill-opacity="0.42"/>
<ellipse cx="238.4" cy="523.4" rx="1.1" ry="0.8" transform="rotate(149 238.4 523.4)" fill="#7c7c9a" fill-opacity="0.46"/>
<ellipse cx="203.5" cy="527.5" rx="1.1" ry="1.0" fill="#7c7c9a" fill-opacity="0.48"/>
<ellipse cx="136.2" cy="513.3" rx="0.9" ry="0.5" transform="rotate(34 136.2 513.3)" fill="#7c7c9a" fill-opacity="0.50"/>
<ellipse cx="135.0" cy="513.0" rx="0.8" ry="0.4" transform="rotate(10 135.0 513.0)" fill="#7c7c9a" fill-opacity="0.44"/>
<ellipse cx="170.7" cy="495.8" rx="1.2" ry="1.1" fill="#7c7c9a" fill-opacity="0.56"/>
<ellipse cx="160.5" cy="483.1" rx="1.1" ry="0.9" fill="#646486" fill-opacity="0.70"/>
<ellipse cx="154.5" cy="511.0" rx="1.2" ry="1.0" transform="rotate(150 154.5 511.0)" fill="#8a8aa4" fill-opacity="0.51"/>
<ellipse cx="235.1" cy="495.0" rx="1.2" ry="1.1" fill="#8a8aa4" fill-opacity="0.63"/>
<ellipse cx="174.3" cy="512.9" rx="1.0" ry="0.6" transform="rotate(161 174.3 512.9)" fill="#8a8aa4" fill-opacity="0.76"/>
<ellipse cx="191.4" cy="483.0" rx="1.1" ry="1.0" fill="#7c7c9a" fill-opacity="0.47"/>
<ellipse cx="202.3" cy="540.5" rx="1.0" ry="0.8" fill="#8a8aa4" fill-opacity="0.59"/>
<ellipse cx="237.3" cy="508.6" rx="1.5" ry="1.1" transform="rotate(165 237.3 508.6)" fill="#7c7c9a" fill-opacity="0.57"/>
<ellipse cx="183.7" cy="505.7" rx="1.1" ry="0.7" transform="rotate(72 183.7 505.7)" fill="#6e6e8e" fill-opacity="0.50"/>
<ellipse cx="142.2" cy="521.4" rx="1.3" ry="1.2" fill="#8a8aa4" fill-opacity="0.70"/>
<ellipse cx="185.1" cy="530.3" rx="1.0" ry="0.5" transform="rotate(8 185.1 530.3)" fill="#6e6e8e" fill-opacity="0.74"/>
<ellipse cx="240.4" cy="479.9" rx="0.8" ry="0.7" fill="#646486" fill-opacity="0.60"/>
<ellipse cx="151.4" cy="533.2" rx="1.4" ry="0.9" transform="rotate(77 151.4 533.2)" fill="#6e6e8e" fill-opacity="0.76"/>
<ellipse cx="158.6" cy="544.0" rx="1.4" ry="0.7" transform="rotate(119 158.6 544.0)" fill="#6e6e8e" fill-opacity="0.63"/>
<ellipse cx="214.1" cy="541.5" rx="0.9" ry="0.5" transform="rotate(145 214.1 541.5)" fill="#6e6e8e" fill-opacity="0.69"/>
<ellipse cx="151.2" cy="489.9" rx="1.2" ry="0.8" transform="rotate(100 151.2 489.9)" fill="#8a8aa4" fill-opacity="0.44"/>
<ellipse cx="141.6" cy="479.9" rx="1.4" ry="0.8" transform="rotate(14 141.6 479.9)" fill="#646486" fill-opacity="0.40"/>
<ellipse cx="147.5" cy="538.2" rx="1.5" ry="0.8" transform="rotate(154 147.5 538.2)" fill="#646486" fill-opacity="0.40"/>
<ellipse cx="228.3" cy="512.5" rx="1.1" ry="0.9" fill="#8a8aa4" fill-opacity="0.53"/>
<ellipse cx="249.7" cy="536.1" rx="1.5" ry="1.4" fill="#7c7c9a" fill-opacity="0.80"/>
<ellipse cx="229.9" cy="492.1" rx="1.3" ry="0.7" transform="rotate(63 229.9 492.1)" fill="#6e6e8e" fill-opacity="0.51"/>
<ellipse cx="131.7" cy="523.1" rx="1.3" ry="1.1" fill="#6e6e8e" fill-opacity="0.76"/>
<ellipse cx="236.7" cy="479.5" rx="0.9" ry="0.5" transform="rotate(48 236.7 479.5)" fill="#6e6e8e" fill-opacity="0.49"/>
<ellipse cx="138.8" cy="544.4" rx="0.8" ry="0.8" fill="#6e6e8e" fill-opacity="0.47"/>
<ellipse cx="182.0" cy="536.2" rx="1.3" ry="1.2" fill="#7c7c9a" fill-opacity="0.49"/>
<ellipse cx="145.0" cy="509.3" rx="1.1" ry="0.9" fill="#646486" fill-opacity="0.47"/>
<ellipse cx="147.2" cy="500.7" rx="1.5" ry="1.2" transform="rotate(42 147.2 500.7)" fill="#8a8aa4" fill-opacity="0.69"/>
<ellipse cx="185.9" cy="514.9" rx="1.0" ry="0.6" transform="rotate(53 185.9 514.9)" fill="#6e6e8e" fill-opacity="0.76"/>
<ellipse cx="239.0" cy="496.1" rx="1.3" ry="0.9" transform="rotate(81 239.0 496.1)" fill="#7c7c9a" fill-opacity="0.47"/>
<ellipse cx="218.0" cy="500.1" rx="1.5" ry="0.8" transform="rotate(67 218.0 500.1)" fill="#646486" fill-opacity="0.55"/>
<ellipse cx="172.9" cy="504.0" rx="1.4" ry="1.3" fill="#646486" fill-opacity="0.77"/>
<ellipse cx="228.1" cy="483.0" rx="0.9" ry="0.7" fill="#646486" fill-opacity="0.66"/>
<ellipse cx="216.6" cy="524.8" rx="1.2" ry="0.8" transform="rotate(94 216.6 524.8)" fill="#7c7c9a" fill-opacity="0.42"/>
<ellipse cx="232.1" cy="495.7" rx="1.4" ry="1.1" transform="rotate(97 232.1 495.7)" fill="#8a8aa4" fill-opacity="0.77"/>
<ellipse cx="149.6" cy="476.4" rx="0.9" ry="0.5" transform="rotate(11 149.6 476.4)" fill="#7c7c9a" fill-opacity="0.80"/>
<ellipse cx="230.2" cy="529.3" rx="1.3" ry="0.7" transform="rotate(127 230.2 529.3)" fill="#7c7c9a" fill-opacity="0.49"/>
<ellipse cx="134.4" cy="532.4" rx="1.1" ry="0.7" transform="rotate(74 134.4 532.4)" fill="#6e6e8e" fill-opacity="0.61"/>
<ellipse cx="170.1" cy="518.5" rx="1.4" ry="1.1" fill="#8a8aa4" fill-opacity="0.47"/>
<ellipse cx="181.5" cy="490.0" rx="1.0" ry="0.8" transform="rotate(141 181.5 490.0)" fill="#646486" fill-opacity="0.77"/>
<ellipse cx="226.3" cy="487.4" rx="0.8" ry="0.7" fill="#7c7c9a" fill-opacity="0.78"/>
<ellipse cx="220.3" cy="487.2" rx="1.3" ry="1.2" fill="#646486" fill-opacity="0.61"/>
<ellipse cx="174.6" cy="489.1" rx="1.4" ry="1.2" fill="#7c7c9a" fill-opacity="0.76"/>
<ellipse cx="174.2" cy="492.2" rx="1.2" ry="1.0" fill="#7c7c9a" fill-opacity="0.56"/>
<ellipse cx="163.9" cy="499.2" rx="1.1" ry="0.9" fill="#646486" fill-opacity="0.69"/>
<ellipse cx="238.4" cy="508.9" rx="1.0" ry="0.5" transform="rotate(58 238.4 508.9)" fill="#6e6e8e" fill-opacity="0.42"/>
<ellipse cx="156.2" cy="544.5" rx="0.9" ry="0.8" fill="#7c7c9a" fill-opacity="0.61"/>
<ellipse cx="223.5" cy="480.1" rx="1.0" ry="0.7" transform="rotate(85 223.5 480.1)" fill="#8a8aa4" fill-opacity="0.73"/>
<ellipse cx="152.9" cy="541.9" rx="1.3" ry="1.3" fill="#7c7c9a" fill-opacity="0.66"/>
<ellipse cx="150.7" cy="484.4" rx="1.0" ry="1.0" fill="#646486" fill-opacity="0.50"/>
<ellipse cx="181.4" cy="494.3" rx="1.2" ry="0.9" transform="rotate(73 181.4 494.3)" fill="#7c7c9a" fill-opacity="0.45"/>
<ellipse cx="160.9" cy="537.9" rx="1.0" ry="0.5" transform="rotate(166 160.9 537.9)" fill="#8a8aa4" fill-opacity="0.51"/>
<ellipse cx="222.0" cy="513.2" rx="1.0" ry="1.0" fill="#8a8aa4" fill-opacity="0.48"/>
<ellipse cx="206.3" cy="535.2" rx="1.0" ry="0.6" transform="rotate(151 206.3 535.2)" fill="#7c7c9a" fill-opacity="0.72"/>
<ellipse cx="237.3" cy="475.3" rx="1.3" ry="1.0" transform="rotate(79 237.3 475.3)" fill="#7c7c9a" fill-opacity="0.62"/>
<ellipse cx="225.5" cy="540.3" rx="1.5" ry="0.9" transform="rotate(43 225.5 540.3)" fill="#7c7c9a" fill-opacity="0.66"/>
<ellipse cx="250.3" cy="546.1" rx="1.5" ry="0.9" transform="rotate(89 250.3 546.1)" fill="#7c7c9a" fill-opacity="0.57"/>
<ellipse cx="246.3" cy="515.4" rx="0.9" ry="0.7" transform="rotate(92 246.3 515.4)" fill="#8a8aa4" fill-opacity="0.75"/>
<ellipse cx="156.0" cy="530.8" rx="1.2" ry="1.0" transform="rotate(74 156.0 530.8)" fill="#8a8aa4" fill-opacity="0.71"/>
<ellipse cx="166.5" cy="480.6" rx="1.0" ry="1.0" fill="#646486" fill-opacity="0.44"/>
<ellipse cx="215.5" cy="528.0" rx="1.2" ry="1.1" fill="#646486" fill-opacity="0.74"/>
<ellipse cx="229.2" cy="489.6" rx="1.3" ry="1.1" fill="#7c7c9a" fill-opacity="0.65"/>
<ellipse cx="239.1" cy="520.9" rx="1.4" ry="1.2" fill="#6e6e8e" fill-opacity="0.62"/>
<ellipse cx="195.0" cy="515.6" rx="1.2" ry="0.6" transform="rotate(126 195.0 515.6)" fill="#8a8aa4" fill-opacity="0.57"/>
<ellipse cx="194.5" cy="474.4" rx="1.0" ry="0.7" transform="rotate(20 194.5 474.4)" fill="#6e6e8e" fill-opacity="0.42"/>
<ellipse cx="201.8" cy="474.5" rx="1.3" ry="1.0" transform="rotate(167 201.8 474.5)" fill="#646486" fill-opacity="0.73"/>
<ellipse cx="225.7" cy="490.6" rx="1.3" ry="0.8" transform="rotate(110 225.7 490.6)" fill="#646486" fill-opacity="0.59"/>
<ellipse cx="204.2" cy="520.3" rx="0.9" ry="0.8" fill="#7c7c9a" fill-opacity="0.76"/>
<ellipse cx="246.6" cy="530.7" rx="1.1" ry="0.6" transform="rotate(108 246.6 530.7)" fill="#7c7c9a" fill-opacity="0.63"/>
<ellipse cx="151.4" cy="542.8" rx="1.2" ry="0.9" transform="rotate(130 151.4 542.8)" fill="#7c7c9a" fill-opacity="0.70"/>
<ellipse cx="243.6" cy="540.3" rx="1.0" ry="0.7" transform="rotate(29 243.6 540.3)" fill="#7c7c9a" fill-opacity="0.76"/>
<ellipse cx="236.0" cy="531.4" rx="0.9" ry="0.9" fill="#7c7c9a" fill-opacity="0.59"/>
<ellipse cx="156.2" cy="484.1" rx="1.3" ry="0.7" transform="rotate(120 156.2 484.1)" fill="#7c7c9a" fill-opacity="0.80"/>
<ellipse cx="187.2" cy="541.6" rx="1.2" ry="1.0" fill="#6e6e8e" fill-opacity="0.50"/>
<ellipse cx="175.1" cy="541.3" rx="0.9" ry="0.7" fill="#6e6e8e" fill-opacity="0.70"/>
<ellipse cx="189.9" cy="483.7" rx="1.2" ry="0.7" transform="rotate(95 189.9 483.7)" fill="#6e6e8e" fill-opacity="0.43"/>
<ellipse cx="208.1" cy="491.9" rx="1.5" ry="1.4" fill="#6e6e8e" fill-opacity="0.73"/>
<ellipse cx="179.5" cy="497.4" rx="1.2" ry="0.8" transform="rotate(129 179.5 497.4)" fill="#646486" fill-opacity="0.72"/>
<ellipse cx="133.9" cy="530.3" rx="1.0" ry="0.7" transform="rotate(48 133.9 530.3)" fill="#6e6e8e" fill-opacity="0.58"/>
<ellipse cx="226.5" cy="521.2" rx="0.9" ry="0.8" fill="#6e6e8e" fill-opacity="0.48"/>
<ellipse cx="184.4" cy="505.3" rx="1.2" ry="0.7" transform="rotate(150 184.4 505.3)" fill="#7c7c9a" fill-opacity="0.78"/>
<ellipse cx="194.1" cy="509.3" rx="1.4" ry="1.2" fill="#8a8aa4" fill-opacity="0.45"/>
<ellipse cx="152.4" cy="529.9" rx="0.8" ry="0.6" transform="rotate(3 152.4 529.9)" fill="#646486" fill-opacity="0.55"/>
<ellipse cx="176.8" cy="517.6" rx="1.3" ry="1.0" transform="rotate(154 176.8 517.6)" fill="#7c7c9a" fill-opacity="0.74"/>
<ellipse cx="175.1" cy="487.9" rx="1.3" ry="1.3" fill="#8a8aa4" fill-opacity="0.75"/>
<ellipse cx="209.0" cy="543.8" rx="1.5" ry="1.2" fill="#8a8aa4" fill-opacity="0.70"/>
<ellipse cx="208.1" cy="547.7" rx="0.9" ry="0.7" fill="#6e6e8e" fill-opacity="0.59"/>
<ellipse cx="200.2" cy="496.5" rx="1.4" ry="0.7" transform="rotate(38 200.2 496.5)" fill="#6e6e8e" fill-opacity="0.69"/>
<ellipse cx="186.3" cy="502.7" rx="1.4" ry="1.0" transform="rotate(89 186.3 502.7)" fill="#646486" fill-opacity="0.46"/>
<ellipse cx="240.8" cy="545.2" rx="1.4" ry="0.9" transform="rotate(34 240.8 545.2)" fill="#8a8aa4" fill-opacity="0.50"/>
<ellipse cx="204.6" cy="484.0" rx="1.2" ry="1.1" fill="#646486" fill-opacity="0.79"/>
<ellipse cx="190.0" cy="514.7" rx="1.4" ry="1.3" fill="#6e6e8e" fill-opacity="0.45"/>
<ellipse cx="220.4" cy="477.0" rx="1.4" ry="1.0" transform="rotate(35 220.4 477.0)" fill="#646486" fill-opacity="0.63"/>
<ellipse cx="227.1" cy="479.9" rx="0.9" ry="0.7" transform="rotate(94 227.1 479.9)" fill="#8a8aa4" fill-opacity="0.65"/>
<ellipse cx="212.9" cy="478.9" rx="0.9" ry="0.8" fill="#6e6e8e" fill-opacity="0.68"/>
<ellipse cx="159.6" cy="537.7" rx="1.0" ry="0.6" transform="rotate(59 159.6 537.7)" fill="#6e6e8e" fill-opacity="0.48"/>
<ellipse cx="236.6" cy="485.9" rx="0.8" ry="0.4" transform="rotate(66 236.6 485.9)" fill="#8a8aa4" fill-opacity="0.43"/>
<ellipse cx="223.1" cy="544.7" rx="1.3" ry="0.9" transform="rotate(31 223.1 544.7)" fill="#7c7c9a" fill-opacity="0.48"/>
<ellipse cx="134.4" cy="515.3" rx="1.4" ry="0.7" transform="rotate(51 134.4 515.3)" fill="#646486" fill-opacity="0.71"/>
<ellipse cx="202.1" cy="476.0" rx="1.0" ry="0.5" transform="rotate(118 202.1 476.0)" fill="#6e6e8e" fill-opacity="0.44"/>
<ellipse cx="231.0" cy="499.2" rx="1.0" ry="0.9" fill="#646486" fill-opacity="0.67"/>
<ellipse cx="169.9" cy="489.8" rx="1.2" ry="1.1" fill="#8a8aa4" fill-opacity="0.69"/>
<ellipse cx="243.4" cy="490.6" rx="1.1" ry="0.6" transform="rotate(129 243.4 490.6)" fill="#7c7c9a" fill-opacity="0.48"/>
<ellipse cx="244.2" cy="482.0" rx="0.9" ry="0.8" fill="#646486" fill-opacity="0.62"/>
<ellipse cx="237.7" cy="543.1" rx="1.0" ry="0.7" transform="rotate(147 237.7 543.1)" fill="#7c7c9a" fill-opacity="0.42"/>
<ellipse cx="169.2" cy="474.5" rx="1.1" ry="0.7" transform="rotate(24 169.2 474.5)" fill="#8a8aa4" fill-opacity="0.73"/>
<ellipse cx="194.9" cy="500.8" rx="0.9" ry="0.8" fill="#7c7c9a" fill-opacity="0.47"/>
<ellipse cx="145.9" cy="508.5" rx="1.3" ry="1.1" fill="#8a8aa4" fill-opacity="0.75"/>
<ellipse cx="179.9" cy="491.0" rx="1.1" ry="0.6" transform="rotate(61 179.9 491.0)" fill="#6e6e8e" fill-opacity="0.68"/>
<ellipse cx="148.1" cy="534.8" rx="1.0" ry="0.8" fill="#7c7c9a" fill-opacity="0.72"/>
<ellipse cx="182.0" cy="505.6" rx="1.2" ry="0.7" transform="rotate(107 182.0 505.6)" fill="#6e6e8e" fill-opacity="0.76"/>
<ellipse cx="250.6" cy="521.1" rx="0.8" ry="0.5" transform="rotate(6 250.6 521.1)" fill="#8a8aa4" fill-opacity="0.76"/>
<ellipse cx="180.4" cy="545.1" rx="0.8" ry="0.5" transform="rotate(2 180.4 545.1)" fill="#6e6e8e" fill-opacity="0.75"/>
<ellipse cx="151.0" cy="505.5" rx="1.1" ry="1.0" fill="#8a8aa4" fill-opacity="0.48"/>
<ellipse cx="198.0" cy="488.9" rx="1.0" ry="0.7" transform="rotate(76 198.0 488.9)" fill="#6e6e8e" fill-opacity="0.50"/>
<ellipse cx="143.1" cy="483.4" rx="0.9" ry="0.8" fill="#8a8aa4" fill-opacity="0.78"/>
<ellipse cx="187.6" cy="477.4" rx="1.1" ry="0.6" transform="rotate(3 187.6 477.4)" fill="#7c7c9a" fill-opacity="0.74"/>
<ellipse cx="136.7" cy="528.7" rx="1.1" ry="0.9" fill="#6e6e8e" fill-opacity="0.70"/>
<ellipse cx="217.5" cy="514.6" rx="1.3" ry="1.3" fill="#8a8aa4" fill-opacity="0.44"/>
<ellipse cx="156.4" cy="525.0" rx="0.9" ry="0.8" fill="#6e6e8e" fill-opacity="0.75"/>
<ellipse cx="174.1" cy="512.6" rx="1.0" ry="0.7" transform="rotate(138 174.1 512.6)" fill="#646486" fill-opacity="0.60"/>
<ellipse cx="169.9" cy="494.6" rx="0.8" ry="0.5" transform="rotate(21 169.9 494.6)" fill="#6e6e8e" fill-opacity="0.57"/>
<ellipse cx="136.0" cy="542.3" rx="1.5" ry="1.3" fill="#8a8aa4" fill-opacity="0.67"/>
<ellipse cx="146.0" cy="501.3" rx="1.2" ry="1.1" fill="#646486" fill-opacity="0.52"/>
<ellipse cx="200.1" cy="476.5" rx="1.4" ry="1.4" fill="#8a8aa4" fill-opacity="0.78"/>
<ellipse cx="230.4" cy="475.2" rx="0.9" ry="0.6" transform="rotate(152 230.4 475.2)" fill="#646486" fill-opacity="0.74"/>
<ellipse cx="137.7" cy="519.3" rx="1.3" ry="1.1" fill="#6e6e8e" fill-opacity="0.54"/>
<ellipse cx="133.2" cy="521.8" rx="1.4" ry="1.0" transform="rotate(113 133.2 521.8)" fill="#8a8aa4" fill-opacity="0.57"/>
<ellipse cx="240.4" cy="533.6" rx="0.8" ry="0.6" transform="rotate(40 240.4 533.6)" fill="#7c7c9a" fill-opacity="0.70"/>
<ellipse cx="154.0" cy="546.1" rx="1.1" ry="1.0" fill="#7c7c9a" fill-opacity="0.55"/>
<ellipse cx="164.1" cy="545.8" rx="1.1" ry="1.0" fill="#6e6e8e" fill-opacity="0.56"/>
<ellipse cx="150.4" cy="480.1" rx="1.4" ry="0.8" transform="rotate(17 150.4 480.1)" fill="#646486" fill-opacity="0.56"/>
<ellipse cx="140.4" cy="489.7" rx="1.3" ry="1.2" fill="#6e6e8e" fill-opacity="0.71"/>
<ellipse cx="244.4" cy="538.1" rx="1.1" ry="1.0" fill="#646486" fill-opacity="0.55"/>
<ellipse cx="182.1" cy="500.5" rx="0.8" ry="0.7" fill="#8a8aa4" fill-opacity="0.75"/>
<ellipse cx="244.4" cy="525.8" rx="1.2" ry="0.6" transform="rotate(57 244.4 525.8)" fill="#6e6e8e" fill-opacity="0.63"/>
<ellipse cx="201.4" cy="497.6" rx="1.5" ry="0.8" transform="rotate(74 201.4 497.6)" fill="#7c7c9a" fill-opacity="0.66"/>
<ellipse cx="133.0" cy="496.5" rx="1.0" ry="0.6" transform="rotate(80 133.0 496.5)" fill="#6e6e8e" fill-opacity="0.73"/>
<ellipse cx="142.0" cy="489.4" rx="0.9" ry="0.5" transform="rotate(87 142.0 489.4)" fill="#646486" fill-opacity="0.49"/>
<ellipse cx="156.6" cy="482.1" rx="1.0" ry="0.6" transform="rotate(27 156.6 482.1)" fill="#7c7c9a" fill-opacity="0.41"/>
<ellipse cx="231.2" cy="545.8" rx="1.1" ry="0.6" transform="rotate(148 231.2 545.8)" fill="#7c7c9a" fill-opacity="0.72"/>
<ellipse cx="145.0" cy="511.8" rx="1.4" ry="1.3" fill="#6e6e8e" fill-opacity="0.47"/>
<ellipse cx="194.8" cy="519.9" rx="1.0" ry="0.6" transform="rotate(126 194.8 519.9)" fill="#6e6e8e" fill-opacity="0.51"/>
<ellipse cx="239.3" cy="495.8" rx="1.4" ry="1.2" fill="#6e6e8e" fill-opacity="0.49"/>
<ellipse cx="199.5" cy="477.3" rx="1.0" ry="0.7" transform="rotate(40 199.5 477.3)" fill="#7c7c9a" fill-opacity="0.68"/>
<ellipse cx="221.3" cy="543.0" rx="1.4" ry="1.1" transform="rotate(9 221.3 543.0)" fill="#6e6e8e" fill-opacity="0.70"/>
<ellipse cx="234.8" cy="520.4" rx="1.2" ry="1.2" fill="#646486" fill-opacity="0.74"/>
<ellipse cx="217.0" cy="524.9" rx="1.2" ry="0.7" transform="rotate(115 217.0 524.9)" fill="#646486" fill-opacity="0.62"/>
<ellipse cx="220.0" cy="545.5" rx="1.1" ry="0.8" transform="rotate(76 220.0 545.5)" fill="#6e6e8e" fill-opacity="0.49"/>
<ellipse cx="188.0" cy="503.8" rx="0.9" ry="0.6" transform="rotate(10 188.0 503.8)" fill="#646486" fill-opacity="0.48"/>
<ellipse cx="204.0" cy="535.9" rx="1.5" ry="1.0" transform="rotate(118 204.0 535.9)" fill="#6e6e8e" fill-opacity="0.41"/>
<ellipse cx="219.5" cy="490.1" rx="1.1" ry="1.1" fill="#7c7c9a" fill-opacity="0.53"/>
<ellipse cx="172.4" cy="537.9" rx="1.3" ry="0.7" transform="rotate(44 172.4 537.9)" fill="#7c7c9a" fill-opacity="0.61"/>
<ellipse cx="171.9" cy="524.2" rx="1.0" ry="0.7" transform="rotate(84 171.9 524.2)" fill="#646486" fill-opacity="0.79"/>
<ellipse cx="248.1" cy="530.1" rx="1.4" ry="1.3" fill="#6e6e8e" fill-opacity="0.41"/>
<ellipse cx="211.3" cy="500.2" rx="1.3" ry="1.3" fill="#8a8aa4" fill-opacity="0.41"/>
<ellipse cx="201.1" cy="528.6" rx="0.9" ry="0.6" transform="rotate(69 201.1 528.6)" fill="#8a8aa4" fill-opacity="0.41"/>
<ellipse cx="177.6" cy="484.4" rx="1.2" ry="1.0" fill="#8a8aa4" fill-opacity="0.68"/>
<ellipse cx="198.7" cy="544.0" rx="1.0" ry="0.8" transform="rotate(125 198.7 544.0)" fill="#8a8aa4" fill-opacity="0.43"/>
<ellipse cx="189.4" cy="502.4" rx="0.8" ry="0.5" transform="rotate(147 189.4 502.4)" fill="#6e6e8e" fill-opacity="0.59"/>
<ellipse cx="157.6" cy="480.2" rx="1.3" ry="0.8" transform="rotate(103 157.6 480.2)" fill="#6e6e8e" fill-opacity="0.66"/>
<ellipse cx="249.7" cy="503.2" rx="1.2" ry="0.9" transform="rotate(53 249.7 503.2)" fill="#8a8aa4" fill-opacity="0.54"/>
<ellipse cx="222.6" cy="493.9" rx="1.1" ry="0.7" transform="rotate(38 222.6 493.9)" fill="#8a8aa4" fill-opacity="0.63"/>
<ellipse cx="205.9" cy="502.3" rx="0.8" ry="0.6" transform="rotate(111 205.9 502.3)" fill="#6e6e8e" fill-opacity="0.79"/>
<ellipse cx="224.4" cy="489.0" rx="1.2" ry="0.9" transform="rotate(96 224.4 489.0)" fill="#646486" fill-opacity="0.43"/>
<ellipse cx="216.2" cy="501.5" rx="0.9" ry="0.6" transform="rotate(29 216.2 501.5)" fill="#646486" fill-opacity="0.49"/>
<ellipse cx="151.1" cy="475.5" rx="1.2" ry="1.1" fill="#8a8aa4" fill-opacity="0.77"/>
<ellipse cx="135.0" cy="477.3" rx="1.3" ry="0.9" transform="rotate(120 135.0 477.3)" fill="#6e6e8e" fill-opacity="0.44"/>
<ellipse cx="169.1" cy="527.5" rx="1.2" ry="1.1" fill="#8a8aa4" fill-opacity="0.48"/>
<ellipse cx="132.6" cy="512.5" rx="1.2" ry="1.1" fill="#8a8aa4" fill-opacity="0.70"/>
<ellipse cx="222.6" cy="507.4" rx="1.3" ry="1.2" fill="#7c7c9a" fill-opacity="0.64"/>
<ellipse cx="160.8" cy="492.1" rx="1.1" ry="0.8" transform="rotate(27 160.8 492.1)" fill="#646486" fill-opacity="0.48"/>
<ellipse cx="149.2" cy="529.4" rx="1.2" ry="0.9" transform="rotate(23 149.2 529.4)" fill="#7c7c9a" fill-opacity="0.52"/>
<ellipse cx="236.3" cy="517.3" rx="1.2" ry="0.7" transform="rotate(69 236.3 517.3)" fill="#8a8aa4" fill-opacity="0.44"/>
<ellipse cx="223.2" cy="538.8" rx="0.8" ry="0.5" transform="rotate(123 223.2 538.8)" fill="#6e6e8e" fill-opacity="0.49"/>
<ellipse cx="222.2" cy="524.1" rx="1.4" ry="1.1" transform="rotate(44 222.2 524.1)" fill="#8a8aa4" fill-opacity="0.69"/>
<ellipse cx="150.9" cy="484.7" rx="1.1" ry="0.6" transform="rotate(153 150.9 484.7)" fill="#8a8aa4" fill-opacity="0.58"/>
<ellipse cx="237.7" cy="532.3" rx="1.4" ry="0.8" transform="rotate(135 237.7 532.3)" fill="#8a8aa4" fill-opacity="0.74"/>
<ellipse cx="143.7" cy="482.8" rx="1.4" ry="0.8" transform="rotate(134 143.7 482.8)" fill="#6e6e8e" fill-opacity="0.68"/>
<ellipse cx="200.7" cy="509.6" rx="1.2" ry="1.1" fill="#646486" fill-opacity="0.65"/>
<ellipse cx="245.1" cy="499.1" rx="1.2" ry="1.1" fill="#6e6e8e" fill-opacity="0.53"/>
<ellipse cx="146.1" cy="523.4" rx="0.9" ry="0.6" transform="rotate(91 146.1 523.4)" fill="#7c7c9a" fill-opacity="0.65"/>
<ellipse cx="136.1" cy="547.8" rx="1.4" ry="1.0" transform="rotate(85 136.1 547.8)" fill="#7c7c9a" fill-opacity="0.46"/>
<ellipse cx="159.7" cy="509.1" rx="1.0" ry="1.0" fill="#7c7c9a" fill-opacity="0.47"/>
<ellipse cx="181.9" cy="541.1" rx="1.1" ry="0.8" transform="rotate(55 181.9 541.1)" fill="#8a8aa4" fill-opacity="0.80"/>
<ellipse cx="135.2" cy="509.2" rx="0.9" ry="0.7" transform="rotate(15 135.2 509.2)" fill="#6e6e8e" fill-opacity="0.79"/>
<ellipse cx="226.0" cy="487.8" rx="1.2" ry="0.9" transform="rotate(124 226.0 487.8)" fill="#6e6e8e" fill-opacity="0.52"/>
<ellipse cx="241.0" cy="547.3" rx="1.0" ry="0.9" fill="#6e6e8e" fill-opacity="0.59"/>
<ellipse cx="188.6" cy="489.0" rx="1.4" ry="0.8" transform="rotate(74 188.6 489.0)" fill="#6e6e8e" fill-opacity="0.64"/>
<ellipse cx="245.2" cy="517.8" rx="1.4" ry="1.0" transform="rotate(154 245.2 517.8)" fill="#646486" fill-opacity="0.71"/>
<ellipse cx="235.1" cy="538.1" rx="0.9" ry="0.8" fill="#7c7c9a" fill-opacity="0.61"/>
<ellipse cx="192.5" cy="517.3" rx="1.1" ry="1.1" fill="#6e6e8e" fill-opacity="0.55"/>
<ellipse cx="184.9" cy="474.5" rx="1.1" ry="0.6" transform="rotate(162 184.9 474.5)" fill="#8a8aa4" fill-opacity="0.68"/>
<ellipse cx="191.2" cy="498.3" rx="0.9" ry="0.8" fill="#7c7c9a" fill-opacity="0.78"/>
<ellipse cx="177.8" cy="524.1" rx="1.3" ry="1.1" fill="#8a8aa4" fill-opacity="0.43"/>
<ellipse cx="202.8" cy="545.4" rx="1.2" ry="1.0" fill="#8a8aa4" fill-opacity="0.72"/>
<ellipse cx="186.1" cy="494.6" rx="1.4" ry="1.2" fill="#8a8aa4" fill-opacity="0.79"/>
<ellipse cx="146.7" cy="514.4" rx="1.4" ry="0.9" transform="rotate(84 146.7 514.4)" fill="#8a8aa4" fill-opacity="0.70"/>
<ellipse cx="151.9" cy="533.9" rx="1.4" ry="1.3" fill="#7c7c9a" fill-opacity="0.66"/>
<ellipse cx="137.1" cy="529.7" rx="1.0" ry="0.9" fill="#7c7c9a" fill-opacity="0.61"/>
<ellipse cx="222.8" cy="545.6" rx="1.2" ry="0.8" transform="rotate(145 222.8 545.6)" fill="#7c7c9a" fill-opacity="0.58"/>
<ellipse cx="178.5" cy="520.3" rx="0.8" ry="0.6" transform="rotate(77 178.5 520.3)" fill="#7c7c9a" fill-opacity="0.48"/>
<ellipse cx="224.1" cy="495.8" rx="1.0" ry="0.7" transform="rotate(114 224.1 495.8)" fill="#8a8aa4" fill-opacity="0.40"/>
<ellipse cx="165.7" cy="491.9" rx="1.5" ry="1.2" fill="#7c7c9a" fill-opacity="0.76"/>
<ellipse cx="189.5" cy="533.1" rx="0.9" ry="0.9" fill="#8a8aa4" fill-opacity="0.44"/>
<ellipse cx="131.9" cy="496.8" rx="1.2" ry="0.6" transform="rotate(62 131.9 496.8)" fill="#7c7c9a" fill-opacity="0.41"/>
<ellipse cx="249.7" cy="474.0" rx="1.0" ry="0.9" fill="#646486" fill-opacity="0.65"/>
<ellipse cx="199.3" cy="511.8" rx="0.9" ry="0.5" transform="rotate(73 199.3 511.8)" fill="#7c7c9a" fill-opacity="0.62"/>
<ellipse cx="214.5" cy="475.9" rx="0.9" ry="0.7" transform="rotate(10 214.5 475.9)" fill="#646486" fill-opacity="0.42"/>
<ellipse cx="172.6" cy="508.1" rx="1.4" ry="1.3" fill="#6e6e8e" fill-opacity="0.54"/>
<ellipse cx="170.6" cy="480.8" rx="1.3" ry="0.8" transform="rotate(131 170.6 480.8)" fill="#646486" fill-opacity="0.63"/>
<ellipse cx="134.5" cy="523.0" rx="0.8" ry="0.4" transform="rotate(46 134.5 523.0)" fill="#8a8aa4" fill-opacity="0.75"/>
<ellipse cx="164.2" cy="495.3" rx="1.3" ry="0.7" transform="rotate(155 164.2 495.3)" fill="#8a8aa4" fill-opacity="0.68"/>
<ellipse cx="133.8" cy="528.2" rx="1.1" ry="0.9" transform="rotate(71 133.8 528.2)" fill="#6e6e8e" fill-opacity="0.64"/>
<ellipse cx="137.6" cy="490.0" rx="1.0" ry="0.9" fill="#7c7c9a" fill-opacity="0.45"/>
<ellipse cx="131.6" cy="540.6" rx="1.3" ry="0.8" transform="rotate(88 131.6 540.6)" fill="#7c7c9a" fill-opacity="0.46"/>
<ellipse cx="138.4" cy="532.4" rx="1.3" ry="0.9" transform="rotate(160 138.4 532.4)" fill="#646486" fill-opacity="0.65"/>
<ellipse cx="134.4" cy="493.2" rx="1.4" ry="1.2" fill="#8a8aa4" fill-opacity="0.77"/>
<ellipse cx="241.3" cy="545.2" rx="1.4" ry="0.8" transform="rotate(95 241.3 545.2)" fill="#646486" fill-opacity="0.50"/>
<ellipse cx="246.4" cy="547.3" rx="0.8" ry="0.7" fill="#8a8aa4" fill-opacity="0.45"/>
<ellipse cx="168.2" cy="515.0" rx="0.9" ry="0.5" transform="rotate(32 168.2 515.0)" fill="#646486" fill-opacity="0.51"/>
<ellipse cx="212.0" cy="474.6" rx="1.0" ry="1.0" fill="#7c7c9a" fill-opacity="0.77"/>
<ellipse cx="181.2" cy="494.7" rx="0.9" ry="0.8" fill="#6e6e8e" fill-opacity="0.50"/>
<ellipse cx="168.2" cy="474.5" rx="1.2" ry="0.8" transform="rotate(168 168.2 474.5)" fill="#8a8aa4" fill-opacity="0.64"/>
<ellipse cx="231.9" cy="531.5" rx="0.8" ry="0.8" fill="#7c7c9a" fill-opacity="0.67"/>
<ellipse cx="191.7" cy="491.0" rx="1.0" ry="0.6" transform="rotate(70 191.7 491.0)" fill="#6e6e8e" fill-opacity="0.65"/>
<ellipse cx="154.5" cy="517.3" rx="0.8" ry="0.6" transform="rotate(84 154.5 517.3)" fill="#6e6e8e" fill-opacity="0.49"/>
<ellipse cx="242.2" cy="514.7" rx="1.2" ry="0.8" transform="rotate(45 242.2 514.7)" fill="#8a8aa4" fill-opacity="0.59"/>
<ellipse cx="199.0" cy="527.8" rx="1.3" ry="1.0" transform="rotate(29 199.0 527.8)" fill="#7c7c9a" fill-opacity="0.51"/>
<ellipse cx="155.1" cy="521.3" rx="1.1" ry="0.9" transform="rotate(171 155.1 521.3)" fill="#8a8aa4" fill-opacity="0.43"/>
<ellipse cx="146.6" cy="495.9" rx="1.4" ry="1.4" fill="#6e6e8e" fill-opacity="0.62"/>
<ellipse cx="191.8" cy="507.5" rx="1.3" ry="0.8" transform="rotate(164 191.8 507.5)" fill="#7c7c9a" fill-opacity="0.74"/>
<ellipse cx="150.7" cy="483.1" rx="1.4" ry="0.8" transform="rotate(121 150.7 483.1)" fill="#7c7c9a" fill-opacity="0.71"/>
<ellipse cx="172.7" cy="537.4" rx="1.4" ry="0.8" transform="rotate(31 172.7 537.4)" fill="#6e6e8e" fill-opacity="0.52"/>
<ellipse cx="188.1" cy="509.0" rx="1.1" ry="0.9" fill="#646486" fill-opacity="0.71"/>
<ellipse cx="170.9" cy="507.0" rx="1.4" ry="0.7" transform="rotate(98 170.9 507.0)" fill="#646486" fill-opacity="0.53"/>
<ellipse cx="248.8" cy="504.3" rx="1.0" ry="0.9" fill="#6e6e8e" fill-opacity="0.77"/>
<ellipse cx="194.8" cy="483.3" rx="0.8" ry="0.7" fill="#8a8aa4" fill-opacity="0.56"/>
<ellipse cx="226.8" cy="519.9" rx="1.4" ry="1.2" fill="#646486" fill-opacity="0.51"/>
<ellipse cx="197.5" cy="530.2" rx="0.8" ry="0.6" transform="rotate(148 197.5 530.2)" fill="#7c7c9a" fill-opacity="0.59"/>
<ellipse cx="210.9" cy="530.7" rx="1.3" ry="1.2" fill="#646486" fill-opacity="0.75"/>
<ellipse cx="248.2" cy="489.1" rx="1.3" ry="0.9" transform="rotate(118 248.2 489.1)" fill="#8a8aa4" fill-opacity="0.79"/>
<ellipse cx="246.2" cy="494.8" rx="0.8" ry="0.5" transform="rotate(17 246.2 494.8)" fill="#6e6e8e" fill-opacity="0.70"/>
<ellipse cx="134.1" cy="487.4" rx="1.1" ry="0.7" transform="rotate(74 134.1 487.4)" fill="#8a8aa4" fill-opacity="0.45"/>
<ellipse cx="145.9" cy="476.4" rx="0.8" ry="0.5" transform="rotate(1 145.9 476.4)" fill="#6e6e8e" fill-opacity="0.55"/>
<ellipse cx="163.0" cy="528.2" rx="1.1" ry="0.9" fill="#646486" fill-opacity="0.64"/>
<ellipse cx="159.4" cy="509.6" rx="1.2" ry="0.7" transform="rotate(38 159.4 509.6)" fill="#7c7c9a" fill-opacity="0.53"/>
<ellipse cx="246.7" cy="503.8" rx="0.9" ry="0.9" fill="#6e6e8e" fill-opacity="0.58"/>
<ellipse cx="172.3" cy="525.5" rx="1.0" ry="0.6" transform="rotate(168 172.3 525.5)" fill="#7c7c9a" fill-opacity="0.48"/>
<ellipse cx="171.2" cy="517.7" rx="0.9" ry="0.8" fill="#7c7c9a" fill-opacity="0.78"/>
<ellipse cx="211.8" cy="507.8" rx="1.4" ry="1.2" fill="#6e6e8e" fill-opacity="0.79"/>
<ellipse cx="206.0" cy="484.5" rx="0.8" ry="0.7" fill="#7c7c9a" fill-opacity="0.59"/>
<ellipse cx="240.6" cy="493.6" rx="1.3" ry="1.0" transform="rotate(46 240.6 493.6)" fill="#6e6e8e" fill-opacity="0.48"/>
<ellipse cx="230.4" cy="512.8" rx="1.2" ry="1.0" fill="#6e6e8e" fill-opacity="0.72"/>
<ellipse cx="176.4" cy="533.2" rx="1.1" ry="0.9" fill="#646486" fill-opacity="0.41"/>
<ellipse cx="138.0" cy="511.9" rx="0.9" ry="0.6" transform="rotate(34 138.0 511.9)" fill="#646486" fill-opacity="0.59"/>
<ellipse cx="172.1" cy="511.9" rx="1.4" ry="1.2" fill="#646486" fill-opacity="0.48"/>
<ellipse cx="194.4" cy="490.0" rx="1.2" ry="0.8" transform="rotate(2 194.4 490.0)" fill="#646486" fill-opacity="0.76"/>
<ellipse cx="226.0" cy="531.4" rx="0.8" ry="0.8" fill="#6e6e8e" fill-opacity="0.77"/>
<ellipse cx="148.6" cy="491.5" rx="1.4" ry="1.3" fill="#6e6e8e" fill-opacity="0.61"/>
<ellipse cx="248.7" cy="500.8" rx="1.5" ry="1.2" fill="#6e6e8e" fill-opacity="0.69"/>
<ellipse cx="181.2" cy="527.1" rx="1.5" ry="1.3" fill="#6e6e8e" fill-opacity="0.66"/>
<ellipse cx="238.1" cy="505.6" rx="1.0" ry="0.6" transform="rotate(129 238.1 505.6)" fill="#8a8aa4" fill-opacity="0.54"/>
<ellipse cx="138.6" cy="524.2" rx="1.5" ry="1.3" fill="#6e6e8e" fill-opacity="0.55"/>
</g></g>
<text x="113.20" y="468.00" font-size="5.2" fill="#111">100μm</text>
<path d="M113.7 469.3h13" stroke="#111" stroke-width="0.6"/>
<text x="233.60" y="468.00" font-size="5.2" fill="#111">100μm</text>
<path d="M234.1 469.3h13" stroke="#111" stroke-width="0.6"/>
<text x="113.20" y="544.50" font-size="5.2" fill="#111">100μm</text>
<path d="M113.7 545.8h13" stroke="#111" stroke-width="0.6"/>
<text x="233.60" y="544.50" font-size="5.2" fill="#111">100μm</text>
<path d="M234.1 545.8h13" stroke="#111" stroke-width="0.6"/>
</svg></body></html>
